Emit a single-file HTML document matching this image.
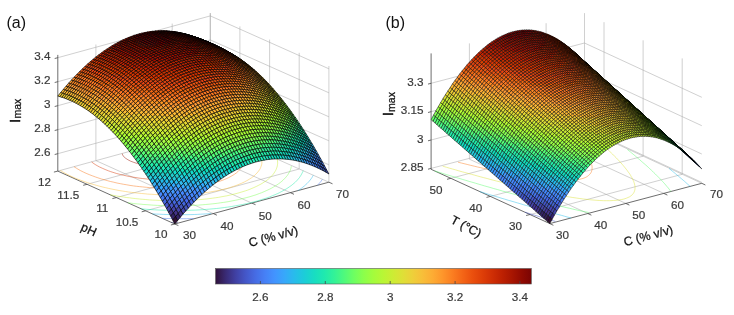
<!DOCTYPE html>
<html><head><meta charset="utf-8"><title>Figure</title><style>
html,body{margin:0;padding:0;background:#fff}
svg{display:block}
text{font-family:"Liberation Sans",sans-serif;fill:#3a3a3a}
.t{font-size:11.7px;stroke:#3a3a3a;stroke-width:.2}
.l{font-size:12.3px;fill:#111;stroke:#111;stroke-width:.25}
.p{font-size:16px;fill:#111}
.g{stroke:#a8a8a8;stroke-width:.55;fill:none}
.ax{stroke:#484848;stroke-width:.8;fill:none}
.c{fill:none;stroke-width:.6;opacity:.8}
.s path{stroke:#000;stroke-width:5;stroke-linejoin:round}
.sa path{stroke-width:6.4}
</style></head><body>
<svg width="734" height="315" viewBox="0 0 734 315">
<rect width="734" height="315" fill="#fff"/>
<path class="g" d="M213.3 213.6L95.9 160.6"/>
<path class="g" d="M95.9 160.6L95.9 44.5"/>
<path class="g" d="M251.8 203.1L134.1 150.2"/>
<path class="g" d="M134.1 150.2L134.1 34"/>
<path class="g" d="M290.4 192.6L172.2 139.8"/>
<path class="g" d="M172.2 139.8L172.2 23.6"/>
<path class="g" d="M328.9 182.2L210.3 129.3"/>
<path class="g" d="M210.3 129.3L210.3 13.1"/>
<path class="g" d="M328.9 182.2L328.9 66"/>
<path class="g" d="M145.6 210.8L299.2 169"/>
<path class="g" d="M299.2 169L299.2 52.8"/>
<path class="g" d="M116.3 197.6L269.6 155.8"/>
<path class="g" d="M269.6 155.8L269.6 39.6"/>
<path class="g" d="M87.1 184.3L239.9 142.5"/>
<path class="g" d="M239.9 142.5L239.9 26.4"/>
<path class="g" d="M57.8 171.1L210.3 129.3"/>
<path class="g" d="M210.3 129.3L210.3 13.1"/>
<path class="g" d="M57.8 153.7L210.3 111.9L328.9 164.8"/>
<path class="g" d="M57.8 129.7L210.3 87.9L328.9 140.8"/>
<path class="g" d="M57.8 105.7L210.3 63.9L328.9 116.8"/>
<path class="g" d="M57.8 81.7L210.3 39.9L328.9 92.8"/>
<path class="g" d="M57.8 57.7L210.3 15.9L328.9 68.8"/>
<path class="ax" d="M57.8 54.9L57.8 171.1L174.8 224L328.9 182.2"/>
<path class="ax" d="M174.8 224l3.6 1.6M213.3 213.6l3.6 1.6M251.9 203.1l3.6 1.6M290.4 192.7l3.6 1.6M328.9 182.2l3.6 1.6M174.8 224l-3.9 1M145.6 210.8l-3.9 1M116.3 197.6l-3.9 1M87.1 184.3l-3.9 1M57.8 171.1l-3.9 1M57.8 153.7l-3.1 0.8M57.8 129.7l-3.1 0.8M57.8 105.7l-3.1 0.8M57.8 81.7l-3.1 0.8M57.8 57.7l-3.1 0.8"/>
<path class="c" stroke="#3c3286" d="M171.1 222.3 175.4 222.4 178 222.4"/>
<path class="c" stroke="#4778f0" d="M317.4 185.3 318.6 184.1 319.8 182.7 320.8 181.6 321.4 180.7 322.4 179.3"/>
<path class="c" stroke="#4778f0" d="M162.2 218.3 166.6 218.5 168.9 218.5 173.2 218.6 176.2 218.7 179.5 218.7 183.6 218.7 186.6 218.7 189.7 218.6 193.6 218.6"/>
<path class="c" stroke="#28bceb" d="M298.1 190.5 299.9 189.4 301.5 188.2 302.9 187.1 304.3 186 305.7 184.7 307.1 183.5 308.3 182.2 309.2 181.2 310 180.2 311.1 178.8 311.9 177.7 312.5 176.6 313.3 175.2"/>
<path class="c" stroke="#28bceb" d="M152.4 213.9 156.7 214.1 159.4 214.2 163.4 214.4 166.1 214.5 170.4 214.6 172.8 214.7 176.8 214.7 180.4 214.7 183.1 214.7 187 214.7 190.9 214.6 194.3 214.5 197.4 214.4 200.5 214.2 204.1 214 207.7 213.8 211.2 213.5"/>
<path class="c" stroke="#22ebaa" d="M141.2 208.8 144.1 209.1 148.1 209.4 151.1 209.6 154.4 209.8 158.1 210 161.1 210.1 164.9 210.2 168 210.3 171.4 210.4 175.4 210.4 178 210.4 181.8 210.4 185.7 210.4 189 210.3 191.9 210.2 195.3 210.1 199 209.9 202.6 209.7 206.2 209.4 209.7 209.1 213.1 208.8 216.5 208.5 220.9 208 224.6 207.5 227.7 207.1 231.7 206.5 235.3 205.8 238.9 205.2 242.6 204.5 246.8 203.6 250.8 202.6 253.8 201.9 256.7 201.1 259.8 200.2 263.4 199 267 197.9 269.7 196.9 272.5 195.7 275 194.7 277.8 193.5 279.8 192.5 281.8 191.4 284.4 190 286.3 188.9 288 187.8 289.6 186.7 291.2 185.6 292.7 184.4 294.1 183.2 295.3 182.2 296.3 181.2 297.4 180 298.5 178.7 299.5 177.5 300.1 176.6 301 175.2 301.6 174.1 302.2 172.9 302.8 171.7 303.2 170.6"/>
<path class="c" stroke="#7dff56" d="M127.9 202.8 130.7 203.1 133.5 203.5 137.3 203.9 141.1 204.2 143.9 204.5 147.1 204.7 151.2 205 153.7 205.2 157.7 205.4 160.6 205.5 164.5 205.6 167.2 205.7 171.5 205.8 174.3 205.8 177.7 205.8 181.7 205.8 185.1 205.7 188 205.6 191.3 205.5 195.1 205.3 198.7 205.1 202.2 204.8 205.7 204.5 209.1 204.2 212.8 203.8 217.3 203.3 220.5 202.8 223.6 202.4 228.1 201.7 231 201.1 235.3 200.3 239.5 199.4 242.2 198.7 246.2 197.7 250 196.7 253.1 195.7 256 194.8 259.4 193.5 261.7 192.7 264.9 191.3 266.9 190.4 269.7 189.1 271.8 188 273.7 186.9 275.4 185.9 277.1 184.8 278.7 183.7 280.3 182.5 281.8 181.3 283.1 180.1 284.4 178.8 285.4 177.8 286.2 176.8 287.3 175.5 288.2 174.2 288.7 173.3 289.5 171.8 290 170.9 290.5 169.5 290.8 168.6 291.2 167 291.3 166.1"/>
<path class="c" stroke="#c8ef34" d="M110.2 194.8 113.7 195.4 116.8 196 120.1 196.5 123.4 197 126.4 197.5 129.3 197.8 132.1 198.2 135.7 198.6 139.5 199 142.8 199.3 145.4 199.5 149.4 199.9 152.7 200.1 155.8 200.2 159.6 200.4 162.5 200.5 166.3 200.6 169.7 200.7 172.6 200.7 176.7 200.7 180.3 200.6 183.2 200.6 186.4 200.4 190.1 200.3 193.8 200.1 197.3 199.8 200.8 199.5 204.2 199.2 208 198.8 212.3 198.2 215.4 197.8 218.7 197.3 223 196.5 226.8 195.8 230 195.1 234.1 194.1 238 193.1 241.7 192 245.3 190.9 247.7 190.1 251 188.8 253.1 187.9 256.2 186.5 258.2 185.5 260.1 184.5 262.1 183.4 264.1 182.1 265.9 181 267.4 179.9 268.7 178.8 269.8 177.8 271.1 176.5 272.4 175.2 273.4 174 274 173.1 274.9 171.7 275.6 170.6 276.1 169.5 276.6 168.2 277 167.1 277.3 165.9 277.5 164.5 277.6 163.6 277.6 162.3 277.5 160.9 277.4 159.8 277.2 158.8"/>
<path class="c" stroke="#f8be39" d="M60.3 170.4 62.7 171.9 65.2 173.3 67.9 174.7 69.7 175.6 72.6 177 75.6 178.3 77.7 179.1 80.9 180.3 84.3 181.6 87.4 182.6 90.1 183.5 93.8 184.6 96.3 185.3 99.2 186.1 103 187.1 105.7 187.7 108.6 188.4 112 189.1 115.6 189.8 119.1 190.5 122.3 191 125.5 191.5 128.6 192 131.6 192.4 134.4 192.7 137.8 193.1 141.6 193.5 145.1 193.8 147.6 194.1 151.6 194.3 154.8 194.5 158.1 194.7 161.6 194.8 165.1 194.9 168.1 194.9 172.2 195 175.4 194.9 178.2 194.9 182 194.7 185.7 194.6 189.3 194.3 192.9 194.1 196.3 193.8 199.6 193.4 203.3 193 207.6 192.4 210.7 191.9 215.1 191.1 218 190.6 222.1 189.6 226.1 188.7 229.9 187.6 233.5 186.4 236.1 185.5 239.1 184.3 241.5 183.3 244.3 182 246.2 181 248 180 249.8 178.9 251.5 177.8 253 176.7 254.5 175.5 255.8 174.2 257.1 172.9 258 171.8 258.7 170.9 259.7 169.5 260.3 168.4 260.8 167.2 261.2 166 261.6 164.8 261.8 163.7 261.9 162.3 261.9 161.2 261.9 160.2 261.7 158.8 261.4 157.5 260.9 156.2 260.4 155 259.8 153.8 259.1 152.5 258.3 151.3 257.4 150.1"/>
<path class="c" stroke="#f9781e" d="M74 166.7 76.4 168.2 78 169.2 80.5 170.6 83.3 172 86.1 173.3 89.2 174.6 92.3 175.8 95.6 177 97.9 177.8 101.5 179 104 179.7 107.9 180.8 110.5 181.5 113.3 182.1 116.9 183 120.5 183.7 123.6 184.3 126.8 184.8 130 185.4 133.4 185.9 136.6 186.3 139.4 186.6 142.4 186.9 146.3 187.3 149.7 187.6 152.4 187.8 156.7 188 159.1 188.1 163.4 188.2 166.2 188.2 169.7 188.2 173.6 188.2 177.3 188 180.5 187.9 183.9 187.7 187.6 187.4 191.6 187 194.8 186.6 198 186.2 202.5 185.4 205.4 184.9 209.6 184 213.6 183 217.4 181.9 221 180.8 224.2 179.6 226.5 178.6 228.5 177.7 231.2 176.2 233.1 175.1 234.8 174 236.4 172.9 237.8 171.7 238.8 170.7 239.7 169.7 240.8 168.4 241.7 167.1 242.1 166.2 242.8 164.6 243.1 163.8 243.4 162.4 243.6 161.3 243.6 160.2 243.5 158.8 243.2 157.5 242.9 156.3 242.4 155.2 241.8 154 241.1 152.7 240.2 151.4 239.2 150.1 238.2 149 237.1 147.9 235.5 146.5 233.9 145.2 232.6 144.1 230.4 142.6 228.5 141.4 226.3 140.2 223.7 138.8 221 137.4 218 136.1 215 134.8 211.7 133.6 208.7 132.5 206 131.6"/>
<path class="c" stroke="#d83706" d="M91.6 161.9 93 163 95.2 164.5 97.4 165.8 99.4 166.9 102.2 168.2 105.2 169.5 108.4 170.8 110.6 171.6 114.1 172.7 116.6 173.5 120.5 174.5 123.3 175.2 126.1 175.8 129.3 176.5 132.8 177.1 136 177.6 139 178.1 142.3 178.5 146.1 178.9 149.7 179.2 152.1 179.4 156.4 179.6 159 179.7 163.2 179.8 166.4 179.7 169.2 179.7 173 179.5 176.6 179.3 180 179 183.5 178.6 188 178 191 177.5 195.2 176.6 199.2 175.6 202.8 174.4 206.2 173.2 208.3 172.3 210.3 171.3 212.6 170 214.3 168.8 215.7 167.8 216.8 166.8 217.9 165.5 218.9 164.1 219.4 163.2 220 161.8 220.2 160.9 220.4 159.4 220.4 158.2 220.2 157.2 219.9 156 219.4 154.8 218.7 153.5 217.9 152.3 216.9 151.1 215.4 149.5 214.2 148.4 212.9 147.4 210.7 145.8 208.6 144.5 206.6 143.4 203.9 142 201 140.7 197.9 139.5 195.2 138.5 192.2 137.5 188.5 136.3"/>
<path class="c" stroke="#980e01" d="M122.3 153.6 122.6 154.9 123.4 156.1 124.4 157.3 125.7 158.3 128 159.8 130.7 161.2 133.9 162.4 137.6 163.6 140.4 164.2 143.4 164.8 146.7 165.3 150.4 165.7 153.2 165.9 157.1 166 159.7 166 163.3 165.8 167 165.5 171.1 164.7 175 163.7 178.1 162.5 180 161.3 181.4 160.1 182.2 159.2 182.8 157.9 183 156.9 182.8 155.5 182.2 154.3 181.3 153.1 180.2 152 178 150.5 175.4 149.1 172.3 147.8 168.8 146.6 166.2 145.9 162.9 145.2 159.6 144.7 156.6 144.3"/>
<g class="s sa" transform="scale(.1)"><path fill="#f82" d="M2112 448l28 16-21-6-27-16z"/><path fill="#f72" d="M2085 433l27 15-20-6-27-15z"/><path fill="#f72" d="M2058 419l27 14-20-6-27-14z"/><path fill="#e61" d="M2031 405l27 14-20-6-27-13z"/><path fill="#e51" d="M2004 393l27 12-20-5-27-13z"/><path fill="#e51" d="M1977 382l27 11-20-6-27-11z"/><path fill="#d41" d="M1950 371l27 11-20-6-27-11z"/><path fill="#d40" d="M1923 361l27 10-20-6-27-9z"/><path fill="#d30" d="M1896 353l27 8-20-5-27-9z"/><path fill="#c30" d="M1869 345l27 8-20-6-27-8z"/><path fill="#c20" d="M1842 338l27 7-20-6-27-7z"/><path fill="#b20" d="M1815 332l27 6-20-6-27-6z"/><path fill="#b20" d="M1788 326l27 6-20-6-27-5z"/><path fill="#b20" d="M1761 322l27 4-20-5-27-5z"/><path fill="#a10" d="M1734 318l27 4-20-6-28-3z"/><path fill="#a10" d="M1707 316l27 2-21-5-27-3z"/><path fill="#a10" d="M1680 314l27 2-21-6-27-2z"/><path fill="#910" d="M1653 313l27 1-21-6-27-1z"/><path fill="#910" d="M1626 313l27 0-21-6-27 0z"/><path fill="#910" d="M1599 314l27-1-21-6-27 1z"/><path fill="#910" d="M1572 316l27-2-21-6-27 2z"/><path fill="#810" d="M1545 318l27-2-21-6-27 3z"/><path fill="#810" d="M1518 322l27-4-21-5-27 3z"/><path fill="#810" d="M1491 326l27-4-21-6-27 5z"/><path fill="#800" d="M1464 332l27-6-21-5-27 5z"/><path fill="#800" d="M1437 338l27-6-21-6-27 6z"/><path fill="#800" d="M1410 345l27-7-21-6-27 7z"/><path fill="#800" d="M1383 353l27-8-21-6-27 8z"/><path fill="#800" d="M1356 362l27-9-21-6-27 9z"/><path fill="#810" d="M1328 371l28-9-21-6-27 10z"/><path fill="#810" d="M1301 382l27-11-20-5-27 10z"/><path fill="#910" d="M1274 394l27-12-20-6-27 12z"/><path fill="#910" d="M1247 406l27-12-20-6-27 12z"/><path fill="#910" d="M1220 419l27-13-20-6-27 13z"/><path fill="#910" d="M1193 433l27-14-20-6-27 14z"/><path fill="#910" d="M1166 448l27-15-20-6-27 15z"/><path fill="#a10" d="M1139 464l27-16-20-6-27 16z"/><path fill="#a10" d="M1112 481l27-17-20-6-27 17z"/><path fill="#a20" d="M1085 498l27-17-20-6-27 18z"/><path fill="#b20" d="M1058 517l27-19-20-5-27 18z"/><path fill="#b20" d="M1031 536l27-19-20-6-27 20z"/><path fill="#c20" d="M1004 557l27-21-20-5-27 20z"/><path fill="#c30" d="M977 578l27-21-20-6-28 21z"/><path fill="#c30" d="M950 600l27-22-21-6-27 22z"/><path fill="#d30" d="M923 623l27-23-21-6-27 23z"/><path fill="#d40" d="M896 647l27-24-21-6-27 24z"/><path fill="#d41" d="M869 671l27-24-21-6-27 25z"/><path fill="#e51" d="M842 697l27-26-21-5-27 25z"/><path fill="#e51" d="M815 723l27-26-21-6-27 27z"/><path fill="#e61" d="M788 751l27-28-21-5-27 27z"/><path fill="#f72" d="M761 779l27-28-21-6-27 28z"/><path fill="#f82" d="M734 808l27-29-21-6-27 29z"/><path fill="#f92" d="M707 838l27-30-21-6-27 30z"/><path fill="#f93" d="M680 869l27-31-21-6-27 31z"/><path fill="#fa3" d="M653 901l27-32-21-6-27 32z"/><path fill="#fb3" d="M626 933l27-32-21-6-27 32z"/><path fill="#ec3" d="M599 967l27-34-21-6-27 34z"/><path fill="#f82" d="M2133 454l27 16-20-6-28-16z"/><path fill="#f72" d="M2106 439l27 15-21-6-27-15z"/><path fill="#f72" d="M2079 425l27 14-21-6-27-14z"/><path fill="#e61" d="M2052 412l27 13-21-6-27-14z"/><path fill="#e51" d="M2025 400l27 12-21-7-27-12z"/><path fill="#e41" d="M1998 388l27 12-21-7-27-11z"/><path fill="#d41" d="M1971 377l27 11-21-6-27-11z"/><path fill="#d30" d="M1944 368l27 9-21-6-27-10z"/><path fill="#d30" d="M1917 359l27 9-21-7-27-8z"/><path fill="#c30" d="M1890 351l27 8-21-6-27-8z"/><path fill="#c20" d="M1863 344l27 7-21-6-27-7z"/><path fill="#b20" d="M1836 338l27 6-21-6-27-6z"/><path fill="#b20" d="M1809 333l27 5-21-6-27-6z"/><path fill="#b20" d="M1782 328l27 5-21-7-27-4z"/><path fill="#a10" d="M1755 325l27 3-21-6-27-4z"/><path fill="#a10" d="M1727 322l28 3-21-7-27-2z"/><path fill="#a10" d="M1700 320l27 2-20-6-27-2z"/><path fill="#910" d="M1673 319l27 1-20-6-27-1z"/><path fill="#910" d="M1646 319l27 0-20-6-27 0z"/><path fill="#910" d="M1619 320l27-1-20-6-27 1z"/><path fill="#910" d="M1592 322l27-2-20-6-27 2z"/><path fill="#810" d="M1565 325l27-3-20-6-27 2z"/><path fill="#810" d="M1538 328l27-3-20-7-27 4z"/><path fill="#800" d="M1511 333l27-5-20-6-27 4z"/><path fill="#800" d="M1484 338l27-5-20-7-27 6z"/><path fill="#800" d="M1457 344l27-6-20-6-27 6z"/><path fill="#800" d="M1430 351l27-7-20-6-27 7z"/><path fill="#800" d="M1403 359l27-8-20-6-27 8z"/><path fill="#800" d="M1376 368l27-9-20-6-27 9z"/><path fill="#800" d="M1349 378l27-10-20-6-28 9z"/><path fill="#810" d="M1322 388l27-10-21-7-27 11z"/><path fill="#810" d="M1295 400l27-12-21-6-27 12z"/><path fill="#910" d="M1268 412l27-12-21-6-27 12z"/><path fill="#910" d="M1241 425l27-13-21-6-27 13z"/><path fill="#910" d="M1214 440l27-15-21-6-27 14z"/><path fill="#910" d="M1187 455l27-15-21-7-27 15z"/><path fill="#a10" d="M1160 470l27-15-21-7-27 16z"/><path fill="#a10" d="M1133 487l27-17-21-6-27 17z"/><path fill="#a20" d="M1106 505l27-18-21-6-27 17z"/><path fill="#b20" d="M1079 523l27-18-21-7-27 19z"/><path fill="#b20" d="M1052 543l27-20-21-6-27 19z"/><path fill="#c20" d="M1025 563l27-20-21-7-27 21z"/><path fill="#c30" d="M998 584l27-21-21-6-27 21z"/><path fill="#c30" d="M971 606l27-22-21-6-27 22z"/><path fill="#d30" d="M943 629l28-23-21-6-27 23z"/><path fill="#d40" d="M916 653l27-24-20-6-27 24z"/><path fill="#d41" d="M889 678l27-25-20-6-27 24z"/><path fill="#e51" d="M862 703l27-25-20-7-27 26z"/><path fill="#e51" d="M835 730l27-27-20-6-27 26z"/><path fill="#e61" d="M808 757l27-27-20-7-27 28z"/><path fill="#f72" d="M781 785l27-28-20-6-27 28z"/><path fill="#f82" d="M754 814l27-29-20-6-27 29z"/><path fill="#f82" d="M727 844l27-30-20-6-27 30z"/><path fill="#f93" d="M700 875l27-31-20-6-27 31z"/><path fill="#fa3" d="M673 907l27-32-20-6-27 32z"/><path fill="#fb3" d="M646 940l27-33-20-6-27 32z"/><path fill="#ec3" d="M619 973l27-33-20-7-27 34z"/><path fill="#f82" d="M2154 461l27 16-21-7-27-16z"/><path fill="#f72" d="M2127 446l27 15-21-7-27-15z"/><path fill="#e61" d="M2099 432l28 14-21-7-27-14z"/><path fill="#e61" d="M2072 419l27 13-20-7-27-13z"/><path fill="#e51" d="M2045 406l27 13-20-7-27-12z"/><path fill="#e41" d="M2018 395l27 11-20-6-27-12z"/><path fill="#d41" d="M1991 384l27 11-20-7-27-11z"/><path fill="#d30" d="M1964 375l27 9-20-7-27-9z"/><path fill="#c30" d="M1937 366l27 9-20-7-27-9z"/><path fill="#c30" d="M1910 358l27 8-20-7-27-8z"/><path fill="#c20" d="M1883 351l27 7-20-7-27-7z"/><path fill="#b20" d="M1856 345l27 6-20-7-27-6z"/><path fill="#b20" d="M1829 340l27 5-20-7-27-5z"/><path fill="#b20" d="M1802 335l27 5-20-7-27-5z"/><path fill="#a10" d="M1775 332l27 3-20-7-27-3z"/><path fill="#a10" d="M1748 329l27 3-20-7-28-3z"/><path fill="#910" d="M1721 327l27 2-21-7-27-2z"/><path fill="#910" d="M1694 326l27 1-21-7-27-1z"/><path fill="#910" d="M1667 326l27 0-21-7-27 0z"/><path fill="#910" d="M1640 327l27-1-21-7-27 1z"/><path fill="#810" d="M1613 329l27-2-21-7-27 2z"/><path fill="#810" d="M1586 332l27-3-21-7-27 3z"/><path fill="#800" d="M1559 335l27-3-21-7-27 3z"/><path fill="#800" d="M1532 340l27-5-21-7-27 5z"/><path fill="#800" d="M1505 345l27-5-21-7-27 5z"/><path fill="#800" d="M1478 351l27-6-21-7-27 6z"/><path fill="#800" d="M1451 358l27-7-21-7-27 7z"/><path fill="#800" d="M1424 366l27-8-21-7-27 8z"/><path fill="#800" d="M1397 375l27-9-21-7-27 9z"/><path fill="#800" d="M1370 385l27-10-21-7-27 10z"/><path fill="#810" d="M1342 395l28-10-21-7-27 10z"/><path fill="#810" d="M1315 407l27-12-20-7-27 12z"/><path fill="#910" d="M1288 419l27-12-20-7-27 12z"/><path fill="#910" d="M1261 432l27-13-20-7-27 13z"/><path fill="#910" d="M1234 446l27-14-20-7-27 15z"/><path fill="#910" d="M1207 461l27-15-20-6-27 15z"/><path fill="#a10" d="M1180 477l27-16-20-6-27 15z"/><path fill="#a10" d="M1153 494l27-17-20-7-27 17z"/><path fill="#a10" d="M1126 512l27-18-20-7-27 18z"/><path fill="#b20" d="M1099 530l27-18-20-7-27 18z"/><path fill="#b20" d="M1072 550l27-20-20-7-27 20z"/><path fill="#b20" d="M1045 570l27-20-20-7-27 20z"/><path fill="#c20" d="M1018 591l27-21-20-7-27 21z"/><path fill="#c30" d="M991 613l27-22-20-7-27 22z"/><path fill="#d30" d="M964 636l27-23-20-7-28 23z"/><path fill="#d40" d="M937 660l27-24-21-7-27 24z"/><path fill="#d41" d="M910 685l27-25-21-7-27 25z"/><path fill="#e51" d="M883 710l27-25-21-7-27 25z"/><path fill="#e51" d="M856 737l27-27-21-7-27 27z"/><path fill="#e61" d="M829 764l27-27-21-7-27 27z"/><path fill="#f72" d="M802 792l27-28-21-7-27 28z"/><path fill="#f82" d="M775 821l27-29-21-7-27 29z"/><path fill="#f82" d="M748 851l27-30-21-7-27 30z"/><path fill="#f93" d="M721 882l27-31-21-7-27 31z"/><path fill="#fa3" d="M694 914l27-32-21-7-27 32z"/><path fill="#fb3" d="M667 946l27-32-21-7-27 33z"/><path fill="#ec3" d="M640 980l27-34-21-6-27 33z"/><path fill="#f82" d="M2174 469l27 15-20-7-27-16z"/><path fill="#f72" d="M2147 454l27 15-20-8-27-15z"/><path fill="#e61" d="M2120 440l27 14-20-8-28-14z"/><path fill="#e51" d="M2093 426l27 14-21-8-27-13z"/><path fill="#e51" d="M2066 414l27 12-21-7-27-13z"/><path fill="#e41" d="M2039 403l27 11-21-8-27-11z"/><path fill="#d41" d="M2012 392l27 11-21-8-27-11z"/><path fill="#d30" d="M1985 382l27 10-21-8-27-9z"/><path fill="#c30" d="M1958 374l27 8-21-7-27-9z"/><path fill="#c30" d="M1931 366l27 8-21-8-27-8z"/><path fill="#c20" d="M1904 359l27 7-21-8-27-7z"/><path fill="#b20" d="M1877 352l27 7-21-8-27-6z"/><path fill="#b20" d="M1850 347l27 5-21-7-27-5z"/><path fill="#a20" d="M1823 343l27 4-21-7-27-5z"/><path fill="#a10" d="M1796 339l27 4-21-8-27-3z"/><path fill="#a10" d="M1769 337l27 2-21-7-27-3z"/><path fill="#910" d="M1742 335l27 2-21-8-27-2z"/><path fill="#910" d="M1714 334l28 1-21-8-27-1z"/><path fill="#910" d="M1687 334l27 0-20-8-27 0z"/><path fill="#910" d="M1660 335l27-1-20-8-27 1z"/><path fill="#810" d="M1633 337l27-2-20-8-27 2z"/><path fill="#810" d="M1606 339l27-2-20-8-27 3z"/><path fill="#800" d="M1579 343l27-4-20-7-27 3z"/><path fill="#800" d="M1552 347l27-4-20-8-27 5z"/><path fill="#800" d="M1525 353l27-6-20-7-27 5z"/><path fill="#800" d="M1498 359l27-6-20-8-27 6z"/><path fill="#800" d="M1471 366l27-7-20-8-27 7z"/><path fill="#800" d="M1444 374l27-8-20-8-27 8z"/><path fill="#800" d="M1417 383l27-9-20-8-27 9z"/><path fill="#800" d="M1390 392l27-9-20-8-27 10z"/><path fill="#800" d="M1363 403l27-11-20-7-28 10z"/><path fill="#810" d="M1336 414l27-11-21-8-27 12z"/><path fill="#810" d="M1309 427l27-13-21-7-27 12z"/><path fill="#910" d="M1282 440l27-13-21-8-27 13z"/><path fill="#910" d="M1255 454l27-14-21-8-27 14z"/><path fill="#910" d="M1228 469l27-15-21-8-27 15z"/><path fill="#910" d="M1201 485l27-16-21-8-27 16z"/><path fill="#a10" d="M1174 502l27-17-21-8-27 17z"/><path fill="#a10" d="M1147 519l27-17-21-8-27 18z"/><path fill="#b20" d="M1120 538l27-19-21-7-27 18z"/><path fill="#b20" d="M1093 557l27-19-21-8-27 20z"/><path fill="#b20" d="M1066 577l27-20-21-7-27 20z"/><path fill="#c20" d="M1039 599l27-22-21-7-27 21z"/><path fill="#c30" d="M1012 621l27-22-21-8-27 22z"/><path fill="#d30" d="M985 644l27-23-21-8-27 23z"/><path fill="#d40" d="M957 667l28-23-21-8-27 24z"/><path fill="#d41" d="M930 692l27-25-20-7-27 25z"/><path fill="#e51" d="M903 718l27-26-20-7-27 25z"/><path fill="#e51" d="M876 744l27-26-20-8-27 27z"/><path fill="#e61" d="M849 771l27-27-20-7-27 27z"/><path fill="#f72" d="M822 800l27-29-20-7-27 28z"/><path fill="#f72" d="M795 829l27-29-20-8-27 29z"/><path fill="#f82" d="M768 859l27-30-20-8-27 30z"/><path fill="#f93" d="M741 890l27-31-20-8-27 31z"/><path fill="#fa3" d="M714 921l27-31-20-8-27 32z"/><path fill="#fb3" d="M687 954l27-33-20-7-27 32z"/><path fill="#ec3" d="M660 987l27-33-20-8-27 34z"/><path fill="#f82" d="M2195 477l27 16-21-9-27-15z"/><path fill="#f72" d="M2168 462l27 15-21-8-27-15z"/><path fill="#e61" d="M2141 448l27 14-21-8-27-14z"/><path fill="#e51" d="M2113 434l28 14-21-8-27-14z"/><path fill="#e51" d="M2086 422l27 12-20-8-27-12z"/><path fill="#e41" d="M2059 411l27 11-20-8-27-11z"/><path fill="#d41" d="M2032 400l27 11-20-8-27-11z"/><path fill="#d30" d="M2005 390l27 10-20-8-27-10z"/><path fill="#c30" d="M1978 382l27 8-20-8-27-8z"/><path fill="#c30" d="M1951 374l27 8-20-8-27-8z"/><path fill="#c20" d="M1924 367l27 7-20-8-27-7z"/><path fill="#b20" d="M1897 361l27 6-20-8-27-7z"/><path fill="#b20" d="M1870 355l27 6-20-9-27-5z"/><path fill="#a20" d="M1843 351l27 4-20-8-27-4z"/><path fill="#a10" d="M1816 347l27 4-20-8-27-4z"/><path fill="#a10" d="M1789 345l27 2-20-8-27-2z"/><path fill="#910" d="M1762 343l27 2-20-8-27-2z"/><path fill="#910" d="M1735 342l27 1-20-8-28-1z"/><path fill="#910" d="M1708 342l27 0-21-8-27 0z"/><path fill="#910" d="M1681 343l27-1-21-8-27 1z"/><path fill="#810" d="M1654 345l27-2-21-8-27 2z"/><path fill="#800" d="M1627 347l27-2-21-8-27 2z"/><path fill="#800" d="M1600 351l27-4-21-8-27 4z"/><path fill="#800" d="M1573 355l27-4-21-8-27 4z"/><path fill="#800" d="M1546 361l27-6-21-8-27 6z"/><path fill="#800" d="M1519 367l27-6-21-8-27 6z"/><path fill="#800" d="M1492 374l27-7-21-8-27 7z"/><path fill="#800" d="M1465 382l27-8-21-8-27 8z"/><path fill="#800" d="M1438 391l27-9-21-8-27 9z"/><path fill="#800" d="M1411 400l27-9-21-8-27 9z"/><path fill="#800" d="M1384 411l27-11-21-8-27 11z"/><path fill="#810" d="M1357 422l27-11-21-8-27 11z"/><path fill="#810" d="M1329 435l28-13-21-8-27 13z"/><path fill="#910" d="M1302 448l27-13-20-8-27 13z"/><path fill="#910" d="M1275 462l27-14-20-8-27 14z"/><path fill="#910" d="M1248 477l27-15-20-8-27 15z"/><path fill="#910" d="M1221 493l27-16-20-8-27 16z"/><path fill="#a10" d="M1194 510l27-17-20-8-27 17z"/><path fill="#a10" d="M1167 527l27-17-20-8-27 17z"/><path fill="#b20" d="M1140 546l27-19-20-8-27 19z"/><path fill="#b20" d="M1113 565l27-19-20-8-27 19z"/><path fill="#b20" d="M1086 586l27-21-20-8-27 20z"/><path fill="#c20" d="M1059 607l27-21-20-9-27 22z"/><path fill="#c30" d="M1032 629l27-22-20-8-27 22z"/><path fill="#d30" d="M1005 652l27-23-20-8-27 23z"/><path fill="#d40" d="M978 675l27-23-20-8-28 23z"/><path fill="#d41" d="M951 700l27-25-21-8-27 25z"/><path fill="#e41" d="M924 726l27-26-21-8-27 26z"/><path fill="#e51" d="M897 752l27-26-21-8-27 26z"/><path fill="#e61" d="M870 780l27-28-21-8-27 27z"/><path fill="#f72" d="M843 808l27-28-21-9-27 29z"/><path fill="#f72" d="M816 837l27-29-21-8-27 29z"/><path fill="#f82" d="M789 867l27-30-21-8-27 30z"/><path fill="#f93" d="M762 898l27-31-21-8-27 31z"/><path fill="#fa3" d="M735 929l27-31-21-8-27 31z"/><path fill="#fb3" d="M708 962l27-33-21-8-27 33z"/><path fill="#ec3" d="M681 996l27-34-21-8-27 33z"/><path fill="#f82" d="M2215 486l27 15-20-8-27-16z"/><path fill="#f72" d="M2188 471l27 15-20-9-27-15z"/><path fill="#e61" d="M2161 456l27 15-20-9-27-14z"/><path fill="#e51" d="M2134 443l27 13-20-8-28-14z"/><path fill="#e51" d="M2107 431l27 12-21-9-27-12z"/><path fill="#e41" d="M2080 419l27 12-21-9-27-11z"/><path fill="#d41" d="M2053 409l27 10-21-8-27-11z"/><path fill="#d30" d="M2026 399l27 10-21-9-27-10z"/><path fill="#c30" d="M1999 390l27 9-21-9-27-8z"/><path fill="#c30" d="M1972 382l27 8-21-8-27-8z"/><path fill="#c20" d="M1945 375l27 7-21-8-27-7z"/><path fill="#b20" d="M1918 369l27 6-21-8-27-6z"/><path fill="#b20" d="M1891 364l27 5-21-8-27-6z"/><path fill="#a20" d="M1864 360l27 4-21-9-27-4z"/><path fill="#a10" d="M1837 356l27 4-21-9-27-4z"/><path fill="#a10" d="M1810 353l27 3-21-9-27-2z"/><path fill="#910" d="M1783 352l27 1-21-8-27-2z"/><path fill="#910" d="M1756 351l27 1-21-9-27-1z"/><path fill="#910" d="M1728 351l28 0-21-9-27 0z"/><path fill="#910" d="M1701 352l27-1-20-9-27 1z"/><path fill="#810" d="M1674 354l27-2-20-9-27 2z"/><path fill="#800" d="M1647 356l27-2-20-9-27 2z"/><path fill="#800" d="M1620 360l27-4-20-9-27 4z"/><path fill="#800" d="M1593 364l27-4-20-9-27 4z"/><path fill="#800" d="M1566 369l27-5-20-9-27 6z"/><path fill="#800" d="M1539 376l27-7-20-8-27 6z"/><path fill="#800" d="M1512 383l27-7-20-9-27 7z"/><path fill="#800" d="M1485 391l27-8-20-9-27 8z"/><path fill="#800" d="M1458 399l27-8-20-9-27 9z"/><path fill="#800" d="M1431 409l27-10-20-8-27 9z"/><path fill="#800" d="M1404 420l27-11-20-9-27 11z"/><path fill="#810" d="M1377 431l27-11-20-9-27 11z"/><path fill="#810" d="M1350 444l27-13-20-9-28 13z"/><path fill="#910" d="M1323 457l27-13-21-9-27 13z"/><path fill="#910" d="M1296 471l27-14-21-9-27 14z"/><path fill="#910" d="M1269 486l27-15-21-9-27 15z"/><path fill="#910" d="M1242 502l27-16-21-9-27 16z"/><path fill="#a10" d="M1215 518l27-16-21-9-27 17z"/><path fill="#a10" d="M1188 536l27-18-21-8-27 17z"/><path fill="#b20" d="M1161 555l27-19-21-9-27 19z"/><path fill="#b20" d="M1134 574l27-19-21-9-27 19z"/><path fill="#b20" d="M1107 594l27-20-21-9-27 21z"/><path fill="#c20" d="M1080 615l27-21-21-8-27 21z"/><path fill="#c30" d="M1053 637l27-22-21-8-27 22z"/><path fill="#d30" d="M1026 660l27-23-21-8-27 23z"/><path fill="#d30" d="M999 684l27-24-21-8-27 23z"/><path fill="#d41" d="M972 709l27-25-21-9-27 25z"/><path fill="#e41" d="M944 734l28-25-21-9-27 26z"/><path fill="#e51" d="M917 761l27-27-20-8-27 26z"/><path fill="#e61" d="M890 788l27-27-20-9-27 28z"/><path fill="#f72" d="M863 816l27-28-20-8-27 28z"/><path fill="#f72" d="M836 846l27-30-20-8-27 29z"/><path fill="#f82" d="M809 876l27-30-20-9-27 30z"/><path fill="#f93" d="M782 906l27-30-20-9-27 31z"/><path fill="#fa3" d="M755 938l27-32-20-8-27 31z"/><path fill="#fb3" d="M728 971l27-33-20-9-27 33z"/><path fill="#ec3" d="M701 1004l27-33-20-9-27 34z"/><path fill="#f82" d="M2236 495l27 16-21-10-27-15z"/><path fill="#f72" d="M2209 480l27 15-21-9-27-15z"/><path fill="#e61" d="M2182 466l27 14-21-9-27-15z"/><path fill="#e51" d="M2155 453l27 13-21-10-27-13z"/><path fill="#e51" d="M2128 440l27 13-21-10-27-12z"/><path fill="#e41" d="M2100 429l28 11-21-9-27-12z"/><path fill="#d41" d="M2073 418l27 11-20-10-27-10z"/><path fill="#d30" d="M2046 409l27 9-20-9-27-10z"/><path fill="#c30" d="M2019 400l27 9-20-10-27-9z"/><path fill="#c30" d="M1992 392l27 8-20-10-27-8z"/><path fill="#c20" d="M1965 385l27 7-20-10-27-7z"/><path fill="#b20" d="M1938 379l27 6-20-10-27-6z"/><path fill="#b20" d="M1911 373l27 6-20-10-27-5z"/><path fill="#a20" d="M1884 369l27 4-20-9-27-4z"/><path fill="#a10" d="M1857 365l27 4-20-9-27-4z"/><path fill="#a10" d="M1830 363l27 2-20-9-27-3z"/><path fill="#910" d="M1803 361l27 2-20-10-27-1z"/><path fill="#910" d="M1776 360l27 1-20-9-27-1z"/><path fill="#910" d="M1749 360l27 0-20-9-28 0z"/><path fill="#910" d="M1722 361l27-1-21-9-27 1z"/><path fill="#810" d="M1695 363l27-2-21-9-27 2z"/><path fill="#800" d="M1668 365l27-2-21-9-27 2z"/><path fill="#800" d="M1641 369l27-4-21-9-27 4z"/><path fill="#800" d="M1614 373l27-4-21-9-27 4z"/><path fill="#800" d="M1587 379l27-6-21-9-27 5z"/><path fill="#800" d="M1560 385l27-6-21-10-27 7z"/><path fill="#800" d="M1533 392l27-7-21-9-27 7z"/><path fill="#800" d="M1506 400l27-8-21-9-27 8z"/><path fill="#800" d="M1479 409l27-9-21-9-27 8z"/><path fill="#800" d="M1452 418l27-9-21-10-27 10z"/><path fill="#800" d="M1425 429l27-11-21-9-27 11z"/><path fill="#810" d="M1398 440l27-11-21-9-27 11z"/><path fill="#810" d="M1371 453l27-13-21-9-27 13z"/><path fill="#910" d="M1343 466l28-13-21-9-27 13z"/><path fill="#910" d="M1316 480l27-14-20-9-27 14z"/><path fill="#910" d="M1289 495l27-15-20-9-27 15z"/><path fill="#910" d="M1262 511l27-16-20-9-27 16z"/><path fill="#a10" d="M1235 528l27-17-20-9-27 16z"/><path fill="#a10" d="M1208 545l27-17-20-10-27 18z"/><path fill="#b20" d="M1181 564l27-19-20-9-27 19z"/><path fill="#b20" d="M1154 583l27-19-20-9-27 19z"/><path fill="#b20" d="M1127 604l27-21-20-9-27 20z"/><path fill="#c20" d="M1100 625l27-21-20-10-27 21z"/><path fill="#c30" d="M1073 647l27-22-20-10-27 22z"/><path fill="#d30" d="M1046 670l27-23-20-10-27 23z"/><path fill="#d30" d="M1019 694l27-24-20-10-27 24z"/><path fill="#d41" d="M992 718l27-24-20-10-27 25z"/><path fill="#e41" d="M965 744l27-26-20-9-28 25z"/><path fill="#e51" d="M938 770l27-26-21-10-27 27z"/><path fill="#e61" d="M911 798l27-28-21-9-27 27z"/><path fill="#f72" d="M884 826l27-28-21-10-27 28z"/><path fill="#f72" d="M857 855l27-29-21-10-27 30z"/><path fill="#f82" d="M830 885l27-30-21-9-27 30z"/><path fill="#f93" d="M803 916l27-31-21-9-27 30z"/><path fill="#fa3" d="M776 947l27-31-21-10-27 32z"/><path fill="#fb3" d="M749 980l27-33-21-9-27 33z"/><path fill="#ec3" d="M722 1013l27-33-21-9-27 33z"/><path fill="#f82" d="M2256 505l27 16-20-10-27-16z"/><path fill="#f72" d="M2229 490l27 15-20-10-27-15z"/><path fill="#e61" d="M2202 476l27 14-20-10-27-14z"/><path fill="#e51" d="M2175 463l27 13-20-10-27-13z"/><path fill="#e51" d="M2148 450l27 13-20-10-27-13z"/><path fill="#e41" d="M2121 439l27 11-20-10-28-11z"/><path fill="#d41" d="M2094 428l27 11-21-10-27-11z"/><path fill="#d30" d="M2067 419l27 9-21-10-27-9z"/><path fill="#c30" d="M2040 410l27 9-21-10-27-9z"/><path fill="#c30" d="M2013 402l27 8-21-10-27-8z"/><path fill="#c20" d="M1986 395l27 7-21-10-27-7z"/><path fill="#b20" d="M1959 389l27 6-21-10-27-6z"/><path fill="#b20" d="M1932 383l27 6-21-10-27-6z"/><path fill="#a20" d="M1905 379l27 4-21-10-27-4z"/><path fill="#a10" d="M1878 375l27 4-21-10-27-4z"/><path fill="#a10" d="M1851 373l27 2-21-10-27-2z"/><path fill="#910" d="M1824 371l27 2-21-10-27-2z"/><path fill="#910" d="M1797 370l27 1-21-10-27-1z"/><path fill="#910" d="M1770 370l27 0-21-10-27 0z"/><path fill="#910" d="M1743 371l27-1-21-10-27 1z"/><path fill="#810" d="M1715 373l28-2-21-10-27 2z"/><path fill="#800" d="M1688 375l27-2-20-10-27 2z"/><path fill="#800" d="M1661 379l27-4-20-10-27 4z"/><path fill="#800" d="M1634 383l27-4-20-10-27 4z"/><path fill="#800" d="M1607 389l27-6-20-10-27 6z"/><path fill="#800" d="M1580 395l27-6-20-10-27 6z"/><path fill="#800" d="M1553 402l27-7-20-10-27 7z"/><path fill="#800" d="M1526 410l27-8-20-10-27 8z"/><path fill="#800" d="M1499 419l27-9-20-10-27 9z"/><path fill="#800" d="M1472 428l27-9-20-10-27 9z"/><path fill="#800" d="M1445 439l27-11-20-10-27 11z"/><path fill="#810" d="M1418 450l27-11-20-10-27 11z"/><path fill="#810" d="M1391 463l27-13-20-10-27 13z"/><path fill="#910" d="M1364 476l27-13-20-10-28 13z"/><path fill="#910" d="M1337 490l27-14-21-10-27 14z"/><path fill="#910" d="M1310 505l27-15-21-10-27 15z"/><path fill="#910" d="M1283 521l27-16-21-10-27 16z"/><path fill="#a10" d="M1256 538l27-17-21-10-27 17z"/><path fill="#a10" d="M1229 555l27-17-21-10-27 17z"/><path fill="#b20" d="M1202 574l27-19-21-10-27 19z"/><path fill="#b20" d="M1175 593l27-19-21-10-27 19z"/><path fill="#b20" d="M1148 613l27-20-21-10-27 21z"/><path fill="#c20" d="M1121 635l27-22-21-9-27 21z"/><path fill="#c30" d="M1094 657l27-22-21-10-27 22z"/><path fill="#d30" d="M1067 680l27-23-21-10-27 23z"/><path fill="#d40" d="M1040 703l27-23-21-10-27 24z"/><path fill="#d41" d="M1013 728l27-25-21-9-27 24z"/><path fill="#e41" d="M986 754l27-26-21-10-27 26z"/><path fill="#e51" d="M958 780l28-26-21-10-27 26z"/><path fill="#e61" d="M931 807l27-27-20-10-27 28z"/><path fill="#f72" d="M904 836l27-29-20-9-27 28z"/><path fill="#f72" d="M877 865l27-29-20-10-27 29z"/><path fill="#f82" d="M850 895l27-30-20-10-27 30z"/><path fill="#f93" d="M823 926l27-31-20-10-27 31z"/><path fill="#fa3" d="M796 957l27-31-20-10-27 31z"/><path fill="#fb3" d="M769 990l27-33-20-10-27 33z"/><path fill="#ec3" d="M742 1023l27-33-20-10-27 33z"/><path fill="#f82" d="M2277 515l27 16-21-10-27-16z"/><path fill="#f72" d="M2250 500l27 15-21-10-27-15z"/><path fill="#e61" d="M2223 486l27 14-21-10-27-14z"/><path fill="#e51" d="M2196 473l27 13-21-10-27-13z"/><path fill="#e51" d="M2169 461l27 12-21-10-27-13z"/><path fill="#e41" d="M2142 449l27 12-21-11-27-11z"/><path fill="#d41" d="M2114 439l28 10-21-10-27-11z"/><path fill="#d30" d="M2087 429l27 10-20-11-27-9z"/><path fill="#c30" d="M2060 420l27 9-20-10-27-9z"/><path fill="#c30" d="M2033 412l27 8-20-10-27-8z"/><path fill="#c20" d="M2006 405l27 7-20-10-27-7z"/><path fill="#b20" d="M1979 399l27 6-20-10-27-6z"/><path fill="#b20" d="M1952 394l27 5-20-10-27-6z"/><path fill="#a20" d="M1925 389l27 5-20-11-27-4z"/><path fill="#a10" d="M1898 386l27 3-20-10-27-4z"/><path fill="#a10" d="M1871 383l27 3-20-11-27-2z"/><path fill="#910" d="M1844 382l27 1-20-10-27-2z"/><path fill="#910" d="M1817 381l27 1-20-11-27-1z"/><path fill="#910" d="M1790 381l27 0-20-11-27 0z"/><path fill="#910" d="M1763 382l27-1-20-11-27 1z"/><path fill="#810" d="M1736 383l27-1-20-11-28 2z"/><path fill="#810" d="M1709 386l27-3-21-10-27 2z"/><path fill="#800" d="M1682 389l27-3-21-11-27 4z"/><path fill="#800" d="M1655 394l27-5-21-10-27 4z"/><path fill="#800" d="M1628 399l27-5-21-11-27 6z"/><path fill="#800" d="M1601 405l27-6-21-10-27 6z"/><path fill="#800" d="M1574 412l27-7-21-10-27 7z"/><path fill="#800" d="M1547 420l27-8-21-10-27 8z"/><path fill="#800" d="M1520 429l27-9-21-10-27 9z"/><path fill="#800" d="M1493 439l27-10-21-10-27 9z"/><path fill="#800" d="M1466 449l27-10-21-11-27 11z"/><path fill="#810" d="M1439 461l27-12-21-10-27 11z"/><path fill="#810" d="M1412 473l27-12-21-11-27 13z"/><path fill="#910" d="M1385 486l27-13-21-10-27 13z"/><path fill="#910" d="M1358 501l27-15-21-10-27 14z"/><path fill="#910" d="M1330 516l28-15-21-11-27 15z"/><path fill="#910" d="M1303 531l27-15-20-11-27 16z"/><path fill="#a10" d="M1276 548l27-17-20-10-27 17z"/><path fill="#a10" d="M1249 566l27-18-20-10-27 17z"/><path fill="#b20" d="M1222 584l27-18-20-11-27 19z"/><path fill="#b20" d="M1195 604l27-20-20-10-27 19z"/><path fill="#b20" d="M1168 624l27-20-20-11-27 20z"/><path fill="#c20" d="M1141 645l27-21-20-11-27 22z"/><path fill="#c30" d="M1114 667l27-22-20-10-27 22z"/><path fill="#d30" d="M1087 690l27-23-20-10-27 23z"/><path fill="#d40" d="M1060 714l27-24-20-10-27 23z"/><path fill="#d41" d="M1033 739l27-25-20-11-27 25z"/><path fill="#e51" d="M1006 764l27-25-20-11-27 26z"/><path fill="#e51" d="M979 791l27-27-20-10-28 26z"/><path fill="#e61" d="M952 818l27-27-21-11-27 27z"/><path fill="#f72" d="M925 846l27-28-21-11-27 29z"/><path fill="#f72" d="M898 875l27-29-21-10-27 29z"/><path fill="#f82" d="M871 905l27-30-21-10-27 30z"/><path fill="#f93" d="M844 936l27-31-21-10-27 31z"/><path fill="#fa3" d="M817 968l27-32-21-10-27 31z"/><path fill="#fb3" d="M790 1000l27-32-21-11-27 33z"/><path fill="#ec3" d="M763 1034l27-34-21-10-27 33z"/><path fill="#f82" d="M2297 527l27 15-20-11-27-16z"/><path fill="#f72" d="M2270 512l27 15-20-12-27-15z"/><path fill="#e61" d="M2243 497l27 15-20-12-27-14z"/><path fill="#e61" d="M2216 484l27 13-20-11-27-13z"/><path fill="#e51" d="M2189 472l27 12-20-11-27-12z"/><path fill="#e41" d="M2162 460l27 12-20-11-27-12z"/><path fill="#d41" d="M2135 450l27 10-20-11-28-10z"/><path fill="#d30" d="M2108 440l27 10-21-11-27-10z"/><path fill="#c30" d="M2081 431l27 9-21-11-27-9z"/><path fill="#c30" d="M2054 423l27 8-21-11-27-8z"/><path fill="#c20" d="M2027 416l27 7-21-11-27-7z"/><path fill="#b20" d="M2000 410l27 6-21-11-27-6z"/><path fill="#b20" d="M1973 405l27 5-21-11-27-5z"/><path fill="#b20" d="M1946 401l27 4-21-11-27-5z"/><path fill="#a10" d="M1919 397l27 4-21-12-27-3z"/><path fill="#a10" d="M1892 394l27 3-21-11-27-3z"/><path fill="#910" d="M1865 393l27 1-21-11-27-1z"/><path fill="#910" d="M1838 392l27 1-21-11-27-1z"/><path fill="#910" d="M1811 392l27 0-21-11-27 0z"/><path fill="#910" d="M1784 393l27-1-21-11-27 1z"/><path fill="#810" d="M1757 394l27-1-21-11-27 1z"/><path fill="#810" d="M1729 397l28-3-21-11-27 3z"/><path fill="#800" d="M1702 401l27-4-20-11-27 3z"/><path fill="#800" d="M1675 405l27-4-20-12-27 5z"/><path fill="#800" d="M1648 410l27-5-20-11-27 5z"/><path fill="#800" d="M1621 416l27-6-20-11-27 6z"/><path fill="#800" d="M1594 424l27-8-20-11-27 7z"/><path fill="#800" d="M1567 431l27-7-20-12-27 8z"/><path fill="#800" d="M1540 440l27-9-20-11-27 9z"/><path fill="#800" d="M1513 450l27-10-20-11-27 10z"/><path fill="#810" d="M1486 461l27-11-20-11-27 10z"/><path fill="#810" d="M1459 472l27-11-20-12-27 12z"/><path fill="#910" d="M1432 484l27-12-20-11-27 12z"/><path fill="#910" d="M1405 498l27-14-20-11-27 13z"/><path fill="#910" d="M1378 512l27-14-20-12-27 15z"/><path fill="#910" d="M1351 527l27-15-20-11-28 15z"/><path fill="#a10" d="M1324 543l27-16-21-11-27 15z"/><path fill="#a10" d="M1297 559l27-16-21-12-27 17z"/><path fill="#a10" d="M1270 577l27-18-21-11-27 18z"/><path fill="#b20" d="M1243 595l27-18-21-11-27 18z"/><path fill="#b20" d="M1216 615l27-20-21-11-27 20z"/><path fill="#b20" d="M1189 635l27-20-21-11-27 20z"/><path fill="#c20" d="M1162 656l27-21-21-11-27 21z"/><path fill="#c30" d="M1135 678l27-22-21-11-27 22z"/><path fill="#d30" d="M1108 701l27-23-21-11-27 23z"/><path fill="#d40" d="M1081 725l27-24-21-11-27 24z"/><path fill="#d41" d="M1054 750l27-25-21-11-27 25z"/><path fill="#e51" d="M1027 775l27-25-21-11-27 25z"/><path fill="#e51" d="M1000 802l27-27-21-11-27 27z"/><path fill="#e61" d="M973 829l27-27-21-11-27 27z"/><path fill="#f72" d="M945 857l28-28-21-11-27 28z"/><path fill="#f82" d="M918 886l27-29-20-11-27 29z"/><path fill="#f82" d="M891 916l27-30-20-11-27 30z"/><path fill="#f93" d="M864 947l27-31-20-11-27 31z"/><path fill="#fa3" d="M837 979l27-32-20-11-27 32z"/><path fill="#fb3" d="M810 1011l27-32-20-11-27 32z"/><path fill="#ec3" d="M783 1045l27-34-20-11-27 34z"/><path fill="#f82" d="M2318 538l27 16-21-12-27-15z"/><path fill="#f72" d="M2291 523l27 15-21-11-27-15z"/><path fill="#f72" d="M2264 509l27 14-21-11-27-15z"/><path fill="#e61" d="M2237 496l27 13-21-12-27-13z"/><path fill="#e51" d="M2210 484l27 12-21-12-27-12z"/><path fill="#e41" d="M2183 472l27 12-21-12-27-12z"/><path fill="#d41" d="M2156 462l27 10-21-12-27-10z"/><path fill="#d30" d="M2129 452l27 10-21-12-27-10z"/><path fill="#d30" d="M2101 443l28 9-21-12-27-9z"/><path fill="#c30" d="M2074 435l27 8-20-12-27-8z"/><path fill="#c20" d="M2047 428l27 7-20-12-27-7z"/><path fill="#b20" d="M2020 422l27 6-20-12-27-6z"/><path fill="#b20" d="M1993 417l27 5-20-12-27-5z"/><path fill="#b20" d="M1966 412l27 5-20-12-27-4z"/><path fill="#a10" d="M1939 409l27 3-20-11-27-4z"/><path fill="#a10" d="M1912 406l27 3-20-12-27-3z"/><path fill="#a10" d="M1885 404l27 2-20-12-27-1z"/><path fill="#910" d="M1858 403l27 1-20-11-27-1z"/><path fill="#910" d="M1831 403l27 0-20-11-27 0z"/><path fill="#910" d="M1804 404l27-1-20-11-27 1z"/><path fill="#910" d="M1777 406l27-2-20-11-27 1z"/><path fill="#810" d="M1750 409l27-3-20-12-28 3z"/><path fill="#810" d="M1723 412l27-3-21-12-27 4z"/><path fill="#800" d="M1696 417l27-5-21-11-27 4z"/><path fill="#800" d="M1669 422l27-5-21-12-27 5z"/><path fill="#800" d="M1642 428l27-6-21-12-27 6z"/><path fill="#800" d="M1615 435l27-7-21-12-27 8z"/><path fill="#800" d="M1588 443l27-8-21-11-27 7z"/><path fill="#800" d="M1561 452l27-9-21-12-27 9z"/><path fill="#800" d="M1534 462l27-10-21-12-27 10z"/><path fill="#810" d="M1507 472l27-10-21-12-27 11z"/><path fill="#810" d="M1480 484l27-12-21-11-27 11z"/><path fill="#910" d="M1453 496l27-12-21-12-27 12z"/><path fill="#910" d="M1426 509l27-13-21-12-27 14z"/><path fill="#910" d="M1399 523l27-14-21-11-27 14z"/><path fill="#910" d="M1372 538l27-15-21-11-27 15z"/><path fill="#a10" d="M1344 554l28-16-21-11-27 16z"/><path fill="#a10" d="M1317 571l27-17-20-11-27 16z"/><path fill="#a20" d="M1290 589l27-18-20-12-27 18z"/><path fill="#b20" d="M1263 607l27-18-20-12-27 18z"/><path fill="#b20" d="M1236 627l27-20-20-12-27 20z"/><path fill="#c20" d="M1209 647l27-20-20-12-27 20z"/><path fill="#c30" d="M1182 668l27-21-20-12-27 21z"/><path fill="#c30" d="M1155 690l27-22-20-12-27 22z"/><path fill="#d30" d="M1128 713l27-23-20-12-27 23z"/><path fill="#d40" d="M1101 737l27-24-20-12-27 24z"/><path fill="#d41" d="M1074 761l27-24-20-12-27 25z"/><path fill="#e51" d="M1047 787l27-26-20-11-27 25z"/><path fill="#e51" d="M1020 813l27-26-20-12-27 27z"/><path fill="#e61" d="M993 841l27-28-20-11-27 27z"/><path fill="#f72" d="M966 869l27-28-20-12-28 28z"/><path fill="#f82" d="M939 898l27-29-21-12-27 29z"/><path fill="#f82" d="M912 928l27-30-21-12-27 30z"/><path fill="#f93" d="M885 959l27-31-21-12-27 31z"/><path fill="#fa3" d="M858 991l27-32-21-12-27 32z"/><path fill="#fb3" d="M831 1023l27-32-21-12-27 32z"/><path fill="#ec3" d="M804 1057l27-34-21-12-27 34z"/><path fill="#f82" d="M2338 551l27 15-20-12-27-16z"/><path fill="#f72" d="M2311 536l27 15-20-13-27-15z"/><path fill="#f72" d="M2284 522l27 14-20-13-27-14z"/><path fill="#e61" d="M2257 508l27 14-20-13-27-13z"/><path fill="#e51" d="M2230 496l27 12-20-12-27-12z"/><path fill="#e51" d="M2203 485l27 11-20-12-27-12z"/><path fill="#d41" d="M2176 474l27 11-20-13-27-10z"/><path fill="#d40" d="M2149 464l27 10-20-12-27-10z"/><path fill="#d30" d="M2122 455l27 9-20-12-28-9z"/><path fill="#c30" d="M2095 448l27 7-21-12-27-8z"/><path fill="#c20" d="M2068 440l27 8-21-13-27-7z"/><path fill="#b20" d="M2041 434l27 6-21-12-27-6z"/><path fill="#b20" d="M2014 429l27 5-21-12-27-5z"/><path fill="#b20" d="M1987 425l27 4-21-12-27-5z"/><path fill="#a20" d="M1960 421l27 4-21-13-27-3z"/><path fill="#a10" d="M1933 418l27 3-21-12-27-3z"/><path fill="#a10" d="M1906 417l27 1-21-12-27-2z"/><path fill="#910" d="M1879 416l27 1-21-13-27-1z"/><path fill="#910" d="M1852 416l27 0-21-13-27 0z"/><path fill="#910" d="M1825 417l27-1-21-13-27 1z"/><path fill="#910" d="M1798 418l27-1-21-13-27 2z"/><path fill="#810" d="M1771 421l27-3-21-12-27 3z"/><path fill="#810" d="M1744 425l27-4-21-12-27 3z"/><path fill="#810" d="M1716 429l28-4-21-13-27 5z"/><path fill="#800" d="M1689 434l27-5-20-12-27 5z"/><path fill="#800" d="M1662 441l27-7-20-12-27 6z"/><path fill="#800" d="M1635 448l27-7-20-13-27 7z"/><path fill="#800" d="M1608 455l27-7-20-13-27 8z"/><path fill="#810" d="M1581 464l27-9-20-12-27 9z"/><path fill="#810" d="M1554 474l27-10-20-12-27 10z"/><path fill="#810" d="M1527 485l27-11-20-12-27 10z"/><path fill="#910" d="M1500 496l27-11-20-13-27 12z"/><path fill="#910" d="M1473 508l27-12-20-12-27 12z"/><path fill="#910" d="M1446 522l27-14-20-12-27 13z"/><path fill="#910" d="M1419 536l27-14-20-13-27 14z"/><path fill="#910" d="M1392 551l27-15-20-13-27 15z"/><path fill="#a10" d="M1365 567l27-16-20-13-28 16z"/><path fill="#a10" d="M1338 583l27-16-21-13-27 17z"/><path fill="#a20" d="M1311 601l27-18-21-12-27 18z"/><path fill="#b20" d="M1284 619l27-18-21-12-27 18z"/><path fill="#b20" d="M1257 639l27-20-21-12-27 20z"/><path fill="#c20" d="M1230 659l27-20-21-12-27 20z"/><path fill="#c30" d="M1203 680l27-21-21-12-27 21z"/><path fill="#c30" d="M1176 702l27-22-21-12-27 22z"/><path fill="#d30" d="M1149 725l27-23-21-12-27 23z"/><path fill="#d40" d="M1122 749l27-24-21-12-27 24z"/><path fill="#d41" d="M1095 774l27-25-21-12-27 24z"/><path fill="#e51" d="M1068 799l27-25-21-13-27 26z"/><path fill="#e51" d="M1041 826l27-27-21-12-27 26z"/><path fill="#e61" d="M1014 853l27-27-21-13-27 28z"/><path fill="#f72" d="M987 881l27-28-21-12-27 28z"/><path fill="#f82" d="M959 910l28-29-21-12-27 29z"/><path fill="#f92" d="M932 940l27-30-20-12-27 30z"/><path fill="#f93" d="M905 971l27-31-20-12-27 31z"/><path fill="#fa3" d="M878 1003l27-32-20-12-27 32z"/><path fill="#fb3" d="M851 1035l27-32-20-12-27 32z"/><path fill="#ec3" d="M824 1069l27-34-20-12-27 34z"/><path fill="#f82" d="M2359 564l27 15-21-13-27-15z"/><path fill="#f82" d="M2332 549l27 15-21-13-27-15z"/><path fill="#f72" d="M2305 534l27 15-21-13-27-14z"/><path fill="#e61" d="M2278 521l27 13-21-12-27-14z"/><path fill="#e51" d="M2251 509l27 12-21-13-27-12z"/><path fill="#e51" d="M2224 497l27 12-21-13-27-11z"/><path fill="#d41" d="M2197 487l27 10-21-12-27-11z"/><path fill="#d40" d="M2170 477l27 10-21-13-27-10z"/><path fill="#d30" d="M2143 468l27 9-21-13-27-9z"/><path fill="#c30" d="M2115 460l28 8-21-13-27-7z"/><path fill="#c30" d="M2088 453l27 7-20-12-27-8z"/><path fill="#c20" d="M2061 447l27 6-20-13-27-6z"/><path fill="#b20" d="M2034 442l27 5-20-13-27-5z"/><path fill="#b20" d="M2007 438l27 4-20-13-27-4z"/><path fill="#a20" d="M1980 434l27 4-20-13-27-4z"/><path fill="#a10" d="M1953 431l27 3-20-13-27-3z"/><path fill="#a10" d="M1926 430l27 1-20-13-27-1z"/><path fill="#910" d="M1899 429l27 1-20-13-27-1z"/><path fill="#910" d="M1872 429l27 0-20-13-27 0z"/><path fill="#910" d="M1845 430l27-1-20-13-27 1z"/><path fill="#910" d="M1818 431l27-1-20-13-27 1z"/><path fill="#910" d="M1791 434l27-3-20-13-27 3z"/><path fill="#810" d="M1764 438l27-4-20-13-27 4z"/><path fill="#810" d="M1737 442l27-4-20-13-28 4z"/><path fill="#810" d="M1710 447l27-5-21-13-27 5z"/><path fill="#810" d="M1683 453l27-6-21-13-27 7z"/><path fill="#810" d="M1656 460l27-7-21-12-27 7z"/><path fill="#810" d="M1629 468l27-8-21-12-27 7z"/><path fill="#810" d="M1602 477l27-9-21-13-27 9z"/><path fill="#810" d="M1575 487l27-10-21-13-27 10z"/><path fill="#910" d="M1548 497l27-10-21-13-27 11z"/><path fill="#910" d="M1521 509l27-12-21-12-27 11z"/><path fill="#910" d="M1494 521l27-12-21-13-27 12z"/><path fill="#910" d="M1467 535l27-14-21-13-27 14z"/><path fill="#910" d="M1440 549l27-14-21-13-27 14z"/><path fill="#a10" d="M1413 564l27-15-21-13-27 15z"/><path fill="#a10" d="M1386 579l27-15-21-13-27 16z"/><path fill="#a10" d="M1359 596l27-17-21-12-27 16z"/><path fill="#b20" d="M1331 614l28-18-21-13-27 18z"/><path fill="#b20" d="M1304 632l27-18-20-13-27 18z"/><path fill="#b20" d="M1277 652l27-20-20-13-27 20z"/><path fill="#c20" d="M1250 672l27-20-20-13-27 20z"/><path fill="#c30" d="M1223 693l27-21-20-13-27 21z"/><path fill="#c30" d="M1196 715l27-22-20-13-27 22z"/><path fill="#d30" d="M1169 738l27-23-20-13-27 23z"/><path fill="#d41" d="M1142 762l27-24-20-13-27 24z"/><path fill="#e41" d="M1115 787l27-25-20-13-27 25z"/><path fill="#e51" d="M1088 812l27-25-20-13-27 25z"/><path fill="#e51" d="M1061 839l27-27-20-13-27 27z"/><path fill="#e61" d="M1034 866l27-27-20-13-27 27z"/><path fill="#f72" d="M1007 894l27-28-20-13-27 28z"/><path fill="#f82" d="M980 923l27-29-20-13-28 29z"/><path fill="#f93" d="M953 953l27-30-21-13-27 30z"/><path fill="#fa3" d="M926 984l27-31-21-13-27 31z"/><path fill="#fa3" d="M899 1016l27-32-21-13-27 32z"/><path fill="#fb3" d="M872 1048l27-32-21-13-27 32z"/><path fill="#ec3" d="M845 1082l27-34-21-13-27 34z"/><path fill="#f92" d="M2379 577l27 16-20-14-27-15z"/><path fill="#f82" d="M2352 562l27 15-20-13-27-15z"/><path fill="#f72" d="M2325 548l27 14-20-13-27-15z"/><path fill="#e61" d="M2298 535l27 13-20-14-27-13z"/><path fill="#e51" d="M2271 522l27 13-20-14-27-12z"/><path fill="#e51" d="M2244 511l27 11-20-13-27-12z"/><path fill="#e41" d="M2217 500l27 11-20-14-27-10z"/><path fill="#d41" d="M2190 491l27 9-20-13-27-10z"/><path fill="#d30" d="M2163 482l27 9-20-14-27-9z"/><path fill="#c30" d="M2136 474l27 8-20-14-28-8z"/><path fill="#c30" d="M2109 467l27 7-21-14-27-7z"/><path fill="#c20" d="M2082 461l27 6-21-14-27-6z"/><path fill="#b20" d="M2055 455l27 6-21-14-27-5z"/><path fill="#b20" d="M2028 451l27 4-21-13-27-4z"/><path fill="#b20" d="M2001 448l27 3-21-13-27-4z"/><path fill="#a10" d="M1974 445l27 3-21-14-27-3z"/><path fill="#a10" d="M1947 443l27 2-21-14-27-1z"/><path fill="#a10" d="M1920 442l27 1-21-13-27-1z"/><path fill="#910" d="M1893 442l27 0-21-13-27 0z"/><path fill="#910" d="M1866 443l27-1-21-13-27 1z"/><path fill="#910" d="M1839 445l27-2-21-13-27 1z"/><path fill="#910" d="M1812 448l27-3-21-14-27 3z"/><path fill="#910" d="M1785 451l27-3-21-14-27 4z"/><path fill="#910" d="M1758 455l27-4-21-13-27 4z"/><path fill="#810" d="M1730 461l28-6-21-13-27 5z"/><path fill="#810" d="M1703 467l27-6-20-14-27 6z"/><path fill="#810" d="M1676 474l27-7-20-14-27 7z"/><path fill="#810" d="M1649 482l27-8-20-14-27 8z"/><path fill="#810" d="M1622 491l27-9-20-14-27 9z"/><path fill="#910" d="M1595 500l27-9-20-14-27 10z"/><path fill="#910" d="M1568 511l27-11-20-13-27 10z"/><path fill="#910" d="M1541 522l27-11-20-14-27 12z"/><path fill="#910" d="M1514 535l27-13-20-13-27 12z"/><path fill="#910" d="M1487 548l27-13-20-14-27 14z"/><path fill="#910" d="M1460 562l27-14-20-13-27 14z"/><path fill="#a10" d="M1433 577l27-15-20-13-27 15z"/><path fill="#a10" d="M1406 593l27-16-20-13-27 15z"/><path fill="#a20" d="M1379 610l27-17-20-14-27 17z"/><path fill="#b20" d="M1352 627l27-17-20-14-28 18z"/><path fill="#b20" d="M1325 646l27-19-21-13-27 18z"/><path fill="#b20" d="M1298 665l27-19-21-14-27 20z"/><path fill="#c20" d="M1271 685l27-20-21-13-27 20z"/><path fill="#c30" d="M1244 707l27-22-21-13-27 21z"/><path fill="#d30" d="M1217 729l27-22-21-14-27 22z"/><path fill="#d40" d="M1190 752l27-23-21-14-27 23z"/><path fill="#d41" d="M1163 775l27-23-21-14-27 24z"/><path fill="#e41" d="M1136 800l27-25-21-13-27 25z"/><path fill="#e51" d="M1109 826l27-26-21-13-27 25z"/><path fill="#e61" d="M1082 852l27-26-21-14-27 27z"/><path fill="#e61" d="M1055 879l27-27-21-13-27 27z"/><path fill="#f72" d="M1028 908l27-29-21-13-27 28z"/><path fill="#f82" d="M1001 937l27-29-21-14-27 29z"/><path fill="#f93" d="M974 967l27-30-21-14-27 30z"/><path fill="#fa3" d="M946 997l28-30-21-14-27 31z"/><path fill="#fb3" d="M919 1029l27-32-20-13-27 32z"/><path fill="#fb3" d="M892 1062l27-33-20-13-27 32z"/><path fill="#ec3" d="M865 1095l27-33-20-14-27 34z"/><path fill="#f93" d="M2400 591l27 16-21-14-27-16z"/><path fill="#f82" d="M2373 576l27 15-21-14-27-15z"/><path fill="#f72" d="M2346 562l27 14-21-14-27-14z"/><path fill="#e61" d="M2319 549l27 13-21-14-27-13z"/><path fill="#e61" d="M2292 537l27 12-21-14-27-13z"/><path fill="#e51" d="M2265 525l27 12-21-15-27-11z"/><path fill="#e41" d="M2238 515l27 10-21-14-27-11z"/><path fill="#d41" d="M2211 505l27 10-21-15-27-9z"/><path fill="#d30" d="M2184 496l27 9-21-14-27-9z"/><path fill="#d30" d="M2157 488l27 8-21-14-27-8z"/><path fill="#c30" d="M2130 481l27 7-21-14-27-7z"/><path fill="#c20" d="M2102 475l28 6-21-14-27-6z"/><path fill="#b20" d="M2075 470l27 5-20-14-27-6z"/><path fill="#b20" d="M2048 465l27 5-20-15-27-4z"/><path fill="#b20" d="M2021 462l27 3-20-14-27-3z"/><path fill="#a20" d="M1994 459l27 3-20-14-27-3z"/><path fill="#a10" d="M1967 457l27 2-20-14-27-2z"/><path fill="#a10" d="M1940 456l27 1-20-14-27-1z"/><path fill="#a10" d="M1913 456l27 0-20-14-27 0z"/><path fill="#910" d="M1886 457l27-1-20-14-27 1z"/><path fill="#910" d="M1859 459l27-2-20-14-27 2z"/><path fill="#910" d="M1832 462l27-3-20-14-27 3z"/><path fill="#910" d="M1805 465l27-3-20-14-27 3z"/><path fill="#910" d="M1778 470l27-5-20-14-27 4z"/><path fill="#910" d="M1751 475l27-5-20-15-28 6z"/><path fill="#910" d="M1724 481l27-6-21-14-27 6z"/><path fill="#910" d="M1697 488l27-7-21-14-27 7z"/><path fill="#910" d="M1670 496l27-8-21-14-27 8z"/><path fill="#910" d="M1643 505l27-9-21-14-27 9z"/><path fill="#910" d="M1616 515l27-10-21-14-27 9z"/><path fill="#910" d="M1589 525l27-10-21-15-27 11z"/><path fill="#910" d="M1562 537l27-12-21-14-27 11z"/><path fill="#910" d="M1535 549l27-12-21-15-27 13z"/><path fill="#910" d="M1508 562l27-13-21-14-27 13z"/><path fill="#a10" d="M1481 576l27-14-21-14-27 14z"/><path fill="#a10" d="M1454 591l27-15-21-14-27 15z"/><path fill="#a10" d="M1427 607l27-16-21-14-27 16z"/><path fill="#b20" d="M1400 624l27-17-21-14-27 17z"/><path fill="#b20" d="M1373 641l27-17-21-14-27 17z"/><path fill="#b20" d="M1345 660l28-19-21-14-27 19z"/><path fill="#c20" d="M1318 679l27-19-20-14-27 19z"/><path fill="#c30" d="M1291 700l27-21-20-14-27 20z"/><path fill="#c30" d="M1264 721l27-21-20-15-27 22z"/><path fill="#d30" d="M1237 743l27-22-20-14-27 22z"/><path fill="#d40" d="M1210 766l27-23-20-14-27 23z"/><path fill="#d41" d="M1183 789l27-23-20-14-27 23z"/><path fill="#e51" d="M1156 814l27-25-20-14-27 25z"/><path fill="#e51" d="M1129 840l27-26-20-14-27 26z"/><path fill="#e61" d="M1102 866l27-26-20-14-27 26z"/><path fill="#f72" d="M1075 893l27-27-20-14-27 27z"/><path fill="#f72" d="M1048 922l27-29-20-14-27 29z"/><path fill="#f82" d="M1021 951l27-29-20-14-27 29z"/><path fill="#f93" d="M994 981l27-30-20-14-27 30z"/><path fill="#fa3" d="M967 1012l27-31-20-14-28 30z"/><path fill="#fb3" d="M940 1043l27-31-21-15-27 32z"/><path fill="#eb3" d="M913 1076l27-33-21-14-27 33z"/><path fill="#ec3" d="M886 1109l27-33-21-14-27 33z"/><path fill="#f93" d="M2420 606l27 16-20-15-27-16z"/><path fill="#f82" d="M2393 591l27 15-20-15-27-15z"/><path fill="#f72" d="M2366 577l27 14-20-15-27-14z"/><path fill="#f72" d="M2339 564l27 13-20-15-27-13z"/><path fill="#e61" d="M2312 551l27 13-20-15-27-12z"/><path fill="#e51" d="M2285 540l27 11-20-14-27-12z"/><path fill="#e51" d="M2258 529l27 11-20-15-27-10z"/><path fill="#d41" d="M2231 520l27 9-20-14-27-10z"/><path fill="#d40" d="M2204 511l27 9-20-15-27-9z"/><path fill="#d30" d="M2177 503l27 8-20-15-27-8z"/><path fill="#c30" d="M2150 496l27 7-20-15-27-7z"/><path fill="#c30" d="M2123 490l27 6-20-15-28-6z"/><path fill="#c20" d="M2096 484l27 6-21-15-27-5z"/><path fill="#b20" d="M2069 480l27 4-21-14-27-5z"/><path fill="#b20" d="M2042 476l27 4-21-15-27-3z"/><path fill="#b20" d="M2015 474l27 2-21-14-27-3z"/><path fill="#a10" d="M1988 472l27 2-21-15-27-2z"/><path fill="#a10" d="M1961 471l27 1-21-15-27-1z"/><path fill="#a10" d="M1934 471l27 0-21-15-27 0z"/><path fill="#a10" d="M1907 472l27-1-21-15-27 1z"/><path fill="#910" d="M1880 474l27-2-21-15-27 2z"/><path fill="#910" d="M1853 476l27-2-21-15-27 3z"/><path fill="#910" d="M1826 480l27-4-21-14-27 3z"/><path fill="#910" d="M1799 484l27-4-21-15-27 5z"/><path fill="#910" d="M1772 490l27-6-21-14-27 5z"/><path fill="#910" d="M1745 496l27-6-21-15-27 6z"/><path fill="#910" d="M1717 503l28-7-21-15-27 7z"/><path fill="#910" d="M1690 511l27-8-20-15-27 8z"/><path fill="#910" d="M1663 520l27-9-20-15-27 9z"/><path fill="#910" d="M1636 529l27-9-20-15-27 10z"/><path fill="#910" d="M1609 540l27-11-20-14-27 10z"/><path fill="#910" d="M1582 551l27-11-20-15-27 12z"/><path fill="#910" d="M1555 564l27-13-20-14-27 12z"/><path fill="#a10" d="M1528 577l27-13-20-15-27 13z"/><path fill="#a10" d="M1501 591l27-14-20-15-27 14z"/><path fill="#a10" d="M1474 606l27-15-20-15-27 15z"/><path fill="#a20" d="M1447 622l27-16-20-15-27 16z"/><path fill="#b20" d="M1420 638l27-16-20-15-27 17z"/><path fill="#b20" d="M1393 656l27-18-20-14-27 17z"/><path fill="#b20" d="M1366 675l27-19-20-15-28 19z"/><path fill="#c20" d="M1339 694l27-19-21-15-27 19z"/><path fill="#c30" d="M1312 714l27-20-21-15-27 21z"/><path fill="#c30" d="M1285 735l27-21-21-14-27 21z"/><path fill="#d30" d="M1258 757l27-22-21-14-27 22z"/><path fill="#d41" d="M1231 780l27-23-21-14-27 23z"/><path fill="#d41" d="M1204 804l27-24-21-14-27 23z"/><path fill="#e51" d="M1177 829l27-25-21-15-27 25z"/><path fill="#e51" d="M1150 854l27-25-21-15-27 26z"/><path fill="#e61" d="M1123 881l27-27-21-14-27 26z"/><path fill="#f72" d="M1096 908l27-27-21-15-27 27z"/><path fill="#f82" d="M1069 936l27-28-21-15-27 29z"/><path fill="#f82" d="M1042 965l27-29-21-14-27 29z"/><path fill="#f93" d="M1015 995l27-30-21-14-27 30z"/><path fill="#fa3" d="M988 1026l27-31-21-14-27 31z"/><path fill="#fb3" d="M960 1058l28-32-21-14-27 31z"/><path fill="#ec3" d="M933 1091l27-33-20-15-27 33z"/><path fill="#ec3" d="M906 1124l27-33-20-15-27 33z"/><path fill="#f93" d="M2441 621l27 16-21-15-27-16z"/><path fill="#f82" d="M2414 606l27 15-21-15-27-15z"/><path fill="#f82" d="M2387 592l27 14-21-15-27-14z"/><path fill="#f72" d="M2360 579l27 13-21-15-27-13z"/><path fill="#e61" d="M2333 567l27 12-21-15-27-13z"/><path fill="#e51" d="M2306 555l27 12-21-16-27-11z"/><path fill="#e51" d="M2279 545l27 10-21-15-27-11z"/><path fill="#d41" d="M2252 535l27 10-21-16-27-9z"/><path fill="#d41" d="M2225 526l27 9-21-15-27-9z"/><path fill="#d30" d="M2198 518l27 8-21-15-27-8z"/><path fill="#c30" d="M2171 511l27 7-21-15-27-7z"/><path fill="#c30" d="M2144 505l27 6-21-15-27-6z"/><path fill="#c20" d="M2116 500l28 5-21-15-27-6z"/><path fill="#b20" d="M2089 495l27 5-20-16-27-4z"/><path fill="#b20" d="M2062 492l27 3-20-15-27-4z"/><path fill="#b20" d="M2035 489l27 3-20-16-27-2z"/><path fill="#b20" d="M2008 487l27 2-20-15-27-2z"/><path fill="#a10" d="M1981 486l27 1-20-15-27-1z"/><path fill="#a10" d="M1954 486l27 0-20-15-27 0z"/><path fill="#a10" d="M1927 487l27-1-20-15-27 1z"/><path fill="#a10" d="M1900 489l27-2-20-15-27 2z"/><path fill="#910" d="M1873 492l27-3-20-15-27 2z"/><path fill="#910" d="M1846 495l27-3-20-16-27 4z"/><path fill="#910" d="M1819 500l27-5-20-15-27 4z"/><path fill="#910" d="M1792 505l27-5-20-16-27 6z"/><path fill="#910" d="M1765 511l27-6-20-15-27 6z"/><path fill="#910" d="M1738 518l27-7-20-15-28 7z"/><path fill="#910" d="M1711 526l27-8-21-15-27 8z"/><path fill="#910" d="M1684 535l27-9-21-15-27 9z"/><path fill="#910" d="M1657 545l27-10-21-15-27 9z"/><path fill="#910" d="M1630 555l27-10-21-16-27 11z"/><path fill="#910" d="M1603 567l27-12-21-15-27 11z"/><path fill="#a10" d="M1576 579l27-12-21-16-27 13z"/><path fill="#a10" d="M1549 592l27-13-21-15-27 13z"/><path fill="#a10" d="M1522 606l27-14-21-15-27 14z"/><path fill="#a10" d="M1495 621l27-15-21-15-27 15z"/><path fill="#b20" d="M1468 637l27-16-21-15-27 16z"/><path fill="#b20" d="M1441 654l27-17-21-15-27 16z"/><path fill="#b20" d="M1414 671l27-17-21-16-27 18z"/><path fill="#c20" d="M1387 690l27-19-21-15-27 19z"/><path fill="#c30" d="M1360 709l27-19-21-15-27 19z"/><path fill="#c30" d="M1332 730l28-21-21-15-27 20z"/><path fill="#d30" d="M1305 751l27-21-20-16-27 21z"/><path fill="#d40" d="M1278 773l27-22-20-16-27 22z"/><path fill="#d41" d="M1251 796l27-23-20-16-27 23z"/><path fill="#e41" d="M1224 819l27-23-20-16-27 24z"/><path fill="#e51" d="M1197 844l27-25-20-15-27 25z"/><path fill="#e51" d="M1170 870l27-26-20-15-27 25z"/><path fill="#e61" d="M1143 896l27-26-20-16-27 27z"/><path fill="#f72" d="M1116 923l27-27-20-15-27 27z"/><path fill="#f82" d="M1089 952l27-29-20-15-27 28z"/><path fill="#f92" d="M1062 981l27-29-20-16-27 29z"/><path fill="#f93" d="M1035 1011l27-30-20-16-27 30z"/><path fill="#fa3" d="M1008 1041l27-30-20-16-27 31z"/><path fill="#fb3" d="M981 1073l27-32-20-15-28 32z"/><path fill="#ec3" d="M954 1106l27-33-21-15-27 33z"/><path fill="#ec3" d="M927 1139l27-33-21-15-27 33z"/><path fill="#f93" d="M2461 637l27 16-20-16-27-16z"/><path fill="#f92" d="M2434 622l27 15-20-16-27-15z"/><path fill="#f82" d="M2407 608l27 14-20-16-27-14z"/><path fill="#f72" d="M2380 595l27 13-20-16-27-13z"/><path fill="#e61" d="M2353 583l27 12-20-16-27-12z"/><path fill="#e51" d="M2326 571l27 12-20-16-27-12z"/><path fill="#e51" d="M2299 561l27 10-20-16-27-10z"/><path fill="#e41" d="M2272 551l27 10-20-16-27-10z"/><path fill="#d41" d="M2245 542l27 9-20-16-27-9z"/><path fill="#d40" d="M2218 534l27 8-20-16-27-8z"/><path fill="#d30" d="M2191 527l27 7-20-16-27-7z"/><path fill="#c30" d="M2164 521l27 6-20-16-27-6z"/><path fill="#c30" d="M2137 516l27 5-20-16-28-5z"/><path fill="#c20" d="M2110 511l27 5-21-16-27-5z"/><path fill="#b20" d="M2083 508l27 3-21-16-27-3z"/><path fill="#b20" d="M2056 505l27 3-21-16-27-3z"/><path fill="#b20" d="M2029 503l27 2-21-16-27-2z"/><path fill="#a20" d="M2002 502l27 1-21-16-27-1z"/><path fill="#a10" d="M1975 502l27 0-21-16-27 0z"/><path fill="#a10" d="M1948 503l27-1-21-16-27 1z"/><path fill="#a10" d="M1921 505l27-2-21-16-27 2z"/><path fill="#a10" d="M1894 508l27-3-21-16-27 3z"/><path fill="#910" d="M1867 511l27-3-21-16-27 3z"/><path fill="#910" d="M1840 515l27-4-21-16-27 5z"/><path fill="#910" d="M1813 521l27-6-21-15-27 5z"/><path fill="#910" d="M1786 527l27-6-21-16-27 6z"/><path fill="#910" d="M1759 534l27-7-21-16-27 7z"/><path fill="#910" d="M1731 542l28-8-21-16-27 8z"/><path fill="#910" d="M1704 551l27-9-20-16-27 9z"/><path fill="#910" d="M1677 560l27-9-20-16-27 10z"/><path fill="#910" d="M1650 571l27-11-20-15-27 10z"/><path fill="#a10" d="M1623 582l27-11-20-16-27 12z"/><path fill="#a10" d="M1596 595l27-13-20-15-27 12z"/><path fill="#a10" d="M1569 608l27-13-20-16-27 13z"/><path fill="#a10" d="M1542 622l27-14-20-16-27 14z"/><path fill="#b20" d="M1515 637l27-15-20-16-27 15z"/><path fill="#b20" d="M1488 653l27-16-20-16-27 16z"/><path fill="#b20" d="M1461 670l27-17-20-16-27 17z"/><path fill="#b20" d="M1434 687l27-17-20-16-27 17z"/><path fill="#c20" d="M1407 706l27-19-20-16-27 19z"/><path fill="#c30" d="M1380 725l27-19-20-16-27 19z"/><path fill="#c30" d="M1353 745l27-20-20-16-28 21z"/><path fill="#d30" d="M1326 767l27-22-21-15-27 21z"/><path fill="#d40" d="M1299 789l27-22-21-16-27 22z"/><path fill="#d41" d="M1272 812l27-23-21-16-27 23z"/><path fill="#e51" d="M1245 835l27-23-21-16-27 23z"/><path fill="#e51" d="M1218 860l27-25-21-16-27 25z"/><path fill="#e61" d="M1191 886l27-26-21-16-27 26z"/><path fill="#f72" d="M1164 912l27-26-21-16-27 26z"/><path fill="#f72" d="M1137 939l27-27-21-16-27 27z"/><path fill="#f82" d="M1110 967l27-28-21-16-27 29z"/><path fill="#f93" d="M1083 997l27-30-21-15-27 29z"/><path fill="#fa3" d="M1056 1026l27-29-21-16-27 30z"/><path fill="#fb3" d="M1029 1057l27-31-21-15-27 30z"/><path fill="#fb3" d="M1002 1089l27-32-21-16-27 32z"/><path fill="#ec3" d="M975 1122l27-33-21-16-27 33z"/><path fill="#ed3" d="M947 1155l28-33-21-16-27 33z"/><path fill="#fa3" d="M2482 654l27 16-21-17-27-16z"/><path fill="#f93" d="M2455 639l27 15-21-17-27-15z"/><path fill="#f82" d="M2428 625l27 14-21-17-27-14z"/><path fill="#f72" d="M2401 611l27 14-21-17-27-13z"/><path fill="#f72" d="M2374 599l27 12-21-16-27-12z"/><path fill="#e61" d="M2347 588l27 11-21-16-27-12z"/><path fill="#e51" d="M2320 577l27 11-21-17-27-10z"/><path fill="#e51" d="M2293 567l27 10-21-16-27-10z"/><path fill="#d41" d="M2266 559l27 8-21-16-27-9z"/><path fill="#d41" d="M2239 551l27 8-21-17-27-8z"/><path fill="#d30" d="M2212 544l27 7-21-17-27-7z"/><path fill="#c30" d="M2185 537l27 7-21-17-27-6z"/><path fill="#c30" d="M2158 532l27 5-21-16-27-5z"/><path fill="#c20" d="M2131 528l27 4-21-16-27-5z"/><path fill="#c20" d="M2103 524l28 4-21-17-27-3z"/><path fill="#b20" d="M2076 521l27 3-20-16-27-3z"/><path fill="#b20" d="M2049 520l27 1-20-16-27-2z"/><path fill="#b20" d="M2022 519l27 1-20-17-27-1z"/><path fill="#a20" d="M1995 519l27 0-20-17-27 0z"/><path fill="#a10" d="M1968 520l27-1-20-17-27 1z"/><path fill="#a10" d="M1941 521l27-1-20-17-27 2z"/><path fill="#a10" d="M1914 524l27-3-20-16-27 3z"/><path fill="#a10" d="M1887 528l27-4-20-16-27 3z"/><path fill="#a10" d="M1860 532l27-4-20-17-27 4z"/><path fill="#a10" d="M1833 537l27-5-20-17-27 6z"/><path fill="#910" d="M1806 543l27-6-20-16-27 6z"/><path fill="#910" d="M1779 550l27-7-20-16-27 7z"/><path fill="#a10" d="M1752 558l27-8-20-16-28 8z"/><path fill="#a10" d="M1725 567l27-9-21-16-27 9z"/><path fill="#a10" d="M1698 577l27-10-21-16-27 9z"/><path fill="#a10" d="M1671 587l27-10-21-17-27 11z"/><path fill="#a10" d="M1644 599l27-12-21-16-27 11z"/><path fill="#a10" d="M1617 611l27-12-21-17-27 13z"/><path fill="#a10" d="M1590 624l27-13-21-16-27 13z"/><path fill="#b20" d="M1563 639l27-15-21-16-27 14z"/><path fill="#b20" d="M1536 654l27-15-21-17-27 15z"/><path fill="#b20" d="M1509 669l27-15-21-17-27 16z"/><path fill="#b20" d="M1482 686l27-17-21-16-27 17z"/><path fill="#c20" d="M1455 704l27-18-21-16-27 17z"/><path fill="#c30" d="M1428 722l27-18-21-17-27 19z"/><path fill="#c30" d="M1401 742l27-20-21-16-27 19z"/><path fill="#d30" d="M1374 762l27-20-21-17-27 20z"/><path fill="#d30" d="M1346 783l28-21-21-17-27 22z"/><path fill="#d41" d="M1319 805l27-22-20-16-27 22z"/><path fill="#e41" d="M1292 828l27-23-20-16-27 23z"/><path fill="#e51" d="M1265 852l27-24-20-16-27 23z"/><path fill="#e51" d="M1238 876l27-24-20-17-27 25z"/><path fill="#e61" d="M1211 902l27-26-20-16-27 26z"/><path fill="#f72" d="M1184 928l27-26-20-16-27 26z"/><path fill="#f82" d="M1157 956l27-28-20-16-27 27z"/><path fill="#f82" d="M1130 984l27-28-20-17-27 28z"/><path fill="#f93" d="M1103 1013l27-29-20-17-27 30z"/><path fill="#fa3" d="M1076 1043l27-30-20-16-27 29z"/><path fill="#fb3" d="M1049 1074l27-31-20-17-27 31z"/><path fill="#eb3" d="M1022 1106l27-32-20-17-27 32z"/><path fill="#ec3" d="M995 1138l27-32-20-17-27 33z"/><path fill="#dd3" d="M968 1172l27-34-20-16-28 33z"/><path fill="#fa3" d="M2502 671l28 16-21-17-27-16z"/><path fill="#f93" d="M2475 656l27 15-20-17-27-15z"/><path fill="#f82" d="M2448 642l27 14-20-17-27-14z"/><path fill="#f82" d="M2421 629l27 13-20-17-27-14z"/><path fill="#f72" d="M2394 616l27 13-20-18-27-12z"/><path fill="#e61" d="M2367 605l27 11-20-17-27-11z"/><path fill="#e51" d="M2340 594l27 11-20-17-27-11z"/><path fill="#e51" d="M2313 584l27 10-20-17-27-10z"/><path fill="#e41" d="M2286 576l27 8-20-17-27-8z"/><path fill="#d41" d="M2259 568l27 8-20-17-27-8z"/><path fill="#d40" d="M2232 561l27 7-20-17-27-7z"/><path fill="#d30" d="M2205 554l27 7-20-17-27-7z"/><path fill="#c30" d="M2178 549l27 5-20-17-27-5z"/><path fill="#c30" d="M2151 545l27 4-20-17-27-4z"/><path fill="#c20" d="M2124 541l27 4-20-17-28-4z"/><path fill="#b20" d="M2097 539l27 2-21-17-27-3z"/><path fill="#b20" d="M2070 537l27 2-21-18-27-1z"/><path fill="#b20" d="M2043 536l27 1-21-17-27-1z"/><path fill="#b20" d="M2016 536l27 0-21-17-27 0z"/><path fill="#b20" d="M1989 537l27-1-21-17-27 1z"/><path fill="#a10" d="M1962 539l27-2-21-17-27 1z"/><path fill="#a10" d="M1935 541l27-2-21-18-27 3z"/><path fill="#a10" d="M1908 545l27-4-21-17-27 4z"/><path fill="#a10" d="M1881 549l27-4-21-17-27 4z"/><path fill="#a10" d="M1854 554l27-5-21-17-27 5z"/><path fill="#a10" d="M1827 561l27-7-21-17-27 6z"/><path fill="#a10" d="M1800 568l27-7-21-18-27 7z"/><path fill="#a10" d="M1773 575l27-7-21-18-27 8z"/><path fill="#a10" d="M1746 584l27-9-21-17-27 9z"/><path fill="#a10" d="M1718 594l28-10-21-17-27 10z"/><path fill="#a10" d="M1691 605l27-11-20-17-27 10z"/><path fill="#a10" d="M1664 616l27-11-20-18-27 12z"/><path fill="#a20" d="M1637 628l27-12-20-17-27 12z"/><path fill="#b20" d="M1610 642l27-14-20-17-27 13z"/><path fill="#b20" d="M1583 656l27-14-20-18-27 15z"/><path fill="#b20" d="M1556 671l27-15-20-17-27 15z"/><path fill="#b20" d="M1529 686l27-15-20-17-27 15z"/><path fill="#c20" d="M1502 703l27-17-20-17-27 17z"/><path fill="#c20" d="M1475 721l27-18-20-17-27 18z"/><path fill="#c30" d="M1448 739l27-18-20-17-27 18z"/><path fill="#c30" d="M1421 759l27-20-20-17-27 20z"/><path fill="#d30" d="M1394 779l27-20-20-17-27 20z"/><path fill="#d40" d="M1367 800l27-21-20-17-28 21z"/><path fill="#d41" d="M1340 822l27-22-21-17-27 22z"/><path fill="#e51" d="M1313 845l27-23-21-17-27 23z"/><path fill="#e51" d="M1286 869l27-24-21-17-27 24z"/><path fill="#e61" d="M1259 894l27-25-21-17-27 24z"/><path fill="#e61" d="M1232 919l27-25-21-18-27 26z"/><path fill="#f72" d="M1205 945l27-26-21-17-27 26z"/><path fill="#f82" d="M1178 973l27-28-21-17-27 28z"/><path fill="#f92" d="M1151 1001l27-28-21-17-27 28z"/><path fill="#f93" d="M1124 1030l27-29-21-17-27 29z"/><path fill="#fa3" d="M1097 1060l27-30-21-17-27 30z"/><path fill="#fb3" d="M1070 1091l27-31-21-17-27 31z"/><path fill="#ec3" d="M1043 1123l27-32-21-17-27 32z"/><path fill="#ec3" d="M1016 1155l27-32-21-17-27 32z"/><path fill="#dd3" d="M989 1189l27-34-21-17-27 34z"/><path fill="#fa3" d="M2523 689l27 15-20-17-28-16z"/><path fill="#f93" d="M2496 674l27 15-21-18-27-15z"/><path fill="#f92" d="M2469 659l27 15-21-18-27-14z"/><path fill="#f82" d="M2442 646l27 13-21-17-27-13z"/><path fill="#f72" d="M2415 634l27 12-21-17-27-13z"/><path fill="#f72" d="M2388 622l27 12-21-18-27-11z"/><path fill="#e61" d="M2361 612l27 10-21-17-27-11z"/><path fill="#e51" d="M2334 602l27 10-21-18-27-10z"/><path fill="#e51" d="M2307 593l27 9-21-18-27-8z"/><path fill="#d41" d="M2280 585l27 8-21-17-27-8z"/><path fill="#d41" d="M2253 578l27 7-21-17-27-7z"/><path fill="#d30" d="M2226 572l27 6-21-17-27-7z"/><path fill="#d30" d="M2199 567l27 5-21-18-27-5z"/><path fill="#c30" d="M2172 562l27 5-21-18-27-4z"/><path fill="#c30" d="M2145 559l27 3-21-17-27-4z"/><path fill="#c20" d="M2117 556l28 3-21-18-27-2z"/><path fill="#b20" d="M2090 554l27 2-20-17-27-2z"/><path fill="#b20" d="M2063 554l27 0-20-17-27-1z"/><path fill="#b20" d="M2036 554l27 0-20-18-27 0z"/><path fill="#b20" d="M2009 554l27 0-20-18-27 1z"/><path fill="#b20" d="M1982 556l27-2-20-17-27 2z"/><path fill="#a20" d="M1955 559l27-3-20-17-27 2z"/><path fill="#a10" d="M1928 562l27-3-20-18-27 4z"/><path fill="#a10" d="M1901 567l27-5-20-17-27 4z"/><path fill="#a10" d="M1874 572l27-5-20-18-27 5z"/><path fill="#a10" d="M1847 578l27-6-20-18-27 7z"/><path fill="#a10" d="M1820 585l27-7-20-17-27 7z"/><path fill="#a10" d="M1793 593l27-8-20-17-27 7z"/><path fill="#a10" d="M1766 602l27-9-20-18-27 9z"/><path fill="#a10" d="M1739 612l27-10-20-18-28 10z"/><path fill="#a20" d="M1712 622l27-10-21-18-27 11z"/><path fill="#a20" d="M1685 634l27-12-21-17-27 11z"/><path fill="#b20" d="M1658 646l27-12-21-18-27 12z"/><path fill="#b20" d="M1631 659l27-13-21-18-27 14z"/><path fill="#b20" d="M1604 673l27-14-21-17-27 14z"/><path fill="#b20" d="M1577 688l27-15-21-17-27 15z"/><path fill="#c20" d="M1550 704l27-16-21-17-27 15z"/><path fill="#c20" d="M1523 721l27-17-21-18-27 17z"/><path fill="#c30" d="M1496 739l27-18-21-18-27 18z"/><path fill="#c30" d="M1469 757l27-18-21-18-27 18z"/><path fill="#d30" d="M1442 776l27-19-21-18-27 20z"/><path fill="#d40" d="M1415 797l27-21-21-17-27 20z"/><path fill="#d41" d="M1388 818l27-21-21-18-27 21z"/><path fill="#e41" d="M1361 840l27-22-21-18-27 22z"/><path fill="#e51" d="M1333 863l28-23-21-18-27 23z"/><path fill="#e51" d="M1306 887l27-24-20-18-27 24z"/><path fill="#e61" d="M1279 911l27-24-20-18-27 25z"/><path fill="#f72" d="M1252 937l27-26-20-17-27 25z"/><path fill="#f72" d="M1225 963l27-26-20-18-27 26z"/><path fill="#f82" d="M1198 990l27-27-20-18-27 28z"/><path fill="#f93" d="M1171 1019l27-29-20-17-27 28z"/><path fill="#fa3" d="M1144 1048l27-29-20-18-27 29z"/><path fill="#fb3" d="M1117 1078l27-30-20-18-27 30z"/><path fill="#fb3" d="M1090 1109l27-31-20-18-27 31z"/><path fill="#ec3" d="M1063 1140l27-31-20-18-27 32z"/><path fill="#ed3" d="M1036 1173l27-33-20-17-27 32z"/><path fill="#dd3" d="M1009 1206l27-33-20-18-27 34z"/><path fill="#fb3" d="M2544 707l27 16-21-19-27-15z"/><path fill="#fa3" d="M2517 692l27 15-21-18-27-15z"/><path fill="#f93" d="M2489 678l28 14-21-18-27-15z"/><path fill="#f82" d="M2462 665l27 13-20-19-27-13z"/><path fill="#f82" d="M2435 652l27 13-20-19-27-12z"/><path fill="#f72" d="M2408 641l27 11-20-18-27-12z"/><path fill="#e61" d="M2381 630l27 11-20-19-27-10z"/><path fill="#e51" d="M2354 620l27 10-20-18-27-10z"/><path fill="#e51" d="M2327 612l27 8-20-18-27-9z"/><path fill="#e41" d="M2300 604l27 8-20-19-27-8z"/><path fill="#d41" d="M2273 597l27 7-20-19-27-7z"/><path fill="#d40" d="M2246 590l27 7-20-19-27-6z"/><path fill="#d30" d="M2219 585l27 5-20-18-27-5z"/><path fill="#d30" d="M2192 581l27 4-20-18-27-5z"/><path fill="#c30" d="M2165 577l27 4-20-19-27-3z"/><path fill="#c30" d="M2138 575l27 2-20-18-28-3z"/><path fill="#c20" d="M2111 573l27 2-21-19-27-2z"/><path fill="#b20" d="M2084 572l27 1-21-19-27 0z"/><path fill="#b20" d="M2057 572l27 0-21-18-27 0z"/><path fill="#b20" d="M2030 573l27-1-21-18-27 0z"/><path fill="#b20" d="M2003 575l27-2-21-19-27 2z"/><path fill="#b20" d="M1976 577l27-2-21-19-27 3z"/><path fill="#b20" d="M1949 581l27-4-21-18-27 3z"/><path fill="#b20" d="M1922 585l27-4-21-19-27 5z"/><path fill="#a20" d="M1895 590l27-5-21-18-27 5z"/><path fill="#a20" d="M1868 597l27-7-21-18-27 6z"/><path fill="#a20" d="M1841 604l27-7-21-19-27 7z"/><path fill="#a20" d="M1814 611l27-7-21-19-27 8z"/><path fill="#a20" d="M1787 620l27-9-21-18-27 9z"/><path fill="#b20" d="M1760 630l27-10-21-18-27 10z"/><path fill="#b20" d="M1732 641l28-11-21-18-27 10z"/><path fill="#b20" d="M1705 652l27-11-20-19-27 12z"/><path fill="#b20" d="M1678 664l27-12-20-18-27 12z"/><path fill="#b20" d="M1651 678l27-14-20-18-27 13z"/><path fill="#b20" d="M1624 692l27-14-20-19-27 14z"/><path fill="#c20" d="M1597 707l27-15-20-19-27 15z"/><path fill="#c20" d="M1570 722l27-15-20-19-27 16z"/><path fill="#c30" d="M1543 739l27-17-20-18-27 17z"/><path fill="#c30" d="M1516 757l27-18-20-18-27 18z"/><path fill="#d30" d="M1489 775l27-18-20-18-27 18z"/><path fill="#d30" d="M1462 795l27-20-20-18-27 19z"/><path fill="#d41" d="M1435 815l27-20-20-19-27 21z"/><path fill="#d41" d="M1408 836l27-21-20-18-27 21z"/><path fill="#e51" d="M1381 858l27-22-20-18-27 22z"/><path fill="#e51" d="M1354 881l27-23-20-18-28 23z"/><path fill="#e61" d="M1327 905l27-24-21-18-27 24z"/><path fill="#e61" d="M1300 929l27-24-21-18-27 24z"/><path fill="#f72" d="M1273 955l27-26-21-18-27 26z"/><path fill="#f82" d="M1246 981l27-26-21-18-27 26z"/><path fill="#f82" d="M1219 1009l27-28-21-18-27 27z"/><path fill="#f93" d="M1192 1037l27-28-21-19-27 29z"/><path fill="#fa3" d="M1165 1066l27-29-21-18-27 29z"/><path fill="#fb3" d="M1138 1096l27-30-21-18-27 30z"/><path fill="#eb3" d="M1111 1127l27-31-21-18-27 31z"/><path fill="#ec3" d="M1084 1158l27-31-21-18-27 31z"/><path fill="#ed3" d="M1057 1191l27-33-21-18-27 33z"/><path fill="#dd3" d="M1030 1225l27-34-21-18-27 33z"/><path fill="#fb3" d="M2564 726l27 16-20-19-27-16z"/><path fill="#fa3" d="M2537 711l27 15-20-19-27-15z"/><path fill="#f93" d="M2510 697l27 14-20-19-28-14z"/><path fill="#f92" d="M2483 683l27 14-21-19-27-13z"/><path fill="#f82" d="M2456 671l27 12-21-18-27-13z"/><path fill="#f72" d="M2429 660l27 11-21-19-27-11z"/><path fill="#f72" d="M2402 649l27 11-21-19-27-11z"/><path fill="#e61" d="M2375 639l27 10-21-19-27-10z"/><path fill="#e51" d="M2348 631l27 8-21-19-27-8z"/><path fill="#e51" d="M2321 623l27 8-21-19-27-8z"/><path fill="#e41" d="M2294 616l27 7-21-19-27-7z"/><path fill="#d41" d="M2267 609l27 7-21-19-27-7z"/><path fill="#d40" d="M2240 604l27 5-21-19-27-5z"/><path fill="#d30" d="M2213 600l27 4-21-19-27-4z"/><path fill="#c30" d="M2186 596l27 4-21-19-27-4z"/><path fill="#c30" d="M2159 593l27 3-21-19-27-2z"/><path fill="#c30" d="M2132 592l27 1-21-18-27-2z"/><path fill="#c20" d="M2104 591l28 1-21-19-27-1z"/><path fill="#c20" d="M2077 591l27 0-20-19-27 0z"/><path fill="#b20" d="M2050 592l27-1-20-19-27 1z"/><path fill="#b20" d="M2023 593l27-1-20-19-27 2z"/><path fill="#b20" d="M1996 596l27-3-20-18-27 2z"/><path fill="#b20" d="M1969 600l27-4-20-19-27 4z"/><path fill="#b20" d="M1942 604l27-4-20-19-27 4z"/><path fill="#b20" d="M1915 609l27-5-20-19-27 5z"/><path fill="#b20" d="M1888 615l27-6-20-19-27 7z"/><path fill="#b20" d="M1861 622l27-7-20-18-27 7z"/><path fill="#b20" d="M1834 630l27-8-20-18-27 7z"/><path fill="#b20" d="M1807 639l27-9-20-19-27 9z"/><path fill="#b20" d="M1780 649l27-10-20-19-27 10z"/><path fill="#b20" d="M1753 659l27-10-20-19-28 11z"/><path fill="#b20" d="M1726 671l27-12-21-18-27 11z"/><path fill="#b20" d="M1699 683l27-12-21-19-27 12z"/><path fill="#b20" d="M1672 696l27-13-21-19-27 14z"/><path fill="#c20" d="M1645 710l27-14-21-18-27 14z"/><path fill="#c20" d="M1618 725l27-15-21-18-27 15z"/><path fill="#c30" d="M1591 741l27-16-21-18-27 15z"/><path fill="#c30" d="M1564 758l27-17-21-19-27 17z"/><path fill="#d30" d="M1537 776l27-18-21-19-27 18z"/><path fill="#d30" d="M1510 794l27-18-21-19-27 18z"/><path fill="#d40" d="M1483 814l27-20-21-19-27 20z"/><path fill="#d41" d="M1456 834l27-20-21-19-27 20z"/><path fill="#e41" d="M1429 855l27-21-21-19-27 21z"/><path fill="#e51" d="M1402 877l27-22-21-19-27 22z"/><path fill="#e51" d="M1375 900l27-23-21-19-27 23z"/><path fill="#e61" d="M1347 924l28-24-21-19-27 24z"/><path fill="#f72" d="M1320 948l27-24-20-19-27 24z"/><path fill="#f72" d="M1293 974l27-26-20-19-27 26z"/><path fill="#f82" d="M1266 1000l27-26-20-19-27 26z"/><path fill="#f93" d="M1239 1028l27-28-20-19-27 28z"/><path fill="#fa3" d="M1212 1056l27-28-20-19-27 28z"/><path fill="#fa3" d="M1185 1085l27-29-20-19-27 29z"/><path fill="#fb3" d="M1158 1115l27-30-20-19-27 30z"/><path fill="#ec3" d="M1131 1146l27-31-20-19-27 31z"/><path fill="#ec3" d="M1104 1177l27-31-20-19-27 31z"/><path fill="#dd3" d="M1077 1210l27-33-20-19-27 33z"/><path fill="#dd3" d="M1050 1243l27-33-20-19-27 34z"/><path fill="#fb3" d="M2585 745l27 16-21-19-27-16z"/><path fill="#fa3" d="M2558 730l27 15-21-19-27-15z"/><path fill="#fa3" d="M2531 716l27 14-21-19-27-14z"/><path fill="#f93" d="M2503 703l28 13-21-19-27-14z"/><path fill="#f82" d="M2476 691l27 12-20-20-27-12z"/><path fill="#f82" d="M2449 679l27 12-20-20-27-11z"/><path fill="#f72" d="M2422 669l27 10-20-19-27-11z"/><path fill="#e61" d="M2395 659l27 10-20-20-27-10z"/><path fill="#e61" d="M2368 650l27 9-20-20-27-8z"/><path fill="#e51" d="M2341 642l27 8-20-19-27-8z"/><path fill="#e51" d="M2314 635l27 7-20-19-27-7z"/><path fill="#d41" d="M2287 629l27 6-20-19-27-7z"/><path fill="#d41" d="M2260 624l27 5-20-20-27-5z"/><path fill="#d40" d="M2233 619l27 5-20-20-27-4z"/><path fill="#d30" d="M2206 616l27 3-20-19-27-4z"/><path fill="#c30" d="M2179 613l27 3-20-20-27-3z"/><path fill="#c30" d="M2152 611l27 2-20-20-27-1z"/><path fill="#c30" d="M2125 610l27 1-20-19-28-1z"/><path fill="#c20" d="M2098 610l27 0-21-19-27 0z"/><path fill="#c20" d="M2071 611l27-1-21-19-27 1z"/><path fill="#b20" d="M2044 613l27-2-21-19-27 1z"/><path fill="#b20" d="M2017 616l27-3-21-20-27 3z"/><path fill="#b20" d="M1990 619l27-3-21-20-27 4z"/><path fill="#b20" d="M1963 623l27-4-21-19-27 4z"/><path fill="#b20" d="M1936 629l27-6-21-19-27 5z"/><path fill="#b20" d="M1909 635l27-6-21-20-27 6z"/><path fill="#b20" d="M1882 642l27-7-21-20-27 7z"/><path fill="#b20" d="M1855 650l27-8-21-20-27 8z"/><path fill="#b20" d="M1828 659l27-9-21-20-27 9z"/><path fill="#b20" d="M1801 668l27-9-21-20-27 10z"/><path fill="#b20" d="M1774 679l27-11-21-19-27 10z"/><path fill="#b20" d="M1747 690l27-11-21-20-27 12z"/><path fill="#c20" d="M1719 703l28-13-21-19-27 12z"/><path fill="#c20" d="M1692 716l27-13-20-20-27 13z"/><path fill="#c30" d="M1665 730l27-14-20-20-27 14z"/><path fill="#c30" d="M1638 745l27-15-20-20-27 15z"/><path fill="#c30" d="M1611 761l27-16-20-20-27 16z"/><path fill="#d30" d="M1584 778l27-17-20-20-27 17z"/><path fill="#d30" d="M1557 795l27-17-20-20-27 18z"/><path fill="#d40" d="M1530 814l27-19-20-19-27 18z"/><path fill="#d41" d="M1503 833l27-19-20-20-27 20z"/><path fill="#e41" d="M1476 853l27-20-20-19-27 20z"/><path fill="#e51" d="M1449 874l27-21-20-19-27 21z"/><path fill="#e51" d="M1422 896l27-22-20-19-27 22z"/><path fill="#e61" d="M1395 919l27-23-20-19-27 23z"/><path fill="#e61" d="M1368 943l27-24-20-19-28 24z"/><path fill="#f72" d="M1341 968l27-25-21-19-27 24z"/><path fill="#f82" d="M1314 993l27-25-21-20-27 26z"/><path fill="#f82" d="M1287 1020l27-27-21-19-27 26z"/><path fill="#f93" d="M1260 1047l27-27-21-20-27 28z"/><path fill="#fa3" d="M1233 1075l27-28-21-19-27 28z"/><path fill="#fb3" d="M1206 1104l27-29-21-19-27 29z"/><path fill="#fb3" d="M1179 1134l27-30-21-19-27 30z"/><path fill="#ec3" d="M1152 1165l27-31-21-19-27 31z"/><path fill="#ed3" d="M1125 1197l27-32-21-19-27 31z"/><path fill="#dd3" d="M1098 1229l27-32-21-20-27 33z"/><path fill="#ce3" d="M1071 1263l27-34-21-19-27 33z"/><path fill="#eb3" d="M2605 765l27 16-20-20-27-16z"/><path fill="#fb3" d="M2578 750l27 15-20-20-27-15z"/><path fill="#fa3" d="M2551 736l27 14-20-20-27-14z"/><path fill="#f93" d="M2524 723l27 13-20-20-28-13z"/><path fill="#f92" d="M2497 711l27 12-21-20-27-12z"/><path fill="#f82" d="M2470 699l27 12-21-20-27-12z"/><path fill="#f72" d="M2443 689l27 10-21-20-27-10z"/><path fill="#f72" d="M2416 679l27 10-21-20-27-10z"/><path fill="#e61" d="M2389 670l27 9-21-20-27-9z"/><path fill="#e51" d="M2362 662l27 8-21-20-27-8z"/><path fill="#e51" d="M2335 655l27 7-21-20-27-7z"/><path fill="#e51" d="M2308 649l27 6-21-20-27-6z"/><path fill="#d41" d="M2281 644l27 5-21-20-27-5z"/><path fill="#d41" d="M2254 639l27 5-21-20-27-5z"/><path fill="#d40" d="M2227 636l27 3-21-20-27-3z"/><path fill="#d30" d="M2200 633l27 3-21-20-27-3z"/><path fill="#d30" d="M2173 631l27 2-21-20-27-2z"/><path fill="#c30" d="M2146 630l27 1-21-20-27-1z"/><path fill="#c30" d="M2118 630l28 0-21-20-27 0z"/><path fill="#c30" d="M2091 631l27-1-20-20-27 1z"/><path fill="#c20" d="M2064 633l27-2-20-20-27 2z"/><path fill="#c20" d="M2037 636l27-3-20-20-27 3z"/><path fill="#c20" d="M2010 639l27-3-20-20-27 3z"/><path fill="#b20" d="M1983 644l27-5-20-20-27 4z"/><path fill="#b20" d="M1956 649l27-5-20-21-27 6z"/><path fill="#b20" d="M1929 655l27-6-20-20-27 6z"/><path fill="#b20" d="M1902 662l27-7-20-20-27 7z"/><path fill="#b20" d="M1875 670l27-8-20-20-27 8z"/><path fill="#b20" d="M1848 679l27-9-20-20-27 9z"/><path fill="#b20" d="M1821 688l27-9-20-20-27 9z"/><path fill="#c20" d="M1794 699l27-11-20-20-27 11z"/><path fill="#c20" d="M1767 710l27-11-20-20-27 11z"/><path fill="#c20" d="M1740 723l27-13-20-20-28 13z"/><path fill="#c30" d="M1713 736l27-13-21-20-27 13z"/><path fill="#c30" d="M1686 750l27-14-21-20-27 14z"/><path fill="#c30" d="M1659 765l27-15-21-20-27 15z"/><path fill="#d30" d="M1632 781l27-16-21-20-27 16z"/><path fill="#d30" d="M1605 798l27-17-21-20-27 17z"/><path fill="#d40" d="M1578 815l27-17-21-20-27 17z"/><path fill="#d41" d="M1551 834l27-19-21-20-27 19z"/><path fill="#e41" d="M1524 853l27-19-21-20-27 19z"/><path fill="#e51" d="M1497 873l27-20-21-20-27 20z"/><path fill="#e51" d="M1470 894l27-21-21-20-27 21z"/><path fill="#e61" d="M1443 916l27-22-21-20-27 22z"/><path fill="#e61" d="M1416 939l27-23-21-20-27 23z"/><path fill="#f72" d="M1389 963l27-24-21-20-27 24z"/><path fill="#f82" d="M1362 988l27-25-21-20-27 25z"/><path fill="#f82" d="M1334 1013l28-25-21-20-27 25z"/><path fill="#f93" d="M1307 1040l27-27-20-20-27 27z"/><path fill="#fa3" d="M1280 1067l27-27-20-20-27 27z"/><path fill="#fa3" d="M1253 1095l27-28-20-20-27 28z"/><path fill="#fb3" d="M1226 1124l27-29-20-20-27 29z"/><path fill="#ec3" d="M1199 1154l27-30-20-20-27 30z"/><path fill="#ec3" d="M1172 1185l27-31-20-20-27 31z"/><path fill="#dd3" d="M1145 1217l27-32-20-20-27 32z"/><path fill="#dd3" d="M1118 1249l27-32-20-20-27 32z"/><path fill="#ce3" d="M1091 1283l27-34-20-20-27 34z"/><path fill="#ec3" d="M2626 786l27 16-21-21-27-16z"/><path fill="#fb3" d="M2599 771l27 15-21-21-27-15z"/><path fill="#fb3" d="M2572 757l27 14-21-21-27-14z"/><path fill="#fa3" d="M2545 744l27 13-21-21-27-13z"/><path fill="#f93" d="M2518 731l27 13-21-21-27-12z"/><path fill="#f82" d="M2490 720l28 11-21-20-27-12z"/><path fill="#f82" d="M2463 709l27 11-20-21-27-10z"/><path fill="#f72" d="M2436 700l27 9-20-20-27-10z"/><path fill="#f72" d="M2409 691l27 9-20-21-27-9z"/><path fill="#e61" d="M2382 683l27 8-20-21-27-8z"/><path fill="#e51" d="M2355 676l27 7-20-21-27-7z"/><path fill="#e51" d="M2328 670l27 6-20-21-27-6z"/><path fill="#e41" d="M2301 664l27 6-20-21-27-5z"/><path fill="#d41" d="M2274 660l27 4-20-20-27-5z"/><path fill="#d41" d="M2247 656l27 4-20-21-27-3z"/><path fill="#d40" d="M2220 654l27 2-20-20-27-3z"/><path fill="#d30" d="M2193 652l27 2-20-21-27-2z"/><path fill="#d30" d="M2166 651l27 1-20-21-27-1z"/><path fill="#c30" d="M2139 651l27 0-20-21-28 0z"/><path fill="#c30" d="M2112 652l27-1-21-21-27 1z"/><path fill="#c30" d="M2085 654l27-2-21-21-27 2z"/><path fill="#c30" d="M2058 656l27-2-21-21-27 3z"/><path fill="#c20" d="M2031 660l27-4-21-20-27 3z"/><path fill="#c20" d="M2004 664l27-4-21-21-27 5z"/><path fill="#c20" d="M1977 669l27-5-21-20-27 5z"/><path fill="#c20" d="M1950 676l27-7-21-20-27 6z"/><path fill="#c20" d="M1923 683l27-7-21-21-27 7z"/><path fill="#c20" d="M1896 691l27-8-21-21-27 8z"/><path fill="#c20" d="M1869 699l27-8-21-21-27 9z"/><path fill="#c20" d="M1842 709l27-10-21-20-27 9z"/><path fill="#c30" d="M1815 720l27-11-21-21-27 11z"/><path fill="#c30" d="M1788 731l27-11-21-21-27 11z"/><path fill="#c30" d="M1761 743l27-12-21-21-27 13z"/><path fill="#c30" d="M1733 757l28-14-21-20-27 13z"/><path fill="#c30" d="M1706 771l27-14-20-21-27 14z"/><path fill="#d30" d="M1679 786l27-15-20-21-27 15z"/><path fill="#d30" d="M1652 802l27-16-20-21-27 16z"/><path fill="#d40" d="M1625 818l27-16-20-21-27 17z"/><path fill="#d41" d="M1598 836l27-18-20-20-27 17z"/><path fill="#e41" d="M1571 854l27-18-20-21-27 19z"/><path fill="#e51" d="M1544 874l27-20-20-20-27 19z"/><path fill="#e51" d="M1517 894l27-20-20-21-27 20z"/><path fill="#e51" d="M1490 915l27-21-20-21-27 21z"/><path fill="#e61" d="M1463 937l27-22-20-21-27 22z"/><path fill="#f72" d="M1436 960l27-23-20-21-27 23z"/><path fill="#f72" d="M1409 984l27-24-20-21-27 24z"/><path fill="#f82" d="M1382 1008l27-24-20-21-27 25z"/><path fill="#f92" d="M1355 1034l27-26-20-20-28 25z"/><path fill="#f93" d="M1328 1060l27-26-21-21-27 27z"/><path fill="#fa3" d="M1301 1088l27-28-21-20-27 27z"/><path fill="#fb3" d="M1274 1116l27-28-21-21-27 28z"/><path fill="#fb3" d="M1247 1145l27-29-21-21-27 29z"/><path fill="#ec3" d="M1220 1175l27-30-21-21-27 30z"/><path fill="#ed3" d="M1193 1206l27-31-21-21-27 31z"/><path fill="#dd3" d="M1166 1238l27-32-21-21-27 32z"/><path fill="#ce3" d="M1139 1270l27-32-21-21-27 32z"/><path fill="#ce3" d="M1112 1304l27-34-21-21-27 34z"/><path fill="#ec3" d="M2646 807l27 16-20-21-27-16z"/><path fill="#eb3" d="M2619 792l27 15-20-21-27-15z"/><path fill="#fb3" d="M2592 778l27 14-20-21-27-14z"/><path fill="#fa3" d="M2565 765l27 13-20-21-27-13z"/><path fill="#f93" d="M2538 753l27 12-20-21-27-13z"/><path fill="#f93" d="M2511 741l27 12-20-22-28-11z"/><path fill="#f82" d="M2484 731l27 10-21-21-27-11z"/><path fill="#f82" d="M2457 721l27 10-21-22-27-9z"/><path fill="#f72" d="M2430 712l27 9-21-21-27-9z"/><path fill="#e61" d="M2403 704l27 8-21-21-27-8z"/><path fill="#e61" d="M2376 697l27 7-21-21-27-7z"/><path fill="#e51" d="M2349 691l27 6-21-21-27-6z"/><path fill="#e51" d="M2322 686l27 5-21-21-27-6z"/><path fill="#e41" d="M2295 681l27 5-21-22-27-4z"/><path fill="#d41" d="M2268 678l27 3-21-21-27-4z"/><path fill="#d41" d="M2241 675l27 3-21-22-27-2z"/><path fill="#d40" d="M2214 673l27 2-21-21-27-2z"/><path fill="#d30" d="M2187 672l27 1-21-21-27-1z"/><path fill="#d30" d="M2160 672l27 0-21-21-27 0z"/><path fill="#d30" d="M2133 673l27-1-21-21-27 1z"/><path fill="#c30" d="M2105 675l28-2-21-21-27 2z"/><path fill="#c30" d="M2078 678l27-3-20-21-27 2z"/><path fill="#c30" d="M2051 681l27-3-20-22-27 4z"/><path fill="#c30" d="M2024 685l27-4-20-21-27 4z"/><path fill="#c30" d="M1997 691l27-6-20-21-27 5z"/><path fill="#c30" d="M1970 697l27-6-20-22-27 7z"/><path fill="#c30" d="M1943 704l27-7-20-21-27 7z"/><path fill="#c30" d="M1916 712l27-8-20-21-27 8z"/><path fill="#c30" d="M1889 721l27-9-20-21-27 8z"/><path fill="#c30" d="M1862 730l27-9-20-22-27 10z"/><path fill="#c30" d="M1835 741l27-11-20-21-27 11z"/><path fill="#c30" d="M1808 752l27-11-20-21-27 11z"/><path fill="#c30" d="M1781 765l27-13-20-21-27 12z"/><path fill="#d30" d="M1754 778l27-13-20-22-28 14z"/><path fill="#d30" d="M1727 792l27-14-21-21-27 14z"/><path fill="#d40" d="M1700 807l27-15-21-21-27 15z"/><path fill="#d41" d="M1673 823l27-16-21-21-27 16z"/><path fill="#d41" d="M1646 840l27-17-21-21-27 16z"/><path fill="#e41" d="M1619 857l27-17-21-22-27 18z"/><path fill="#e51" d="M1592 876l27-19-21-21-27 18z"/><path fill="#e51" d="M1565 895l27-19-21-22-27 20z"/><path fill="#e51" d="M1538 915l27-20-21-21-27 20z"/><path fill="#e61" d="M1511 936l27-21-21-21-27 21z"/><path fill="#f72" d="M1484 958l27-22-21-21-27 22z"/><path fill="#f72" d="M1457 981l27-23-21-21-27 23z"/><path fill="#f82" d="M1430 1005l27-24-21-21-27 24z"/><path fill="#f82" d="M1403 1030l27-25-21-21-27 24z"/><path fill="#f93" d="M1376 1055l27-25-21-22-27 26z"/><path fill="#fa3" d="M1348 1082l28-27-21-21-27 26z"/><path fill="#fa3" d="M1321 1109l27-27-20-22-27 28z"/><path fill="#fb3" d="M1294 1137l27-28-20-21-27 28z"/><path fill="#ec3" d="M1267 1166l27-29-20-21-27 29z"/><path fill="#ec3" d="M1240 1196l27-30-20-21-27 30z"/><path fill="#dd3" d="M1213 1227l27-31-20-21-27 31z"/><path fill="#dd3" d="M1186 1259l27-32-20-21-27 32z"/><path fill="#ce3" d="M1159 1291l27-32-20-21-27 32z"/><path fill="#be3" d="M1132 1325l27-34-20-21-27 34z"/><path fill="#ec3" d="M2667 829l27 16-21-22-27-16z"/><path fill="#ec3" d="M2640 814l27 15-21-22-27-15z"/><path fill="#fb3" d="M2613 800l27 14-21-22-27-14z"/><path fill="#fb3" d="M2586 787l27 13-21-22-27-13z"/><path fill="#fa3" d="M2559 775l27 12-21-22-27-12z"/><path fill="#f93" d="M2532 763l27 12-21-22-27-12z"/><path fill="#f92" d="M2504 753l28 10-21-22-27-10z"/><path fill="#f82" d="M2477 743l27 10-20-22-27-10z"/><path fill="#f72" d="M2450 734l27 9-20-22-27-9z"/><path fill="#f72" d="M2423 726l27 8-20-22-27-8z"/><path fill="#e61" d="M2396 719l27 7-20-22-27-7z"/><path fill="#e61" d="M2369 713l27 6-20-22-27-6z"/><path fill="#e51" d="M2342 708l27 5-20-22-27-5z"/><path fill="#e51" d="M2315 703l27 5-20-22-27-5z"/><path fill="#e51" d="M2288 700l27 3-20-22-27-3z"/><path fill="#e41" d="M2261 697l27 3-20-22-27-3z"/><path fill="#d41" d="M2234 695l27 2-20-22-27-2z"/><path fill="#d41" d="M2207 694l27 1-20-22-27-1z"/><path fill="#d40" d="M2180 694l27 0-20-22-27 0z"/><path fill="#d30" d="M2153 695l27-1-20-22-27 1z"/><path fill="#d30" d="M2126 697l27-2-20-22-28 2z"/><path fill="#d30" d="M2099 699l27-2-21-22-27 3z"/><path fill="#d30" d="M2072 703l27-4-21-21-27 3z"/><path fill="#c30" d="M2045 707l27-4-21-22-27 4z"/><path fill="#c30" d="M2018 713l27-6-21-22-27 6z"/><path fill="#c30" d="M1991 719l27-6-21-22-27 6z"/><path fill="#c30" d="M1964 726l27-7-21-22-27 7z"/><path fill="#c30" d="M1937 734l27-8-21-22-27 8z"/><path fill="#c30" d="M1910 743l27-9-21-22-27 9z"/><path fill="#c30" d="M1883 752l27-9-21-22-27 9z"/><path fill="#d30" d="M1856 763l27-11-21-22-27 11z"/><path fill="#d30" d="M1829 774l27-11-21-22-27 11z"/><path fill="#d30" d="M1802 787l27-13-21-22-27 13z"/><path fill="#d30" d="M1775 800l27-13-21-22-27 13z"/><path fill="#d40" d="M1748 814l27-14-21-22-27 14z"/><path fill="#d41" d="M1720 829l28-15-21-22-27 15z"/><path fill="#d41" d="M1693 845l27-16-20-22-27 16z"/><path fill="#e41" d="M1666 861l27-16-20-22-27 17z"/><path fill="#e51" d="M1639 879l27-18-20-21-27 17z"/><path fill="#e51" d="M1612 897l27-18-20-22-27 19z"/><path fill="#e51" d="M1585 917l27-20-20-21-27 19z"/><path fill="#e61" d="M1558 937l27-20-20-22-27 20z"/><path fill="#e61" d="M1531 958l27-21-20-22-27 21z"/><path fill="#f72" d="M1504 980l27-22-20-22-27 22z"/><path fill="#f82" d="M1477 1003l27-23-20-22-27 23z"/><path fill="#f82" d="M1450 1027l27-24-20-22-27 24z"/><path fill="#f93" d="M1423 1052l27-25-20-22-27 25z"/><path fill="#f93" d="M1396 1077l27-25-20-22-27 25z"/><path fill="#fa3" d="M1369 1104l27-27-20-22-28 27z"/><path fill="#fb3" d="M1342 1131l27-27-21-22-27 27z"/><path fill="#fb3" d="M1315 1159l27-28-21-22-27 28z"/><path fill="#ec3" d="M1288 1188l27-29-21-22-27 29z"/><path fill="#ed3" d="M1261 1218l27-30-21-22-27 30z"/><path fill="#dd3" d="M1234 1249l27-31-21-22-27 31z"/><path fill="#ce3" d="M1207 1281l27-32-21-22-27 32z"/><path fill="#ce3" d="M1180 1313l27-32-21-22-27 32z"/><path fill="#bf3" d="M1153 1347l27-34-21-22-27 34z"/><path fill="#ed3" d="M2687 852l27 16-20-23-27-16z"/><path fill="#ec3" d="M2660 837l27 15-20-23-27-15z"/><path fill="#ec3" d="M2633 823l27 14-20-23-27-14z"/><path fill="#fb3" d="M2606 809l27 14-20-23-27-13z"/><path fill="#fa3" d="M2579 797l27 12-20-22-27-12z"/><path fill="#fa3" d="M2552 786l27 11-20-22-27-12z"/><path fill="#f93" d="M2525 775l27 11-20-23-28-10z"/><path fill="#f82" d="M2498 765l27 10-21-22-27-10z"/><path fill="#f82" d="M2471 757l27 8-21-22-27-9z"/><path fill="#f72" d="M2444 749l27 8-21-23-27-8z"/><path fill="#f72" d="M2417 742l27 7-21-23-27-7z"/><path fill="#e61" d="M2390 735l27 7-21-23-27-6z"/><path fill="#e61" d="M2363 730l27 5-21-22-27-5z"/><path fill="#e51" d="M2336 726l27 4-21-22-27-5z"/><path fill="#e51" d="M2309 722l27 4-21-23-27-3z"/><path fill="#e51" d="M2282 719l27 3-21-22-27-3z"/><path fill="#e41" d="M2255 718l27 1-21-22-27-2z"/><path fill="#d41" d="M2228 717l27 1-21-23-27-1z"/><path fill="#d41" d="M2201 717l27 0-21-23-27 0z"/><path fill="#d41" d="M2174 718l27-1-21-23-27 1z"/><path fill="#d40" d="M2147 719l27-1-21-23-27 2z"/><path fill="#d30" d="M2119 722l28-3-21-22-27 2z"/><path fill="#d30" d="M2092 725l27-3-20-23-27 4z"/><path fill="#d30" d="M2065 730l27-5-20-22-27 4z"/><path fill="#d30" d="M2038 735l27-5-20-23-27 6z"/><path fill="#d30" d="M2011 741l27-6-20-22-27 6z"/><path fill="#d30" d="M1984 748l27-7-20-22-27 7z"/><path fill="#d30" d="M1957 756l27-8-20-22-27 8z"/><path fill="#d30" d="M1930 765l27-9-20-22-27 9z"/><path fill="#d30" d="M1903 775l27-10-20-22-27 9z"/><path fill="#d30" d="M1876 785l27-10-20-23-27 11z"/><path fill="#d40" d="M1849 797l27-12-20-22-27 11z"/><path fill="#d40" d="M1822 809l27-12-20-23-27 13z"/><path fill="#d41" d="M1795 822l27-13-20-22-27 13z"/><path fill="#d41" d="M1768 836l27-14-20-22-27 14z"/><path fill="#d41" d="M1741 851l27-15-20-22-28 15z"/><path fill="#e41" d="M1714 867l27-16-21-22-27 16z"/><path fill="#e51" d="M1687 884l27-17-21-22-27 16z"/><path fill="#e51" d="M1660 901l27-17-21-23-27 18z"/><path fill="#e51" d="M1633 920l27-19-21-22-27 18z"/><path fill="#e61" d="M1606 939l27-19-21-23-27 20z"/><path fill="#e61" d="M1579 960l27-21-21-22-27 20z"/><path fill="#f72" d="M1552 981l27-21-21-23-27 21z"/><path fill="#f72" d="M1525 1003l27-22-21-23-27 22z"/><path fill="#f82" d="M1498 1026l27-23-21-23-27 23z"/><path fill="#f92" d="M1471 1049l27-23-21-23-27 24z"/><path fill="#f93" d="M1444 1074l27-25-21-22-27 25z"/><path fill="#fa3" d="M1417 1100l27-26-21-22-27 25z"/><path fill="#fb3" d="M1390 1126l27-26-21-23-27 27z"/><path fill="#fb3" d="M1363 1153l27-27-21-22-27 27z"/><path fill="#ec3" d="M1335 1181l28-28-21-22-27 28z"/><path fill="#ec3" d="M1308 1211l27-30-20-22-27 29z"/><path fill="#dd3" d="M1281 1240l27-29-20-23-27 30z"/><path fill="#dd3" d="M1254 1271l27-31-20-22-27 31z"/><path fill="#ce3" d="M1227 1303l27-32-20-22-27 32z"/><path fill="#be3" d="M1200 1336l27-33-20-22-27 32z"/><path fill="#af3" d="M1173 1369l27-33-20-23-27 34z"/><path fill="#dd3" d="M2708 875l27 16-21-23-27-16z"/><path fill="#ec3" d="M2681 860l27 15-21-23-27-15z"/><path fill="#ec3" d="M2654 846l27 14-21-23-27-14z"/><path fill="#fb3" d="M2627 833l27 13-21-23-27-14z"/><path fill="#fb3" d="M2600 820l27 13-21-24-27-12z"/><path fill="#fa3" d="M2573 809l27 11-21-23-27-11z"/><path fill="#fa3" d="M2546 798l27 11-21-23-27-11z"/><path fill="#f93" d="M2519 788l27 10-21-23-27-10z"/><path fill="#f82" d="M2491 780l28 8-21-23-27-8z"/><path fill="#f82" d="M2464 772l27 8-20-23-27-8z"/><path fill="#f72" d="M2437 765l27 7-20-23-27-7z"/><path fill="#f72" d="M2410 758l27 7-20-23-27-7z"/><path fill="#e61" d="M2383 753l27 5-20-23-27-5z"/><path fill="#e61" d="M2356 749l27 4-20-23-27-4z"/><path fill="#e51" d="M2329 745l27 4-20-23-27-4z"/><path fill="#e51" d="M2302 742l27 3-20-23-27-3z"/><path fill="#e51" d="M2275 741l27 1-20-23-27-1z"/><path fill="#e51" d="M2248 740l27 1-20-23-27-1z"/><path fill="#e41" d="M2221 740l27 0-20-23-27 0z"/><path fill="#d41" d="M2194 741l27-1-20-23-27 1z"/><path fill="#d41" d="M2167 742l27-1-20-23-27 1z"/><path fill="#d41" d="M2140 745l27-3-20-23-28 3z"/><path fill="#d41" d="M2113 749l27-4-21-23-27 3z"/><path fill="#d40" d="M2086 753l27-4-21-24-27 5z"/><path fill="#d40" d="M2059 758l27-5-21-23-27 5z"/><path fill="#d40" d="M2032 764l27-6-21-23-27 6z"/><path fill="#d40" d="M2005 771l27-7-21-23-27 7z"/><path fill="#d40" d="M1978 779l27-8-21-23-27 8z"/><path fill="#d40" d="M1951 788l27-9-21-23-27 9z"/><path fill="#d40" d="M1924 798l27-10-21-23-27 10z"/><path fill="#d41" d="M1897 808l27-10-21-23-27 10z"/><path fill="#d41" d="M1870 820l27-12-21-23-27 12z"/><path fill="#d41" d="M1843 832l27-12-21-23-27 12z"/><path fill="#d41" d="M1816 845l27-13-21-23-27 13z"/><path fill="#e41" d="M1789 859l27-14-21-23-27 14z"/><path fill="#e51" d="M1762 874l27-15-21-23-27 15z"/><path fill="#e51" d="M1734 890l28-16-21-23-27 16z"/><path fill="#e51" d="M1707 907l27-17-20-23-27 17z"/><path fill="#e51" d="M1680 925l27-18-20-23-27 17z"/><path fill="#e61" d="M1653 943l27-18-20-24-27 19z"/><path fill="#e61" d="M1626 962l27-19-20-23-27 19z"/><path fill="#f72" d="M1599 983l27-21-20-23-27 21z"/><path fill="#f72" d="M1572 1004l27-21-20-23-27 21z"/><path fill="#f82" d="M1545 1026l27-22-20-23-27 22z"/><path fill="#f92" d="M1518 1049l27-23-20-23-27 23z"/><path fill="#f93" d="M1491 1072l27-23-20-23-27 23z"/><path fill="#fa3" d="M1464 1097l27-25-20-23-27 25z"/><path fill="#fa3" d="M1437 1123l27-26-20-23-27 26z"/><path fill="#fb3" d="M1410 1149l27-26-20-23-27 26z"/><path fill="#ec3" d="M1383 1176l27-27-20-23-27 27z"/><path fill="#ec3" d="M1356 1205l27-29-20-23-28 28z"/><path fill="#ed3" d="M1329 1234l27-29-21-24-27 30z"/><path fill="#dd3" d="M1302 1264l27-30-21-23-27 29z"/><path fill="#ce3" d="M1275 1294l27-30-21-24-27 31z"/><path fill="#ce3" d="M1248 1326l27-32-21-23-27 32z"/><path fill="#bf3" d="M1221 1359l27-33-21-23-27 33z"/><path fill="#af3" d="M1194 1392l27-33-21-23-27 33z"/><path fill="#dd3" d="M2728 899l27 16-20-24-27-16z"/><path fill="#dd3" d="M2701 884l27 15-20-24-27-15z"/><path fill="#ec3" d="M2674 870l27 14-20-24-27-14z"/><path fill="#ec3" d="M2647 856l27 14-20-24-27-13z"/><path fill="#fb3" d="M2620 844l27 12-20-23-27-13z"/><path fill="#fb3" d="M2593 832l27 12-20-24-27-11z"/><path fill="#fa3" d="M2566 822l27 10-20-23-27-11z"/><path fill="#f93" d="M2539 812l27 10-20-24-27-10z"/><path fill="#f93" d="M2512 803l27 9-20-24-28-8z"/><path fill="#f82" d="M2485 795l27 8-21-23-27-8z"/><path fill="#f82" d="M2458 788l27 7-21-23-27-7z"/><path fill="#f72" d="M2431 782l27 6-21-23-27-7z"/><path fill="#f72" d="M2404 777l27 5-21-24-27-5z"/><path fill="#e61" d="M2377 772l27 5-21-24-27-4z"/><path fill="#e61" d="M2350 769l27 3-21-23-27-4z"/><path fill="#e61" d="M2323 766l27 3-21-24-27-3z"/><path fill="#e51" d="M2296 764l27 2-21-24-27-1z"/><path fill="#e51" d="M2269 763l27 1-21-23-27-1z"/><path fill="#e51" d="M2242 763l27 0-21-23-27 0z"/><path fill="#e51" d="M2215 764l27-1-21-23-27 1z"/><path fill="#e41" d="M2188 766l27-2-21-23-27 1z"/><path fill="#e41" d="M2161 769l27-3-21-24-27 3z"/><path fill="#d41" d="M2134 772l27-3-21-24-27 4z"/><path fill="#d41" d="M2106 777l28-5-21-23-27 4z"/><path fill="#d41" d="M2079 782l27-5-20-24-27 5z"/><path fill="#d41" d="M2052 788l27-6-20-24-27 6z"/><path fill="#d41" d="M2025 795l27-7-20-24-27 7z"/><path fill="#d41" d="M1998 803l27-8-20-24-27 8z"/><path fill="#d41" d="M1971 812l27-9-20-24-27 9z"/><path fill="#d41" d="M1944 821l27-9-20-24-27 10z"/><path fill="#d41" d="M1917 832l27-11-20-23-27 10z"/><path fill="#e41" d="M1890 843l27-11-20-24-27 12z"/><path fill="#e41" d="M1863 856l27-13-20-23-27 12z"/><path fill="#e51" d="M1836 869l27-13-20-24-27 13z"/><path fill="#e51" d="M1809 883l27-14-20-24-27 14z"/><path fill="#e51" d="M1782 898l27-15-20-24-27 15z"/><path fill="#e51" d="M1755 914l27-16-20-24-28 16z"/><path fill="#e61" d="M1728 931l27-17-21-24-27 17z"/><path fill="#e61" d="M1701 948l27-17-21-24-27 18z"/><path fill="#f72" d="M1674 967l27-19-21-23-27 18z"/><path fill="#f72" d="M1647 986l27-19-21-24-27 19z"/><path fill="#f72" d="M1620 1006l27-20-21-24-27 21z"/><path fill="#f82" d="M1593 1027l27-21-21-23-27 21z"/><path fill="#f92" d="M1566 1049l27-22-21-23-27 22z"/><path fill="#f93" d="M1539 1072l27-23-21-23-27 23z"/><path fill="#fa3" d="M1512 1096l27-24-21-23-27 23z"/><path fill="#fa3" d="M1485 1121l27-25-21-24-27 25z"/><path fill="#fb3" d="M1458 1146l27-25-21-24-27 26z"/><path fill="#fb3" d="M1431 1173l27-27-21-23-27 26z"/><path fill="#ec3" d="M1404 1200l27-27-21-24-27 27z"/><path fill="#ec3" d="M1377 1228l27-28-21-24-27 29z"/><path fill="#dd3" d="M1349 1257l28-29-21-23-27 29z"/><path fill="#dd3" d="M1322 1287l27-30-20-23-27 30z"/><path fill="#ce3" d="M1295 1318l27-31-20-23-27 30z"/><path fill="#be3" d="M1268 1350l27-32-20-24-27 32z"/><path fill="#af3" d="M1241 1382l27-32-20-24-27 33z"/><path fill="#9f4" d="M1214 1416l27-34-20-23-27 33z"/><path fill="#ce3" d="M2749 923l27 16-21-24-27-16z"/><path fill="#dd3" d="M2722 908l27 15-21-24-27-15z"/><path fill="#ed3" d="M2695 894l27 14-21-24-27-14z"/><path fill="#ec3" d="M2668 881l27 13-21-24-27-14z"/><path fill="#ec3" d="M2641 868l27 13-21-25-27-12z"/><path fill="#fb3" d="M2614 857l27 11-21-24-27-12z"/><path fill="#fb3" d="M2587 846l27 11-21-25-27-10z"/><path fill="#fa3" d="M2560 836l27 10-21-24-27-10z"/><path fill="#f93" d="M2533 828l27 8-21-24-27-9z"/><path fill="#f93" d="M2505 820l28 8-21-25-27-8z"/><path fill="#f82" d="M2478 813l27 7-20-25-27-7z"/><path fill="#f82" d="M2451 806l27 7-20-25-27-6z"/><path fill="#f72" d="M2424 801l27 5-20-24-27-5z"/><path fill="#f72" d="M2397 797l27 4-20-24-27-5z"/><path fill="#f72" d="M2370 793l27 4-20-25-27-3z"/><path fill="#e61" d="M2343 790l27 3-20-24-27-3z"/><path fill="#e61" d="M2316 789l27 1-20-24-27-2z"/><path fill="#e51" d="M2289 788l27 1-20-25-27-1z"/><path fill="#e51" d="M2262 788l27 0-20-25-27 0z"/><path fill="#e51" d="M2235 789l27-1-20-25-27 1z"/><path fill="#e51" d="M2208 790l27-1-20-25-27 2z"/><path fill="#e51" d="M2181 793l27-3-20-24-27 3z"/><path fill="#e51" d="M2154 796l27-3-20-24-27 3z"/><path fill="#e41" d="M2127 801l27-5-20-24-28 5z"/><path fill="#e41" d="M2100 806l27-5-21-24-27 5z"/><path fill="#e41" d="M2073 812l27-6-21-24-27 6z"/><path fill="#e41" d="M2046 819l27-7-21-24-27 7z"/><path fill="#e41" d="M2019 827l27-8-21-24-27 8z"/><path fill="#e41" d="M1992 836l27-9-21-24-27 9z"/><path fill="#e51" d="M1965 846l27-10-21-24-27 9z"/><path fill="#e51" d="M1938 856l27-10-21-25-27 11z"/><path fill="#e51" d="M1911 868l27-12-21-24-27 11z"/><path fill="#e51" d="M1884 880l27-12-21-25-27 13z"/><path fill="#e51" d="M1857 893l27-13-21-24-27 13z"/><path fill="#e51" d="M1830 907l27-14-21-24-27 14z"/><path fill="#e61" d="M1803 922l27-15-21-24-27 15z"/><path fill="#e61" d="M1776 938l27-16-21-24-27 16z"/><path fill="#e61" d="M1749 955l27-17-21-24-27 17z"/><path fill="#f72" d="M1721 972l28-17-21-24-27 17z"/><path fill="#f72" d="M1694 991l27-19-20-24-27 19z"/><path fill="#f82" d="M1667 1010l27-19-20-24-27 19z"/><path fill="#f82" d="M1640 1031l27-21-20-24-27 20z"/><path fill="#f92" d="M1613 1052l27-21-20-25-27 21z"/><path fill="#f93" d="M1586 1074l27-22-20-25-27 22z"/><path fill="#fa3" d="M1559 1097l27-23-20-25-27 23z"/><path fill="#fa3" d="M1532 1120l27-23-20-25-27 24z"/><path fill="#fb3" d="M1505 1145l27-25-20-24-27 25z"/><path fill="#fb3" d="M1478 1171l27-26-20-24-27 25z"/><path fill="#ec3" d="M1451 1197l27-26-20-25-27 27z"/><path fill="#ec3" d="M1424 1224l27-27-20-24-27 27z"/><path fill="#dd3" d="M1397 1252l27-28-20-24-27 28z"/><path fill="#dd3" d="M1370 1281l27-29-20-24-28 29z"/><path fill="#ce3" d="M1343 1311l27-30-21-24-27 30z"/><path fill="#be3" d="M1316 1342l27-31-21-24-27 31z"/><path fill="#bf3" d="M1289 1374l27-32-21-24-27 32z"/><path fill="#af3" d="M1262 1407l27-33-21-24-27 32z"/><path fill="#9f4" d="M1235 1440l27-33-21-25-27 34z"/><path fill="#ce3" d="M2769 948l27 16-20-25-27-16z"/><path fill="#dd3" d="M2742 933l27 15-20-25-27-15z"/><path fill="#dd3" d="M2715 919l27 14-20-25-27-14z"/><path fill="#ed3" d="M2688 905l27 14-20-25-27-13z"/><path fill="#ec3" d="M2661 893l27 12-20-24-27-13z"/><path fill="#ec3" d="M2634 882l27 11-20-25-27-11z"/><path fill="#fb3" d="M2607 871l27 11-20-25-27-11z"/><path fill="#fb3" d="M2580 861l27 10-20-25-27-10z"/><path fill="#fa3" d="M2553 852l27 9-20-25-27-8z"/><path fill="#f93" d="M2526 845l27 7-20-24-28-8z"/><path fill="#f93" d="M2499 837l27 8-21-25-27-7z"/><path fill="#f82" d="M2472 831l27 6-21-24-27-7z"/><path fill="#f82" d="M2445 826l27 5-21-25-27-5z"/><path fill="#f82" d="M2418 822l27 4-21-25-27-4z"/><path fill="#f72" d="M2391 818l27 4-21-25-27-4z"/><path fill="#f72" d="M2364 815l27 3-21-25-27-3z"/><path fill="#e61" d="M2337 814l27 1-21-25-27-1z"/><path fill="#e61" d="M2310 813l27 1-21-25-27-1z"/><path fill="#e61" d="M2283 813l27 0-21-25-27 0z"/><path fill="#e61" d="M2256 813l27 0-21-25-27 1z"/><path fill="#e51" d="M2229 815l27-2-21-24-27 1z"/><path fill="#e51" d="M2202 818l27-3-21-25-27 3z"/><path fill="#e51" d="M2175 821l27-3-21-25-27 3z"/><path fill="#e51" d="M2148 826l27-5-21-25-27 5z"/><path fill="#e51" d="M2120 831l28-5-21-25-27 5z"/><path fill="#e51" d="M2093 837l27-6-20-25-27 6z"/><path fill="#e51" d="M2066 844l27-7-20-25-27 7z"/><path fill="#e51" d="M2039 852l27-8-20-25-27 8z"/><path fill="#e51" d="M2012 861l27-9-20-25-27 9z"/><path fill="#e51" d="M1985 871l27-10-20-25-27 10z"/><path fill="#e51" d="M1958 881l27-10-20-25-27 10z"/><path fill="#e51" d="M1931 893l27-12-20-25-27 12z"/><path fill="#e51" d="M1904 905l27-12-20-25-27 12z"/><path fill="#e61" d="M1877 918l27-13-20-25-27 13z"/><path fill="#e61" d="M1850 932l27-14-20-25-27 14z"/><path fill="#e61" d="M1823 947l27-15-20-25-27 15z"/><path fill="#f72" d="M1796 963l27-16-20-25-27 16z"/><path fill="#f72" d="M1769 980l27-17-20-25-27 17z"/><path fill="#f72" d="M1742 997l27-17-20-25-28 17z"/><path fill="#f82" d="M1715 1016l27-19-21-25-27 19z"/><path fill="#f82" d="M1688 1035l27-19-21-25-27 19z"/><path fill="#f92" d="M1661 1055l27-20-21-25-27 21z"/><path fill="#f93" d="M1634 1076l27-21-21-24-27 21z"/><path fill="#fa3" d="M1607 1098l27-22-21-24-27 22z"/><path fill="#fa3" d="M1580 1121l27-23-21-24-27 23z"/><path fill="#fb3" d="M1553 1145l27-24-21-24-27 23z"/><path fill="#fb3" d="M1526 1170l27-25-21-25-27 25z"/><path fill="#ec3" d="M1499 1195l27-25-21-25-27 26z"/><path fill="#ec3" d="M1472 1222l27-27-21-24-27 26z"/><path fill="#ed3" d="M1445 1249l27-27-21-25-27 27z"/><path fill="#dd3" d="M1418 1277l27-28-21-25-27 28z"/><path fill="#ce3" d="M1391 1306l27-29-21-25-27 29z"/><path fill="#ce3" d="M1364 1336l27-30-21-25-27 30z"/><path fill="#be3" d="M1336 1367l28-31-21-25-27 31z"/><path fill="#af3" d="M1309 1399l27-32-20-25-27 32z"/><path fill="#9f4" d="M1282 1431l27-32-20-25-27 33z"/><path fill="#8f4" d="M1255 1465l27-34-20-24-27 33z"/><path fill="#be3" d="M2790 973l27 16-21-25-27-16z"/><path fill="#ce3" d="M2763 958l27 15-21-25-27-15z"/><path fill="#dd3" d="M2736 944l27 14-21-25-27-14z"/><path fill="#dd3" d="M2709 931l27 13-21-25-27-14z"/><path fill="#ec3" d="M2682 919l27 12-21-26-27-12z"/><path fill="#ec3" d="M2655 907l27 12-21-26-27-11z"/><path fill="#eb3" d="M2628 897l27 10-21-25-27-11z"/><path fill="#fb3" d="M2601 887l27 10-21-26-27-10z"/><path fill="#fb3" d="M2574 878l27 9-21-26-27-9z"/><path fill="#fa3" d="M2547 870l27 8-21-26-27-7z"/><path fill="#fa3" d="M2520 863l27 7-21-25-27-8z"/><path fill="#f93" d="M2492 857l28 6-21-26-27-6z"/><path fill="#f92" d="M2465 851l27 6-20-26-27-5z"/><path fill="#f82" d="M2438 847l27 4-20-25-27-4z"/><path fill="#f82" d="M2411 843l27 4-20-25-27-4z"/><path fill="#f72" d="M2384 841l27 2-20-25-27-3z"/><path fill="#f72" d="M2357 839l27 2-20-26-27-1z"/><path fill="#f72" d="M2330 838l27 1-20-25-27-1z"/><path fill="#e61" d="M2303 838l27 0-20-25-27 0z"/><path fill="#e61" d="M2276 839l27-1-20-25-27 0z"/><path fill="#e61" d="M2249 841l27-2-20-26-27 2z"/><path fill="#e61" d="M2222 843l27-2-20-26-27 3z"/><path fill="#e61" d="M2195 847l27-4-20-25-27 3z"/><path fill="#e51" d="M2168 851l27-4-20-26-27 5z"/><path fill="#e51" d="M2141 856l27-5-20-25-28 5z"/><path fill="#e51" d="M2114 863l27-7-21-25-27 6z"/><path fill="#e51" d="M2087 870l27-7-21-26-27 7z"/><path fill="#e51" d="M2060 878l27-8-21-26-27 8z"/><path fill="#e51" d="M2033 886l27-8-21-26-27 9z"/><path fill="#e51" d="M2006 896l27-10-21-25-27 10z"/><path fill="#e61" d="M1979 907l27-11-21-25-27 10z"/><path fill="#e61" d="M1952 918l27-11-21-26-27 12z"/><path fill="#e61" d="M1925 930l27-12-21-25-27 12z"/><path fill="#e61" d="M1898 944l27-14-21-25-27 13z"/><path fill="#f72" d="M1871 958l27-14-21-26-27 14z"/><path fill="#f72" d="M1844 973l27-15-21-26-27 15z"/><path fill="#f72" d="M1817 988l27-15-21-26-27 16z"/><path fill="#f72" d="M1790 1005l27-17-21-25-27 17z"/><path fill="#f82" d="M1763 1023l27-18-21-25-27 17z"/><path fill="#f82" d="M1735 1041l28-18-21-26-27 19z"/><path fill="#f93" d="M1708 1061l27-20-20-25-27 19z"/><path fill="#f93" d="M1681 1081l27-20-20-26-27 20z"/><path fill="#fa3" d="M1654 1102l27-21-20-26-27 21z"/><path fill="#fa3" d="M1627 1124l27-22-20-26-27 22z"/><path fill="#fb3" d="M1600 1147l27-23-20-26-27 23z"/><path fill="#fb3" d="M1573 1171l27-24-20-26-27 24z"/><path fill="#ec3" d="M1546 1195l27-24-20-26-27 25z"/><path fill="#ec3" d="M1519 1221l27-26-20-25-27 25z"/><path fill="#ed3" d="M1492 1247l27-26-20-26-27 27z"/><path fill="#dd3" d="M1465 1274l27-27-20-25-27 27z"/><path fill="#ce3" d="M1438 1303l27-29-20-25-27 28z"/><path fill="#ce3" d="M1411 1332l27-29-20-26-27 29z"/><path fill="#be3" d="M1384 1362l27-30-20-26-27 30z"/><path fill="#af3" d="M1357 1392l27-30-20-26-28 31z"/><path fill="#9f4" d="M1330 1424l27-32-21-25-27 32z"/><path fill="#9f4" d="M1303 1457l27-33-21-25-27 32z"/><path fill="#7f5" d="M1276 1490l27-33-21-26-27 34z"/><path fill="#be3" d="M2810 999l27 16-20-26-27-16z"/><path fill="#ce3" d="M2783 984l27 15-20-26-27-15z"/><path fill="#ce3" d="M2756 970l27 14-20-26-27-14z"/><path fill="#dd3" d="M2729 957l27 13-20-26-27-13z"/><path fill="#dd3" d="M2702 945l27 12-20-26-27-12z"/><path fill="#ec3" d="M2675 933l27 12-20-26-27-12z"/><path fill="#ec3" d="M2648 923l27 10-20-26-27-10z"/><path fill="#eb3" d="M2621 913l27 10-20-26-27-10z"/><path fill="#fb3" d="M2594 904l27 9-20-26-27-9z"/><path fill="#fb3" d="M2567 896l27 8-20-26-27-8z"/><path fill="#fa3" d="M2540 889l27 7-20-26-27-7z"/><path fill="#fa3" d="M2513 883l27 6-20-26-28-6z"/><path fill="#f93" d="M2486 878l27 5-21-26-27-6z"/><path fill="#f93" d="M2459 873l27 5-21-27-27-4z"/><path fill="#f82" d="M2432 870l27 3-21-26-27-4z"/><path fill="#f82" d="M2405 867l27 3-21-27-27-2z"/><path fill="#f82" d="M2378 865l27 2-21-26-27-2z"/><path fill="#f72" d="M2351 864l27 1-21-26-27-1z"/><path fill="#f72" d="M2324 864l27 0-21-26-27 0z"/><path fill="#f72" d="M2297 865l27-1-21-26-27 1z"/><path fill="#f72" d="M2270 867l27-2-21-26-27 2z"/><path fill="#e61" d="M2243 869l27-2-21-26-27 2z"/><path fill="#e61" d="M2216 873l27-4-21-26-27 4z"/><path fill="#e61" d="M2189 877l27-4-21-26-27 4z"/><path fill="#e61" d="M2162 883l27-6-21-26-27 5z"/><path fill="#e61" d="M2135 889l27-6-21-27-27 7z"/><path fill="#e61" d="M2107 896l28-7-21-26-27 7z"/><path fill="#e61" d="M2080 904l27-8-20-26-27 8z"/><path fill="#e61" d="M2053 912l27-8-20-26-27 8z"/><path fill="#e61" d="M2026 922l27-10-20-26-27 10z"/><path fill="#e61" d="M1999 933l27-11-20-26-27 11z"/><path fill="#f72" d="M1972 944l27-11-20-26-27 11z"/><path fill="#f72" d="M1945 956l27-12-20-26-27 12z"/><path fill="#f72" d="M1918 970l27-14-20-26-27 14z"/><path fill="#f72" d="M1891 984l27-14-20-26-27 14z"/><path fill="#f72" d="M1864 999l27-15-20-26-27 15z"/><path fill="#f82" d="M1837 1014l27-15-20-26-27 15z"/><path fill="#f82" d="M1810 1031l27-17-20-26-27 17z"/><path fill="#f82" d="M1783 1049l27-18-20-26-27 18z"/><path fill="#f93" d="M1756 1067l27-18-20-26-28 18z"/><path fill="#f93" d="M1729 1087l27-20-21-26-27 20z"/><path fill="#fa3" d="M1702 1107l27-20-21-26-27 20z"/><path fill="#fa3" d="M1675 1128l27-21-21-26-27 21z"/><path fill="#fb3" d="M1648 1150l27-22-21-26-27 22z"/><path fill="#fb3" d="M1621 1173l27-23-21-26-27 23z"/><path fill="#ec3" d="M1594 1197l27-24-21-26-27 24z"/><path fill="#ec3" d="M1567 1221l27-24-21-26-27 24z"/><path fill="#ed3" d="M1540 1247l27-26-21-26-27 26z"/><path fill="#dd3" d="M1513 1273l27-26-21-26-27 26z"/><path fill="#dd3" d="M1486 1301l27-28-21-26-27 27z"/><path fill="#ce3" d="M1459 1329l27-28-21-27-27 29z"/><path fill="#be3" d="M1432 1358l27-29-21-26-27 29z"/><path fill="#bf3" d="M1405 1388l27-30-21-26-27 30z"/><path fill="#af3" d="M1378 1419l27-31-21-26-27 30z"/><path fill="#9f4" d="M1350 1450l28-31-21-27-27 32z"/><path fill="#8f5" d="M1323 1483l27-33-20-26-27 33z"/><path fill="#7f6" d="M1296 1516l27-33-20-26-27 33z"/><path fill="#af3" d="M2831 1026l27 16-21-27-27-16z"/><path fill="#be3" d="M2804 1011l27 15-21-27-27-15z"/><path fill="#ce3" d="M2777 997l27 14-21-27-27-14z"/><path fill="#ce3" d="M2750 984l27 13-21-27-27-13z"/><path fill="#dd3" d="M2723 971l27 13-21-27-27-12z"/><path fill="#dd3" d="M2696 960l27 11-21-26-27-12z"/><path fill="#ec3" d="M2669 949l27 11-21-27-27-10z"/><path fill="#ec3" d="M2642 940l27 9-21-26-27-10z"/><path fill="#ec3" d="M2615 931l27 9-21-27-27-9z"/><path fill="#fb3" d="M2588 923l27 8-21-27-27-8z"/><path fill="#fb3" d="M2561 916l27 7-21-27-27-7z"/><path fill="#fa3" d="M2534 909l27 7-21-27-27-6z"/><path fill="#fa3" d="M2506 904l28 5-21-26-27-5z"/><path fill="#f93" d="M2479 900l27 4-20-26-27-5z"/><path fill="#f93" d="M2452 896l27 4-20-27-27-3z"/><path fill="#f92" d="M2425 894l27 2-20-26-27-3z"/><path fill="#f82" d="M2398 892l27 2-20-27-27-2z"/><path fill="#f82" d="M2371 891l27 1-20-27-27-1z"/><path fill="#f82" d="M2344 891l27 0-20-27-27 0z"/><path fill="#f72" d="M2317 892l27-1-20-27-27 1z"/><path fill="#f72" d="M2290 893l27-1-20-27-27 2z"/><path fill="#f72" d="M2263 896l27-3-20-26-27 2z"/><path fill="#f72" d="M2236 900l27-4-20-27-27 4z"/><path fill="#f72" d="M2209 904l27-4-20-27-27 4z"/><path fill="#f72" d="M2182 909l27-5-20-27-27 6z"/><path fill="#f72" d="M2155 915l27-6-20-26-27 6z"/><path fill="#f72" d="M2128 922l27-7-20-26-28 7z"/><path fill="#f72" d="M2101 930l27-8-21-26-27 8z"/><path fill="#f72" d="M2074 939l27-9-21-26-27 8z"/><path fill="#f72" d="M2047 949l27-10-21-27-27 10z"/><path fill="#f72" d="M2020 959l27-10-21-27-27 11z"/><path fill="#f72" d="M1993 971l27-12-21-26-27 11z"/><path fill="#f72" d="M1966 983l27-12-21-27-27 12z"/><path fill="#f82" d="M1939 996l27-13-21-27-27 14z"/><path fill="#f82" d="M1912 1010l27-14-21-26-27 14z"/><path fill="#f82" d="M1885 1025l27-15-21-26-27 15z"/><path fill="#f82" d="M1858 1041l27-16-21-26-27 15z"/><path fill="#f93" d="M1831 1058l27-17-21-27-27 17z"/><path fill="#f93" d="M1804 1075l27-17-21-27-27 18z"/><path fill="#fa3" d="M1777 1094l27-19-21-26-27 18z"/><path fill="#fa3" d="M1750 1113l27-19-21-27-27 20z"/><path fill="#fa3" d="M1722 1133l28-20-21-26-27 20z"/><path fill="#fb3" d="M1695 1155l27-22-20-26-27 21z"/><path fill="#fb3" d="M1668 1177l27-22-20-27-27 22z"/><path fill="#ec3" d="M1641 1199l27-22-20-27-27 23z"/><path fill="#ec3" d="M1614 1223l27-24-20-26-27 24z"/><path fill="#ed3" d="M1587 1248l27-25-20-26-27 24z"/><path fill="#dd3" d="M1560 1273l27-25-20-27-27 26z"/><path fill="#dd3" d="M1533 1300l27-27-20-26-27 26z"/><path fill="#ce3" d="M1506 1327l27-27-20-27-27 28z"/><path fill="#be3" d="M1479 1355l27-28-20-26-27 28z"/><path fill="#bf3" d="M1452 1384l27-29-20-26-27 29z"/><path fill="#af3" d="M1425 1414l27-30-20-26-27 30z"/><path fill="#9f4" d="M1398 1445l27-31-20-26-27 31z"/><path fill="#8f4" d="M1371 1477l27-32-20-26-28 31z"/><path fill="#7f5" d="M1344 1509l27-32-21-27-27 33z"/><path fill="#6f6" d="M1317 1543l27-34-21-26-27 33z"/><path fill="#af4" d="M2851 1053l27 16-20-27-27-16z"/><path fill="#af3" d="M2824 1038l27 15-20-27-27-15z"/><path fill="#be3" d="M2797 1024l27 14-20-27-27-14z"/><path fill="#ce3" d="M2770 1011l27 13-20-27-27-13z"/><path fill="#ce3" d="M2743 999l27 12-20-27-27-13z"/><path fill="#dd3" d="M2716 987l27 12-20-28-27-11z"/><path fill="#dd3" d="M2689 977l27 10-20-27-27-11z"/><path fill="#ec3" d="M2662 967l27 10-20-28-27-9z"/><path fill="#ec3" d="M2635 958l27 9-20-27-27-9z"/><path fill="#ec3" d="M2608 950l27 8-20-27-27-8z"/><path fill="#fb3" d="M2581 943l27 7-20-27-27-7z"/><path fill="#fb3" d="M2554 937l27 6-20-27-27-7z"/><path fill="#fa3" d="M2527 931l27 6-20-28-28-5z"/><path fill="#fa3" d="M2500 927l27 4-21-27-27-4z"/><path fill="#fa3" d="M2473 923l27 4-21-27-27-4z"/><path fill="#f93" d="M2446 921l27 2-21-27-27-2z"/><path fill="#f93" d="M2419 919l27 2-21-27-27-2z"/><path fill="#f92" d="M2392 918l27 1-21-27-27-1z"/><path fill="#f82" d="M2365 918l27 0-21-27-27 0z"/><path fill="#f82" d="M2338 919l27-1-21-27-27 1z"/><path fill="#f82" d="M2311 921l27-2-21-27-27 1z"/><path fill="#f82" d="M2284 923l27-2-21-28-27 3z"/><path fill="#f82" d="M2257 927l27-4-21-27-27 4z"/><path fill="#f82" d="M2230 931l27-4-21-27-27 4z"/><path fill="#f72" d="M2203 936l27-5-21-27-27 5z"/><path fill="#f72" d="M2176 943l27-7-21-27-27 6z"/><path fill="#f72" d="M2149 950l27-7-21-28-27 7z"/><path fill="#f72" d="M2121 958l28-8-21-28-27 8z"/><path fill="#f72" d="M2094 966l27-8-20-28-27 9z"/><path fill="#f82" d="M2067 976l27-10-20-27-27 10z"/><path fill="#f82" d="M2040 987l27-11-20-27-27 10z"/><path fill="#f82" d="M2013 998l27-11-20-28-27 12z"/><path fill="#f82" d="M1986 1010l27-12-20-27-27 12z"/><path fill="#f82" d="M1959 1023l27-13-20-27-27 13z"/><path fill="#f82" d="M1932 1038l27-15-20-27-27 14z"/><path fill="#f93" d="M1905 1052l27-14-20-28-27 15z"/><path fill="#f93" d="M1878 1068l27-16-20-27-27 16z"/><path fill="#f93" d="M1851 1085l27-17-20-27-27 17z"/><path fill="#fa3" d="M1824 1103l27-18-20-27-27 17z"/><path fill="#fa3" d="M1797 1121l27-18-20-28-27 19z"/><path fill="#fb3" d="M1770 1140l27-19-20-27-27 19z"/><path fill="#fb3" d="M1743 1161l27-21-20-27-28 20z"/><path fill="#fb3" d="M1716 1182l27-21-21-28-27 22z"/><path fill="#ec3" d="M1689 1204l27-22-21-27-27 22z"/><path fill="#ec3" d="M1662 1227l27-23-21-27-27 22z"/><path fill="#ed3" d="M1635 1251l27-24-21-28-27 24z"/><path fill="#dd3" d="M1608 1275l27-24-21-28-27 25z"/><path fill="#dd3" d="M1581 1301l27-26-21-27-27 25z"/><path fill="#ce3" d="M1554 1327l27-26-21-28-27 27z"/><path fill="#ce3" d="M1527 1354l27-27-21-27-27 27z"/><path fill="#be3" d="M1500 1383l27-29-21-27-27 28z"/><path fill="#af3" d="M1473 1412l27-29-21-28-27 29z"/><path fill="#9f4" d="M1446 1442l27-30-21-28-27 30z"/><path fill="#8f4" d="M1419 1472l27-30-21-28-27 31z"/><path fill="#7f5" d="M1392 1504l27-32-21-27-27 32z"/><path fill="#6f6" d="M1365 1537l27-33-21-27-27 32z"/><path fill="#5f7" d="M1337 1570l28-33-21-28-27 34z"/><path fill="#9f4" d="M2872 1081l27 16-21-28-27-16z"/><path fill="#af3" d="M2845 1066l27 15-21-28-27-15z"/><path fill="#af3" d="M2818 1052l27 14-21-28-27-14z"/><path fill="#be3" d="M2791 1039l27 13-21-28-27-13z"/><path fill="#ce3" d="M2764 1026l27 13-21-28-27-12z"/><path fill="#ce3" d="M2737 1015l27 11-21-27-27-12z"/><path fill="#dd3" d="M2710 1004l27 11-21-28-27-10z"/><path fill="#dd3" d="M2683 995l27 9-21-27-27-10z"/><path fill="#ed3" d="M2656 986l27 9-21-28-27-9z"/><path fill="#ec3" d="M2629 978l27 8-21-28-27-8z"/><path fill="#ec3" d="M2602 971l27 7-21-28-27-7z"/><path fill="#fb3" d="M2575 965l27 6-21-28-27-6z"/><path fill="#fb3" d="M2548 959l27 6-21-28-27-6z"/><path fill="#fb3" d="M2521 955l27 4-21-28-27-4z"/><path fill="#fa3" d="M2493 951l28 4-21-28-27-4z"/><path fill="#fa3" d="M2466 949l27 2-20-28-27-2z"/><path fill="#fa3" d="M2439 947l27 2-20-28-27-2z"/><path fill="#f93" d="M2412 946l27 1-20-28-27-1z"/><path fill="#f93" d="M2385 946l27 0-20-28-27 0z"/><path fill="#f93" d="M2358 947l27-1-20-28-27 1z"/><path fill="#f92" d="M2331 949l27-2-20-28-27 2z"/><path fill="#f82" d="M2304 951l27-2-20-28-27 2z"/><path fill="#f82" d="M2277 955l27-4-20-28-27 4z"/><path fill="#f82" d="M2250 959l27-4-20-28-27 4z"/><path fill="#f82" d="M2223 964l27-5-20-28-27 5z"/><path fill="#f82" d="M2196 970l27-6-20-28-27 7z"/><path fill="#f82" d="M2169 977l27-7-20-27-27 7z"/><path fill="#f82" d="M2142 985l27-8-20-27-28 8z"/><path fill="#f82" d="M2115 994l27-9-21-27-27 8z"/><path fill="#f82" d="M2088 1004l27-10-21-28-27 10z"/><path fill="#f82" d="M2061 1014l27-10-21-28-27 11z"/><path fill="#f82" d="M2034 1026l27-12-21-27-27 11z"/><path fill="#f93" d="M2007 1038l27-12-21-28-27 12z"/><path fill="#f93" d="M1980 1051l27-13-21-28-27 13z"/><path fill="#f93" d="M1953 1065l27-14-21-28-27 15z"/><path fill="#f93" d="M1926 1080l27-15-21-27-27 14z"/><path fill="#fa3" d="M1899 1096l27-16-21-28-27 16z"/><path fill="#fa3" d="M1872 1113l27-17-21-28-27 17z"/><path fill="#fa3" d="M1845 1130l27-17-21-28-27 18z"/><path fill="#fb3" d="M1818 1149l27-19-21-27-27 18z"/><path fill="#fb3" d="M1791 1168l27-19-21-28-27 19z"/><path fill="#eb3" d="M1764 1189l27-21-21-28-27 21z"/><path fill="#ec3" d="M1736 1210l28-21-21-28-27 21z"/><path fill="#ec3" d="M1709 1232l27-22-20-28-27 22z"/><path fill="#ed3" d="M1682 1255l27-23-20-28-27 23z"/><path fill="#dd3" d="M1655 1278l27-23-20-28-27 24z"/><path fill="#dd3" d="M1628 1303l27-25-20-27-27 24z"/><path fill="#ce3" d="M1601 1329l27-26-20-28-27 26z"/><path fill="#ce3" d="M1574 1355l27-26-20-28-27 26z"/><path fill="#be3" d="M1547 1382l27-27-20-28-27 27z"/><path fill="#af3" d="M1520 1410l27-28-20-28-27 29z"/><path fill="#9f4" d="M1493 1439l27-29-20-27-27 29z"/><path fill="#9f4" d="M1466 1469l27-30-20-27-27 30z"/><path fill="#8f5" d="M1439 1500l27-31-20-27-27 30z"/><path fill="#6f6" d="M1412 1532l27-32-20-28-27 32z"/><path fill="#5f7" d="M1385 1564l27-32-20-28-27 33z"/><path fill="#4f8" d="M1358 1598l27-34-20-27-28 33z"/><path fill="#8f4" d="M2892 1110l28 16-21-29-27-16z"/><path fill="#9f4" d="M2865 1095l27 15-20-29-27-15z"/><path fill="#af3" d="M2838 1081l27 14-20-29-27-14z"/><path fill="#bf3" d="M2811 1067l27 14-20-29-27-13z"/><path fill="#be3" d="M2784 1055l27 12-20-28-27-13z"/><path fill="#ce3" d="M2757 1043l27 12-20-29-27-11z"/><path fill="#ce3" d="M2730 1033l27 10-20-28-27-11z"/><path fill="#dd3" d="M2703 1023l27 10-20-29-27-9z"/><path fill="#dd3" d="M2676 1014l27 9-20-28-27-9z"/><path fill="#ed3" d="M2649 1006l27 8-20-28-27-8z"/><path fill="#ec3" d="M2622 999l27 7-20-28-27-7z"/><path fill="#ec3" d="M2595 993l27 6-20-28-27-6z"/><path fill="#ec3" d="M2568 988l27 5-20-28-27-6z"/><path fill="#fb3" d="M2541 983l27 5-20-29-27-4z"/><path fill="#fb3" d="M2514 980l27 3-20-28-28-4z"/><path fill="#fb3" d="M2487 977l27 3-21-29-27-2z"/><path fill="#fa3" d="M2460 975l27 2-21-28-27-2z"/><path fill="#fa3" d="M2433 974l27 1-21-28-27-1z"/><path fill="#fa3" d="M2406 974l27 0-21-28-27 0z"/><path fill="#fa3" d="M2379 975l27-1-21-28-27 1z"/><path fill="#f93" d="M2352 977l27-2-21-28-27 2z"/><path fill="#f93" d="M2325 980l27-3-21-28-27 2z"/><path fill="#f93" d="M2298 983l27-3-21-29-27 4z"/><path fill="#f93" d="M2271 987l27-4-21-28-27 4z"/><path fill="#f93" d="M2244 993l27-6-21-28-27 5z"/><path fill="#f93" d="M2217 999l27-6-21-29-27 6z"/><path fill="#f93" d="M2190 1006l27-7-21-29-27 7z"/><path fill="#f93" d="M2163 1014l27-8-21-29-27 8z"/><path fill="#f93" d="M2136 1023l27-9-21-29-27 9z"/><path fill="#f93" d="M2108 1032l28-9-21-29-27 10z"/><path fill="#f93" d="M2081 1043l27-11-20-28-27 10z"/><path fill="#f93" d="M2054 1054l27-11-20-29-27 12z"/><path fill="#f93" d="M2027 1067l27-13-20-28-27 12z"/><path fill="#fa3" d="M2000 1080l27-13-20-29-27 13z"/><path fill="#fa3" d="M1973 1094l27-14-20-29-27 14z"/><path fill="#fa3" d="M1946 1109l27-15-20-29-27 15z"/><path fill="#fa3" d="M1919 1125l27-16-20-29-27 16z"/><path fill="#fb3" d="M1892 1141l27-16-20-29-27 17z"/><path fill="#fb3" d="M1865 1159l27-18-20-28-27 17z"/><path fill="#fb3" d="M1838 1177l27-18-20-29-27 19z"/><path fill="#ec3" d="M1811 1197l27-20-20-28-27 19z"/><path fill="#ec3" d="M1784 1217l27-20-20-29-27 21z"/><path fill="#ec3" d="M1757 1238l27-21-20-28-28 21z"/><path fill="#ed3" d="M1730 1260l27-22-21-28-27 22z"/><path fill="#dd3" d="M1703 1283l27-23-21-28-27 23z"/><path fill="#dd3" d="M1676 1307l27-24-21-28-27 23z"/><path fill="#ce3" d="M1649 1331l27-24-21-29-27 25z"/><path fill="#ce3" d="M1622 1357l27-26-21-28-27 26z"/><path fill="#be3" d="M1595 1383l27-26-21-28-27 26z"/><path fill="#af3" d="M1568 1411l27-28-21-28-27 27z"/><path fill="#af4" d="M1541 1439l27-28-21-29-27 28z"/><path fill="#9f4" d="M1514 1468l27-29-21-29-27 29z"/><path fill="#8f5" d="M1487 1498l27-30-21-29-27 30z"/><path fill="#7f6" d="M1460 1529l27-31-21-29-27 31z"/><path fill="#5f7" d="M1433 1560l27-31-21-29-27 32z"/><path fill="#4f8" d="M1406 1593l27-33-21-28-27 32z"/><path fill="#3e9" d="M1379 1626l27-33-21-29-27 34z"/><path fill="#7f5" d="M2913 1139l27 16-20-29-28-16z"/><path fill="#8f4" d="M2886 1124l27 15-21-29-27-15z"/><path fill="#9f4" d="M2859 1110l27 14-21-29-27-14z"/><path fill="#af3" d="M2832 1096l27 14-21-29-27-14z"/><path fill="#bf3" d="M2805 1084l27 12-21-29-27-12z"/><path fill="#be3" d="M2778 1073l27 11-21-29-27-12z"/><path fill="#ce3" d="M2751 1062l27 11-21-30-27-10z"/><path fill="#ce3" d="M2724 1052l27 10-21-29-27-10z"/><path fill="#dd3" d="M2697 1043l27 9-21-29-27-9z"/><path fill="#dd3" d="M2670 1035l27 8-21-29-27-8z"/><path fill="#dd3" d="M2643 1028l27 7-21-29-27-7z"/><path fill="#ec3" d="M2616 1022l27 6-21-29-27-6z"/><path fill="#ec3" d="M2589 1017l27 5-21-29-27-5z"/><path fill="#ec3" d="M2562 1012l27 5-21-29-27-5z"/><path fill="#eb3" d="M2535 1009l27 3-21-29-27-3z"/><path fill="#fb3" d="M2507 1006l28 3-21-29-27-3z"/><path fill="#fb3" d="M2480 1004l27 2-20-29-27-2z"/><path fill="#fb3" d="M2453 1003l27 1-20-29-27-1z"/><path fill="#fa3" d="M2426 1003l27 0-20-29-27 0z"/><path fill="#fa3" d="M2399 1004l27-1-20-29-27 1z"/><path fill="#fa3" d="M2372 1006l27-2-20-29-27 2z"/><path fill="#fa3" d="M2345 1009l27-3-20-29-27 3z"/><path fill="#fa3" d="M2318 1012l27-3-20-29-27 3z"/><path fill="#fa3" d="M2291 1017l27-5-20-29-27 4z"/><path fill="#fa3" d="M2264 1022l27-5-20-30-27 6z"/><path fill="#f93" d="M2237 1028l27-6-20-29-27 6z"/><path fill="#f93" d="M2210 1035l27-7-20-29-27 7z"/><path fill="#fa3" d="M2183 1043l27-8-20-29-27 8z"/><path fill="#fa3" d="M2156 1052l27-9-20-29-27 9z"/><path fill="#fa3" d="M2129 1061l27-9-20-29-28 9z"/><path fill="#fa3" d="M2102 1072l27-11-21-29-27 11z"/><path fill="#fa3" d="M2075 1083l27-11-21-29-27 11z"/><path fill="#fa3" d="M2048 1096l27-13-21-29-27 13z"/><path fill="#fa3" d="M2021 1109l27-13-21-29-27 13z"/><path fill="#fb3" d="M1994 1123l27-14-21-29-27 14z"/><path fill="#fb3" d="M1967 1138l27-15-21-29-27 15z"/><path fill="#fb3" d="M1940 1154l27-16-21-29-27 16z"/><path fill="#fb3" d="M1913 1170l27-16-21-29-27 16z"/><path fill="#ec3" d="M1886 1188l27-18-21-29-27 18z"/><path fill="#ec3" d="M1859 1206l27-18-21-29-27 18z"/><path fill="#ec3" d="M1832 1226l27-20-21-29-27 20z"/><path fill="#ec3" d="M1805 1246l27-20-21-29-27 20z"/><path fill="#dd3" d="M1778 1267l27-21-21-29-27 21z"/><path fill="#dd3" d="M1751 1289l27-22-21-29-27 22z"/><path fill="#dd3" d="M1723 1312l28-23-21-29-27 23z"/><path fill="#ce3" d="M1696 1336l27-24-20-29-27 24z"/><path fill="#ce3" d="M1669 1360l27-24-20-29-27 24z"/><path fill="#be3" d="M1642 1386l27-26-20-29-27 26z"/><path fill="#af3" d="M1615 1412l27-26-20-29-27 26z"/><path fill="#af4" d="M1588 1440l27-28-20-29-27 28z"/><path fill="#9f4" d="M1561 1468l27-28-20-29-27 28z"/><path fill="#8f5" d="M1534 1497l27-29-20-29-27 29z"/><path fill="#7f5" d="M1507 1527l27-30-20-29-27 30z"/><path fill="#6f6" d="M1480 1558l27-31-20-29-27 31z"/><path fill="#5f7" d="M1453 1589l27-31-20-29-27 31z"/><path fill="#3e9" d="M1426 1622l27-33-20-29-27 33z"/><path fill="#2ea" d="M1399 1655l27-33-20-29-27 33z"/><path fill="#6f6" d="M2934 1168l27 16-21-29-27-16z"/><path fill="#7f5" d="M2907 1153l27 15-21-29-27-15z"/><path fill="#8f4" d="M2879 1139l28 14-21-29-27-14z"/><path fill="#9f4" d="M2852 1126l27 13-20-29-27-14z"/><path fill="#af3" d="M2825 1114l27 12-20-30-27-12z"/><path fill="#af3" d="M2798 1102l27 12-20-30-27-11z"/><path fill="#be3" d="M2771 1092l27 10-20-29-27-11z"/><path fill="#ce3" d="M2744 1082l27 10-20-30-27-10z"/><path fill="#ce3" d="M2717 1073l27 9-20-30-27-9z"/><path fill="#dd3" d="M2690 1065l27 8-20-30-27-8z"/><path fill="#dd3" d="M2663 1058l27 7-20-30-27-7z"/><path fill="#dd3" d="M2636 1052l27 6-20-30-27-6z"/><path fill="#ed3" d="M2609 1046l27 6-20-30-27-5z"/><path fill="#ec3" d="M2582 1042l27 4-20-29-27-5z"/><path fill="#ec3" d="M2555 1039l27 3-20-30-27-3z"/><path fill="#ec3" d="M2528 1036l27 3-20-30-28-3z"/><path fill="#eb3" d="M2501 1034l27 2-21-30-27-2z"/><path fill="#fb3" d="M2474 1033l27 1-21-30-27-1z"/><path fill="#fb3" d="M2447 1033l27 0-21-30-27 0z"/><path fill="#fb3" d="M2420 1034l27-1-21-30-27 1z"/><path fill="#fb3" d="M2393 1036l27-2-21-30-27 2z"/><path fill="#fb3" d="M2366 1038l27-2-21-30-27 3z"/><path fill="#fa3" d="M2339 1042l27-4-21-29-27 3z"/><path fill="#fa3" d="M2312 1046l27-4-21-30-27 5z"/><path fill="#fa3" d="M2285 1051l27-5-21-29-27 5z"/><path fill="#fa3" d="M2258 1058l27-7-21-29-27 6z"/><path fill="#fa3" d="M2231 1065l27-7-21-30-27 7z"/><path fill="#fa3" d="M2204 1072l27-7-21-30-27 8z"/><path fill="#fa3" d="M2177 1081l27-9-21-29-27 9z"/><path fill="#fa3" d="M2150 1091l27-10-21-29-27 9z"/><path fill="#fa3" d="M2122 1101l28-10-21-30-27 11z"/><path fill="#fb3" d="M2095 1113l27-12-20-29-27 11z"/><path fill="#fb3" d="M2068 1125l27-12-20-30-27 13z"/><path fill="#fb3" d="M2041 1138l27-13-20-29-27 13z"/><path fill="#fb3" d="M2014 1152l27-14-20-29-27 14z"/><path fill="#fb3" d="M1987 1167l27-15-20-29-27 15z"/><path fill="#ec3" d="M1960 1183l27-16-20-29-27 16z"/><path fill="#ec3" d="M1933 1200l27-17-20-29-27 16z"/><path fill="#ec3" d="M1906 1218l27-18-20-30-27 18z"/><path fill="#ec3" d="M1879 1236l27-18-20-30-27 18z"/><path fill="#ed3" d="M1852 1255l27-19-20-30-27 20z"/><path fill="#dd3" d="M1825 1276l27-21-20-29-27 20z"/><path fill="#dd3" d="M1798 1297l27-21-20-30-27 21z"/><path fill="#ce3" d="M1771 1319l27-22-20-30-27 22z"/><path fill="#ce3" d="M1744 1342l27-23-20-30-28 23z"/><path fill="#be3" d="M1717 1365l27-23-21-30-27 24z"/><path fill="#be3" d="M1690 1390l27-25-21-29-27 24z"/><path fill="#af3" d="M1663 1416l27-26-21-30-27 26z"/><path fill="#af4" d="M1636 1442l27-26-21-30-27 26z"/><path fill="#9f4" d="M1609 1469l27-27-21-30-27 28z"/><path fill="#8f5" d="M1582 1497l27-28-21-29-27 28z"/><path fill="#7f5" d="M1555 1526l27-29-21-29-27 29z"/><path fill="#6f6" d="M1528 1556l27-30-21-29-27 30z"/><path fill="#5f7" d="M1501 1587l27-31-21-29-27 31z"/><path fill="#4e8" d="M1474 1619l27-32-21-29-27 31z"/><path fill="#3e9" d="M1447 1652l27-33-21-30-27 33z"/><path fill="#2ea" d="M1420 1685l27-33-21-30-27 33z"/><path fill="#5f7" d="M2954 1199l27 16-20-31-27-16z"/><path fill="#6f6" d="M2927 1184l27 15-20-31-27-15z"/><path fill="#7f5" d="M2900 1170l27 14-20-31-28-14z"/><path fill="#8f4" d="M2873 1156l27 14-21-31-27-13z"/><path fill="#9f4" d="M2846 1144l27 12-21-30-27-12z"/><path fill="#af3" d="M2819 1132l27 12-21-30-27-12z"/><path fill="#af3" d="M2792 1122l27 10-21-30-27-10z"/><path fill="#be3" d="M2765 1112l27 10-21-30-27-10z"/><path fill="#be3" d="M2738 1103l27 9-21-30-27-9z"/><path fill="#ce3" d="M2711 1095l27 8-21-30-27-8z"/><path fill="#ce3" d="M2684 1088l27 7-21-30-27-7z"/><path fill="#dd3" d="M2657 1082l27 6-21-30-27-6z"/><path fill="#dd3" d="M2630 1077l27 5-21-30-27-6z"/><path fill="#dd3" d="M2603 1072l27 5-21-31-27-4z"/><path fill="#ed3" d="M2576 1069l27 3-21-30-27-3z"/><path fill="#ec3" d="M2549 1066l27 3-21-30-27-3z"/><path fill="#ec3" d="M2522 1064l27 2-21-30-27-2z"/><path fill="#ec3" d="M2494 1063l28 1-21-30-27-1z"/><path fill="#ec3" d="M2467 1063l27 0-20-30-27 0z"/><path fill="#eb3" d="M2440 1064l27-1-20-30-27 1z"/><path fill="#fb3" d="M2413 1066l27-2-20-30-27 2z"/><path fill="#fb3" d="M2386 1069l27-3-20-30-27 2z"/><path fill="#fb3" d="M2359 1072l27-3-20-31-27 4z"/><path fill="#fb3" d="M2332 1076l27-4-20-30-27 4z"/><path fill="#fb3" d="M2305 1082l27-6-20-30-27 5z"/><path fill="#fb3" d="M2278 1088l27-6-20-31-27 7z"/><path fill="#fb3" d="M2251 1095l27-7-20-30-27 7z"/><path fill="#fb3" d="M2224 1103l27-8-20-30-27 7z"/><path fill="#fb3" d="M2197 1112l27-9-20-31-27 9z"/><path fill="#fb3" d="M2170 1121l27-9-20-31-27 10z"/><path fill="#fb3" d="M2143 1132l27-11-20-30-28 10z"/><path fill="#fb3" d="M2116 1143l27-11-21-31-27 12z"/><path fill="#fb3" d="M2089 1155l27-12-21-30-27 12z"/><path fill="#eb3" d="M2062 1169l27-14-21-30-27 13z"/><path fill="#ec3" d="M2035 1183l27-14-21-31-27 14z"/><path fill="#ec3" d="M2008 1198l27-15-21-31-27 15z"/><path fill="#ec3" d="M1981 1213l27-15-21-31-27 16z"/><path fill="#ec3" d="M1954 1230l27-17-21-30-27 17z"/><path fill="#ed3" d="M1927 1248l27-18-21-30-27 18z"/><path fill="#dd3" d="M1900 1266l27-18-21-30-27 18z"/><path fill="#dd3" d="M1873 1286l27-20-21-30-27 19z"/><path fill="#dd3" d="M1846 1306l27-20-21-31-27 21z"/><path fill="#ce3" d="M1819 1327l27-21-21-30-27 21z"/><path fill="#ce3" d="M1792 1349l27-22-21-30-27 22z"/><path fill="#be3" d="M1765 1372l27-23-21-30-27 23z"/><path fill="#bf3" d="M1737 1396l28-24-21-30-27 23z"/><path fill="#af3" d="M1710 1420l27-24-20-31-27 25z"/><path fill="#af4" d="M1683 1446l27-26-20-30-27 26z"/><path fill="#9f4" d="M1656 1472l27-26-20-30-27 26z"/><path fill="#8f5" d="M1629 1499l27-27-20-30-27 27z"/><path fill="#7f5" d="M1602 1528l27-29-20-30-27 28z"/><path fill="#6f6" d="M1575 1557l27-29-20-31-27 29z"/><path fill="#5f7" d="M1548 1587l27-30-20-31-27 30z"/><path fill="#4e8" d="M1521 1617l27-30-20-31-27 31z"/><path fill="#3e9" d="M1494 1649l27-32-20-30-27 32z"/><path fill="#2ea" d="M1467 1682l27-33-20-30-27 33z"/><path fill="#1db" d="M1440 1715l27-33-20-30-27 33z"/><path fill="#4f8" d="M2975 1230l27 15-21-30-27-16z"/><path fill="#5f7" d="M2948 1215l27 15-21-31-27-15z"/><path fill="#6f6" d="M2921 1200l27 15-21-31-27-14z"/><path fill="#7f5" d="M2893 1187l28 13-21-30-27-14z"/><path fill="#8f4" d="M2866 1175l27 12-20-31-27-12z"/><path fill="#9f4" d="M2839 1163l27 12-20-31-27-12z"/><path fill="#af4" d="M2812 1153l27 10-20-31-27-10z"/><path fill="#af3" d="M2785 1143l27 10-20-31-27-10z"/><path fill="#bf3" d="M2758 1134l27 9-20-31-27-9z"/><path fill="#be3" d="M2731 1126l27 8-20-31-27-8z"/><path fill="#ce3" d="M2704 1119l27 7-20-31-27-7z"/><path fill="#ce3" d="M2677 1113l27 6-20-31-27-6z"/><path fill="#ce3" d="M2650 1108l27 5-20-31-27-5z"/><path fill="#dd3" d="M2623 1103l27 5-20-31-27-5z"/><path fill="#dd3" d="M2596 1100l27 3-20-31-27-3z"/><path fill="#dd3" d="M2569 1097l27 3-20-31-27-3z"/><path fill="#ed3" d="M2542 1095l27 2-20-31-27-2z"/><path fill="#ec3" d="M2515 1094l27 1-20-31-28-1z"/><path fill="#ec3" d="M2488 1094l27 0-21-31-27 0z"/><path fill="#ec3" d="M2461 1095l27-1-21-31-27 1z"/><path fill="#ec3" d="M2434 1097l27-2-21-31-27 2z"/><path fill="#ec3" d="M2407 1099l27-2-21-31-27 3z"/><path fill="#ec3" d="M2380 1103l27-4-21-30-27 3z"/><path fill="#ec3" d="M2353 1107l27-4-21-31-27 4z"/><path fill="#eb3" d="M2326 1113l27-6-21-31-27 6z"/><path fill="#eb3" d="M2299 1119l27-6-21-31-27 6z"/><path fill="#eb3" d="M2272 1126l27-7-21-31-27 7z"/><path fill="#eb3" d="M2245 1134l27-8-21-31-27 8z"/><path fill="#ec3" d="M2218 1142l27-8-21-31-27 9z"/><path fill="#ec3" d="M2191 1152l27-10-21-30-27 9z"/><path fill="#ec3" d="M2164 1163l27-11-21-31-27 11z"/><path fill="#ec3" d="M2137 1174l27-11-21-31-27 11z"/><path fill="#ec3" d="M2109 1186l28-12-21-31-27 12z"/><path fill="#ec3" d="M2082 1199l27-13-20-31-27 14z"/><path fill="#ec3" d="M2055 1214l27-15-20-30-27 14z"/><path fill="#ec3" d="M2028 1228l27-14-20-31-27 15z"/><path fill="#ed3" d="M2001 1244l27-16-20-30-27 15z"/><path fill="#dd3" d="M1974 1261l27-17-20-31-27 17z"/><path fill="#dd3" d="M1947 1279l27-18-20-31-27 18z"/><path fill="#dd3" d="M1920 1297l27-18-20-31-27 18z"/><path fill="#ce3" d="M1893 1316l27-19-20-31-27 20z"/><path fill="#ce3" d="M1866 1337l27-21-20-30-27 20z"/><path fill="#ce3" d="M1839 1358l27-21-20-31-27 21z"/><path fill="#be3" d="M1812 1380l27-22-20-31-27 22z"/><path fill="#bf3" d="M1785 1403l27-23-20-31-27 23z"/><path fill="#af3" d="M1758 1426l27-23-20-31-28 24z"/><path fill="#9f4" d="M1731 1451l27-25-21-30-27 24z"/><path fill="#9f4" d="M1704 1477l27-26-21-31-27 26z"/><path fill="#8f5" d="M1677 1503l27-26-21-31-27 26z"/><path fill="#7f5" d="M1650 1530l27-27-21-31-27 27z"/><path fill="#6f6" d="M1623 1558l27-28-21-31-27 29z"/><path fill="#5f7" d="M1596 1588l27-30-21-30-27 29z"/><path fill="#4e8" d="M1569 1617l27-29-21-31-27 30z"/><path fill="#3e9" d="M1542 1648l27-31-21-30-27 30z"/><path fill="#2ea" d="M1515 1680l27-32-21-31-27 32z"/><path fill="#1db" d="M1488 1713l27-33-21-31-27 33z"/><path fill="#1dc" d="M1461 1746l27-33-21-31-27 33z"/><path fill="#3e9" d="M2995 1261l27 16-20-32-27-15z"/><path fill="#4f8" d="M2968 1246l27 15-20-31-27-15z"/><path fill="#5f7" d="M2941 1232l27 14-20-31-27-15z"/><path fill="#6f6" d="M2914 1219l27 13-20-32-28-13z"/><path fill="#7f5" d="M2887 1206l27 13-21-32-27-12z"/><path fill="#8f5" d="M2860 1195l27 11-21-31-27-12z"/><path fill="#9f4" d="M2833 1184l27 11-21-32-27-10z"/><path fill="#9f4" d="M2806 1174l27 10-21-31-27-10z"/><path fill="#af3" d="M2779 1166l27 8-21-31-27-9z"/><path fill="#bf3" d="M2752 1158l27 8-21-32-27-8z"/><path fill="#be3" d="M2725 1151l27 7-21-32-27-7z"/><path fill="#be3" d="M2698 1144l27 7-21-32-27-6z"/><path fill="#ce3" d="M2671 1139l27 5-21-31-27-5z"/><path fill="#ce3" d="M2644 1135l27 4-21-31-27-5z"/><path fill="#dd3" d="M2617 1131l27 4-21-32-27-3z"/><path fill="#dd3" d="M2590 1128l27 3-21-31-27-3z"/><path fill="#dd3" d="M2563 1127l27 1-21-31-27-2z"/><path fill="#dd3" d="M2536 1126l27 1-21-32-27-1z"/><path fill="#dd3" d="M2508 1126l28 0-21-32-27 0z"/><path fill="#ed3" d="M2481 1126l27 0-20-32-27 1z"/><path fill="#ec3" d="M2454 1128l27-2-20-31-27 2z"/><path fill="#ec3" d="M2427 1131l27-3-20-31-27 2z"/><path fill="#ec3" d="M2400 1134l27-3-20-32-27 4z"/><path fill="#ec3" d="M2373 1139l27-5-20-31-27 4z"/><path fill="#ec3" d="M2346 1144l27-5-20-32-27 6z"/><path fill="#ec3" d="M2319 1150l27-6-20-31-27 6z"/><path fill="#ec3" d="M2292 1157l27-7-20-31-27 7z"/><path fill="#ec3" d="M2265 1165l27-8-20-31-27 8z"/><path fill="#ec3" d="M2238 1174l27-9-20-31-27 8z"/><path fill="#ec3" d="M2211 1183l27-9-20-32-27 10z"/><path fill="#ec3" d="M2184 1194l27-11-20-31-27 11z"/><path fill="#ec3" d="M2157 1205l27-11-20-31-27 11z"/><path fill="#ed3" d="M2130 1218l27-13-20-31-28 12z"/><path fill="#ed3" d="M2103 1231l27-13-21-32-27 13z"/><path fill="#dd3" d="M2076 1245l27-14-21-32-27 15z"/><path fill="#dd3" d="M2049 1260l27-15-21-31-27 14z"/><path fill="#dd3" d="M2022 1276l27-16-21-32-27 16z"/><path fill="#dd3" d="M1995 1292l27-16-21-32-27 17z"/><path fill="#ce3" d="M1968 1310l27-18-21-31-27 18z"/><path fill="#ce3" d="M1941 1329l27-19-21-31-27 18z"/><path fill="#ce3" d="M1914 1348l27-19-21-32-27 19z"/><path fill="#be3" d="M1887 1368l27-20-21-32-27 21z"/><path fill="#be3" d="M1860 1389l27-21-21-31-27 21z"/><path fill="#af3" d="M1833 1411l27-22-21-31-27 22z"/><path fill="#af3" d="M1806 1434l27-23-21-31-27 23z"/><path fill="#9f4" d="M1779 1458l27-24-21-31-27 23z"/><path fill="#9f4" d="M1752 1482l27-24-21-32-27 25z"/><path fill="#8f5" d="M1724 1508l28-26-21-31-27 26z"/><path fill="#7f5" d="M1697 1534l27-26-20-31-27 26z"/><path fill="#6f6" d="M1670 1562l27-28-20-31-27 27z"/><path fill="#5f7" d="M1643 1590l27-28-20-32-27 28z"/><path fill="#4e8" d="M1616 1619l27-29-20-32-27 30z"/><path fill="#3e9" d="M1589 1649l27-30-20-31-27 29z"/><path fill="#2ea" d="M1562 1680l27-31-20-32-27 31z"/><path fill="#2db" d="M1535 1711l27-31-20-32-27 32z"/><path fill="#1db" d="M1508 1744l27-33-20-31-27 33z"/><path fill="#2cc" d="M1481 1777l27-33-20-31-27 33z"/><path fill="#2ea" d="M3016 1293l27 16-21-32-27-16z"/><path fill="#3e9" d="M2989 1278l27 15-21-32-27-15z"/><path fill="#4f8" d="M2962 1264l27 14-21-32-27-14z"/><path fill="#5f7" d="M2935 1251l27 13-21-32-27-13z"/><path fill="#6f6" d="M2908 1238l27 13-21-32-27-13z"/><path fill="#7f5" d="M2880 1227l28 11-21-32-27-11z"/><path fill="#8f5" d="M2853 1216l27 11-20-32-27-11z"/><path fill="#9f4" d="M2826 1207l27 9-20-32-27-10z"/><path fill="#9f4" d="M2799 1198l27 9-20-33-27-8z"/><path fill="#af3" d="M2772 1190l27 8-20-32-27-8z"/><path fill="#af3" d="M2745 1183l27 7-20-32-27-7z"/><path fill="#bf3" d="M2718 1176l27 7-20-32-27-7z"/><path fill="#be3" d="M2691 1171l27 5-20-32-27-5z"/><path fill="#be3" d="M2664 1167l27 4-20-32-27-4z"/><path fill="#ce3" d="M2637 1163l27 4-20-32-27-4z"/><path fill="#ce3" d="M2610 1160l27 3-20-32-27-3z"/><path fill="#ce3" d="M2583 1159l27 1-20-32-27-1z"/><path fill="#dd3" d="M2556 1158l27 1-20-32-27-1z"/><path fill="#dd3" d="M2529 1158l27 0-20-32-28 0z"/><path fill="#dd3" d="M2502 1159l27-1-21-32-27 0z"/><path fill="#dd3" d="M2475 1160l27-1-21-33-27 2z"/><path fill="#dd3" d="M2448 1163l27-3-21-32-27 3z"/><path fill="#dd3" d="M2421 1166l27-3-21-32-27 3z"/><path fill="#dd3" d="M2394 1171l27-5-21-32-27 5z"/><path fill="#ed3" d="M2367 1176l27-5-21-32-27 5z"/><path fill="#ed3" d="M2340 1182l27-6-21-32-27 6z"/><path fill="#ed3" d="M2313 1189l27-7-21-32-27 7z"/><path fill="#ed3" d="M2286 1197l27-8-21-32-27 8z"/><path fill="#ed3" d="M2259 1206l27-9-21-32-27 9z"/><path fill="#dd3" d="M2232 1215l27-9-21-32-27 9z"/><path fill="#dd3" d="M2205 1226l27-11-21-32-27 11z"/><path fill="#dd3" d="M2178 1237l27-11-21-32-27 11z"/><path fill="#dd3" d="M2151 1250l27-13-21-32-27 13z"/><path fill="#dd3" d="M2123 1263l28-13-21-32-27 13z"/><path fill="#dd3" d="M2096 1277l27-14-20-32-27 14z"/><path fill="#dd3" d="M2069 1292l27-15-20-32-27 15z"/><path fill="#ce3" d="M2042 1308l27-16-20-32-27 16z"/><path fill="#ce3" d="M2015 1324l27-16-20-32-27 16z"/><path fill="#ce3" d="M1988 1342l27-18-20-32-27 18z"/><path fill="#be3" d="M1961 1361l27-19-20-32-27 19z"/><path fill="#be3" d="M1934 1380l27-19-20-32-27 19z"/><path fill="#bf3" d="M1907 1400l27-20-20-32-27 20z"/><path fill="#af3" d="M1880 1421l27-21-20-32-27 21z"/><path fill="#af4" d="M1853 1443l27-22-20-32-27 22z"/><path fill="#9f4" d="M1826 1466l27-23-20-32-27 23z"/><path fill="#8f4" d="M1799 1490l27-24-20-32-27 24z"/><path fill="#8f5" d="M1772 1515l27-25-20-32-27 24z"/><path fill="#7f6" d="M1745 1540l27-25-20-33-28 26z"/><path fill="#6f6" d="M1718 1566l27-26-21-32-27 26z"/><path fill="#5f7" d="M1691 1594l27-28-21-32-27 28z"/><path fill="#4e8" d="M1664 1622l27-28-21-32-27 28z"/><path fill="#3e9" d="M1637 1651l27-29-21-32-27 29z"/><path fill="#2ea" d="M1610 1681l27-30-21-32-27 30z"/><path fill="#2db" d="M1583 1712l27-31-21-32-27 31z"/><path fill="#1db" d="M1556 1743l27-31-21-32-27 31z"/><path fill="#2cc" d="M1529 1776l27-33-21-32-27 33z"/><path fill="#2cd" d="M1502 1809l27-33-21-32-27 33z"/><path fill="#2ea" d="M3036 1326l27 16-20-33-27-16z"/><path fill="#2ea" d="M3009 1311l27 15-20-33-27-15z"/><path fill="#3e9" d="M2982 1297l27 14-20-33-27-14z"/><path fill="#4f8" d="M2955 1283l27 14-20-33-27-13z"/><path fill="#5f7" d="M2928 1271l27 12-20-32-27-13z"/><path fill="#6f6" d="M2901 1260l27 11-20-33-28-11z"/><path fill="#7f6" d="M2874 1249l27 11-21-33-27-11z"/><path fill="#8f5" d="M2847 1239l27 10-21-33-27-9z"/><path fill="#8f4" d="M2820 1230l27 9-21-32-27-9z"/><path fill="#9f4" d="M2793 1222l27 8-21-32-27-8z"/><path fill="#9f4" d="M2766 1215l27 7-21-32-27-7z"/><path fill="#af3" d="M2739 1209l27 6-21-32-27-7z"/><path fill="#af3" d="M2712 1204l27 5-21-33-27-5z"/><path fill="#bf3" d="M2685 1199l27 5-21-33-27-4z"/><path fill="#be3" d="M2658 1196l27 3-21-32-27-4z"/><path fill="#be3" d="M2631 1193l27 3-21-33-27-3z"/><path fill="#ce3" d="M2604 1191l27 2-21-33-27-1z"/><path fill="#ce3" d="M2577 1190l27 1-21-32-27-1z"/><path fill="#ce3" d="M2550 1190l27 0-21-32-27 0z"/><path fill="#ce3" d="M2523 1191l27-1-21-32-27 1z"/><path fill="#dd3" d="M2495 1193l28-2-21-32-27 1z"/><path fill="#dd3" d="M2468 1196l27-3-20-33-27 3z"/><path fill="#dd3" d="M2441 1199l27-3-20-33-27 3z"/><path fill="#dd3" d="M2414 1203l27-4-20-33-27 5z"/><path fill="#dd3" d="M2387 1209l27-6-20-32-27 5z"/><path fill="#dd3" d="M2360 1215l27-6-20-33-27 6z"/><path fill="#dd3" d="M2333 1222l27-7-20-33-27 7z"/><path fill="#dd3" d="M2306 1230l27-8-20-33-27 8z"/><path fill="#dd3" d="M2279 1238l27-8-20-33-27 9z"/><path fill="#dd3" d="M2252 1248l27-10-20-32-27 9z"/><path fill="#dd3" d="M2225 1259l27-11-20-33-27 11z"/><path fill="#dd3" d="M2198 1270l27-11-20-33-27 11z"/><path fill="#ce3" d="M2171 1282l27-12-20-33-27 13z"/><path fill="#ce3" d="M2144 1296l27-14-20-32-28 13z"/><path fill="#ce3" d="M2117 1310l27-14-21-33-27 14z"/><path fill="#ce3" d="M2090 1325l27-15-21-33-27 15z"/><path fill="#ce3" d="M2063 1340l27-15-21-33-27 16z"/><path fill="#be3" d="M2036 1357l27-17-21-32-27 16z"/><path fill="#be3" d="M2009 1375l27-18-21-33-27 18z"/><path fill="#bf3" d="M1982 1393l27-18-21-33-27 19z"/><path fill="#af3" d="M1955 1412l27-19-21-32-27 19z"/><path fill="#af3" d="M1928 1433l27-21-21-32-27 20z"/><path fill="#9f4" d="M1901 1454l27-21-21-33-27 21z"/><path fill="#9f4" d="M1874 1476l27-22-21-33-27 22z"/><path fill="#8f5" d="M1847 1499l27-23-21-33-27 23z"/><path fill="#7f5" d="M1820 1522l27-23-21-33-27 24z"/><path fill="#6f6" d="M1793 1547l27-25-21-32-27 25z"/><path fill="#5f7" d="M1766 1573l27-26-21-32-27 25z"/><path fill="#5f7" d="M1738 1599l28-26-21-33-27 26z"/><path fill="#4e8" d="M1711 1626l27-27-20-33-27 28z"/><path fill="#3e9" d="M1684 1654l27-28-20-32-27 28z"/><path fill="#2ea" d="M1657 1684l27-30-20-32-27 29z"/><path fill="#2eb" d="M1630 1713l27-29-20-33-27 30z"/><path fill="#1db" d="M1603 1744l27-31-20-32-27 31z"/><path fill="#2cc" d="M1576 1776l27-32-20-32-27 31z"/><path fill="#2cd" d="M1549 1809l27-33-20-33-27 33z"/><path fill="#2be" d="M1522 1842l27-33-20-33-27 33z"/><path fill="#1db" d="M3057 1359l27 16-21-33-27-16z"/><path fill="#2ea" d="M3030 1344l27 15-21-33-27-15z"/><path fill="#2ea" d="M3003 1330l27 14-21-33-27-14z"/><path fill="#3e9" d="M2976 1317l27 13-21-33-27-14z"/><path fill="#4e8" d="M2949 1304l27 13-21-34-27-12z"/><path fill="#5f7" d="M2922 1293l27 11-21-33-27-11z"/><path fill="#5f7" d="M2894 1282l28 11-21-33-27-11z"/><path fill="#6f6" d="M2867 1272l27 10-20-33-27-10z"/><path fill="#7f5" d="M2840 1264l27 8-20-33-27-9z"/><path fill="#8f5" d="M2813 1256l27 8-20-34-27-8z"/><path fill="#9f4" d="M2786 1249l27 7-20-34-27-7z"/><path fill="#9f4" d="M2759 1242l27 7-20-34-27-6z"/><path fill="#9f4" d="M2732 1237l27 5-20-33-27-5z"/><path fill="#af3" d="M2705 1233l27 4-20-33-27-5z"/><path fill="#af3" d="M2678 1229l27 4-20-34-27-3z"/><path fill="#bf3" d="M2651 1226l27 3-20-33-27-3z"/><path fill="#be3" d="M2624 1225l27 1-20-33-27-2z"/><path fill="#be3" d="M2597 1224l27 1-20-34-27-1z"/><path fill="#be3" d="M2570 1224l27 0-20-34-27 0z"/><path fill="#ce3" d="M2543 1224l27 0-20-34-27 1z"/><path fill="#ce3" d="M2516 1226l27-2-20-33-28 2z"/><path fill="#ce3" d="M2489 1229l27-3-21-33-27 3z"/><path fill="#ce3" d="M2462 1232l27-3-21-33-27 3z"/><path fill="#ce3" d="M2435 1237l27-5-21-33-27 4z"/><path fill="#ce3" d="M2408 1242l27-5-21-34-27 6z"/><path fill="#ce3" d="M2381 1248l27-6-21-33-27 6z"/><path fill="#ce3" d="M2354 1255l27-7-21-33-27 7z"/><path fill="#ce3" d="M2327 1263l27-8-21-33-27 8z"/><path fill="#ce3" d="M2300 1272l27-9-21-33-27 8z"/><path fill="#ce3" d="M2273 1281l27-9-21-34-27 10z"/><path fill="#ce3" d="M2246 1292l27-11-21-33-27 11z"/><path fill="#ce3" d="M2219 1303l27-11-21-33-27 11z"/><path fill="#ce3" d="M2192 1316l27-13-21-33-27 12z"/><path fill="#ce3" d="M2165 1329l27-13-21-34-27 14z"/><path fill="#be3" d="M2138 1343l27-14-21-33-27 14z"/><path fill="#be3" d="M2110 1358l28-15-21-33-27 15z"/><path fill="#be3" d="M2083 1374l27-16-20-33-27 15z"/><path fill="#bf3" d="M2056 1390l27-16-20-34-27 17z"/><path fill="#af3" d="M2029 1408l27-18-20-33-27 18z"/><path fill="#af3" d="M2002 1426l27-18-20-33-27 18z"/><path fill="#9f4" d="M1975 1446l27-20-20-33-27 19z"/><path fill="#9f4" d="M1948 1466l27-20-20-34-27 21z"/><path fill="#8f4" d="M1921 1487l27-21-20-33-27 21z"/><path fill="#8f5" d="M1894 1509l27-22-20-33-27 22z"/><path fill="#7f5" d="M1867 1532l27-23-20-33-27 23z"/><path fill="#6f6" d="M1840 1556l27-24-20-33-27 23z"/><path fill="#5f7" d="M1813 1580l27-24-20-34-27 25z"/><path fill="#4f8" d="M1786 1606l27-26-20-33-27 26z"/><path fill="#4e8" d="M1759 1632l27-26-20-33-28 26z"/><path fill="#3e9" d="M1732 1660l27-28-21-33-27 27z"/><path fill="#2ea" d="M1705 1688l27-28-21-34-27 28z"/><path fill="#2db" d="M1678 1717l27-29-21-34-27 30z"/><path fill="#1db" d="M1651 1747l27-30-21-33-27 29z"/><path fill="#2cc" d="M1624 1777l27-30-21-34-27 31z"/><path fill="#2cd" d="M1597 1809l27-32-21-33-27 32z"/><path fill="#2be" d="M1570 1842l27-33-21-33-27 33z"/><path fill="#3ae" d="M1543 1875l27-33-21-33-27 33z"/><path fill="#1dc" d="M3077 1393l27 16-20-34-27-16z"/><path fill="#1db" d="M3050 1378l27 15-20-34-27-15z"/><path fill="#2eb" d="M3023 1364l27 14-20-34-27-14z"/><path fill="#2ea" d="M2996 1350l27 14-20-34-27-13z"/><path fill="#3e9" d="M2969 1338l27 12-20-33-27-13z"/><path fill="#4e8" d="M2942 1327l27 11-20-34-27-11z"/><path fill="#4f8" d="M2915 1316l27 11-20-34-28-11z"/><path fill="#5f7" d="M2888 1306l27 10-21-34-27-10z"/><path fill="#6f6" d="M2861 1297l27 9-21-34-27-8z"/><path fill="#7f6" d="M2834 1289l27 8-21-33-27-8z"/><path fill="#7f5" d="M2807 1282l27 7-21-33-27-7z"/><path fill="#8f5" d="M2780 1276l27 6-21-33-27-7z"/><path fill="#9f4" d="M2753 1271l27 5-21-34-27-5z"/><path fill="#9f4" d="M2726 1266l27 5-21-34-27-4z"/><path fill="#9f4" d="M2699 1263l27 3-21-33-27-4z"/><path fill="#af3" d="M2672 1260l27 3-21-34-27-3z"/><path fill="#af3" d="M2645 1258l27 2-21-34-27-1z"/><path fill="#af3" d="M2618 1257l27 1-21-33-27-1z"/><path fill="#bf3" d="M2591 1257l27 0-21-33-27 0z"/><path fill="#be3" d="M2564 1258l27-1-21-33-27 0z"/><path fill="#be3" d="M2537 1260l27-2-21-34-27 2z"/><path fill="#be3" d="M2509 1263l28-3-21-34-27 3z"/><path fill="#be3" d="M2482 1266l27-3-20-34-27 3z"/><path fill="#be3" d="M2455 1270l27-4-20-34-27 5z"/><path fill="#be3" d="M2428 1276l27-6-20-33-27 5z"/><path fill="#be3" d="M2401 1282l27-6-20-34-27 6z"/><path fill="#be3" d="M2374 1289l27-7-20-34-27 7z"/><path fill="#be3" d="M2347 1297l27-8-20-34-27 8z"/><path fill="#be3" d="M2320 1305l27-8-20-34-27 9z"/><path fill="#be3" d="M2293 1315l27-10-20-33-27 9z"/><path fill="#be3" d="M2266 1326l27-11-20-34-27 11z"/><path fill="#be3" d="M2239 1337l27-11-20-34-27 11z"/><path fill="#be3" d="M2212 1349l27-12-20-34-27 13z"/><path fill="#be3" d="M2185 1363l27-14-20-33-27 13z"/><path fill="#bf3" d="M2158 1377l27-14-20-34-27 14z"/><path fill="#af3" d="M2131 1392l27-15-20-34-28 15z"/><path fill="#af3" d="M2104 1407l27-15-21-34-27 16z"/><path fill="#af3" d="M2077 1424l27-17-21-33-27 16z"/><path fill="#9f4" d="M2050 1442l27-18-21-34-27 18z"/><path fill="#9f4" d="M2023 1460l27-18-21-34-27 18z"/><path fill="#8f4" d="M1996 1480l27-20-21-34-27 20z"/><path fill="#8f5" d="M1969 1500l27-20-21-34-27 20z"/><path fill="#7f5" d="M1942 1521l27-21-21-34-27 21z"/><path fill="#6f6" d="M1915 1543l27-22-21-34-27 22z"/><path fill="#6f6" d="M1888 1566l27-23-21-34-27 23z"/><path fill="#5f7" d="M1861 1589l27-23-21-34-27 24z"/><path fill="#4f8" d="M1834 1614l27-25-21-33-27 24z"/><path fill="#3e9" d="M1807 1640l27-26-21-34-27 26z"/><path fill="#2e9" d="M1780 1666l27-26-21-34-27 26z"/><path fill="#2ea" d="M1753 1693l27-27-21-34-27 28z"/><path fill="#2db" d="M1725 1721l28-28-21-33-27 28z"/><path fill="#1db" d="M1698 1751l27-30-20-33-27 29z"/><path fill="#2cc" d="M1671 1780l27-29-20-34-27 30z"/><path fill="#2cd" d="M1644 1811l27-31-20-33-27 30z"/><path fill="#2be" d="M1617 1843l27-32-20-34-27 32z"/><path fill="#3ae" d="M1590 1876l27-33-20-34-27 33z"/><path fill="#39f" d="M1563 1909l27-33-20-34-27 33z"/><path fill="#2cd" d="M3098 1427l27 16-21-34-27-16z"/><path fill="#1dc" d="M3071 1412l27 15-21-34-27-15z"/><path fill="#1db" d="M3044 1398l27 14-21-34-27-14z"/><path fill="#2db" d="M3017 1385l27 13-21-34-27-14z"/><path fill="#2ea" d="M2990 1373l27 12-21-35-27-12z"/><path fill="#2e9" d="M2963 1361l27 12-21-35-27-11z"/><path fill="#3e9" d="M2936 1350l27 11-21-34-27-11z"/><path fill="#4f8" d="M2909 1341l27 9-21-34-27-10z"/><path fill="#5f7" d="M2881 1332l28 9-21-35-27-9z"/><path fill="#5f7" d="M2854 1324l27 8-20-35-27-8z"/><path fill="#6f6" d="M2827 1317l27 7-20-35-27-7z"/><path fill="#7f5" d="M2800 1311l27 6-20-35-27-6z"/><path fill="#8f5" d="M2773 1305l27 6-20-35-27-5z"/><path fill="#8f5" d="M2746 1301l27 4-20-34-27-5z"/><path fill="#9f4" d="M2719 1297l27 4-20-35-27-3z"/><path fill="#9f4" d="M2692 1295l27 2-20-34-27-3z"/><path fill="#9f4" d="M2665 1293l27 2-20-35-27-2z"/><path fill="#9f4" d="M2638 1292l27 1-20-35-27-1z"/><path fill="#af3" d="M2611 1292l27 0-20-35-27 0z"/><path fill="#af3" d="M2584 1293l27-1-20-35-27 1z"/><path fill="#af3" d="M2557 1294l27-1-20-35-27 2z"/><path fill="#af3" d="M2530 1297l27-3-20-34-28 3z"/><path fill="#bf3" d="M2503 1300l27-3-21-34-27 3z"/><path fill="#bf3" d="M2476 1305l27-5-21-34-27 4z"/><path fill="#bf3" d="M2449 1310l27-5-21-35-27 6z"/><path fill="#bf3" d="M2422 1316l27-6-21-34-27 6z"/><path fill="#bf3" d="M2395 1323l27-7-21-34-27 7z"/><path fill="#bf3" d="M2368 1331l27-8-21-34-27 8z"/><path fill="#bf3" d="M2341 1340l27-9-21-34-27 8z"/><path fill="#bf3" d="M2314 1350l27-10-21-35-27 10z"/><path fill="#af3" d="M2287 1360l27-10-21-35-27 11z"/><path fill="#af3" d="M2260 1372l27-12-21-34-27 11z"/><path fill="#af3" d="M2233 1384l27-12-21-35-27 12z"/><path fill="#af3" d="M2206 1397l27-13-21-35-27 14z"/><path fill="#af3" d="M2179 1411l27-14-21-34-27 14z"/><path fill="#9f4" d="M2152 1426l27-15-21-34-27 15z"/><path fill="#9f4" d="M2124 1442l28-16-21-34-27 15z"/><path fill="#9f4" d="M2097 1459l27-17-20-35-27 17z"/><path fill="#8f4" d="M2070 1476l27-17-20-35-27 18z"/><path fill="#8f5" d="M2043 1495l27-19-20-34-27 18z"/><path fill="#7f5" d="M2016 1514l27-19-20-35-27 20z"/><path fill="#7f6" d="M1989 1534l27-20-20-34-27 20z"/><path fill="#6f6" d="M1962 1555l27-21-20-34-27 21z"/><path fill="#5f7" d="M1935 1577l27-22-20-34-27 22z"/><path fill="#4f8" d="M1908 1600l27-23-20-34-27 23z"/><path fill="#4e8" d="M1881 1624l27-24-20-34-27 23z"/><path fill="#3e9" d="M1854 1649l27-25-20-35-27 25z"/><path fill="#2ea" d="M1827 1674l27-25-20-35-27 26z"/><path fill="#2ea" d="M1800 1700l27-26-20-34-27 26z"/><path fill="#1db" d="M1773 1728l27-28-20-34-27 27z"/><path fill="#1dc" d="M1746 1756l27-28-20-35-28 28z"/><path fill="#2cc" d="M1719 1785l27-29-21-35-27 30z"/><path fill="#2cd" d="M1692 1815l27-30-21-34-27 29z"/><path fill="#2be" d="M1665 1846l27-31-21-35-27 31z"/><path fill="#3ae" d="M1638 1877l27-31-21-35-27 32z"/><path fill="#3af" d="M1611 1910l27-33-21-34-27 33z"/><path fill="#49f" d="M1584 1943l27-33-21-34-27 33z"/><path fill="#2be" d="M3118 1462l27 16-20-35-27-16z"/><path fill="#2cd" d="M3091 1447l27 15-20-35-27-15z"/><path fill="#2cc" d="M3064 1433l27 14-20-35-27-14z"/><path fill="#1dc" d="M3037 1420l27 13-20-35-27-13z"/><path fill="#1db" d="M3010 1408l27 12-20-35-27-12z"/><path fill="#2ea" d="M2983 1396l27 12-20-35-27-12z"/><path fill="#2ea" d="M2956 1385l27 11-20-35-27-11z"/><path fill="#3e9" d="M2929 1376l27 9-20-35-27-9z"/><path fill="#4e8" d="M2902 1367l27 9-20-35-28-9z"/><path fill="#4f8" d="M2875 1359l27 8-21-35-27-8z"/><path fill="#5f7" d="M2848 1352l27 7-21-35-27-7z"/><path fill="#5f7" d="M2821 1346l27 6-21-35-27-6z"/><path fill="#6f6" d="M2794 1340l27 6-21-35-27-6z"/><path fill="#7f5" d="M2767 1336l27 4-21-35-27-4z"/><path fill="#7f5" d="M2740 1332l27 4-21-35-27-4z"/><path fill="#8f5" d="M2713 1330l27 2-21-35-27-2z"/><path fill="#8f4" d="M2686 1328l27 2-21-35-27-2z"/><path fill="#9f4" d="M2659 1327l27 1-21-35-27-1z"/><path fill="#9f4" d="M2632 1327l27 0-21-35-27 0z"/><path fill="#9f4" d="M2605 1328l27-1-21-35-27 1z"/><path fill="#9f4" d="M2578 1329l27-1-21-35-27 1z"/><path fill="#9f4" d="M2551 1332l27-3-21-35-27 3z"/><path fill="#af4" d="M2524 1336l27-4-21-35-27 3z"/><path fill="#af3" d="M2496 1340l28-4-21-36-27 5z"/><path fill="#af3" d="M2469 1345l27-5-20-35-27 5z"/><path fill="#af3" d="M2442 1351l27-6-20-35-27 6z"/><path fill="#af3" d="M2415 1358l27-7-20-35-27 7z"/><path fill="#af3" d="M2388 1366l27-8-20-35-27 8z"/><path fill="#af3" d="M2361 1375l27-9-20-35-27 9z"/><path fill="#af4" d="M2334 1385l27-10-20-35-27 10z"/><path fill="#af4" d="M2307 1395l27-10-20-35-27 10z"/><path fill="#9f4" d="M2280 1407l27-12-20-35-27 12z"/><path fill="#9f4" d="M2253 1419l27-12-20-35-27 12z"/><path fill="#9f4" d="M2226 1432l27-13-20-35-27 13z"/><path fill="#9f4" d="M2199 1446l27-14-20-35-27 14z"/><path fill="#8f4" d="M2172 1461l27-15-20-35-27 15z"/><path fill="#8f4" d="M2145 1477l27-16-20-35-28 16z"/><path fill="#8f5" d="M2118 1494l27-17-21-35-27 17z"/><path fill="#7f5" d="M2091 1511l27-17-21-35-27 17z"/><path fill="#7f6" d="M2064 1530l27-19-21-35-27 19z"/><path fill="#6f6" d="M2037 1549l27-19-21-35-27 19z"/><path fill="#5f7" d="M2010 1569l27-20-21-35-27 20z"/><path fill="#5f7" d="M1983 1590l27-21-21-35-27 21z"/><path fill="#4f8" d="M1956 1612l27-22-21-35-27 22z"/><path fill="#3e9" d="M1929 1635l27-23-21-35-27 23z"/><path fill="#3e9" d="M1902 1659l27-24-21-35-27 24z"/><path fill="#2ea" d="M1875 1684l27-25-21-35-27 25z"/><path fill="#2ea" d="M1848 1709l27-25-21-35-27 25z"/><path fill="#1db" d="M1821 1735l27-26-21-35-27 26z"/><path fill="#1dc" d="M1794 1763l27-28-21-35-27 28z"/><path fill="#2cc" d="M1767 1791l27-28-21-35-27 28z"/><path fill="#2cd" d="M1739 1820l28-29-21-35-27 29z"/><path fill="#2be" d="M1712 1850l27-30-20-35-27 30z"/><path fill="#3ae" d="M1685 1881l27-31-20-35-27 31z"/><path fill="#39f" d="M1658 1912l27-31-20-35-27 31z"/><path fill="#49f" d="M1631 1945l27-33-20-35-27 33z"/><path fill="#48f" d="M1604 1978l27-33-20-35-27 33z"/><path fill="#3ae" d="M3139 1498l27 16-21-36-27-16z"/><path fill="#2be" d="M3112 1483l27 15-21-36-27-15z"/><path fill="#2cd" d="M3085 1469l27 14-21-36-27-14z"/><path fill="#2cc" d="M3058 1456l27 13-21-36-27-13z"/><path fill="#1dc" d="M3031 1443l27 13-21-36-27-12z"/><path fill="#1db" d="M3004 1432l27 11-21-35-27-12z"/><path fill="#2eb" d="M2977 1421l27 11-21-36-27-11z"/><path fill="#2ea" d="M2950 1411l27 10-21-36-27-9z"/><path fill="#2e9" d="M2923 1403l27 8-21-35-27-9z"/><path fill="#3e9" d="M2895 1395l28 8-21-36-27-8z"/><path fill="#4e8" d="M2868 1387l27 8-20-36-27-7z"/><path fill="#4f8" d="M2841 1381l27 6-20-35-27-6z"/><path fill="#5f7" d="M2814 1376l27 5-20-35-27-6z"/><path fill="#5f7" d="M2787 1372l27 4-20-36-27-4z"/><path fill="#6f6" d="M2760 1368l27 4-20-36-27-4z"/><path fill="#6f6" d="M2733 1365l27 3-20-36-27-2z"/><path fill="#7f5" d="M2706 1363l27 2-20-35-27-2z"/><path fill="#7f5" d="M2679 1363l27 0-20-35-27-1z"/><path fill="#8f5" d="M2652 1362l27 1-20-36-27 0z"/><path fill="#8f5" d="M2625 1363l27-1-20-35-27 1z"/><path fill="#8f4" d="M2598 1365l27-2-20-35-27 1z"/><path fill="#8f4" d="M2571 1368l27-3-20-36-27 3z"/><path fill="#9f4" d="M2544 1371l27-3-20-36-27 4z"/><path fill="#9f4" d="M2517 1375l27-4-20-35-28 4z"/><path fill="#9f4" d="M2490 1381l27-6-21-35-27 5z"/><path fill="#9f4" d="M2463 1387l27-6-21-36-27 6z"/><path fill="#9f4" d="M2436 1394l27-7-21-36-27 7z"/><path fill="#9f4" d="M2409 1402l27-8-21-36-27 8z"/><path fill="#9f4" d="M2382 1411l27-9-21-36-27 9z"/><path fill="#9f4" d="M2355 1420l27-9-21-36-27 10z"/><path fill="#9f4" d="M2328 1431l27-11-21-35-27 10z"/><path fill="#8f4" d="M2301 1442l27-11-21-36-27 12z"/><path fill="#8f4" d="M2274 1454l27-12-21-35-27 12z"/><path fill="#8f5" d="M2247 1468l27-14-21-35-27 13z"/><path fill="#8f5" d="M2220 1482l27-14-21-36-27 14z"/><path fill="#7f5" d="M2193 1497l27-15-21-36-27 15z"/><path fill="#7f5" d="M2166 1512l27-15-21-36-27 16z"/><path fill="#6f6" d="M2139 1529l27-17-21-35-27 17z"/><path fill="#6f6" d="M2111 1547l28-18-21-35-27 17z"/><path fill="#5f7" d="M2084 1565l27-18-20-36-27 19z"/><path fill="#5f7" d="M2057 1585l27-20-20-35-27 19z"/><path fill="#4f8" d="M2030 1605l27-20-20-36-27 20z"/><path fill="#4e8" d="M2003 1626l27-21-20-36-27 21z"/><path fill="#3e9" d="M1976 1648l27-22-20-36-27 22z"/><path fill="#2ea" d="M1949 1671l27-23-20-36-27 23z"/><path fill="#2ea" d="M1922 1694l27-23-20-36-27 24z"/><path fill="#2db" d="M1895 1719l27-25-20-35-27 25z"/><path fill="#1db" d="M1868 1745l27-26-20-35-27 25z"/><path fill="#1dc" d="M1841 1771l27-26-20-36-27 26z"/><path fill="#2cd" d="M1814 1798l27-27-20-36-27 28z"/><path fill="#2cd" d="M1787 1826l27-28-20-35-27 28z"/><path fill="#2be" d="M1760 1856l27-30-20-35-28 29z"/><path fill="#3af" d="M1733 1885l27-29-21-36-27 30z"/><path fill="#39f" d="M1706 1916l27-31-21-35-27 31z"/><path fill="#49f" d="M1679 1948l27-32-21-35-27 31z"/><path fill="#48f" d="M1652 1980l27-32-21-36-27 33z"/><path fill="#47e" d="M1625 2014l27-34-21-35-27 33z"/><path fill="#3af" d="M3159 1534l27 16-20-36-27-16z"/><path fill="#3af" d="M3132 1519l27 15-20-36-27-15z"/><path fill="#2be" d="M3105 1505l27 14-20-36-27-14z"/><path fill="#2cd" d="M3078 1492l27 13-20-36-27-13z"/><path fill="#2cd" d="M3051 1479l27 13-20-36-27-13z"/><path fill="#1dc" d="M3024 1468l27 11-20-36-27-11z"/><path fill="#1db" d="M2997 1457l27 11-20-36-27-11z"/><path fill="#1db" d="M2970 1448l27 9-20-36-27-10z"/><path fill="#2ea" d="M2943 1439l27 9-20-37-27-8z"/><path fill="#2ea" d="M2916 1431l27 8-20-36-28-8z"/><path fill="#3e9" d="M2889 1424l27 7-21-36-27-8z"/><path fill="#3e9" d="M2862 1418l27 6-21-37-27-6z"/><path fill="#4e8" d="M2835 1412l27 6-21-37-27-5z"/><path fill="#4f8" d="M2808 1408l27 4-21-36-27-4z"/><path fill="#5f7" d="M2781 1404l27 4-21-36-27-4z"/><path fill="#5f7" d="M2754 1401l27 3-21-36-27-3z"/><path fill="#5f7" d="M2727 1400l27 1-21-36-27-2z"/><path fill="#6f6" d="M2700 1399l27 1-21-37-27 0z"/><path fill="#6f6" d="M2673 1399l27 0-21-36-27-1z"/><path fill="#7f6" d="M2646 1400l27-1-21-37-27 1z"/><path fill="#7f5" d="M2619 1401l27-1-21-37-27 2z"/><path fill="#7f5" d="M2592 1404l27-3-21-36-27 3z"/><path fill="#7f5" d="M2565 1407l27-3-21-36-27 3z"/><path fill="#8f5" d="M2538 1412l27-5-21-36-27 4z"/><path fill="#8f5" d="M2510 1417l28-5-21-37-27 6z"/><path fill="#8f5" d="M2483 1423l27-6-20-36-27 6z"/><path fill="#8f5" d="M2456 1430l27-7-20-36-27 7z"/><path fill="#8f5" d="M2429 1438l27-8-20-36-27 8z"/><path fill="#8f5" d="M2402 1447l27-9-20-36-27 9z"/><path fill="#8f5" d="M2375 1456l27-9-20-36-27 9z"/><path fill="#7f5" d="M2348 1467l27-11-20-36-27 11z"/><path fill="#7f5" d="M2321 1478l27-11-20-36-27 11z"/><path fill="#7f5" d="M2294 1491l27-13-20-36-27 12z"/><path fill="#7f6" d="M2267 1504l27-13-20-37-27 14z"/><path fill="#6f6" d="M2240 1518l27-14-20-36-27 14z"/><path fill="#6f6" d="M2213 1533l27-15-20-36-27 15z"/><path fill="#5f7" d="M2186 1549l27-16-20-36-27 15z"/><path fill="#5f7" d="M2159 1565l27-16-20-37-27 17z"/><path fill="#5f7" d="M2132 1583l27-18-20-36-28 18z"/><path fill="#4f8" d="M2105 1601l27-18-21-36-27 18z"/><path fill="#4e8" d="M2078 1621l27-20-21-36-27 20z"/><path fill="#3e9" d="M2051 1641l27-20-21-36-27 20z"/><path fill="#2e9" d="M2024 1662l27-21-21-36-27 21z"/><path fill="#2ea" d="M1997 1684l27-22-21-36-27 22z"/><path fill="#2eb" d="M1970 1707l27-23-21-36-27 23z"/><path fill="#1db" d="M1943 1731l27-24-21-36-27 23z"/><path fill="#1dc" d="M1916 1755l27-24-21-37-27 25z"/><path fill="#2cc" d="M1889 1781l27-26-21-36-27 26z"/><path fill="#2cd" d="M1862 1807l27-26-21-36-27 26z"/><path fill="#2be" d="M1835 1835l27-28-21-36-27 27z"/><path fill="#3be" d="M1808 1863l27-28-21-37-27 28z"/><path fill="#3af" d="M1781 1892l27-29-21-37-27 30z"/><path fill="#49f" d="M1754 1922l27-30-21-36-27 29z"/><path fill="#49f" d="M1726 1952l28-30-21-37-27 31z"/><path fill="#48f" d="M1699 1984l27-32-20-36-27 32z"/><path fill="#47e" d="M1672 2017l27-33-20-36-27 32z"/><path fill="#46d" d="M1645 2050l27-33-20-37-27 34z"/><path fill="#49f" d="M3180 1571l27 16-21-37-27-16z"/><path fill="#49f" d="M3153 1556l27 15-21-37-27-15z"/><path fill="#3af" d="M3126 1542l27 14-21-37-27-14z"/><path fill="#3be" d="M3099 1529l27 13-21-37-27-13z"/><path fill="#2be" d="M3072 1516l27 13-21-37-27-13z"/><path fill="#2cd" d="M3045 1505l27 11-21-37-27-11z"/><path fill="#2cc" d="M3018 1494l27 11-21-37-27-11z"/><path fill="#1dc" d="M2991 1484l27 10-21-37-27-9z"/><path fill="#1db" d="M2964 1476l27 8-21-36-27-9z"/><path fill="#2db" d="M2937 1468l27 8-21-37-27-8z"/><path fill="#2ea" d="M2910 1461l27 7-21-37-27-7z"/><path fill="#2ea" d="M2882 1454l28 7-21-37-27-6z"/><path fill="#2e9" d="M2855 1449l27 5-20-36-27-6z"/><path fill="#3e9" d="M2828 1445l27 4-20-37-27-4z"/><path fill="#3e9" d="M2801 1441l27 4-20-37-27-4z"/><path fill="#4e8" d="M2774 1438l27 3-20-37-27-3z"/><path fill="#4f8" d="M2747 1436l27 2-20-37-27-1z"/><path fill="#5f7" d="M2720 1436l27 0-20-36-27-1z"/><path fill="#5f7" d="M2693 1436l27 0-20-37-27 0z"/><path fill="#5f7" d="M2666 1436l27 0-20-37-27 1z"/><path fill="#6f6" d="M2639 1438l27-2-20-36-27 1z"/><path fill="#6f6" d="M2612 1441l27-3-20-37-27 3z"/><path fill="#6f6" d="M2585 1444l27-3-20-37-27 3z"/><path fill="#6f6" d="M2558 1449l27-5-20-37-27 5z"/><path fill="#6f6" d="M2531 1454l27-5-20-37-28 5z"/><path fill="#6f6" d="M2504 1460l27-6-21-37-27 6z"/><path fill="#6f6" d="M2477 1467l27-7-21-37-27 7z"/><path fill="#6f6" d="M2450 1475l27-8-21-37-27 8z"/><path fill="#6f6" d="M2423 1484l27-9-21-37-27 9z"/><path fill="#6f6" d="M2396 1493l27-9-21-37-27 9z"/><path fill="#6f6" d="M2369 1504l27-11-21-37-27 11z"/><path fill="#6f6" d="M2342 1515l27-11-21-37-27 11z"/><path fill="#5f7" d="M2315 1527l27-12-21-37-27 13z"/><path fill="#5f7" d="M2288 1541l27-14-21-36-27 13z"/><path fill="#5f7" d="M2261 1555l27-14-21-37-27 14z"/><path fill="#5f7" d="M2234 1570l27-15-21-37-27 15z"/><path fill="#4f8" d="M2207 1585l27-15-21-37-27 16z"/><path fill="#4e8" d="M2180 1602l27-17-21-36-27 16z"/><path fill="#3e9" d="M2153 1620l27-18-21-37-27 18z"/><path fill="#3e9" d="M2125 1638l28-18-21-37-27 18z"/><path fill="#2e9" d="M2098 1658l27-20-20-37-27 20z"/><path fill="#2ea" d="M2071 1678l27-20-20-37-27 20z"/><path fill="#2ea" d="M2044 1699l27-21-20-37-27 21z"/><path fill="#1db" d="M2017 1721l27-22-20-37-27 22z"/><path fill="#1db" d="M1990 1744l27-23-20-37-27 23z"/><path fill="#1dc" d="M1963 1767l27-23-20-37-27 24z"/><path fill="#2cd" d="M1936 1792l27-25-20-36-27 24z"/><path fill="#2cd" d="M1909 1818l27-26-20-37-27 26z"/><path fill="#2be" d="M1882 1844l27-26-20-37-27 26z"/><path fill="#3be" d="M1855 1871l27-27-20-37-27 28z"/><path fill="#3af" d="M1828 1899l27-28-20-36-27 28z"/><path fill="#49f" d="M1801 1928l27-29-20-36-27 29z"/><path fill="#48f" d="M1774 1958l27-30-20-36-27 30z"/><path fill="#48f" d="M1747 1989l27-31-20-36-28 30z"/><path fill="#47e" d="M1720 2021l27-32-21-37-27 32z"/><path fill="#46d" d="M1693 2053l27-32-21-37-27 33z"/><path fill="#45c" d="M1666 2087l27-34-21-36-27 33z"/><path fill="#48f" d="M3200 1609l27 15-20-37-27-16z"/><path fill="#48f" d="M3173 1594l27 15-20-38-27-15z"/><path fill="#49f" d="M3146 1579l27 15-20-38-27-14z"/><path fill="#3af" d="M3119 1566l27 13-20-37-27-13z"/><path fill="#3ae" d="M3092 1554l27 12-20-37-27-13z"/><path fill="#2be" d="M3065 1542l27 12-20-38-27-11z"/><path fill="#2cd" d="M3038 1532l27 10-20-37-27-11z"/><path fill="#2cd" d="M3011 1522l27 10-20-38-27-10z"/><path fill="#2cc" d="M2984 1513l27 9-20-38-27-8z"/><path fill="#1dc" d="M2957 1505l27 8-20-37-27-8z"/><path fill="#1db" d="M2930 1498l27 7-20-37-27-7z"/><path fill="#1db" d="M2903 1492l27 6-20-37-28-7z"/><path fill="#2ea" d="M2876 1486l27 6-21-38-27-5z"/><path fill="#2ea" d="M2849 1482l27 4-21-37-27-4z"/><path fill="#2ea" d="M2822 1478l27 4-21-37-27-4z"/><path fill="#3e9" d="M2795 1476l27 2-21-37-27-3z"/><path fill="#3e9" d="M2768 1474l27 2-21-38-27-2z"/><path fill="#3e9" d="M2741 1473l27 1-21-38-27 0z"/><path fill="#4e8" d="M2714 1473l27 0-21-37-27 0z"/><path fill="#4f8" d="M2687 1474l27-1-21-37-27 0z"/><path fill="#4f8" d="M2660 1476l27-2-21-38-27 2z"/><path fill="#4f8" d="M2633 1478l27-2-21-38-27 3z"/><path fill="#5f7" d="M2606 1482l27-4-21-37-27 3z"/><path fill="#5f7" d="M2579 1486l27-4-21-38-27 5z"/><path fill="#5f7" d="M2552 1491l27-5-21-37-27 5z"/><path fill="#5f7" d="M2525 1497l27-6-21-37-27 6z"/><path fill="#5f7" d="M2497 1504l28-7-21-37-27 7z"/><path fill="#5f7" d="M2470 1512l27-8-20-37-27 8z"/><path fill="#5f7" d="M2443 1521l27-9-20-37-27 9z"/><path fill="#5f7" d="M2416 1531l27-10-20-37-27 9z"/><path fill="#5f7" d="M2389 1541l27-10-20-38-27 11z"/><path fill="#4f8" d="M2362 1553l27-12-20-37-27 11z"/><path fill="#4f8" d="M2335 1565l27-12-20-38-27 12z"/><path fill="#4f8" d="M2308 1578l27-13-20-38-27 14z"/><path fill="#4e8" d="M2281 1592l27-14-20-37-27 14z"/><path fill="#3e9" d="M2254 1607l27-15-20-37-27 15z"/><path fill="#3e9" d="M2227 1623l27-16-20-37-27 15z"/><path fill="#3e9" d="M2200 1640l27-17-20-38-27 17z"/><path fill="#2ea" d="M2173 1657l27-17-20-38-27 18z"/><path fill="#2ea" d="M2146 1676l27-19-20-37-28 18z"/><path fill="#2ea" d="M2119 1695l27-19-21-38-27 20z"/><path fill="#1db" d="M2092 1715l27-20-21-37-27 20z"/><path fill="#1db" d="M2065 1736l27-21-21-37-27 21z"/><path fill="#1dc" d="M2038 1758l27-22-21-37-27 22z"/><path fill="#2cc" d="M2011 1781l27-23-21-37-27 23z"/><path fill="#2cd" d="M1984 1805l27-24-21-37-27 23z"/><path fill="#2bd" d="M1957 1830l27-25-21-38-27 25z"/><path fill="#2be" d="M1930 1855l27-25-21-38-27 26z"/><path fill="#3ae" d="M1903 1881l27-26-21-37-27 26z"/><path fill="#3af" d="M1876 1909l27-28-21-37-27 27z"/><path fill="#49f" d="M1849 1937l27-28-21-38-27 28z"/><path fill="#48f" d="M1822 1966l27-29-21-38-27 29z"/><path fill="#48e" d="M1795 1996l27-30-21-38-27 30z"/><path fill="#47e" d="M1768 2027l27-31-21-38-27 31z"/><path fill="#46d" d="M1740 2058l28-31-21-38-27 32z"/><path fill="#45c" d="M1713 2091l27-33-20-37-27 32z"/><path fill="#44a" d="M1686 2124l27-33-20-38-27 34z"/><path fill="#47e" d="M3221 1647l27 16-21-39-27-15z"/><path fill="#48e" d="M3194 1632l27 15-21-38-27-15z"/><path fill="#48f" d="M3167 1617l27 15-21-38-27-15z"/><path fill="#49f" d="M3140 1604l27 13-21-38-27-13z"/><path fill="#3af" d="M3113 1592l27 12-21-38-27-12z"/><path fill="#3af" d="M3086 1580l27 12-21-38-27-12z"/><path fill="#3be" d="M3059 1570l27 10-21-38-27-10z"/><path fill="#2be" d="M3032 1560l27 10-21-38-27-10z"/><path fill="#2cd" d="M3005 1551l27 9-21-38-27-9z"/><path fill="#2cd" d="M2978 1543l27 8-21-38-27-8z"/><path fill="#2cc" d="M2951 1536l27 7-21-38-27-7z"/><path fill="#1dc" d="M2924 1530l27 6-21-38-27-6z"/><path fill="#1db" d="M2896 1524l28 6-21-38-27-6z"/><path fill="#1db" d="M2869 1520l27 4-20-38-27-4z"/><path fill="#2eb" d="M2842 1516l27 4-20-38-27-4z"/><path fill="#2ea" d="M2815 1514l27 2-20-38-27-2z"/><path fill="#2ea" d="M2788 1512l27 2-20-38-27-2z"/><path fill="#2ea" d="M2761 1511l27 1-20-38-27-1z"/><path fill="#2e9" d="M2734 1511l27 0-20-38-27 0z"/><path fill="#3e9" d="M2707 1512l27-1-20-38-27 1z"/><path fill="#3e9" d="M2680 1514l27-2-20-38-27 2z"/><path fill="#3e9" d="M2653 1516l27-2-20-38-27 2z"/><path fill="#3e9" d="M2626 1520l27-4-20-38-27 4z"/><path fill="#4e8" d="M2599 1524l27-4-20-38-27 4z"/><path fill="#4e8" d="M2572 1529l27-5-20-38-27 5z"/><path fill="#4e8" d="M2545 1535l27-6-20-38-27 6z"/><path fill="#4e8" d="M2518 1542l27-7-20-38-28 7z"/><path fill="#4e8" d="M2491 1550l27-8-21-38-27 8z"/><path fill="#4e8" d="M2464 1559l27-9-21-38-27 9z"/><path fill="#4e8" d="M2437 1569l27-10-21-38-27 10z"/><path fill="#3e9" d="M2410 1579l27-10-21-38-27 10z"/><path fill="#3e9" d="M2383 1591l27-12-21-38-27 12z"/><path fill="#3e9" d="M2356 1603l27-12-21-38-27 12z"/><path fill="#3e9" d="M2329 1616l27-13-21-38-27 13z"/><path fill="#2e9" d="M2302 1630l27-14-21-38-27 14z"/><path fill="#2ea" d="M2275 1645l27-15-21-38-27 15z"/><path fill="#2ea" d="M2248 1661l27-16-21-38-27 16z"/><path fill="#2ea" d="M2221 1678l27-17-21-38-27 17z"/><path fill="#2db" d="M2194 1695l27-17-21-38-27 17z"/><path fill="#1db" d="M2167 1714l27-19-21-38-27 19z"/><path fill="#1db" d="M2140 1733l27-19-21-38-27 19z"/><path fill="#1dc" d="M2112 1753l28-20-21-38-27 20z"/><path fill="#2cc" d="M2085 1774l27-21-20-38-27 21z"/><path fill="#2cd" d="M2058 1796l27-22-20-38-27 22z"/><path fill="#2cd" d="M2031 1819l27-23-20-38-27 23z"/><path fill="#2be" d="M2004 1843l27-24-20-38-27 24z"/><path fill="#3be" d="M1977 1867l27-24-20-38-27 25z"/><path fill="#3af" d="M1950 1893l27-26-20-37-27 25z"/><path fill="#49f" d="M1923 1919l27-26-20-38-27 26z"/><path fill="#49f" d="M1896 1947l27-28-20-38-27 28z"/><path fill="#48f" d="M1869 1975l27-28-20-38-27 28z"/><path fill="#47e" d="M1842 2004l27-29-20-38-27 29z"/><path fill="#47e" d="M1815 2034l27-30-20-38-27 30z"/><path fill="#46d" d="M1788 2065l27-31-20-38-27 31z"/><path fill="#45c" d="M1761 2096l27-31-20-38-28 31z"/><path fill="#44a" d="M1734 2129l27-33-21-38-27 33z"/><path fill="#438" d="M1707 2162l27-33-21-38-27 33z"/><path fill="#46d" d="M3241 1685l27 16-20-38-27-16z"/><path fill="#47e" d="M3214 1670l27 15-20-38-27-15z"/><path fill="#47e" d="M3187 1656l27 14-20-38-27-15z"/><path fill="#48f" d="M3160 1643l27 13-20-39-27-13z"/><path fill="#49f" d="M3133 1630l27 13-20-39-27-12z"/><path fill="#49f" d="M3106 1619l27 11-20-38-27-12z"/><path fill="#3af" d="M3079 1608l27 11-20-39-27-10z"/><path fill="#3ae" d="M3052 1599l27 9-20-38-27-10z"/><path fill="#3be" d="M3025 1590l27 9-20-39-27-9z"/><path fill="#2be" d="M2998 1582l27 8-20-39-27-8z"/><path fill="#2cd" d="M2971 1575l27 7-20-39-27-7z"/><path fill="#2cd" d="M2944 1568l27 7-20-39-27-6z"/><path fill="#2cc" d="M2917 1563l27 5-20-38-28-6z"/><path fill="#1dc" d="M2890 1559l27 4-21-39-27-4z"/><path fill="#1db" d="M2863 1555l27 4-21-39-27-4z"/><path fill="#1db" d="M2836 1552l27 3-21-39-27-2z"/><path fill="#1db" d="M2809 1551l27 1-21-38-27-2z"/><path fill="#2eb" d="M2782 1550l27 1-21-39-27-1z"/><path fill="#2ea" d="M2755 1550l27 0-21-39-27 0z"/><path fill="#2ea" d="M2728 1550l27 0-21-39-27 1z"/><path fill="#2ea" d="M2701 1552l27-2-21-38-27 2z"/><path fill="#2ea" d="M2674 1555l27-3-21-38-27 2z"/><path fill="#2ea" d="M2647 1558l27-3-21-39-27 4z"/><path fill="#2ea" d="M2620 1563l27-5-21-38-27 4z"/><path fill="#2e9" d="M2593 1568l27-5-21-39-27 5z"/><path fill="#2e9" d="M2566 1574l27-6-21-39-27 6z"/><path fill="#2e9" d="M2539 1581l27-7-21-39-27 7z"/><path fill="#2e9" d="M2511 1589l28-8-21-39-27 8z"/><path fill="#2e9" d="M2484 1598l27-9-20-39-27 9z"/><path fill="#2ea" d="M2457 1607l27-9-20-39-27 10z"/><path fill="#2ea" d="M2430 1618l27-11-20-38-27 10z"/><path fill="#2ea" d="M2403 1629l27-11-20-39-27 12z"/><path fill="#2ea" d="M2376 1641l27-12-20-38-27 12z"/><path fill="#2ea" d="M2349 1655l27-14-20-38-27 13z"/><path fill="#2ea" d="M2322 1669l27-14-20-39-27 14z"/><path fill="#2db" d="M2295 1684l27-15-20-39-27 15z"/><path fill="#1db" d="M2268 1699l27-15-20-39-27 16z"/><path fill="#1db" d="M2241 1716l27-17-20-38-27 17z"/><path fill="#1dc" d="M2214 1734l27-18-20-38-27 17z"/><path fill="#1dc" d="M2187 1752l27-18-20-39-27 19z"/><path fill="#2cc" d="M2160 1772l27-20-20-38-27 19z"/><path fill="#2cd" d="M2133 1792l27-20-20-39-28 20z"/><path fill="#2cd" d="M2106 1813l27-21-21-39-27 21z"/><path fill="#2be" d="M2079 1835l27-22-21-39-27 22z"/><path fill="#3be" d="M2052 1858l27-23-21-39-27 23z"/><path fill="#3af" d="M2025 1881l27-23-21-39-27 24z"/><path fill="#3af" d="M1998 1906l27-25-21-38-27 24z"/><path fill="#49f" d="M1971 1932l27-26-21-39-27 26z"/><path fill="#48f" d="M1944 1958l27-26-21-39-27 26z"/><path fill="#48f" d="M1917 1985l27-27-21-39-27 28z"/><path fill="#47e" d="M1890 2013l27-28-21-38-27 28z"/><path fill="#46e" d="M1863 2042l27-29-21-38-27 29z"/><path fill="#46d" d="M1836 2072l27-30-21-38-27 30z"/><path fill="#45b" d="M1809 2103l27-31-21-38-27 31z"/><path fill="#44a" d="M1782 2135l27-32-21-38-27 31z"/><path fill="#438" d="M1755 2167l27-32-21-39-27 33z"/><path fill="#326" d="M1727 2201l28-34-21-38-27 33z"/><path fill="#45b" d="M3262 1724l27 16-21-39-27-16z"/><path fill="#46c" d="M3235 1709l27 15-21-39-27-15z"/><path fill="#46d" d="M3208 1695l27 14-21-39-27-14z"/><path fill="#47e" d="M3181 1682l27 13-21-39-27-13z"/><path fill="#48f" d="M3154 1670l27 12-21-39-27-13z"/><path fill="#48f" d="M3127 1658l27 12-21-40-27-11z"/><path fill="#49f" d="M3100 1648l27 10-21-39-27-11z"/><path fill="#49f" d="M3073 1638l27 10-21-40-27-9z"/><path fill="#3af" d="M3046 1629l27 9-21-39-27-9z"/><path fill="#3ae" d="M3019 1621l27 8-21-39-27-8z"/><path fill="#3be" d="M2992 1614l27 7-21-39-27-7z"/><path fill="#2be" d="M2965 1608l27 6-21-39-27-7z"/><path fill="#2cd" d="M2938 1602l27 6-21-40-27-5z"/><path fill="#2cd" d="M2911 1598l27 4-21-39-27-4z"/><path fill="#2cd" d="M2883 1594l28 4-21-39-27-4z"/><path fill="#2cc" d="M2856 1592l27 2-20-39-27-3z"/><path fill="#1dc" d="M2829 1590l27 2-20-40-27-1z"/><path fill="#1dc" d="M2802 1589l27 1-20-39-27-1z"/><path fill="#1db" d="M2775 1589l27 0-20-39-27 0z"/><path fill="#1db" d="M2748 1590l27-1-20-39-27 0z"/><path fill="#1db" d="M2721 1591l27-1-20-40-27 2z"/><path fill="#1db" d="M2694 1594l27-3-20-39-27 3z"/><path fill="#2db" d="M2667 1597l27-3-20-39-27 3z"/><path fill="#2eb" d="M2640 1602l27-5-20-39-27 5z"/><path fill="#2eb" d="M2613 1607l27-5-20-39-27 5z"/><path fill="#2eb" d="M2586 1613l27-6-20-39-27 6z"/><path fill="#2ea" d="M2559 1620l27-7-20-39-27 7z"/><path fill="#2eb" d="M2532 1628l27-8-20-39-28 8z"/><path fill="#2eb" d="M2505 1637l27-9-21-39-27 9z"/><path fill="#2eb" d="M2478 1646l27-9-21-39-27 9z"/><path fill="#2db" d="M2451 1657l27-11-21-39-27 11z"/><path fill="#1db" d="M2424 1668l27-11-21-39-27 11z"/><path fill="#1db" d="M2397 1681l27-13-21-39-27 12z"/><path fill="#1db" d="M2370 1694l27-13-21-40-27 14z"/><path fill="#1db" d="M2343 1708l27-14-21-39-27 14z"/><path fill="#1dc" d="M2316 1723l27-15-21-39-27 15z"/><path fill="#1dc" d="M2289 1739l27-16-21-39-27 15z"/><path fill="#2cc" d="M2262 1755l27-16-21-40-27 17z"/><path fill="#2cd" d="M2235 1773l27-18-21-39-27 18z"/><path fill="#2cd" d="M2208 1791l27-18-21-39-27 18z"/><path fill="#2bd" d="M2181 1811l27-20-21-39-27 20z"/><path fill="#2be" d="M2154 1831l27-20-21-39-27 20z"/><path fill="#3be" d="M2126 1852l28-21-21-39-27 21z"/><path fill="#3af" d="M2099 1874l27-22-20-39-27 22z"/><path fill="#3af" d="M2072 1897l27-23-20-39-27 23z"/><path fill="#49f" d="M2045 1921l27-24-20-39-27 23z"/><path fill="#49f" d="M2018 1945l27-24-20-40-27 25z"/><path fill="#48f" d="M1991 1971l27-26-20-39-27 26z"/><path fill="#48e" d="M1964 1997l27-26-20-39-27 26z"/><path fill="#47e" d="M1937 2024l27-27-20-39-27 27z"/><path fill="#46d" d="M1910 2053l27-29-20-39-27 28z"/><path fill="#45c" d="M1883 2082l27-29-20-40-27 29z"/><path fill="#45b" d="M1856 2112l27-30-20-40-27 30z"/><path fill="#44a" d="M1829 2142l27-30-20-40-27 31z"/><path fill="#438" d="M1802 2174l27-32-20-39-27 32z"/><path fill="#326" d="M1775 2207l27-33-20-39-27 32z"/><path fill="#313" d="M1748 2240l27-33-20-40-28 34z"/></g>
<path class="g" d="M587.8 213.5L469.4 159.2"/>
<path class="g" d="M469.4 159.2L469.4 43.4"/>
<path class="g" d="M625.8 203.4L507.8 149.2"/>
<path class="g" d="M507.8 149.2L507.8 33.3"/>
<path class="g" d="M663.8 193.4L546.1 139.1"/>
<path class="g" d="M546.1 139.1L546.1 23.2"/>
<path class="g" d="M701.8 183.3L584.5 129"/>
<path class="g" d="M584.5 129L584.5 13.1"/>
<path class="g" d="M530 214.6L682.2 174.3"/>
<path class="g" d="M682.2 174.3L682.2 58.4"/>
<path class="g" d="M490.4 196.4L643.1 156.2"/>
<path class="g" d="M643.1 156.2L643.1 40.3"/>
<path class="g" d="M450.9 178.3L604 138"/>
<path class="g" d="M604 138L604 22.2"/>
<path class="g" d="M431.1 168.4L584.5 128.1L701.8 182.4"/>
<path class="g" d="M431.1 140L584.5 99.7L701.8 154"/>
<path class="g" d="M431.1 111.7L584.5 71.4L701.8 125.7"/>
<path class="g" d="M431.1 83.3L584.5 43L701.8 97.3"/>
<path class="ax" d="M431.1 53.4L431.1 169.3L549.8 223.6L701.8 183.3"/>
<path class="ax" d="M549.8 223.6l3.6 1.7M587.8 213.5l3.6 1.7M625.8 203.4l3.6 1.7M663.8 193.4l3.6 1.7M701.8 183.3l3.6 1.7M530 214.5l-3.9 1M490.4 196.4l-3.9 1M450.9 178.3l-3.9 1M431.1 168.4l-3.1 0.8M431.1 140l-3.1 0.8M431.1 111.7l-3.1 0.8M431.1 83.3l-3.1 0.8"/>
<path class="c" stroke="#4454c3" d="M525 212.2 527.6 213 531 214.1 533.9 215 537 215.9 540.2 216.9 542.9 217.7 546.5 218.8 549 219.5 552.8 220.7 555.4 221.4"/>
<path class="c" stroke="#27bee9" d="M690.2 186.4 688.9 185.3 687.7 184.2 685.8 182.5 684.6 181.4 683.3 180.3 681.4 178.7 680.1 177.6 678.7 176.4 676.9 174.9 675.6 173.8 673.8 172.3 672.3 171.1 671 170 669 168.4"/>
<path class="c" stroke="#27bee9" d="M479.8 191.6 483.2 192.6 485.9 193.5 489.5 194.6 492 195.3 495.8 196.5 498.3 197.2 502.1 198.4 504.6 199.1 508.4 200.3 511 201 514.8 202.1 517.4 202.9 520.6 203.8 523.8 204.8 526.4 205.5 530.2 206.6 532.8 207.4 536.7 208.5 539.3 209.2 542.2 210 545.8 211.1 548.5 211.8 552.4 212.9 555.1 213.6 557.7 214.4 561.7 215.4 564.4 216.2 567.3 217 571.1 218"/>
<path class="c" stroke="#5dfc6f" d="M670.9 191.5 670 190.3 669.1 189.1 668.2 187.9 667.1 186.7 665.9 185.2 664.7 183.8 663.7 182.7 662.6 181.5 661.6 180.4 660.2 178.9 658.8 177.5 657.7 176.4 656.6 175.3 655.2 173.9 653.7 172.5 652.6 171.3 651.4 170.2 649.6 168.6 648.4 167.4 647.2 166.3 645.6 164.9 644.1 163.6 642.8 162.5 641.2 161.1 639.7 159.7 638.4 158.7 636.7 157.2 635.2 155.9 633.9 154.8 631.9 153.2 630.6 152.1 629.3 151.1 627.3 149.4"/>
<path class="c" stroke="#5dfc6f" d="M434.7 171 437.6 171.9 440.8 172.8 443.9 173.8 446.8 174.7 450.2 175.7 452.8 176.5 456.5 177.6 459 178.3 462.8 179.5 465.3 180.2 469.2 181.4 471.7 182.1 475.5 183.2 478.1 184 481.2 184.9 484.5 185.9 487.1 186.6 491 187.7 493.6 188.5 497.3 189.5 500.1 190.3 502.7 191.1 506.7 192.2 509.3 192.9 512.7 193.8 515.9 194.7 518.6 195.4 522.6 196.5 525.3 197.2 527.9 197.9 532 199 534.7 199.7 537.4 200.4 541.4 201.5 544.3 202.2 547.1 202.9 550.3 203.7 554 204.6 556.8 205.3 559.6 206 563.1 206.8 566.8 207.7 569.6 208.3 572.5 209 575.4 209.7 579.1 210.5 582.8 211.3 585.8 211.9 588.8 212.5"/>
<path class="c" stroke="#dbe236" d="M442.7 166.2 446.6 167.3 449.2 168.1 452.5 169 455.7 169.9 458.3 170.7 462.2 171.8 464.9 172.5 468 173.4 471.5 174.3 474.1 175 477.9 176.1 480.8 176.9 483.5 177.6 487.5 178.6 490.2 179.4 493 180.1 496.8 181.1 499.8 181.8 502.5 182.5 505.8 183.3 509.5 184.3 512.3 184.9 515.1 185.6 518.7 186.5 522.2 187.3 525.1 188 527.9 188.7 530.9 189.3 534.8 190.2 538.2 190.9 541.2 191.6 544.2 192.2 547.2 192.8 550.3 193.5 553.4 194.1 556.6 194.7 560 195.3 563.3 195.9 566.5 196.5 569.7 197 572.8 197.5 576.2 198 579.8 198.5 583.4 199 586.9 199.4 589.6 199.7 593 200 597 200.3 599.3 200.5 603.7 200.7 606.5 200.7 609.8 200.7 613.4 200.5 616.8 200.3 621.4 199.6 624 199 626.4 198.2 629.4 196.9 631 195.8 632.4 194.6 633.2 193.6 633.9 192.5 634.5 191.1 634.8 190.2 635 188.9 635 187.5 635 186.6 634.8 185.3 634.5 184 634.1 182.7 633.7 181.4 633.2 180.3 632.6 179.1 632 177.9 631.3 176.7 630.6 175.4 629.8 174.1 628.9 172.8 627.9 171.5 627 170.2 626.1 169.1 625.2 167.9 624.2 166.7 623.2 165.5 622.1 164.2 620.8 162.7 619.6 161.5 618.6 160.3 617.5 159.2 616.3 157.9 614.7 156.4 613.6 155.2 612.5 154.1 611.2 152.8 609.6 151.3 608.4 150.2 607.2 149.1 605.5 147.5 604.2 146.3 602.9 145.2 601.3 143.7 599.8 142.4 598.6 141.3 596.9 139.9 595.4 138.6 594.1 137.5 592.3 135.9 590.9 134.8 589.6 133.7 587.6 132.1 586.3 131 584.8 129.8"/>
<path class="c" stroke="#fb7e21" d="M458 162.2 461.3 163 465 163.9 467.8 164.6 470.6 165.3 474.3 166.2 477.6 167 480.5 167.6 483.4 168.3 486.6 169 490.5 169.9 493.6 170.6 496.5 171.2 499.5 171.9 502.5 172.5 505.6 173.1 509 173.8 512.5 174.5 515.9 175.1 519.2 175.7 522.5 176.3 525.6 176.8 528.7 177.3 531.7 177.8 534.8 178.3 538.4 178.7 542 179.2 545.7 179.6 548.3 179.9 551.8 180.2 555.5 180.5 558.3 180.6 562.1 180.7 565.9 180.7 568.9 180.7 572.4 180.4 576.5 180 579.3 179.4 583.1 178.4 585.2 177.6 587.1 176.6 588.6 175.4 589.9 174.2 590.9 172.8 591.4 171.8 591.8 170.5 592 169.5 592.1 168.1 592.1 167 592 166 591.7 164.6 591.4 163.3 590.9 161.9 590.5 160.7 589.9 159.6 589.3 158.4 588.7 157.2 588 155.9 587.2 154.7 586.3 153.3 585.4 152 584.5 150.8 583.6 149.6 582.7 148.4 581.7 147.2 580.7 146.1 579.7 144.8 578.4 143.3 577.2 142 576.1 140.9 575.1 139.7 573.9 138.5 572.3 136.9 571.2 135.7 570 134.6 568.9 133.5"/>
<path class="c" stroke="#b71d02" d="M479.8 156.4 483.1 156.9 486.5 157.5 489.9 158 493.4 158.5 496.4 158.9 499.2 159.3 502.6 159.6 506.5 160 509.4 160.3 512.8 160.5 516.3 160.7 519.9 160.8 522.5 160.8 526.3 160.7 529.8 160.5 533.6 160 537.3 159.3 540.9 158.2 542.9 157.3 544.7 156.3 546.1 155.1 547.3 153.8 548.1 152.6 548.6 151.6 549 150.2 549.2 149.2 549.2 148 549.2 146.6 549 145.4 548.8 144.4 548.4 143.2 548 141.9 547.5 140.6 546.9 139.3"/>
<g class="s" transform="scale(.1)"><path fill="#dd3" d="M5834 611l17 18-20-18-17-18z"/><path fill="#ec3" d="M5816 592l18 19-20-18-17-19z"/><path fill="#ec3" d="M5799 575l17 17-19-18-18-17z"/><path fill="#fb3" d="M5782 558l17 17-20-18-17-17z"/><path fill="#fa3" d="M5765 541l17 17-20-18-17-17z"/><path fill="#fa3" d="M5747 525l18 16-20-18-17-16z"/><path fill="#f93" d="M5730 510l17 15-19-18-18-15z"/><path fill="#f82" d="M5713 495l17 15-20-18-17-15z"/><path fill="#f72" d="M5696 481l17 14-20-18-17-14z"/><path fill="#f72" d="M5678 468l18 13-20-18-17-13z"/><path fill="#e61" d="M5661 455l17 13-19-18-18-13z"/><path fill="#e51" d="M5644 442l17 13-20-18-17-13z"/><path fill="#e51" d="M5627 431l17 11-20-18-17-11z"/><path fill="#e41" d="M5610 419l17 12-20-18-17-12z"/><path fill="#d41" d="M5592 409l18 10-20-18-17-10z"/><path fill="#d30" d="M5575 399l17 10-19-18-18-10z"/><path fill="#d30" d="M5558 389l17 10-20-18-17-10z"/><path fill="#c30" d="M5541 380l17 9-20-18-17-9z"/><path fill="#c20" d="M5523 372l18 8-20-18-17-8z"/><path fill="#b20" d="M5506 364l17 8-19-18-18-8z"/><path fill="#b20" d="M5489 357l17 7-20-18-17-7z"/><path fill="#b20" d="M5472 351l17 6-20-18-17-6z"/><path fill="#a20" d="M5455 345l17 6-20-18-17-6z"/><path fill="#a10" d="M5437 339l18 6-20-18-17-6z"/><path fill="#a10" d="M5420 334l17 5-19-18-18-4z"/><path fill="#910" d="M5403 330l17 4-20-17-17-5z"/><path fill="#910" d="M5386 326l17 4-20-18-17-3z"/><path fill="#910" d="M5368 323l18 3-20-17-17-3z"/><path fill="#810" d="M5351 321l17 2-19-17-18-3z"/><path fill="#810" d="M5334 319l17 2-20-18-17-2z"/><path fill="#800" d="M5317 318l17 1-20-18-17-1z"/><path fill="#800" d="M5299 317l18 1-20-18-17-1z"/><path fill="#700" d="M5282 317l17 0-19-18-18 0z"/><path fill="#700" d="M5265 317l17 0-20-18-17 1z"/><path fill="#700" d="M5248 318l17-1-20-17-17 1z"/><path fill="#700" d="M5231 320l17-2-20-17-17 1z"/><path fill="#700" d="M5213 322l18-2-20-18-17 2z"/><path fill="#700" d="M5196 325l17-3-19-18-18 3z"/><path fill="#700" d="M5179 328l17-3-20-18-17 4z"/><path fill="#700" d="M5161 332l18-4-20-17-18 4z"/><path fill="#700" d="M5144 337l17-5-20-17-17 4z"/><path fill="#700" d="M5126 342l18-5-20-18-18 5z"/><path fill="#700" d="M5108 348l18-6-20-18-18 6z"/><path fill="#700" d="M5090 355l18-7-20-18-18 7z"/><path fill="#700" d="M5071 362l19-7-20-18-18 8z"/><path fill="#700" d="M5053 370l18-8-19-17-19 8z"/><path fill="#700" d="M5034 379l19-9-20-17-19 9z"/><path fill="#800" d="M5015 389l19-10-20-17-19 10z"/><path fill="#800" d="M4995 400l20-11-20-17-19 10z"/><path fill="#800" d="M4976 412l19-12-19-18-20 12z"/><path fill="#810" d="M4955 424l21-12-20-18-20 13z"/><path fill="#910" d="M4935 438l20-14-19-17-21 13z"/><path fill="#910" d="M4914 453l21-15-20-18-21 15z"/><path fill="#910" d="M4893 469l21-16-20-18-21 16z"/><path fill="#a10" d="M4871 486l22-17-20-18-22 18z"/><path fill="#a20" d="M4849 505l22-19-20-17-22 18z"/><path fill="#b20" d="M4826 524l23-19-20-18-22 20z"/><path fill="#b20" d="M4804 546l22-22-19-17-23 21z"/><path fill="#c20" d="M4780 568l24-22-20-18-23 23z"/><path fill="#c30" d="M4757 592l23-24-19-17-24 23z"/><path fill="#d30" d="M4733 617l24-25-20-18-23 25z"/><path fill="#d41" d="M4710 643l23-26-19-18-24 27z"/><path fill="#e41" d="M4686 671l24-28-20-17-24 27z"/><path fill="#e51" d="M4662 699l24-28-20-18-23 29z"/><path fill="#e61" d="M4639 729l23-30-19-17-24 29z"/><path fill="#f72" d="M4615 759l24-30-20-18-24 31z"/><path fill="#f82" d="M4591 791l24-32-20-17-23 32z"/><path fill="#f93" d="M4568 824l23-33-19-17-24 32z"/><path fill="#fa3" d="M4544 858l24-34-20-18-24 34z"/><path fill="#fb3" d="M4520 893l24-35-20-18-23 36z"/><path fill="#ec3" d="M4497 929l23-36-19-17-24 36z"/><path fill="#ed3" d="M4473 966l24-37-20-17-24 37z"/><path fill="#dd3" d="M4449 1005l24-39-20-17-24 38z"/><path fill="#ce3" d="M4426 1044l23-39-20-18-23 40z"/><path fill="#bf3" d="M4402 1085l24-41-20-17-24 41z"/><path fill="#9f4" d="M4378 1127l24-42-20-17-24 41z"/><path fill="#8f5" d="M4354 1169l24-42-20-18-23 43z"/><path fill="#6f6" d="M4331 1213l23-44-19-17-24 44z"/><path fill="#dd3" d="M5853 629l18 18-20-18-17-18z"/><path fill="#ec3" d="M5836 610l17 19-19-18-18-19z"/><path fill="#ec3" d="M5819 593l17 17-20-18-17-17z"/><path fill="#fb3" d="M5802 576l17 17-20-18-17-17z"/><path fill="#fb3" d="M5784 559l18 17-20-18-17-17z"/><path fill="#fa3" d="M5767 543l17 16-19-18-18-16z"/><path fill="#f93" d="M5750 528l17 15-20-18-17-15z"/><path fill="#f82" d="M5733 513l17 15-20-18-17-15z"/><path fill="#f82" d="M5716 499l17 14-20-18-17-14z"/><path fill="#f72" d="M5698 486l18 13-20-18-18-13z"/><path fill="#e61" d="M5681 473l17 13-20-18-17-13z"/><path fill="#e61" d="M5664 460l17 13-20-18-17-13z"/><path fill="#e51" d="M5647 448l17 12-20-18-17-11z"/><path fill="#e51" d="M5629 437l18 11-20-17-17-12z"/><path fill="#d41" d="M5612 427l17 10-19-18-18-10z"/><path fill="#d40" d="M5595 416l17 11-20-18-17-10z"/><path fill="#d30" d="M5578 407l17 9-20-17-17-10z"/><path fill="#c30" d="M5560 398l18 9-20-18-17-9z"/><path fill="#c30" d="M5543 390l17 8-19-18-18-8z"/><path fill="#c20" d="M5526 382l17 8-20-18-17-8z"/><path fill="#b20" d="M5509 375l17 7-20-18-17-7z"/><path fill="#b20" d="M5492 368l17 7-20-18-17-6z"/><path fill="#b20" d="M5474 362l18 6-20-17-17-6z"/><path fill="#a20" d="M5457 357l17 5-19-17-18-6z"/><path fill="#a10" d="M5440 352l17 5-20-18-17-5z"/><path fill="#a10" d="M5423 348l17 4-20-18-17-4z"/><path fill="#910" d="M5405 344l18 4-20-18-17-4z"/><path fill="#910" d="M5388 341l17 3-19-18-18-3z"/><path fill="#910" d="M5371 339l17 2-20-18-17-2z"/><path fill="#910" d="M5354 337l17 2-20-18-17-2z"/><path fill="#810" d="M5336 335l18 2-20-18-17-1z"/><path fill="#800" d="M5319 335l17 0-19-17-18-1z"/><path fill="#800" d="M5302 335l17 0-20-18-17 0z"/><path fill="#800" d="M5285 335l17 0-20-18-17 0z"/><path fill="#800" d="M5268 336l17-1-20-18-17 1z"/><path fill="#700" d="M5250 338l18-2-20-18-17 2z"/><path fill="#700" d="M5233 340l17-2-19-18-18 2z"/><path fill="#700" d="M5216 343l17-3-20-18-17 3z"/><path fill="#700" d="M5198 346l18-3-20-18-17 3z"/><path fill="#700" d="M5181 350l17-4-19-18-18 4z"/><path fill="#700" d="M5163 354l18-4-20-18-17 5z"/><path fill="#700" d="M5146 360l17-6-19-17-18 5z"/><path fill="#700" d="M5128 366l18-6-20-18-18 6z"/><path fill="#700" d="M5110 372l18-6-20-18-18 7z"/><path fill="#700" d="M5091 380l19-8-20-17-19 7z"/><path fill="#800" d="M5073 388l18-8-20-18-18 8z"/><path fill="#800" d="M5054 397l19-9-20-18-19 9z"/><path fill="#800" d="M5035 407l19-10-20-18-19 10z"/><path fill="#810" d="M5015 418l20-11-20-18-20 11z"/><path fill="#810" d="M4995 429l20-11-20-18-19 12z"/><path fill="#910" d="M4975 442l20-13-19-17-21 12z"/><path fill="#910" d="M4955 456l20-14-20-18-20 14z"/><path fill="#910" d="M4934 471l21-15-20-18-21 15z"/><path fill="#a10" d="M4912 487l22-16-20-18-21 16z"/><path fill="#a10" d="M4891 504l21-17-19-18-22 17z"/><path fill="#b20" d="M4869 522l22-18-20-18-22 19z"/><path fill="#b20" d="M4846 542l23-20-20-17-23 19z"/><path fill="#c20" d="M4823 563l23-21-20-18-22 22z"/><path fill="#c30" d="M4800 586l23-23-19-17-24 22z"/><path fill="#d30" d="M4777 609l23-23-20-18-23 24z"/><path fill="#d40" d="M4753 634l24-25-20-17-24 25z"/><path fill="#d41" d="M4730 661l23-27-20-17-23 26z"/><path fill="#e51" d="M4706 688l24-27-20-18-24 28z"/><path fill="#e51" d="M4682 716l24-28-20-17-24 28z"/><path fill="#e61" d="M4659 746l23-30-20-17-23 30z"/><path fill="#f72" d="M4635 777l24-31-20-17-24 30z"/><path fill="#f82" d="M4611 808l24-31-20-18-24 32z"/><path fill="#f93" d="M4587 841l24-33-20-17-23 33z"/><path fill="#fa3" d="M4564 875l23-34-19-17-24 34z"/><path fill="#fb3" d="M4540 910l24-35-20-17-24 35z"/><path fill="#ec3" d="M4516 947l24-37-20-17-23 36z"/><path fill="#dd3" d="M4493 984l23-37-19-18-24 37z"/><path fill="#ce3" d="M4469 1022l24-38-20-18-24 39z"/><path fill="#be3" d="M4445 1062l24-40-20-17-23 39z"/><path fill="#af3" d="M4422 1102l23-40-19-18-24 41z"/><path fill="#9f4" d="M4398 1144l24-42-20-17-24 42z"/><path fill="#7f5" d="M4374 1187l24-43-20-17-24 42z"/><path fill="#5f7" d="M4351 1231l23-44-20-18-23 44z"/><path fill="#dd3" d="M5873 647l17 18-19-18-18-18z"/><path fill="#ed3" d="M5856 628l17 19-20-18-17-19z"/><path fill="#ec3" d="M5839 611l17 17-20-18-17-17z"/><path fill="#eb3" d="M5821 594l18 17-20-18-17-17z"/><path fill="#fb3" d="M5804 577l17 17-19-18-18-17z"/><path fill="#fa3" d="M5787 561l17 16-20-18-17-16z"/><path fill="#f93" d="M5770 546l17 15-20-18-17-15z"/><path fill="#f93" d="M5753 531l17 15-20-18-17-15z"/><path fill="#f82" d="M5735 517l18 14-20-18-17-14z"/><path fill="#f72" d="M5718 503l17 14-19-18-18-13z"/><path fill="#f72" d="M5701 490l17 13-20-17-17-13z"/><path fill="#e61" d="M5684 478l17 12-20-17-17-13z"/><path fill="#e51" d="M5666 466l18 12-20-18-17-12z"/><path fill="#e51" d="M5649 455l17 11-19-18-18-11z"/><path fill="#e41" d="M5632 444l17 11-20-18-17-10z"/><path fill="#d41" d="M5615 434l17 10-20-17-17-11z"/><path fill="#d40" d="M5597 425l18 9-20-18-17-9z"/><path fill="#d30" d="M5580 416l17 9-19-18-18-9z"/><path fill="#c30" d="M5563 408l17 8-20-18-17-8z"/><path fill="#c30" d="M5546 400l17 8-20-18-17-8z"/><path fill="#c20" d="M5529 393l17 7-20-18-17-7z"/><path fill="#b20" d="M5511 386l18 7-20-18-17-7z"/><path fill="#b20" d="M5494 380l17 6-19-18-18-6z"/><path fill="#b20" d="M5477 375l17 5-20-18-17-5z"/><path fill="#a10" d="M5460 370l17 5-20-18-17-5z"/><path fill="#a10" d="M5442 366l18 4-20-18-17-4z"/><path fill="#a10" d="M5425 362l17 4-19-18-18-4z"/><path fill="#910" d="M5408 359l17 3-20-18-17-3z"/><path fill="#910" d="M5391 356l17 3-20-18-17-2z"/><path fill="#910" d="M5373 355l18 1-20-17-17-2z"/><path fill="#910" d="M5356 353l17 2-19-18-18-2z"/><path fill="#810" d="M5339 352l17 1-20-18-17 0z"/><path fill="#810" d="M5322 352l17 0-20-17-17 0z"/><path fill="#800" d="M5305 353l17-1-20-17-17 0z"/><path fill="#800" d="M5287 354l18-1-20-18-17 1z"/><path fill="#800" d="M5270 355l17-1-19-18-18 2z"/><path fill="#800" d="M5253 357l17-2-20-17-17 2z"/><path fill="#800" d="M5236 360l17-3-20-17-17 3z"/><path fill="#800" d="M5218 364l18-4-20-17-18 3z"/><path fill="#800" d="M5201 368l17-4-20-18-17 4z"/><path fill="#800" d="M5183 372l18-4-20-18-18 4z"/><path fill="#800" d="M5165 377l18-5-20-18-17 6z"/><path fill="#800" d="M5147 383l18-6-19-17-18 6z"/><path fill="#800" d="M5129 390l18-7-19-17-18 6z"/><path fill="#800" d="M5111 397l18-7-19-18-19 8z"/><path fill="#800" d="M5092 406l19-9-20-17-18 8z"/><path fill="#810" d="M5074 415l18-9-19-18-19 9z"/><path fill="#810" d="M5054 424l20-9-20-18-19 10z"/><path fill="#910" d="M5035 435l19-11-19-17-20 11z"/><path fill="#910" d="M5015 447l20-12-20-17-20 11z"/><path fill="#910" d="M4995 460l20-13-20-18-20 13z"/><path fill="#910" d="M4974 473l21-13-20-18-20 14z"/><path fill="#a10" d="M4954 488l20-15-19-17-21 15z"/><path fill="#a10" d="M4932 504l22-16-20-17-22 16z"/><path fill="#b20" d="M4911 521l21-17-20-17-21 17z"/><path fill="#b20" d="M4888 540l23-19-20-17-22 18z"/><path fill="#b20" d="M4866 560l22-20-19-18-23 20z"/><path fill="#c20" d="M4843 581l23-21-20-18-23 21z"/><path fill="#c30" d="M4820 603l23-22-20-18-23 23z"/><path fill="#d30" d="M4797 627l23-24-20-17-23 23z"/><path fill="#d41" d="M4773 652l24-25-20-18-24 25z"/><path fill="#e41" d="M4749 678l24-26-20-18-23 27z"/><path fill="#e51" d="M4726 705l23-27-19-17-24 27z"/><path fill="#e61" d="M4702 734l24-29-20-17-24 28z"/><path fill="#f72" d="M4678 763l24-29-20-18-23 30z"/><path fill="#f82" d="M4655 794l23-31-19-17-24 31z"/><path fill="#f92" d="M4631 826l24-32-20-17-24 31z"/><path fill="#fa3" d="M4607 859l24-33-20-18-24 33z"/><path fill="#fb3" d="M4584 893l23-34-20-18-23 34z"/><path fill="#eb3" d="M4560 928l24-35-20-18-24 35z"/><path fill="#ec3" d="M4536 964l24-36-20-18-24 37z"/><path fill="#dd3" d="M4512 1001l24-37-20-17-23 37z"/><path fill="#ce3" d="M4489 1040l23-39-19-17-24 38z"/><path fill="#be3" d="M4465 1079l24-39-20-18-24 40z"/><path fill="#af3" d="M4441 1120l24-41-20-17-23 40z"/><path fill="#9f4" d="M4418 1161l23-41-19-18-24 42z"/><path fill="#7f5" d="M4394 1204l24-43-20-17-24 43z"/><path fill="#5f7" d="M4370 1248l24-44-20-17-23 44z"/><path fill="#dd3" d="M5893 665l17 18-20-18-17-18z"/><path fill="#dd3" d="M5876 646l17 19-20-18-17-19z"/><path fill="#ec3" d="M5858 629l18 17-20-18-17-17z"/><path fill="#ec3" d="M5841 612l17 17-19-18-18-17z"/><path fill="#fb3" d="M5824 595l17 17-20-18-17-17z"/><path fill="#fb3" d="M5807 579l17 16-20-18-17-16z"/><path fill="#fa3" d="M5790 564l17 15-20-18-17-15z"/><path fill="#f93" d="M5772 549l18 15-20-18-17-15z"/><path fill="#f82" d="M5755 535l17 14-19-18-18-14z"/><path fill="#f82" d="M5738 521l17 14-20-18-17-14z"/><path fill="#f72" d="M5721 508l17 13-20-18-17-13z"/><path fill="#e61" d="M5703 496l18 12-20-18-17-12z"/><path fill="#e61" d="M5686 484l17 12-19-18-18-12z"/><path fill="#e51" d="M5669 473l17 11-20-18-17-11z"/><path fill="#e51" d="M5652 462l17 11-20-18-17-11z"/><path fill="#d41" d="M5634 452l18 10-20-18-17-10z"/><path fill="#d41" d="M5617 443l17 9-19-18-18-9z"/><path fill="#d30" d="M5600 434l17 9-20-18-17-9z"/><path fill="#d30" d="M5583 425l17 9-20-18-17-8z"/><path fill="#c30" d="M5566 418l17 7-20-17-17-8z"/><path fill="#c30" d="M5548 411l18 7-20-18-17-7z"/><path fill="#c20" d="M5531 404l17 7-19-18-18-7z"/><path fill="#b20" d="M5514 398l17 6-20-18-17-6z"/><path fill="#b20" d="M5497 393l17 5-20-18-17-5z"/><path fill="#b20" d="M5479 388l18 5-20-18-17-5z"/><path fill="#a10" d="M5462 383l17 5-19-18-18-4z"/><path fill="#a10" d="M5445 380l17 3-20-17-17-4z"/><path fill="#a10" d="M5428 377l17 3-20-18-17-3z"/><path fill="#910" d="M5411 374l17 3-20-18-17-3z"/><path fill="#910" d="M5393 372l18 2-20-18-18-1z"/><path fill="#910" d="M5376 371l17 1-20-17-17-2z"/><path fill="#910" d="M5359 370l17 1-20-18-17-1z"/><path fill="#910" d="M5342 370l17 0-20-18-17 0z"/><path fill="#810" d="M5324 370l18 0-20-18-17 1z"/><path fill="#810" d="M5307 371l17-1-19-17-18 1z"/><path fill="#810" d="M5290 373l17-2-20-17-17 1z"/><path fill="#800" d="M5273 375l17-2-20-18-17 2z"/><path fill="#800" d="M5255 378l18-3-20-18-17 3z"/><path fill="#800" d="M5238 381l17-3-19-18-18 4z"/><path fill="#800" d="M5221 385l17-4-20-17-17 4z"/><path fill="#800" d="M5203 390l18-5-20-17-18 4z"/><path fill="#800" d="M5185 395l18-5-20-18-18 5z"/><path fill="#800" d="M5167 401l18-6-20-18-18 6z"/><path fill="#800" d="M5149 408l18-7-20-18-18 7z"/><path fill="#810" d="M5131 415l18-7-20-18-18 7z"/><path fill="#810" d="M5112 423l19-8-20-18-19 9z"/><path fill="#810" d="M5093 432l19-9-20-17-18 9z"/><path fill="#910" d="M5074 442l19-10-19-17-20 9z"/><path fill="#910" d="M5055 453l19-11-20-18-19 11z"/><path fill="#910" d="M5035 464l20-11-20-18-20 12z"/><path fill="#910" d="M5015 477l20-13-20-17-20 13z"/><path fill="#a10" d="M4994 491l21-14-20-17-21 13z"/><path fill="#a10" d="M4973 506l21-15-20-18-20 15z"/><path fill="#a20" d="M4952 522l21-16-19-18-22 16z"/><path fill="#b20" d="M4930 539l22-17-20-18-21 17z"/><path fill="#b20" d="M4908 557l22-18-19-18-23 19z"/><path fill="#c20" d="M4886 577l22-20-20-17-22 20z"/><path fill="#c30" d="M4863 598l23-21-20-17-23 21z"/><path fill="#d30" d="M4840 621l23-23-20-17-23 22z"/><path fill="#d40" d="M4816 644l24-23-20-18-23 24z"/><path fill="#d41" d="M4793 669l23-25-19-17-24 25z"/><path fill="#e51" d="M4769 696l24-27-20-17-24 26z"/><path fill="#e51" d="M4745 723l24-27-20-18-23 27z"/><path fill="#e61" d="M4722 751l23-28-19-18-24 29z"/><path fill="#f72" d="M4698 781l24-30-20-17-24 29z"/><path fill="#f82" d="M4674 812l24-31-20-18-23 31z"/><path fill="#f93" d="M4651 843l23-31-19-18-24 32z"/><path fill="#fa3" d="M4627 876l24-33-20-17-24 33z"/><path fill="#fb3" d="M4603 910l24-34-20-17-23 34z"/><path fill="#ec3" d="M4580 945l23-35-19-17-24 35z"/><path fill="#ed3" d="M4556 981l24-36-20-17-24 36z"/><path fill="#dd3" d="M4532 1019l24-38-20-17-24 37z"/><path fill="#ce3" d="M4509 1057l23-38-20-18-23 39z"/><path fill="#be3" d="M4485 1096l24-39-20-17-24 39z"/><path fill="#af4" d="M4461 1137l24-41-20-17-24 41z"/><path fill="#8f4" d="M4438 1179l23-42-20-17-23 41z"/><path fill="#6f6" d="M4414 1221l24-42-20-18-24 43z"/><path fill="#5f7" d="M4390 1265l24-44-20-17-24 44z"/><path fill="#ce3" d="M5913 682l17 19-20-18-17-18z"/><path fill="#dd3" d="M5895 664l18 18-20-17-17-19z"/><path fill="#ed3" d="M5878 647l17 17-19-18-18-17z"/><path fill="#ec3" d="M5861 630l17 17-20-18-17-17z"/><path fill="#fb3" d="M5844 613l17 17-20-18-17-17z"/><path fill="#fb3" d="M5827 597l17 16-20-18-17-16z"/><path fill="#fa3" d="M5809 582l18 15-20-18-17-15z"/><path fill="#f93" d="M5792 567l17 15-19-18-18-15z"/><path fill="#f93" d="M5775 553l17 14-20-18-17-14z"/><path fill="#f82" d="M5758 539l17 14-20-18-17-14z"/><path fill="#f72" d="M5740 526l18 13-20-18-17-13z"/><path fill="#f72" d="M5723 514l17 12-19-18-18-12z"/><path fill="#e61" d="M5706 502l17 12-20-18-17-12z"/><path fill="#e51" d="M5689 491l17 11-20-18-17-11z"/><path fill="#e51" d="M5671 480l18 11-20-18-17-11z"/><path fill="#e41" d="M5654 470l17 10-19-18-18-10z"/><path fill="#d41" d="M5637 461l17 9-20-18-17-9z"/><path fill="#d40" d="M5620 452l17 9-20-18-17-9z"/><path fill="#d30" d="M5603 443l17 9-20-18-17-9z"/><path fill="#c30" d="M5585 436l18 7-20-18-17-7z"/><path fill="#c30" d="M5568 428l17 8-19-18-18-7z"/><path fill="#c20" d="M5551 422l17 6-20-17-17-7z"/><path fill="#c20" d="M5534 416l17 6-20-18-17-6z"/><path fill="#b20" d="M5516 410l18 6-20-18-17-5z"/><path fill="#b20" d="M5499 405l17 5-19-17-18-5z"/><path fill="#b20" d="M5482 401l17 4-20-17-17-5z"/><path fill="#a20" d="M5465 398l17 3-20-18-17-3z"/><path fill="#a10" d="M5448 394l17 4-20-18-17-3z"/><path fill="#a10" d="M5430 392l18 2-20-17-17-3z"/><path fill="#a10" d="M5413 390l17 2-19-18-18-2z"/><path fill="#910" d="M5396 389l17 1-20-18-17-1z"/><path fill="#910" d="M5379 388l17 1-20-18-17-1z"/><path fill="#910" d="M5361 388l18 0-20-18-17 0z"/><path fill="#910" d="M5344 388l17 0-19-18-18 0z"/><path fill="#910" d="M5327 389l17-1-20-18-17 1z"/><path fill="#910" d="M5310 391l17-2-20-18-17 2z"/><path fill="#810" d="M5292 393l18-2-20-18-17 2z"/><path fill="#810" d="M5275 396l17-3-19-18-18 3z"/><path fill="#810" d="M5258 399l17-3-20-18-17 3z"/><path fill="#810" d="M5240 403l18-4-20-18-17 4z"/><path fill="#810" d="M5223 408l17-5-19-18-18 5z"/><path fill="#810" d="M5205 413l18-5-20-18-18 5z"/><path fill="#810" d="M5187 419l18-6-20-18-18 6z"/><path fill="#810" d="M5169 425l18-6-20-18-18 7z"/><path fill="#910" d="M5151 433l18-8-20-17-18 7z"/><path fill="#910" d="M5132 441l19-8-20-18-19 8z"/><path fill="#910" d="M5113 450l19-9-20-18-19 9z"/><path fill="#910" d="M5094 460l19-10-20-18-19 10z"/><path fill="#910" d="M5075 470l19-10-20-18-19 11z"/><path fill="#910" d="M5055 482l20-12-20-17-20 11z"/><path fill="#a10" d="M5035 495l20-13-20-18-20 13z"/><path fill="#a10" d="M5014 508l21-13-20-18-21 14z"/><path fill="#a20" d="M4993 523l21-15-20-17-21 15z"/><path fill="#b20" d="M4972 539l21-16-20-17-21 16z"/><path fill="#b20" d="M4950 556l22-17-20-17-22 17z"/><path fill="#b20" d="M4928 575l22-19-20-17-22 18z"/><path fill="#c30" d="M4906 595l22-20-20-18-22 20z"/><path fill="#c30" d="M4883 616l23-21-20-18-23 21z"/><path fill="#d30" d="M4860 638l23-22-20-18-23 23z"/><path fill="#d40" d="M4836 662l24-24-20-17-24 23z"/><path fill="#e41" d="M4813 687l23-25-20-18-23 25z"/><path fill="#e51" d="M4789 713l24-26-20-18-24 27z"/><path fill="#e61" d="M4765 740l24-27-20-17-24 27z"/><path fill="#f72" d="M4742 769l23-29-20-17-23 28z"/><path fill="#f72" d="M4718 798l24-29-20-18-24 30z"/><path fill="#f82" d="M4694 829l24-31-20-17-24 31z"/><path fill="#f93" d="M4670 861l24-32-20-17-23 31z"/><path fill="#fa3" d="M4647 894l23-33-19-18-24 33z"/><path fill="#fb3" d="M4623 928l24-34-20-18-24 34z"/><path fill="#ec3" d="M4599 963l24-35-20-18-23 35z"/><path fill="#dd3" d="M4576 999l23-36-19-18-24 36z"/><path fill="#dd3" d="M4552 1036l24-37-20-18-24 38z"/><path fill="#ce3" d="M4528 1074l24-38-20-17-23 38z"/><path fill="#bf3" d="M4505 1114l23-40-19-17-24 39z"/><path fill="#9f4" d="M4481 1154l24-40-20-18-24 41z"/><path fill="#8f5" d="M4457 1196l24-42-20-17-23 42z"/><path fill="#6f6" d="M4434 1239l23-43-19-17-24 42z"/><path fill="#4f8" d="M4410 1283l24-44-20-18-24 44z"/><path fill="#ce3" d="M5932 700l18 19-20-18-17-19z"/><path fill="#dd3" d="M5915 682l17 18-19-18-18-18z"/><path fill="#dd3" d="M5898 665l17 17-20-18-17-17z"/><path fill="#ec3" d="M5881 647l17 18-20-18-17-17z"/><path fill="#ec3" d="M5864 631l17 16-20-17-17-17z"/><path fill="#fb3" d="M5846 615l18 16-20-18-17-16z"/><path fill="#fa3" d="M5829 600l17 15-19-18-18-15z"/><path fill="#fa3" d="M5812 585l17 15-20-18-17-15z"/><path fill="#f93" d="M5795 571l17 14-20-18-17-14z"/><path fill="#f82" d="M5777 557l18 14-20-18-17-14z"/><path fill="#f82" d="M5760 544l17 13-19-18-18-13z"/><path fill="#f72" d="M5743 532l17 12-20-18-17-12z"/><path fill="#e61" d="M5726 520l17 12-20-18-17-12z"/><path fill="#e61" d="M5709 509l17 11-20-18-17-11z"/><path fill="#e51" d="M5691 498l18 11-20-18-18-11z"/><path fill="#e51" d="M5674 488l17 10-20-18-17-10z"/><path fill="#e41" d="M5657 478l17 10-20-18-17-9z"/><path fill="#d41" d="M5640 469l17 9-20-17-17-9z"/><path fill="#d40" d="M5622 461l18 8-20-17-17-9z"/><path fill="#d30" d="M5605 453l17 8-19-18-18-7z"/><path fill="#c30" d="M5588 446l17 7-20-17-17-8z"/><path fill="#c30" d="M5571 440l17 6-20-18-17-6z"/><path fill="#c20" d="M5553 434l18 6-20-18-17-6z"/><path fill="#b20" d="M5536 428l17 6-19-18-18-6z"/><path fill="#b20" d="M5519 423l17 5-20-18-17-5z"/><path fill="#b20" d="M5502 419l17 4-20-18-17-4z"/><path fill="#b20" d="M5485 415l17 4-20-18-17-3z"/><path fill="#a20" d="M5467 412l18 3-20-17-17-4z"/><path fill="#a10" d="M5450 410l17 2-19-18-18-2z"/><path fill="#a10" d="M5433 408l17 2-20-18-17-2z"/><path fill="#a10" d="M5416 406l17 2-20-18-17-1z"/><path fill="#910" d="M5398 406l18 0-20-17-17-1z"/><path fill="#910" d="M5381 405l17 1-19-18-18 0z"/><path fill="#910" d="M5364 406l17-1-20-17-17 0z"/><path fill="#910" d="M5347 407l17-1-20-18-17 1z"/><path fill="#910" d="M5329 408l18-1-20-18-17 2z"/><path fill="#910" d="M5312 411l17-3-19-17-18 2z"/><path fill="#910" d="M5295 413l17-2-20-18-17 3z"/><path fill="#910" d="M5278 417l17-4-20-17-17 3z"/><path fill="#910" d="M5260 421l18-4-20-18-18 4z"/><path fill="#910" d="M5242 425l18-4-20-18-17 5z"/><path fill="#910" d="M5225 430l17-5-19-17-18 5z"/><path fill="#910" d="M5207 436l18-6-20-17-18 6z"/><path fill="#910" d="M5189 443l18-7-20-17-18 6z"/><path fill="#910" d="M5170 450l19-7-20-18-18 8z"/><path fill="#910" d="M5152 459l18-9-19-17-19 8z"/><path fill="#910" d="M5133 467l19-8-20-18-19 9z"/><path fill="#910" d="M5114 477l19-10-20-17-19 10z"/><path fill="#a10" d="M5094 488l20-11-20-17-19 10z"/><path fill="#a10" d="M5075 500l19-12-19-18-20 12z"/><path fill="#a10" d="M5054 512l21-12-20-18-20 13z"/><path fill="#a20" d="M5034 526l20-14-19-17-21 13z"/><path fill="#b20" d="M5013 541l21-15-20-18-21 15z"/><path fill="#b20" d="M4992 557l21-16-20-18-21 16z"/><path fill="#b20" d="M4970 574l22-17-20-18-22 17z"/><path fill="#c20" d="M4948 592l22-18-20-18-22 19z"/><path fill="#c30" d="M4925 612l23-20-20-17-22 20z"/><path fill="#d30" d="M4903 633l22-21-19-17-23 21z"/><path fill="#d30" d="M4879 656l24-23-20-17-23 22z"/><path fill="#d41" d="M4856 679l23-23-19-18-24 24z"/><path fill="#e51" d="M4832 704l24-25-20-17-23 25z"/><path fill="#e51" d="M4809 731l23-27-19-17-24 26z"/><path fill="#e61" d="M4785 758l24-27-20-18-24 27z"/><path fill="#f72" d="M4761 786l24-28-20-18-23 29z"/><path fill="#f82" d="M4738 816l23-30-19-17-24 29z"/><path fill="#f92" d="M4714 847l24-31-20-18-24 31z"/><path fill="#fa3" d="M4690 878l24-31-20-18-24 32z"/><path fill="#fb3" d="M4667 911l23-33-20-17-23 33z"/><path fill="#fb3" d="M4643 945l24-34-20-17-24 34z"/><path fill="#ec3" d="M4619 980l24-35-20-17-24 35z"/><path fill="#dd3" d="M4596 1016l23-36-20-17-23 36z"/><path fill="#ce3" d="M4572 1053l24-37-20-17-24 37z"/><path fill="#be3" d="M4548 1092l24-39-20-17-24 38z"/><path fill="#af3" d="M4524 1131l24-39-20-18-23 40z"/><path fill="#9f4" d="M4501 1172l23-41-19-17-24 40z"/><path fill="#7f5" d="M4477 1213l24-41-20-18-24 42z"/><path fill="#5f7" d="M4453 1256l24-43-20-17-23 43z"/><path fill="#4e8" d="M4430 1300l23-44-19-17-24 44z"/><path fill="#ce3" d="M5952 718l17 19-19-18-18-19z"/><path fill="#dd3" d="M5935 700l17 18-20-18-17-18z"/><path fill="#dd3" d="M5918 682l17 18-20-18-17-17z"/><path fill="#ec3" d="M5901 665l17 17-20-17-17-18z"/><path fill="#ec3" d="M5883 649l18 16-20-18-17-16z"/><path fill="#fb3" d="M5866 633l17 16-19-18-18-16z"/><path fill="#fb3" d="M5849 618l17 15-20-18-17-15z"/><path fill="#fa3" d="M5832 603l17 15-20-18-17-15z"/><path fill="#f93" d="M5814 589l18 14-20-18-17-14z"/><path fill="#f93" d="M5797 575l17 14-19-18-18-14z"/><path fill="#f82" d="M5780 562l17 13-20-18-17-13z"/><path fill="#f72" d="M5763 550l17 12-20-18-17-12z"/><path fill="#f72" d="M5746 538l17 12-20-18-17-12z"/><path fill="#e61" d="M5728 526l18 12-20-18-17-11z"/><path fill="#e51" d="M5711 516l17 10-19-17-18-11z"/><path fill="#e51" d="M5694 506l17 10-20-18-17-10z"/><path fill="#e51" d="M5677 496l17 10-20-18-17-10z"/><path fill="#d41" d="M5659 487l18 9-20-18-17-9z"/><path fill="#d41" d="M5642 479l17 8-19-18-18-8z"/><path fill="#d30" d="M5625 471l17 8-20-18-17-8z"/><path fill="#d30" d="M5608 464l17 7-20-18-17-7z"/><path fill="#c30" d="M5590 457l18 7-20-18-17-6z"/><path fill="#c30" d="M5573 451l17 6-19-17-18-6z"/><path fill="#c20" d="M5556 446l17 5-20-17-17-6z"/><path fill="#b20" d="M5539 441l17 5-20-18-17-5z"/><path fill="#b20" d="M5522 437l17 4-20-18-17-4z"/><path fill="#b20" d="M5504 433l18 4-20-18-17-4z"/><path fill="#b20" d="M5487 430l17 3-19-18-18-3z"/><path fill="#a20" d="M5470 427l17 3-20-18-17-2z"/><path fill="#a10" d="M5453 426l17 1-20-17-17-2z"/><path fill="#a10" d="M5435 424l18 2-20-18-17-2z"/><path fill="#a10" d="M5418 423l17 1-19-18-18 0z"/><path fill="#a10" d="M5401 423l17 0-20-17-17-1z"/><path fill="#910" d="M5384 424l17-1-20-18-17 1z"/><path fill="#910" d="M5366 425l18-1-20-18-17 1z"/><path fill="#910" d="M5349 426l17-1-19-18-18 1z"/><path fill="#910" d="M5332 428l17-2-20-18-17 3z"/><path fill="#910" d="M5315 431l17-3-20-17-17 2z"/><path fill="#910" d="M5297 434l18-3-20-18-17 4z"/><path fill="#910" d="M5280 438l17-4-19-17-18 4z"/><path fill="#910" d="M5262 443l18-5-20-17-18 4z"/><path fill="#910" d="M5245 448l17-5-20-18-17 5z"/><path fill="#910" d="M5227 454l18-6-20-18-18 6z"/><path fill="#910" d="M5208 461l19-7-20-18-18 7z"/><path fill="#910" d="M5190 468l18-7-19-18-19 7z"/><path fill="#910" d="M5172 476l18-8-20-18-18 9z"/><path fill="#910" d="M5153 485l19-9-20-17-19 8z"/><path fill="#a10" d="M5134 495l19-10-20-18-19 10z"/><path fill="#a10" d="M5114 506l20-11-20-18-20 11z"/><path fill="#a10" d="M5094 517l20-11-20-18-19 12z"/><path fill="#a20" d="M5074 530l20-13-19-17-21 12z"/><path fill="#b20" d="M5054 544l20-14-20-18-20 14z"/><path fill="#b20" d="M5033 558l21-14-20-18-21 15z"/><path fill="#b20" d="M5011 574l22-16-20-17-21 16z"/><path fill="#c20" d="M4990 592l21-18-19-17-22 17z"/><path fill="#c30" d="M4968 610l22-18-20-18-22 18z"/><path fill="#c30" d="M4945 630l23-20-20-18-23 20z"/><path fill="#d30" d="M4922 651l23-21-20-18-22 21z"/><path fill="#d40" d="M4899 673l23-22-19-18-24 23z"/><path fill="#d41" d="M4876 697l23-24-20-17-23 23z"/><path fill="#e51" d="M4852 722l24-25-20-18-24 25z"/><path fill="#e51" d="M4829 748l23-26-20-18-23 27z"/><path fill="#e61" d="M4805 775l24-27-20-17-24 27z"/><path fill="#f72" d="M4781 804l24-29-20-17-24 28z"/><path fill="#f82" d="M4757 833l24-29-20-18-23 30z"/><path fill="#f93" d="M4734 864l23-31-19-17-24 31z"/><path fill="#fa3" d="M4710 896l24-32-20-17-24 31z"/><path fill="#fb3" d="M4686 928l24-32-20-18-23 33z"/><path fill="#ec3" d="M4663 962l23-34-19-17-24 34z"/><path fill="#ec3" d="M4639 997l24-35-20-17-24 35z"/><path fill="#dd3" d="M4615 1034l24-37-20-17-23 36z"/><path fill="#ce3" d="M4592 1071l23-37-19-18-24 37z"/><path fill="#be3" d="M4568 1109l24-38-20-18-24 39z"/><path fill="#af3" d="M4544 1149l24-40-20-17-24 39z"/><path fill="#9f4" d="M4521 1189l23-40-20-18-23 41z"/><path fill="#7f5" d="M4497 1231l24-42-20-17-24 41z"/><path fill="#5f7" d="M4473 1273l24-42-20-18-24 43z"/><path fill="#3e9" d="M4449 1317l24-44-20-17-23 44z"/><path fill="#ce3" d="M5972 736l17 19-20-18-17-19z"/><path fill="#ce3" d="M5955 718l17 18-20-18-17-18z"/><path fill="#dd3" d="M5938 700l17 18-20-18-17-18z"/><path fill="#ed3" d="M5920 683l18 17-20-18-17-17z"/><path fill="#ec3" d="M5903 667l17 16-19-18-18-16z"/><path fill="#ec3" d="M5886 651l17 16-20-18-17-16z"/><path fill="#fb3" d="M5869 636l17 15-20-18-17-15z"/><path fill="#fa3" d="M5851 621l18 15-20-18-17-15z"/><path fill="#fa3" d="M5834 607l17 14-19-18-18-14z"/><path fill="#f93" d="M5817 593l17 14-20-18-17-14z"/><path fill="#f82" d="M5800 580l17 13-20-18-17-13z"/><path fill="#f82" d="M5783 567l17 13-20-18-17-12z"/><path fill="#f72" d="M5765 556l18 11-20-17-17-12z"/><path fill="#f72" d="M5748 544l17 12-19-18-18-12z"/><path fill="#e61" d="M5731 534l17 10-20-18-17-10z"/><path fill="#e51" d="M5714 524l17 10-20-18-17-10z"/><path fill="#e51" d="M5696 514l18 10-20-18-17-10z"/><path fill="#e41" d="M5679 505l17 9-19-18-18-9z"/><path fill="#d41" d="M5662 497l17 8-20-18-17-8z"/><path fill="#d40" d="M5645 489l17 8-20-18-17-8z"/><path fill="#d30" d="M5627 482l18 7-20-18-17-7z"/><path fill="#d30" d="M5610 475l17 7-19-18-18-7z"/><path fill="#c30" d="M5593 469l17 6-20-18-17-6z"/><path fill="#c30" d="M5576 464l17 5-20-18-17-5z"/><path fill="#c20" d="M5559 459l17 5-20-18-17-5z"/><path fill="#b20" d="M5541 455l18 4-20-18-17-4z"/><path fill="#b20" d="M5524 451l17 4-19-18-18-4z"/><path fill="#b20" d="M5507 448l17 3-20-18-17-3z"/><path fill="#b20" d="M5490 445l17 3-20-18-17-3z"/><path fill="#b20" d="M5472 443l18 2-20-18-17-1z"/><path fill="#a10" d="M5455 442l17 1-19-17-18-2z"/><path fill="#a10" d="M5438 441l17 1-20-18-17-1z"/><path fill="#a10" d="M5421 441l17 0-20-18-17 0z"/><path fill="#a10" d="M5403 441l18 0-20-18-17 1z"/><path fill="#a10" d="M5386 442l17-1-19-17-18 1z"/><path fill="#a10" d="M5369 444l17-2-20-17-17 1z"/><path fill="#910" d="M5352 446l17-2-20-18-17 2z"/><path fill="#910" d="M5334 449l18-3-20-18-17 3z"/><path fill="#910" d="M5317 452l17-3-19-18-18 3z"/><path fill="#910" d="M5300 456l17-4-20-18-17 4z"/><path fill="#910" d="M5282 461l18-5-20-18-18 5z"/><path fill="#910" d="M5264 466l18-5-20-18-17 5z"/><path fill="#910" d="M5246 472l18-6-19-18-18 6z"/><path fill="#910" d="M5228 478l18-6-19-18-19 7z"/><path fill="#a10" d="M5210 486l18-8-20-17-18 7z"/><path fill="#a10" d="M5191 494l19-8-20-18-18 8z"/><path fill="#a10" d="M5172 503l19-9-19-18-19 9z"/><path fill="#a10" d="M5153 513l19-10-19-18-19 10z"/><path fill="#a10" d="M5134 523l19-10-19-18-20 11z"/><path fill="#a20" d="M5114 535l20-12-20-17-20 11z"/><path fill="#b20" d="M5094 547l20-12-20-18-20 13z"/><path fill="#b20" d="M5073 561l21-14-20-17-20 14z"/><path fill="#b20" d="M5052 576l21-15-19-17-21 14z"/><path fill="#c20" d="M5031 592l21-16-19-18-22 16z"/><path fill="#c20" d="M5009 609l22-17-20-18-21 18z"/><path fill="#c30" d="M4987 628l22-19-19-17-22 18z"/><path fill="#d30" d="M4965 647l22-19-19-18-23 20z"/><path fill="#d40" d="M4942 668l23-21-20-17-23 21z"/><path fill="#d41" d="M4919 691l23-23-20-17-23 22z"/><path fill="#e41" d="M4896 714l23-23-20-18-23 24z"/><path fill="#e51" d="M4872 739l24-25-20-17-24 25z"/><path fill="#e61" d="M4848 766l24-27-20-17-23 26z"/><path fill="#f72" d="M4825 793l23-27-19-18-24 27z"/><path fill="#f82" d="M4801 821l24-28-20-18-24 29z"/><path fill="#f82" d="M4777 851l24-30-20-17-24 29z"/><path fill="#f93" d="M4754 881l23-30-20-18-23 31z"/><path fill="#fa3" d="M4730 913l24-32-20-17-24 32z"/><path fill="#fb3" d="M4706 946l24-33-20-17-24 32z"/><path fill="#ec3" d="M4682 980l24-34-20-18-23 34z"/><path fill="#ed3" d="M4659 1015l23-35-19-18-24 35z"/><path fill="#dd3" d="M4635 1051l24-36-20-18-24 37z"/><path fill="#ce3" d="M4611 1088l24-37-20-17-23 37z"/><path fill="#be3" d="M4588 1126l23-38-19-17-24 38z"/><path fill="#af4" d="M4564 1166l24-40-20-17-24 40z"/><path fill="#8f4" d="M4540 1206l24-40-20-17-23 40z"/><path fill="#7f6" d="M4517 1248l23-42-19-17-24 42z"/><path fill="#5f7" d="M4493 1291l24-43-20-17-24 42z"/><path fill="#3e9" d="M4469 1335l24-44-20-18-24 44z"/><path fill="#be3" d="M5992 754l17 19-20-18-17-19z"/><path fill="#ce3" d="M5975 736l17 18-20-18-17-18z"/><path fill="#dd3" d="M5957 718l18 18-20-18-17-18z"/><path fill="#dd3" d="M5940 701l17 17-19-18-18-17z"/><path fill="#ec3" d="M5923 685l17 16-20-18-17-16z"/><path fill="#ec3" d="M5906 669l17 16-20-18-17-16z"/><path fill="#fb3" d="M5888 653l18 16-20-18-17-15z"/><path fill="#fb3" d="M5871 639l17 14-19-17-18-15z"/><path fill="#fa3" d="M5854 624l17 15-20-18-17-14z"/><path fill="#f93" d="M5837 611l17 13-20-17-17-14z"/><path fill="#f93" d="M5820 598l17 13-20-18-17-13z"/><path fill="#f82" d="M5802 585l18 13-20-18-17-13z"/><path fill="#f72" d="M5785 574l17 11-19-18-18-11z"/><path fill="#f72" d="M5768 562l17 12-20-18-17-12z"/><path fill="#e61" d="M5751 552l17 10-20-18-17-10z"/><path fill="#e61" d="M5733 541l18 11-20-18-17-10z"/><path fill="#e51" d="M5716 532l17 9-19-17-18-10z"/><path fill="#e51" d="M5699 523l17 9-20-18-17-9z"/><path fill="#e41" d="M5682 515l17 8-20-18-17-8z"/><path fill="#d41" d="M5664 507l18 8-20-18-17-8z"/><path fill="#d40" d="M5647 500l17 7-19-18-18-7z"/><path fill="#d30" d="M5630 493l17 7-20-18-17-7z"/><path fill="#d30" d="M5613 487l17 6-20-18-17-6z"/><path fill="#c30" d="M5596 481l17 6-20-18-17-5z"/><path fill="#c30" d="M5578 477l18 4-20-17-17-5z"/><path fill="#c20" d="M5561 472l17 5-19-18-18-4z"/><path fill="#b20" d="M5544 469l17 3-20-17-17-4z"/><path fill="#b20" d="M5527 466l17 3-20-18-17-3z"/><path fill="#b20" d="M5509 463l18 3-20-18-17-3z"/><path fill="#b20" d="M5492 461l17 2-19-18-18-2z"/><path fill="#b20" d="M5475 460l17 1-20-18-17-1z"/><path fill="#a20" d="M5458 459l17 1-20-18-17-1z"/><path fill="#a10" d="M5441 459l17 0-20-18-17 0z"/><path fill="#a10" d="M5423 459l18 0-20-18-18 0z"/><path fill="#a10" d="M5406 460l17-1-20-18-17 1z"/><path fill="#a10" d="M5389 462l17-2-20-18-17 2z"/><path fill="#a10" d="M5372 464l17-2-20-18-17 2z"/><path fill="#a10" d="M5354 466l18-2-20-18-18 3z"/><path fill="#a10" d="M5337 470l17-4-20-17-17 3z"/><path fill="#a10" d="M5319 474l18-4-20-18-17 4z"/><path fill="#a10" d="M5302 478l17-4-19-18-18 5z"/><path fill="#a10" d="M5284 483l18-5-20-17-18 5z"/><path fill="#a10" d="M5266 489l18-6-20-17-18 6z"/><path fill="#a10" d="M5248 496l18-7-20-17-18 6z"/><path fill="#a10" d="M5230 503l18-7-20-18-18 8z"/><path fill="#a10" d="M5211 511l19-8-20-17-19 8z"/><path fill="#a10" d="M5192 520l19-9-20-17-19 9z"/><path fill="#a10" d="M5173 530l19-10-20-17-19 10z"/><path fill="#a20" d="M5154 541l19-11-20-17-19 10z"/><path fill="#b20" d="M5134 552l20-11-20-18-20 12z"/><path fill="#b20" d="M5114 565l20-13-20-17-20 12z"/><path fill="#b20" d="M5093 579l21-14-20-18-21 14z"/><path fill="#b20" d="M5072 594l21-15-20-18-21 15z"/><path fill="#c20" d="M5051 609l21-15-20-18-21 16z"/><path fill="#c30" d="M5029 627l22-18-20-17-22 17z"/><path fill="#c30" d="M5007 645l22-18-20-18-22 19z"/><path fill="#d30" d="M4985 665l22-20-20-17-22 19z"/><path fill="#d40" d="M4962 686l23-21-20-18-23 21z"/><path fill="#d41" d="M4939 708l23-22-20-18-23 23z"/><path fill="#e51" d="M4915 732l24-24-20-17-23 23z"/><path fill="#e51" d="M4892 757l23-25-19-18-24 25z"/><path fill="#e61" d="M4868 783l24-26-20-18-24 27z"/><path fill="#f72" d="M4844 810l24-27-20-17-23 27z"/><path fill="#f82" d="M4821 839l23-29-19-17-24 28z"/><path fill="#f93" d="M4797 868l24-29-20-18-24 30z"/><path fill="#fa3" d="M4773 899l24-31-20-17-23 30z"/><path fill="#fb3" d="M4750 931l23-32-19-18-24 32z"/><path fill="#fb3" d="M4726 963l24-32-20-18-24 33z"/><path fill="#ec3" d="M4702 997l24-34-20-17-24 34z"/><path fill="#dd3" d="M4679 1032l23-35-20-17-23 35z"/><path fill="#dd3" d="M4655 1068l24-36-20-17-24 36z"/><path fill="#ce3" d="M4631 1106l24-38-20-17-24 37z"/><path fill="#bf3" d="M4607 1144l24-38-20-18-23 38z"/><path fill="#9f4" d="M4584 1183l23-39-19-18-24 40z"/><path fill="#8f5" d="M4560 1224l24-41-20-17-24 40z"/><path fill="#6f6" d="M4536 1265l24-41-20-18-23 42z"/><path fill="#4f8" d="M4513 1308l23-43-19-17-24 43z"/><path fill="#3e9" d="M4489 1352l24-44-20-17-24 44z"/><path fill="#be3" d="M6012 772l17 19-20-18-17-19z"/><path fill="#ce3" d="M5994 754l18 18-20-18-17-18z"/><path fill="#ce3" d="M5977 736l17 18-19-18-18-18z"/><path fill="#dd3" d="M5960 719l17 17-20-18-17-17z"/><path fill="#ed3" d="M5943 703l17 16-20-18-17-16z"/><path fill="#ec3" d="M5925 687l18 16-20-18-17-16z"/><path fill="#eb3" d="M5908 671l17 16-19-18-18-16z"/><path fill="#fb3" d="M5891 657l17 14-20-18-17-14z"/><path fill="#fa3" d="M5874 642l17 15-20-18-17-15z"/><path fill="#fa3" d="M5857 629l17 13-20-18-17-13z"/><path fill="#f93" d="M5839 616l18 13-20-18-17-13z"/><path fill="#f82" d="M5822 603l17 13-19-18-18-13z"/><path fill="#f82" d="M5805 591l17 12-20-18-17-11z"/><path fill="#f72" d="M5788 580l17 11-20-17-17-12z"/><path fill="#f72" d="M5770 569l18 11-20-18-17-10z"/><path fill="#e61" d="M5753 559l17 10-19-17-18-11z"/><path fill="#e51" d="M5736 550l17 9-20-18-17-9z"/><path fill="#e51" d="M5719 541l17 9-20-18-17-9z"/><path fill="#e51" d="M5701 532l18 9-20-18-17-8z"/><path fill="#d41" d="M5684 525l17 7-19-17-18-8z"/><path fill="#d41" d="M5667 517l17 8-20-18-17-7z"/><path fill="#d40" d="M5650 511l17 6-20-17-17-7z"/><path fill="#d30" d="M5633 505l17 6-20-18-17-6z"/><path fill="#c30" d="M5615 499l18 6-20-18-17-6z"/><path fill="#c30" d="M5598 494l17 5-19-18-18-4z"/><path fill="#c30" d="M5581 490l17 4-20-17-17-5z"/><path fill="#c20" d="M5564 486l17 4-20-18-17-3z"/><path fill="#c20" d="M5546 483l18 3-20-17-17-3z"/><path fill="#b20" d="M5529 481l17 2-19-17-18-3z"/><path fill="#b20" d="M5512 479l17 2-20-18-17-2z"/><path fill="#b20" d="M5495 477l17 2-20-18-17-1z"/><path fill="#b20" d="M5478 477l17 0-20-17-17-1z"/><path fill="#b20" d="M5460 476l18 1-20-18-17 0z"/><path fill="#a20" d="M5443 477l17-1-19-17-18 0z"/><path fill="#a10" d="M5426 478l17-1-20-18-17 1z"/><path fill="#a10" d="M5409 479l17-1-20-18-17 2z"/><path fill="#a10" d="M5391 481l18-2-20-17-17 2z"/><path fill="#a10" d="M5374 484l17-3-19-17-18 2z"/><path fill="#a10" d="M5357 487l17-3-20-18-17 4z"/><path fill="#a10" d="M5339 491l18-4-20-17-18 4z"/><path fill="#a10" d="M5322 496l17-5-20-17-17 4z"/><path fill="#a10" d="M5304 501l18-5-20-18-18 5z"/><path fill="#a10" d="M5286 507l18-6-20-18-18 6z"/><path fill="#a10" d="M5268 514l18-7-20-18-18 7z"/><path fill="#a10" d="M5249 521l19-7-20-18-18 7z"/><path fill="#a10" d="M5231 529l18-8-19-18-19 8z"/><path fill="#a20" d="M5212 538l19-9-20-18-19 9z"/><path fill="#b20" d="M5193 548l19-10-20-18-19 10z"/><path fill="#b20" d="M5173 558l20-10-20-18-19 11z"/><path fill="#b20" d="M5154 570l19-12-19-17-20 11z"/><path fill="#b20" d="M5133 583l21-13-20-18-20 13z"/><path fill="#b20" d="M5113 596l20-13-19-18-21 14z"/><path fill="#c20" d="M5092 611l21-15-20-17-21 15z"/><path fill="#c30" d="M5071 627l21-16-20-17-21 15z"/><path fill="#c30" d="M5049 644l22-17-20-18-22 18z"/><path fill="#d30" d="M5027 663l22-19-20-17-22 18z"/><path fill="#d40" d="M5004 682l23-19-20-18-22 20z"/><path fill="#d41" d="M4982 703l22-21-19-17-23 21z"/><path fill="#e41" d="M4959 726l23-23-20-17-23 22z"/><path fill="#e51" d="M4935 749l24-23-20-18-24 24z"/><path fill="#e61" d="M4912 774l23-25-20-17-23 25z"/><path fill="#f72" d="M4888 801l24-27-20-17-24 26z"/><path fill="#f72" d="M4864 828l24-27-20-18-24 27z"/><path fill="#f82" d="M4840 856l24-28-20-18-23 29z"/><path fill="#f93" d="M4817 886l23-30-19-17-24 29z"/><path fill="#fa3" d="M4793 916l24-30-20-18-24 31z"/><path fill="#fb3" d="M4769 948l24-32-20-17-23 32z"/><path fill="#ec3" d="M4746 981l23-33-19-17-24 32z"/><path fill="#ec3" d="M4722 1015l24-34-20-18-24 34z"/><path fill="#dd3" d="M4698 1050l24-35-20-18-23 35z"/><path fill="#ce3" d="M4675 1086l23-36-19-18-24 36z"/><path fill="#be3" d="M4651 1123l24-37-20-18-24 38z"/><path fill="#af3" d="M4627 1161l24-38-20-17-24 38z"/><path fill="#9f4" d="M4604 1201l23-40-20-17-23 39z"/><path fill="#8f5" d="M4580 1241l24-40-20-18-24 41z"/><path fill="#6f6" d="M4556 1283l24-42-20-17-24 41z"/><path fill="#4f8" d="M4533 1325l23-42-20-18-23 43z"/><path fill="#2ea" d="M4509 1369l24-44-20-17-24 44z"/><path fill="#bf3" d="M6031 790l18 19-20-18-17-19z"/><path fill="#be3" d="M6014 772l17 18-19-18-18-18z"/><path fill="#ce3" d="M5997 754l17 18-20-18-17-18z"/><path fill="#dd3" d="M5980 737l17 17-20-18-17-17z"/><path fill="#dd3" d="M5962 721l18 16-20-18-17-16z"/><path fill="#ec3" d="M5945 705l17 16-19-18-18-16z"/><path fill="#ec3" d="M5928 689l17 16-20-18-17-16z"/><path fill="#fb3" d="M5911 674l17 15-20-18-17-14z"/><path fill="#fb3" d="M5894 660l17 14-20-17-17-15z"/><path fill="#fa3" d="M5876 647l18 13-20-18-17-13z"/><path fill="#f93" d="M5859 634l17 13-19-18-18-13z"/><path fill="#f93" d="M5842 621l17 13-20-18-17-13z"/><path fill="#f82" d="M5825 609l17 12-20-18-17-12z"/><path fill="#f82" d="M5807 598l18 11-20-18-17-11z"/><path fill="#f72" d="M5790 587l17 11-19-18-18-11z"/><path fill="#e61" d="M5773 577l17 10-20-18-17-10z"/><path fill="#e61" d="M5756 568l17 9-20-18-17-9z"/><path fill="#e51" d="M5739 559l17 9-20-18-17-9z"/><path fill="#e51" d="M5721 550l18 9-20-18-18-9z"/><path fill="#e41" d="M5704 542l17 8-20-18-17-7z"/><path fill="#d41" d="M5687 535l17 7-20-17-17-8z"/><path fill="#d41" d="M5670 529l17 6-20-18-17-6z"/><path fill="#d40" d="M5652 523l18 6-20-18-17-6z"/><path fill="#d30" d="M5635 517l17 6-19-18-18-6z"/><path fill="#c30" d="M5618 512l17 5-20-18-17-5z"/><path fill="#c30" d="M5601 508l17 4-20-18-17-4z"/><path fill="#c30" d="M5583 504l18 4-20-18-17-4z"/><path fill="#c20" d="M5566 501l17 3-19-18-18-3z"/><path fill="#c20" d="M5549 498l17 3-20-18-17-2z"/><path fill="#b20" d="M5532 497l17 1-20-17-17-2z"/><path fill="#b20" d="M5515 495l17 2-20-18-17-2z"/><path fill="#b20" d="M5497 494l18 1-20-18-17 0z"/><path fill="#b20" d="M5480 494l17 0-19-17-18-1z"/><path fill="#b20" d="M5463 494l17 0-20-18-17 1z"/><path fill="#b20" d="M5446 495l17-1-20-17-17 1z"/><path fill="#a20" d="M5428 497l18-2-20-17-17 1z"/><path fill="#a20" d="M5411 499l17-2-19-18-18 2z"/><path fill="#a10" d="M5394 502l17-3-20-18-17 3z"/><path fill="#a10" d="M5376 505l18-3-20-18-17 3z"/><path fill="#a10" d="M5359 509l17-4-19-18-18 4z"/><path fill="#a10" d="M5341 514l18-5-20-18-17 5z"/><path fill="#a10" d="M5324 519l17-5-19-18-18 5z"/><path fill="#a10" d="M5306 525l18-6-20-18-18 6z"/><path fill="#a20" d="M5288 531l18-6-20-18-18 7z"/><path fill="#a20" d="M5269 539l19-8-20-17-19 7z"/><path fill="#b20" d="M5251 547l18-8-20-18-18 8z"/><path fill="#b20" d="M5232 556l19-9-20-18-19 9z"/><path fill="#b20" d="M5213 565l19-9-20-18-19 10z"/><path fill="#b20" d="M5193 576l20-11-20-17-20 10z"/><path fill="#b20" d="M5173 588l20-12-20-18-19 12z"/><path fill="#b20" d="M5153 600l20-12-19-18-21 13z"/><path fill="#c20" d="M5133 614l20-14-20-17-20 13z"/><path fill="#c30" d="M5112 629l21-15-20-18-21 15z"/><path fill="#c30" d="M5091 645l21-16-20-18-21 16z"/><path fill="#d30" d="M5069 662l22-17-20-18-22 17z"/><path fill="#d30" d="M5047 680l22-18-20-18-22 19z"/><path fill="#d41" d="M5024 700l23-20-20-17-23 19z"/><path fill="#d41" d="M5001 721l23-21-20-18-22 21z"/><path fill="#e51" d="M4978 743l23-22-19-18-23 23z"/><path fill="#e51" d="M4955 767l23-24-19-17-24 23z"/><path fill="#e61" d="M4931 792l24-25-20-18-23 25z"/><path fill="#f72" d="M4908 818l23-26-19-18-24 27z"/><path fill="#f82" d="M4884 845l24-27-20-17-24 27z"/><path fill="#f82" d="M4860 874l24-29-20-17-24 28z"/><path fill="#f93" d="M4837 903l23-29-20-18-23 30z"/><path fill="#fa3" d="M4813 934l24-31-20-17-24 30z"/><path fill="#fb3" d="M4789 965l24-31-20-18-24 32z"/><path fill="#ec3" d="M4766 998l23-33-20-17-23 33z"/><path fill="#ed3" d="M4742 1032l24-34-20-17-24 34z"/><path fill="#dd3" d="M4718 1067l24-35-20-17-24 35z"/><path fill="#ce3" d="M4694 1103l24-36-20-17-23 36z"/><path fill="#be3" d="M4671 1140l23-37-19-17-24 37z"/><path fill="#af3" d="M4647 1179l24-39-20-17-24 38z"/><path fill="#9f4" d="M4623 1218l24-39-20-18-23 40z"/><path fill="#7f5" d="M4600 1259l23-41-19-17-24 40z"/><path fill="#5f7" d="M4576 1300l24-41-20-18-24 42z"/><path fill="#4e8" d="M4552 1343l24-43-20-17-23 42z"/><path fill="#2ea" d="M4529 1387l23-44-19-18-24 44z"/><path fill="#af3" d="M6051 808l17 19-19-18-18-19z"/><path fill="#be3" d="M6034 790l17 18-20-18-17-18z"/><path fill="#ce3" d="M6017 772l17 18-20-18-17-18z"/><path fill="#dd3" d="M5999 755l18 17-20-18-17-17z"/><path fill="#dd3" d="M5982 739l17 16-19-18-18-16z"/><path fill="#ed3" d="M5965 723l17 16-20-18-17-16z"/><path fill="#ec3" d="M5948 707l17 16-20-18-17-16z"/><path fill="#eb3" d="M5931 692l17 15-20-18-17-15z"/><path fill="#fb3" d="M5913 678l18 14-20-18-17-14z"/><path fill="#fa3" d="M5896 665l17 13-19-18-18-13z"/><path fill="#fa3" d="M5879 651l17 14-20-18-17-13z"/><path fill="#f93" d="M5862 639l17 12-20-17-17-13z"/><path fill="#f82" d="M5844 627l18 12-20-18-17-12z"/><path fill="#f82" d="M5827 616l17 11-19-18-18-11z"/><path fill="#f72" d="M5810 605l17 11-20-18-17-11z"/><path fill="#f72" d="M5793 595l17 10-20-18-17-10z"/><path fill="#e61" d="M5776 585l17 10-20-18-17-9z"/><path fill="#e61" d="M5758 576l18 9-20-17-17-9z"/><path fill="#e51" d="M5741 568l17 8-19-17-18-9z"/><path fill="#e51" d="M5724 560l17 8-20-18-17-8z"/><path fill="#e41" d="M5707 553l17 7-20-18-17-7z"/><path fill="#d41" d="M5689 546l18 7-20-18-17-6z"/><path fill="#d40" d="M5672 540l17 6-19-17-18-6z"/><path fill="#d30" d="M5655 535l17 5-20-17-17-6z"/><path fill="#d30" d="M5638 530l17 5-20-18-17-5z"/><path fill="#c30" d="M5620 526l18 4-20-18-17-4z"/><path fill="#c30" d="M5603 522l17 4-19-18-18-4z"/><path fill="#c30" d="M5586 519l17 3-20-18-17-3z"/><path fill="#c20" d="M5569 516l17 3-20-18-17-3z"/><path fill="#c20" d="M5552 514l17 2-20-18-17-1z"/><path fill="#b20" d="M5534 513l18 1-20-17-17-2z"/><path fill="#b20" d="M5517 512l17 1-19-18-18-1z"/><path fill="#b20" d="M5500 512l17 0-20-18-17 0z"/><path fill="#b20" d="M5483 512l17 0-20-18-17 0z"/><path fill="#b20" d="M5465 513l18-1-20-18-17 1z"/><path fill="#b20" d="M5448 515l17-2-19-18-18 2z"/><path fill="#b20" d="M5431 517l17-2-20-18-17 2z"/><path fill="#b20" d="M5414 519l17-2-20-18-17 3z"/><path fill="#b20" d="M5396 523l18-4-20-17-18 3z"/><path fill="#b20" d="M5379 527l17-4-20-18-17 4z"/><path fill="#b20" d="M5361 531l18-4-20-18-18 5z"/><path fill="#b20" d="M5343 536l18-5-20-17-17 5z"/><path fill="#b20" d="M5326 542l17-6-19-17-18 6z"/><path fill="#b20" d="M5307 549l19-7-20-17-18 6z"/><path fill="#b20" d="M5289 556l18-7-19-18-19 8z"/><path fill="#b20" d="M5270 564l19-8-20-17-18 8z"/><path fill="#b20" d="M5252 573l18-9-19-17-19 9z"/><path fill="#b20" d="M5232 583l20-10-20-17-19 9z"/><path fill="#b20" d="M5213 594l19-11-19-18-20 11z"/><path fill="#c20" d="M5193 605l20-11-20-18-20 12z"/><path fill="#c20" d="M5173 618l20-13-20-17-20 12z"/><path fill="#c30" d="M5153 632l20-14-20-18-20 14z"/><path fill="#c30" d="M5132 646l21-14-20-18-21 15z"/><path fill="#c30" d="M5110 662l22-16-20-17-21 16z"/><path fill="#d30" d="M5089 679l21-17-19-17-22 17z"/><path fill="#d40" d="M5067 698l22-19-20-17-22 18z"/><path fill="#d41" d="M5044 717l23-19-20-18-23 20z"/><path fill="#e41" d="M5021 738l23-21-20-17-23 21z"/><path fill="#e51" d="M4998 761l23-23-20-17-23 22z"/><path fill="#e61" d="M4975 784l23-23-20-18-23 24z"/><path fill="#e61" d="M4951 809l24-25-20-17-24 25z"/><path fill="#f72" d="M4927 836l24-27-20-17-23 26z"/><path fill="#f82" d="M4904 863l23-27-19-18-24 27z"/><path fill="#f93" d="M4880 891l24-28-20-18-24 29z"/><path fill="#fa3" d="M4856 921l24-30-20-17-23 29z"/><path fill="#fb3" d="M4833 951l23-30-19-18-24 31z"/><path fill="#fb3" d="M4809 983l24-32-20-17-24 31z"/><path fill="#ec3" d="M4785 1016l24-33-20-18-23 33z"/><path fill="#dd3" d="M4762 1050l23-34-19-18-24 34z"/><path fill="#dd3" d="M4738 1085l24-35-20-18-24 35z"/><path fill="#ce3" d="M4714 1121l24-36-20-18-24 36z"/><path fill="#bf3" d="M4691 1158l23-37-20-18-23 37z"/><path fill="#af4" d="M4667 1196l24-38-20-18-24 39z"/><path fill="#8f4" d="M4643 1235l24-39-20-17-24 39z"/><path fill="#7f6" d="M4619 1276l24-41-20-17-23 41z"/><path fill="#5f7" d="M4596 1317l23-41-19-17-24 41z"/><path fill="#3e9" d="M4572 1360l24-43-20-17-24 43z"/><path fill="#2ea" d="M4548 1404l24-44-20-17-23 44z"/><path fill="#af3" d="M6071 826l17 19-20-18-17-19z"/><path fill="#be3" d="M6054 808l17 18-20-18-17-18z"/><path fill="#ce3" d="M6036 790l18 18-20-18-17-18z"/><path fill="#ce3" d="M6019 773l17 17-19-18-18-17z"/><path fill="#dd3" d="M6002 756l17 17-20-18-17-16z"/><path fill="#dd3" d="M5985 740l17 16-20-17-17-16z"/><path fill="#ec3" d="M5968 725l17 15-20-17-17-16z"/><path fill="#ec3" d="M5950 710l18 15-20-18-17-15z"/><path fill="#fb3" d="M5933 696l17 14-19-18-18-14z"/><path fill="#fb3" d="M5916 682l17 14-20-18-17-13z"/><path fill="#fa3" d="M5899 669l17 13-20-17-17-14z"/><path fill="#f93" d="M5881 657l18 12-20-18-17-12z"/><path fill="#f93" d="M5864 645l17 12-19-18-18-12z"/><path fill="#f82" d="M5847 634l17 11-20-18-17-11z"/><path fill="#f82" d="M5830 623l17 11-20-18-17-11z"/><path fill="#f72" d="M5813 613l17 10-20-18-17-10z"/><path fill="#f72" d="M5795 603l18 10-20-18-17-10z"/><path fill="#e61" d="M5778 594l17 9-19-18-18-9z"/><path fill="#e51" d="M5761 586l17 8-20-18-17-8z"/><path fill="#e51" d="M5744 578l17 8-20-18-17-8z"/><path fill="#e51" d="M5726 571l18 7-20-18-17-7z"/><path fill="#e41" d="M5709 564l17 7-19-18-18-7z"/><path fill="#d41" d="M5692 558l17 6-20-18-17-6z"/><path fill="#d40" d="M5675 553l17 5-20-18-17-5z"/><path fill="#d30" d="M5657 548l18 5-20-18-17-5z"/><path fill="#d30" d="M5640 543l17 5-19-18-18-4z"/><path fill="#c30" d="M5623 540l17 3-20-17-17-4z"/><path fill="#c30" d="M5606 537l17 3-20-18-17-3z"/><path fill="#c30" d="M5589 534l17 3-20-18-17-3z"/><path fill="#c20" d="M5571 532l18 2-20-18-17-2z"/><path fill="#c20" d="M5554 531l17 1-19-18-18-1z"/><path fill="#c20" d="M5537 530l17 1-20-18-17-1z"/><path fill="#b20" d="M5520 530l17 0-20-18-17 0z"/><path fill="#b20" d="M5502 530l18 0-20-18-17 0z"/><path fill="#b20" d="M5485 531l17-1-19-18-18 1z"/><path fill="#b20" d="M5468 532l17-1-20-18-17 2z"/><path fill="#b20" d="M5451 534l17-2-20-17-17 2z"/><path fill="#b20" d="M5433 537l18-3-20-17-17 2z"/><path fill="#b20" d="M5416 540l17-3-19-18-18 4z"/><path fill="#b20" d="M5399 544l17-4-20-17-17 4z"/><path fill="#b20" d="M5381 549l18-5-20-17-18 4z"/><path fill="#b20" d="M5363 554l18-5-20-18-18 5z"/><path fill="#b20" d="M5345 560l18-6-20-18-17 6z"/><path fill="#b20" d="M5327 567l18-7-19-18-19 7z"/><path fill="#b20" d="M5309 574l18-7-20-18-18 7z"/><path fill="#b20" d="M5290 582l19-8-20-18-19 8z"/><path fill="#b20" d="M5271 591l19-9-20-18-18 9z"/><path fill="#b20" d="M5252 601l19-10-19-18-20 10z"/><path fill="#c20" d="M5233 611l19-10-20-18-19 11z"/><path fill="#c20" d="M5213 623l20-12-20-17-20 11z"/><path fill="#c30" d="M5193 635l20-12-20-18-20 13z"/><path fill="#c30" d="M5172 649l21-14-20-17-20 14z"/><path fill="#c30" d="M5151 664l21-15-19-17-21 14z"/><path fill="#d30" d="M5130 680l21-16-19-18-22 16z"/><path fill="#d40" d="M5108 697l22-17-20-18-21 17z"/><path fill="#d41" d="M5086 715l22-18-19-18-22 19z"/><path fill="#e41" d="M5064 735l22-20-19-17-23 19z"/><path fill="#e51" d="M5041 756l23-21-20-18-23 21z"/><path fill="#e51" d="M5018 778l23-22-20-18-23 23z"/><path fill="#e61" d="M4994 802l24-24-20-17-23 23z"/><path fill="#f72" d="M4971 827l23-25-19-18-24 25z"/><path fill="#f72" d="M4947 853l24-26-20-18-24 27z"/><path fill="#f82" d="M4924 880l23-27-20-17-23 27z"/><path fill="#f93" d="M4900 909l24-29-20-17-24 28z"/><path fill="#fa3" d="M4876 938l24-29-20-18-24 30z"/><path fill="#fb3" d="M4852 969l24-31-20-17-23 30z"/><path fill="#eb3" d="M4829 1000l23-31-19-18-24 32z"/><path fill="#ec3" d="M4805 1033l24-33-20-17-24 33z"/><path fill="#dd3" d="M4781 1067l24-34-20-17-23 34z"/><path fill="#ce3" d="M4758 1102l23-35-19-17-24 35z"/><path fill="#be3" d="M4734 1138l24-36-20-17-24 36z"/><path fill="#bf3" d="M4710 1175l24-37-20-17-23 37z"/><path fill="#9f4" d="M4687 1213l23-38-19-17-24 38z"/><path fill="#8f5" d="M4663 1253l24-40-20-17-24 39z"/><path fill="#6f6" d="M4639 1293l24-40-20-18-24 41z"/><path fill="#4f8" d="M4616 1335l23-42-20-17-23 41z"/><path fill="#3e9" d="M4592 1378l24-43-20-18-24 43z"/><path fill="#2ea" d="M4568 1421l24-43-20-18-24 44z"/><path fill="#af3" d="M6091 844l17 19-20-18-17-19z"/><path fill="#bf3" d="M6074 826l17 18-20-18-17-18z"/><path fill="#be3" d="M6056 808l18 18-20-18-18-18z"/><path fill="#ce3" d="M6039 791l17 17-20-18-17-17z"/><path fill="#dd3" d="M6022 774l17 17-20-18-17-17z"/><path fill="#dd3" d="M6005 758l17 16-20-18-17-16z"/><path fill="#ec3" d="M5987 743l18 15-20-18-17-15z"/><path fill="#ec3" d="M5970 728l17 15-19-18-18-15z"/><path fill="#eb3" d="M5953 714l17 14-20-18-17-14z"/><path fill="#fb3" d="M5936 700l17 14-20-18-17-14z"/><path fill="#fa3" d="M5918 687l18 13-20-18-17-13z"/><path fill="#fa3" d="M5901 675l17 12-19-18-18-12z"/><path fill="#f93" d="M5884 663l17 12-20-18-17-12z"/><path fill="#f92" d="M5867 652l17 11-20-18-17-11z"/><path fill="#f82" d="M5850 641l17 11-20-18-17-11z"/><path fill="#f72" d="M5832 631l18 10-20-18-17-10z"/><path fill="#f72" d="M5815 621l17 10-19-18-18-10z"/><path fill="#e61" d="M5798 612l17 9-20-18-17-9z"/><path fill="#e61" d="M5781 604l17 8-20-18-17-8z"/><path fill="#e51" d="M5763 596l18 8-20-18-17-8z"/><path fill="#e51" d="M5746 589l17 7-19-18-18-7z"/><path fill="#e51" d="M5729 582l17 7-20-18-17-7z"/><path fill="#d41" d="M5712 576l17 6-20-18-17-6z"/><path fill="#d41" d="M5694 570l18 6-20-18-17-5z"/><path fill="#d40" d="M5677 566l17 4-19-17-18-5z"/><path fill="#d30" d="M5660 561l17 5-20-18-17-5z"/><path fill="#d30" d="M5643 557l17 4-20-18-17-3z"/><path fill="#c30" d="M5626 554l17 3-20-17-17-3z"/><path fill="#c30" d="M5608 552l18 2-20-17-17-3z"/><path fill="#c30" d="M5591 550l17 2-19-18-18-2z"/><path fill="#c30" d="M5574 548l17 2-20-18-17-1z"/><path fill="#c20" d="M5557 548l17 0-20-17-17-1z"/><path fill="#c20" d="M5539 547l18 1-20-18-17 0z"/><path fill="#c20" d="M5522 548l17-1-19-17-18 0z"/><path fill="#b20" d="M5505 549l17-1-20-18-17 1z"/><path fill="#b20" d="M5488 550l17-1-20-18-17 1z"/><path fill="#b20" d="M5470 552l18-2-20-18-17 2z"/><path fill="#b20" d="M5453 555l17-3-19-18-18 3z"/><path fill="#b20" d="M5436 558l17-3-20-18-17 3z"/><path fill="#b20" d="M5418 562l18-4-20-18-17 4z"/><path fill="#b20" d="M5401 567l17-5-19-18-18 5z"/><path fill="#b20" d="M5383 572l18-5-20-18-18 5z"/><path fill="#b20" d="M5365 578l18-6-20-18-18 6z"/><path fill="#b20" d="M5347 584l18-6-20-18-18 7z"/><path fill="#b20" d="M5329 591l18-7-20-17-18 7z"/><path fill="#b20" d="M5310 600l19-9-20-17-19 8z"/><path fill="#c20" d="M5291 608l19-8-20-18-19 9z"/><path fill="#c20" d="M5272 618l19-10-20-17-19 10z"/><path fill="#c20" d="M5253 629l19-11-20-17-19 10z"/><path fill="#c30" d="M5233 640l20-11-20-18-20 12z"/><path fill="#c30" d="M5213 653l20-13-20-17-20 12z"/><path fill="#c30" d="M5192 667l21-14-20-18-21 14z"/><path fill="#d30" d="M5171 681l21-14-20-18-21 15z"/><path fill="#d30" d="M5150 697l21-16-20-17-21 16z"/><path fill="#d41" d="M5128 714l22-17-20-17-22 17z"/><path fill="#d41" d="M5106 733l22-19-20-17-22 18z"/><path fill="#e51" d="M5084 753l22-20-20-18-22 20z"/><path fill="#e51" d="M5061 774l23-21-20-18-23 21z"/><path fill="#e61" d="M5038 796l23-22-20-18-23 22z"/><path fill="#e61" d="M5014 820l24-24-20-18-24 24z"/><path fill="#f72" d="M4991 844l23-24-20-18-23 25z"/><path fill="#f82" d="M4967 871l24-27-20-17-24 26z"/><path fill="#f92" d="M4943 898l24-27-20-18-23 27z"/><path fill="#f93" d="M4920 926l23-28-19-18-24 29z"/><path fill="#fa3" d="M4896 956l24-30-20-17-24 29z"/><path fill="#fb3" d="M4872 986l24-30-20-18-24 31z"/><path fill="#ec3" d="M4849 1018l23-32-20-17-23 31z"/><path fill="#ec3" d="M4825 1051l24-33-20-18-24 33z"/><path fill="#dd3" d="M4801 1084l24-33-20-18-24 34z"/><path fill="#ce3" d="M4777 1119l24-35-20-17-23 35z"/><path fill="#be3" d="M4754 1155l23-36-19-17-24 36z"/><path fill="#af3" d="M4730 1193l24-38-20-17-24 37z"/><path fill="#9f4" d="M4706 1231l24-38-20-18-23 38z"/><path fill="#8f5" d="M4683 1270l23-39-19-18-24 40z"/><path fill="#6f6" d="M4659 1311l24-41-20-17-24 40z"/><path fill="#4f8" d="M4635 1352l24-41-20-18-23 42z"/><path fill="#2e9" d="M4612 1395l23-43-19-17-24 43z"/><path fill="#2db" d="M4588 1439l24-44-20-17-24 43z"/><path fill="#9f4" d="M6111 862l17 19-20-18-17-19z"/><path fill="#af3" d="M6093 844l18 18-20-18-17-18z"/><path fill="#be3" d="M6076 826l17 18-19-18-18-18z"/><path fill="#ce3" d="M6059 809l17 17-20-18-17-17z"/><path fill="#ce3" d="M6042 792l17 17-20-18-17-17z"/><path fill="#dd3" d="M6024 776l18 16-20-18-17-16z"/><path fill="#ed3" d="M6007 761l17 15-19-18-18-15z"/><path fill="#ec3" d="M5990 746l17 15-20-18-17-15z"/><path fill="#ec3" d="M5973 732l17 14-20-18-17-14z"/><path fill="#fb3" d="M5955 718l18 14-20-18-17-14z"/><path fill="#fb3" d="M5938 705l17 13-19-18-18-13z"/><path fill="#fa3" d="M5921 693l17 12-20-18-17-12z"/><path fill="#f93" d="M5904 681l17 12-20-18-17-12z"/><path fill="#f93" d="M5887 669l17 12-20-18-17-11z"/><path fill="#f82" d="M5869 659l18 10-20-17-17-11z"/><path fill="#f82" d="M5852 649l17 10-19-18-18-10z"/><path fill="#f72" d="M5835 639l17 10-20-18-17-10z"/><path fill="#f72" d="M5818 630l17 9-20-18-17-9z"/><path fill="#e61" d="M5800 622l18 8-20-18-17-8z"/><path fill="#e61" d="M5783 614l17 8-19-18-18-8z"/><path fill="#e51" d="M5766 606l17 8-20-18-17-7z"/><path fill="#e51" d="M5749 600l17 6-20-17-17-7z"/><path fill="#e41" d="M5731 594l18 6-20-18-17-6z"/><path fill="#d41" d="M5714 588l17 6-19-18-18-6z"/><path fill="#d41" d="M5697 583l17 5-20-18-17-4z"/><path fill="#d40" d="M5680 579l17 4-20-17-17-5z"/><path fill="#d30" d="M5663 575l17 4-20-18-17-4z"/><path fill="#d30" d="M5645 572l18 3-20-18-17-3z"/><path fill="#d30" d="M5628 570l17 2-19-18-18-2z"/><path fill="#c30" d="M5611 568l17 2-20-18-17-2z"/><path fill="#c30" d="M5594 566l17 2-20-18-17-2z"/><path fill="#c30" d="M5576 565l18 1-20-18-17 0z"/><path fill="#c30" d="M5559 565l17 0-19-17-18-1z"/><path fill="#c20" d="M5542 565l17 0-20-18-17 1z"/><path fill="#c20" d="M5525 566l17-1-20-17-17 1z"/><path fill="#c20" d="M5508 568l17-2-20-17-17 1z"/><path fill="#c20" d="M5490 570l18-2-20-18-18 2z"/><path fill="#b20" d="M5473 573l17-3-20-18-17 3z"/><path fill="#b20" d="M5456 576l17-3-20-18-17 3z"/><path fill="#b20" d="M5438 580l18-4-20-18-18 4z"/><path fill="#b20" d="M5421 584l17-4-20-18-17 5z"/><path fill="#b20" d="M5403 589l18-5-20-17-18 5z"/><path fill="#b20" d="M5385 595l18-6-20-17-18 6z"/><path fill="#b20" d="M5367 602l18-7-20-17-18 6z"/><path fill="#c20" d="M5348 609l19-7-20-18-18 7z"/><path fill="#c20" d="M5330 617l18-8-19-18-19 9z"/><path fill="#c20" d="M5311 626l19-9-20-17-19 8z"/><path fill="#c30" d="M5292 636l19-10-20-18-19 10z"/><path fill="#c30" d="M5272 646l20-10-20-18-19 11z"/><path fill="#c30" d="M5253 658l19-12-19-17-20 11z"/><path fill="#c30" d="M5232 671l21-13-20-18-20 13z"/><path fill="#d30" d="M5212 684l20-13-19-18-21 14z"/><path fill="#d30" d="M5191 699l21-15-20-17-21 14z"/><path fill="#d40" d="M5170 715l21-16-20-18-21 16z"/><path fill="#d41" d="M5148 732l22-17-20-18-22 17z"/><path fill="#e41" d="M5126 750l22-18-20-18-22 19z"/><path fill="#e51" d="M5103 770l23-20-20-17-22 20z"/><path fill="#e51" d="M5081 791l22-21-19-17-23 21z"/><path fill="#e61" d="M5057 813l24-22-20-17-23 22z"/><path fill="#f72" d="M5034 837l23-24-19-17-24 24z"/><path fill="#f72" d="M5010 862l24-25-20-17-23 24z"/><path fill="#f82" d="M4987 888l23-26-19-18-24 27z"/><path fill="#f93" d="M4963 915l24-27-20-17-24 27z"/><path fill="#fa3" d="M4939 944l24-29-20-17-23 28z"/><path fill="#fb3" d="M4916 973l23-29-19-18-24 30z"/><path fill="#fb3" d="M4892 1004l24-31-20-17-24 30z"/><path fill="#ec3" d="M4868 1035l24-31-20-18-23 32z"/><path fill="#ed3" d="M4845 1068l23-33-19-17-24 33z"/><path fill="#dd3" d="M4821 1102l24-34-20-17-24 33z"/><path fill="#ce3" d="M4797 1137l24-35-20-18-24 35z"/><path fill="#be3" d="M4774 1173l23-36-20-18-23 36z"/><path fill="#af3" d="M4750 1210l24-37-20-18-24 38z"/><path fill="#9f4" d="M4726 1248l24-38-20-17-24 38z"/><path fill="#7f5" d="M4703 1288l23-40-20-17-23 39z"/><path fill="#5f7" d="M4679 1328l24-40-20-18-24 41z"/><path fill="#4e8" d="M4655 1370l24-42-20-17-24 41z"/><path fill="#2ea" d="M4631 1412l24-42-20-18-23 43z"/><path fill="#1db" d="M4608 1456l23-44-19-17-24 44z"/><path fill="#9f4" d="M6130 880l18 19-20-18-17-19z"/><path fill="#af3" d="M6113 862l17 18-19-18-18-18z"/><path fill="#bf3" d="M6096 844l17 18-20-18-17-18z"/><path fill="#be3" d="M6079 827l17 17-20-18-17-17z"/><path fill="#ce3" d="M6061 810l18 17-20-18-17-17z"/><path fill="#dd3" d="M6044 794l17 16-19-18-18-16z"/><path fill="#dd3" d="M6027 779l17 15-20-18-17-15z"/><path fill="#ec3" d="M6010 764l17 15-20-18-17-15z"/><path fill="#ec3" d="M5992 750l18 14-20-18-17-14z"/><path fill="#eb3" d="M5975 736l17 14-19-18-18-14z"/><path fill="#fb3" d="M5958 723l17 13-20-18-17-13z"/><path fill="#fa3" d="M5941 711l17 12-20-18-17-12z"/><path fill="#fa3" d="M5924 699l17 12-20-18-17-12z"/><path fill="#f93" d="M5906 687l18 12-20-18-17-12z"/><path fill="#f92" d="M5889 677l17 10-19-18-18-10z"/><path fill="#f82" d="M5872 666l17 11-20-18-17-10z"/><path fill="#f82" d="M5855 657l17 9-20-17-17-10z"/><path fill="#f72" d="M5837 648l18 9-20-18-17-9z"/><path fill="#f72" d="M5820 639l17 9-19-18-18-8z"/><path fill="#e61" d="M5803 632l17 7-20-17-17-8z"/><path fill="#e51" d="M5786 624l17 8-20-18-17-8z"/><path fill="#e51" d="M5769 618l17 6-20-18-17-6z"/><path fill="#e51" d="M5751 612l18 6-20-18-18-6z"/><path fill="#e41" d="M5734 606l17 6-20-18-17-6z"/><path fill="#d41" d="M5717 601l17 5-20-18-17-5z"/><path fill="#d41" d="M5700 597l17 4-20-18-17-4z"/><path fill="#d40" d="M5682 593l18 4-20-18-17-4z"/><path fill="#d30" d="M5665 590l17 3-19-18-18-3z"/><path fill="#d30" d="M5648 587l17 3-20-18-17-2z"/><path fill="#d30" d="M5631 585l17 2-20-17-17-2z"/><path fill="#c30" d="M5613 584l18 1-20-17-17-2z"/><path fill="#c30" d="M5596 583l17 1-19-18-18-1z"/><path fill="#c30" d="M5579 583l17 0-20-18-17 0z"/><path fill="#c30" d="M5562 583l17 0-20-18-17 0z"/><path fill="#c30" d="M5545 584l17-1-20-18-17 1z"/><path fill="#c20" d="M5527 585l18-1-20-18-17 2z"/><path fill="#c20" d="M5510 588l17-3-19-17-18 2z"/><path fill="#c20" d="M5493 590l17-2-20-18-17 3z"/><path fill="#c20" d="M5475 593l18-3-20-17-17 3z"/><path fill="#c20" d="M5458 597l17-4-19-17-18 4z"/><path fill="#c20" d="M5440 602l18-5-20-17-17 4z"/><path fill="#c20" d="M5423 607l17-5-19-18-18 5z"/><path fill="#c20" d="M5405 613l18-6-20-18-18 6z"/><path fill="#c20" d="M5387 619l18-6-20-18-18 7z"/><path fill="#c20" d="M5368 627l19-8-20-17-19 7z"/><path fill="#c30" d="M5350 635l18-8-20-18-18 8z"/><path fill="#c30" d="M5331 644l19-9-20-18-19 9z"/><path fill="#c30" d="M5312 653l19-9-20-18-19 10z"/><path fill="#c30" d="M5292 664l20-11-20-17-20 10z"/><path fill="#c30" d="M5272 676l20-12-20-18-19 12z"/><path fill="#d30" d="M5252 688l20-12-19-18-21 13z"/><path fill="#d30" d="M5232 702l20-14-20-17-20 13z"/><path fill="#d40" d="M5211 717l21-15-20-18-21 15z"/><path fill="#d41" d="M5189 732l22-15-20-18-21 16z"/><path fill="#e41" d="M5168 750l21-18-19-17-22 17z"/><path fill="#e51" d="M5146 768l22-18-20-18-22 18z"/><path fill="#e51" d="M5123 788l23-20-20-18-23 20z"/><path fill="#e61" d="M5100 809l23-21-20-18-22 21z"/><path fill="#e61" d="M5077 831l23-22-19-18-24 22z"/><path fill="#f72" d="M5054 855l23-24-20-18-23 24z"/><path fill="#f82" d="M5030 879l24-24-20-18-24 25z"/><path fill="#f82" d="M5007 906l23-27-20-17-23 26z"/><path fill="#f93" d="M4983 933l24-27-20-18-24 27z"/><path fill="#fa3" d="M4959 961l24-28-20-18-24 29z"/><path fill="#fb3" d="M4935 991l24-30-20-17-23 29z"/><path fill="#eb3" d="M4912 1021l23-30-19-18-24 31z"/><path fill="#ec3" d="M4888 1053l24-32-20-17-24 31z"/><path fill="#dd3" d="M4864 1085l24-32-20-18-23 33z"/><path fill="#dd3" d="M4841 1119l23-34-19-17-24 34z"/><path fill="#ce3" d="M4817 1154l24-35-20-17-24 35z"/><path fill="#bf3" d="M4793 1190l24-36-20-17-23 36z"/><path fill="#af4" d="M4770 1227l23-37-19-17-24 37z"/><path fill="#8f4" d="M4746 1266l24-39-20-17-24 38z"/><path fill="#7f6" d="M4722 1305l24-39-20-18-23 40z"/><path fill="#5f7" d="M4699 1345l23-40-19-17-24 40z"/><path fill="#3e9" d="M4675 1387l24-42-20-17-24 42z"/><path fill="#2ea" d="M4651 1430l24-43-20-17-24 42z"/><path fill="#1db" d="M4628 1473l23-43-20-18-23 44z"/><path fill="#9f4" d="M6150 898l17 19-19-18-18-19z"/><path fill="#af4" d="M6133 880l17 18-20-18-17-18z"/><path fill="#af3" d="M6116 862l17 18-20-18-17-18z"/><path fill="#be3" d="M6098 845l18 17-20-18-17-17z"/><path fill="#ce3" d="M6081 828l17 17-19-18-18-17z"/><path fill="#ce3" d="M6064 812l17 16-20-18-17-16z"/><path fill="#dd3" d="M6047 797l17 15-20-18-17-15z"/><path fill="#ed3" d="M6029 782l18 15-20-18-17-15z"/><path fill="#ec3" d="M6012 768l17 14-19-18-18-14z"/><path fill="#ec3" d="M5995 754l17 14-20-18-17-14z"/><path fill="#fb3" d="M5978 741l17 13-20-18-17-13z"/><path fill="#fb3" d="M5961 728l17 13-20-18-17-12z"/><path fill="#fa3" d="M5943 716l18 12-20-17-17-12z"/><path fill="#fa3" d="M5926 705l17 11-19-17-18-12z"/><path fill="#f93" d="M5909 694l17 11-20-18-17-10z"/><path fill="#f82" d="M5892 684l17 10-20-17-17-11z"/><path fill="#f82" d="M5874 675l18 9-20-18-17-9z"/><path fill="#f72" d="M5857 666l17 9-19-18-18-9z"/><path fill="#f72" d="M5840 657l17 9-20-18-17-9z"/><path fill="#e61" d="M5823 649l17 8-20-18-17-7z"/><path fill="#e61" d="M5806 642l17 7-20-17-17-8z"/><path fill="#e51" d="M5788 635l18 7-20-18-17-6z"/><path fill="#e51" d="M5771 629l17 6-19-17-18-6z"/><path fill="#e51" d="M5754 624l17 5-20-17-17-6z"/><path fill="#e41" d="M5737 619l17 5-20-18-17-5z"/><path fill="#d41" d="M5719 615l18 4-20-18-17-4z"/><path fill="#d41" d="M5702 611l17 4-19-18-18-4z"/><path fill="#d40" d="M5685 608l17 3-20-18-17-3z"/><path fill="#d40" d="M5668 605l17 3-20-18-17-3z"/><path fill="#d30" d="M5650 603l18 2-20-18-17-2z"/><path fill="#d30" d="M5633 602l17 1-19-18-18-1z"/><path fill="#d30" d="M5616 601l17 1-20-18-17-1z"/><path fill="#c30" d="M5599 600l17 1-20-18-17 0z"/><path fill="#c30" d="M5582 601l17-1-20-17-17 0z"/><path fill="#c30" d="M5564 602l18-1-20-18-17 1z"/><path fill="#c30" d="M5547 603l17-1-19-18-18 1z"/><path fill="#c30" d="M5530 605l17-2-20-18-17 3z"/><path fill="#c30" d="M5513 608l17-3-20-17-17 2z"/><path fill="#c30" d="M5495 611l18-3-20-18-18 3z"/><path fill="#c30" d="M5478 615l17-4-20-18-17 4z"/><path fill="#c30" d="M5460 620l18-5-20-18-18 5z"/><path fill="#c30" d="M5442 625l18-5-20-18-17 5z"/><path fill="#c30" d="M5424 631l18-6-19-18-18 6z"/><path fill="#c30" d="M5406 637l18-6-19-18-18 6z"/><path fill="#c30" d="M5388 644l18-7-19-18-19 8z"/><path fill="#c30" d="M5369 652l19-8-20-17-18 8z"/><path fill="#c30" d="M5351 661l18-9-19-17-19 9z"/><path fill="#c30" d="M5331 671l20-10-20-17-19 9z"/><path fill="#d30" d="M5312 682l19-11-19-18-20 11z"/><path fill="#d30" d="M5292 693l20-11-20-18-20 12z"/><path fill="#d30" d="M5272 706l20-13-20-17-20 12z"/><path fill="#d40" d="M5251 719l21-13-20-18-20 14z"/><path fill="#d41" d="M5231 734l20-15-19-17-21 15z"/><path fill="#d41" d="M5209 750l22-16-20-17-22 15z"/><path fill="#e41" d="M5188 767l21-17-20-18-21 18z"/><path fill="#e51" d="M5165 785l23-18-20-17-22 18z"/><path fill="#e51" d="M5143 805l22-20-19-17-23 20z"/><path fill="#e61" d="M5120 826l23-21-20-17-23 21z"/><path fill="#f72" d="M5097 848l23-22-20-17-23 22z"/><path fill="#f72" d="M5074 872l23-24-20-17-23 24z"/><path fill="#f82" d="M5050 897l24-25-20-17-24 24z"/><path fill="#f93" d="M5026 923l24-26-20-18-23 27z"/><path fill="#fa3" d="M5003 950l23-27-19-17-24 27z"/><path fill="#fa3" d="M4979 979l24-29-20-17-24 28z"/><path fill="#fb3" d="M4955 1008l24-29-20-18-24 30z"/><path fill="#ec3" d="M4932 1038l23-30-20-17-23 30z"/><path fill="#ec3" d="M4908 1070l24-32-20-17-24 32z"/><path fill="#dd3" d="M4884 1103l24-33-20-17-24 32z"/><path fill="#ce3" d="M4861 1137l23-34-20-18-23 34z"/><path fill="#be3" d="M4837 1172l24-35-20-18-24 35z"/><path fill="#af3" d="M4813 1208l24-36-20-18-24 36z"/><path fill="#9f4" d="M4789 1245l24-37-20-18-23 37z"/><path fill="#8f5" d="M4766 1283l23-38-19-18-24 39z"/><path fill="#6f6" d="M4742 1322l24-39-20-17-24 39z"/><path fill="#5f7" d="M4718 1363l24-41-20-17-23 40z"/><path fill="#3e9" d="M4695 1404l23-41-19-18-24 42z"/><path fill="#2ea" d="M4671 1447l24-43-20-17-24 43z"/><path fill="#1dc" d="M4647 1491l24-44-20-17-23 43z"/><path fill="#8f4" d="M6170 916l17 19-20-18-17-19z"/><path fill="#9f4" d="M6153 898l17 18-20-18-17-18z"/><path fill="#af3" d="M6135 880l18 18-20-18-17-18z"/><path fill="#be3" d="M6118 863l17 17-19-18-18-17z"/><path fill="#ce3" d="M6101 846l17 17-20-18-17-17z"/><path fill="#ce3" d="M6084 830l17 16-20-18-17-16z"/><path fill="#dd3" d="M6067 815l17 15-20-18-17-15z"/><path fill="#dd3" d="M6049 800l18 15-20-18-18-15z"/><path fill="#ec3" d="M6032 786l17 14-20-18-17-14z"/><path fill="#ec3" d="M6015 772l17 14-20-18-17-14z"/><path fill="#eb3" d="M5998 759l17 13-20-18-17-13z"/><path fill="#fb3" d="M5980 746l18 13-20-18-17-13z"/><path fill="#fa3" d="M5963 734l17 12-19-18-18-12z"/><path fill="#fa3" d="M5946 723l17 11-20-18-17-11z"/><path fill="#f93" d="M5929 712l17 11-20-18-17-11z"/><path fill="#f93" d="M5911 702l18 10-20-18-17-10z"/><path fill="#f82" d="M5894 692l17 10-19-18-18-9z"/><path fill="#f82" d="M5877 683l17 9-20-17-17-9z"/><path fill="#f72" d="M5860 675l17 8-20-17-17-9z"/><path fill="#f72" d="M5843 667l17 8-20-18-17-8z"/><path fill="#e61" d="M5825 660l18 7-20-18-17-7z"/><path fill="#e61" d="M5808 653l17 7-19-18-18-7z"/><path fill="#e51" d="M5791 647l17 6-20-18-17-6z"/><path fill="#e51" d="M5774 642l17 5-20-18-17-5z"/><path fill="#e51" d="M5756 637l18 5-20-18-17-5z"/><path fill="#e41" d="M5739 632l17 5-19-18-18-4z"/><path fill="#d41" d="M5722 629l17 3-20-17-17-4z"/><path fill="#d41" d="M5705 625l17 4-20-18-17-3z"/><path fill="#d41" d="M5687 623l18 2-20-17-17-3z"/><path fill="#d40" d="M5670 621l17 2-19-18-18-2z"/><path fill="#d30" d="M5653 619l17 2-20-18-17-1z"/><path fill="#d30" d="M5636 618l17 1-20-17-17-1z"/><path fill="#d30" d="M5619 618l17 0-20-17-17-1z"/><path fill="#d30" d="M5601 619l18-1-20-18-17 1z"/><path fill="#c30" d="M5584 619l17 0-19-18-18 1z"/><path fill="#c30" d="M5567 621l17-2-20-17-17 1z"/><path fill="#c30" d="M5550 623l17-2-20-18-17 2z"/><path fill="#c30" d="M5532 626l18-3-20-18-17 3z"/><path fill="#c30" d="M5515 629l17-3-19-18-18 3z"/><path fill="#c30" d="M5497 633l18-4-20-18-17 4z"/><path fill="#c30" d="M5480 637l17-4-19-18-18 5z"/><path fill="#c30" d="M5462 642l18-5-20-17-18 5z"/><path fill="#c30" d="M5444 648l18-6-20-17-18 6z"/><path fill="#c30" d="M5426 655l18-7-20-17-18 6z"/><path fill="#c30" d="M5408 662l18-7-20-18-18 7z"/><path fill="#c30" d="M5389 670l19-8-20-18-19 8z"/><path fill="#c30" d="M5370 679l19-9-20-18-18 9z"/><path fill="#d30" d="M5351 689l19-10-19-18-20 10z"/><path fill="#d30" d="M5332 699l19-10-20-18-19 11z"/><path fill="#d30" d="M5312 711l20-12-20-17-20 11z"/><path fill="#d40" d="M5292 723l20-12-20-18-20 13z"/><path fill="#d41" d="M5271 737l21-14-20-17-21 13z"/><path fill="#d41" d="M5250 752l21-15-20-18-20 15z"/><path fill="#e41" d="M5229 768l21-16-19-18-22 16z"/><path fill="#e51" d="M5207 785l22-17-20-18-21 17z"/><path fill="#e51" d="M5185 803l22-18-19-18-23 18z"/><path fill="#e61" d="M5163 823l22-20-20-18-22 20z"/><path fill="#e61" d="M5140 844l23-21-20-18-23 21z"/><path fill="#f72" d="M5117 866l23-22-20-18-23 22z"/><path fill="#f82" d="M5093 890l24-24-20-18-23 24z"/><path fill="#f82" d="M5070 914l23-24-19-18-24 25z"/><path fill="#f93" d="M5046 941l24-27-20-17-24 26z"/><path fill="#fa3" d="M5022 968l24-27-20-18-23 27z"/><path fill="#fb3" d="M4999 996l23-28-19-18-24 29z"/><path fill="#fb3" d="M4975 1025l24-29-20-17-24 29z"/><path fill="#ec3" d="M4951 1056l24-31-20-17-23 30z"/><path fill="#ed3" d="M4928 1088l23-32-19-18-24 32z"/><path fill="#dd3" d="M4904 1120l24-32-20-18-24 33z"/><path fill="#ce3" d="M4880 1154l24-34-20-17-23 34z"/><path fill="#be3" d="M4857 1189l23-35-19-17-24 35z"/><path fill="#af3" d="M4833 1225l24-36-20-17-24 36z"/><path fill="#9f4" d="M4809 1262l24-37-20-17-24 37z"/><path fill="#8f5" d="M4786 1300l23-38-20-17-23 38z"/><path fill="#6f6" d="M4762 1340l24-40-20-17-24 39z"/><path fill="#4f8" d="M4738 1380l24-40-20-18-24 41z"/><path fill="#3e9" d="M4714 1422l24-42-20-17-23 41z"/><path fill="#2eb" d="M4691 1464l23-42-19-18-24 43z"/><path fill="#1dc" d="M4667 1508l24-44-20-17-24 44z"/><path fill="#8f5" d="M6190 934l17 19-20-18-17-19z"/><path fill="#9f4" d="M6172 916l18 18-20-18-17-18z"/><path fill="#af3" d="M6155 898l17 18-19-18-18-18z"/><path fill="#bf3" d="M6138 881l17 17-20-18-17-17z"/><path fill="#be3" d="M6121 864l17 17-20-18-17-17z"/><path fill="#ce3" d="M6104 848l17 16-20-18-17-16z"/><path fill="#dd3" d="M6086 833l18 15-20-18-17-15z"/><path fill="#dd3" d="M6069 818l17 15-19-18-18-15z"/><path fill="#ed3" d="M6052 803l17 15-20-18-17-14z"/><path fill="#ec3" d="M6035 790l17 13-20-17-17-14z"/><path fill="#ec3" d="M6017 777l18 13-20-18-17-13z"/><path fill="#fb3" d="M6000 764l17 13-19-18-18-13z"/><path fill="#fb3" d="M5983 752l17 12-20-18-17-12z"/><path fill="#fa3" d="M5966 741l17 11-20-18-17-11z"/><path fill="#fa3" d="M5948 730l18 11-20-18-17-11z"/><path fill="#f93" d="M5931 720l17 10-19-18-18-10z"/><path fill="#f92" d="M5914 710l17 10-20-18-17-10z"/><path fill="#f82" d="M5897 701l17 9-20-18-17-9z"/><path fill="#f82" d="M5880 693l17 8-20-18-17-8z"/><path fill="#f72" d="M5862 685l18 8-20-18-17-8z"/><path fill="#f72" d="M5845 678l17 7-19-18-18-7z"/><path fill="#e61" d="M5828 671l17 7-20-18-17-7z"/><path fill="#e61" d="M5811 665l17 6-20-18-17-6z"/><path fill="#e51" d="M5793 659l18 6-20-18-17-5z"/><path fill="#e51" d="M5776 654l17 5-19-17-18-5z"/><path fill="#e51" d="M5759 650l17 4-20-17-17-5z"/><path fill="#e41" d="M5742 646l17 4-20-18-17-3z"/><path fill="#d41" d="M5724 643l18 3-20-17-17-4z"/><path fill="#d41" d="M5707 641l17 2-19-18-18-2z"/><path fill="#d41" d="M5690 639l17 2-20-18-17-2z"/><path fill="#d40" d="M5673 637l17 2-20-18-17-2z"/><path fill="#d40" d="M5656 636l17 1-20-18-17-1z"/><path fill="#d30" d="M5638 636l18 0-20-18-17 0z"/><path fill="#d30" d="M5621 636l17 0-19-18-18 1z"/><path fill="#d30" d="M5604 637l17-1-20-17-17 0z"/><path fill="#d30" d="M5587 639l17-2-20-18-17 2z"/><path fill="#c30" d="M5569 641l18-2-20-18-17 2z"/><path fill="#c30" d="M5552 643l17-2-19-18-18 3z"/><path fill="#c30" d="M5535 647l17-4-20-17-17 3z"/><path fill="#c30" d="M5517 650l18-3-20-18-18 4z"/><path fill="#c30" d="M5500 655l17-5-20-17-17 4z"/><path fill="#c30" d="M5482 660l18-5-20-18-18 5z"/><path fill="#c30" d="M5464 666l18-6-20-18-18 6z"/><path fill="#c30" d="M5446 672l18-6-20-18-18 7z"/><path fill="#d30" d="M5428 680l18-8-20-17-18 7z"/><path fill="#d30" d="M5409 688l19-8-20-18-19 8z"/><path fill="#d30" d="M5390 697l19-9-20-18-19 9z"/><path fill="#d30" d="M5371 706l19-9-20-18-19 10z"/><path fill="#d40" d="M5351 717l20-11-20-17-19 10z"/><path fill="#d40" d="M5332 728l19-11-19-18-20 12z"/><path fill="#d41" d="M5312 741l20-13-20-17-20 12z"/><path fill="#d41" d="M5291 755l21-14-20-18-21 14z"/><path fill="#e41" d="M5270 769l21-14-20-18-21 15z"/><path fill="#e51" d="M5249 785l21-16-20-17-21 16z"/><path fill="#e51" d="M5227 802l22-17-20-17-22 17z"/><path fill="#e51" d="M5205 821l22-19-20-17-22 18z"/><path fill="#e61" d="M5183 840l22-19-20-18-22 20z"/><path fill="#f72" d="M5160 861l23-21-20-17-23 21z"/><path fill="#f72" d="M5137 883l23-22-20-17-23 22z"/><path fill="#f82" d="M5113 907l24-24-20-17-24 24z"/><path fill="#f92" d="M5090 932l23-25-20-17-23 24z"/><path fill="#f93" d="M5066 958l24-26-20-18-24 27z"/><path fill="#fa3" d="M5042 985l24-27-20-17-24 27z"/><path fill="#fb3" d="M5019 1013l23-28-20-17-23 28z"/><path fill="#eb3" d="M4995 1043l24-30-20-17-24 29z"/><path fill="#ec3" d="M4971 1073l24-30-20-18-24 31z"/><path fill="#dd3" d="M4947 1105l24-32-20-17-23 32z"/><path fill="#dd3" d="M4924 1138l23-33-19-17-24 32z"/><path fill="#ce3" d="M4900 1171l24-33-20-18-24 34z"/><path fill="#be3" d="M4876 1206l24-35-20-17-23 35z"/><path fill="#af3" d="M4853 1242l23-36-19-17-24 36z"/><path fill="#9f4" d="M4829 1280l24-38-20-17-24 37z"/><path fill="#7f5" d="M4805 1318l24-38-20-18-23 38z"/><path fill="#5f7" d="M4782 1357l23-39-19-18-24 40z"/><path fill="#4e8" d="M4758 1397l24-40-20-17-24 40z"/><path fill="#2ea" d="M4734 1439l24-42-20-17-24 42z"/><path fill="#1db" d="M4711 1482l23-43-20-17-23 42z"/><path fill="#1dc" d="M4687 1525l24-43-20-18-24 44z"/><path fill="#8f5" d="M6209 952l18 19-20-18-17-19z"/><path fill="#9f4" d="M6192 933l17 19-19-18-18-18z"/><path fill="#9f4" d="M6175 916l17 17-20-17-17-18z"/><path fill="#af3" d="M6158 899l17 17-20-18-17-17z"/><path fill="#be3" d="M6141 882l17 17-20-18-17-17z"/><path fill="#ce3" d="M6123 866l18 16-20-18-17-16z"/><path fill="#ce3" d="M6106 850l17 16-19-18-18-15z"/><path fill="#dd3" d="M6089 836l17 14-20-17-17-15z"/><path fill="#dd3" d="M6072 821l17 15-20-18-17-15z"/><path fill="#ec3" d="M6054 808l18 13-20-18-17-13z"/><path fill="#ec3" d="M6037 795l17 13-19-18-18-13z"/><path fill="#eb3" d="M6020 782l17 13-20-18-17-13z"/><path fill="#fb3" d="M6003 770l17 12-20-18-17-12z"/><path fill="#fa3" d="M5985 759l18 11-20-18-17-11z"/><path fill="#fa3" d="M5968 748l17 11-19-18-18-11z"/><path fill="#f93" d="M5951 738l17 10-20-18-17-10z"/><path fill="#f93" d="M5934 728l17 10-20-18-17-10z"/><path fill="#f82" d="M5917 719l17 9-20-18-17-9z"/><path fill="#f82" d="M5899 711l18 8-20-18-17-8z"/><path fill="#f72" d="M5882 703l17 8-19-18-18-8z"/><path fill="#f72" d="M5865 696l17 7-20-18-17-7z"/><path fill="#f72" d="M5848 689l17 7-20-18-17-7z"/><path fill="#e61" d="M5830 683l18 6-20-18-17-6z"/><path fill="#e61" d="M5813 677l17 6-19-18-18-6z"/><path fill="#e51" d="M5796 672l17 5-20-18-17-5z"/><path fill="#e51" d="M5779 668l17 4-20-18-17-4z"/><path fill="#e51" d="M5761 664l18 4-20-18-17-4z"/><path fill="#e41" d="M5744 661l17 3-19-18-18-3z"/><path fill="#e41" d="M5727 658l17 3-20-18-17-2z"/><path fill="#d41" d="M5710 656l17 2-20-17-17-2z"/><path fill="#d41" d="M5693 655l17 1-20-17-17-2z"/><path fill="#d40" d="M5675 654l18 1-20-18-17-1z"/><path fill="#d40" d="M5658 654l17 0-19-18-18 0z"/><path fill="#d30" d="M5641 654l17 0-20-18-17 0z"/><path fill="#d30" d="M5624 655l17-1-20-18-17 1z"/><path fill="#d30" d="M5606 656l18-1-20-18-17 2z"/><path fill="#d30" d="M5589 658l17-2-19-17-18 2z"/><path fill="#d30" d="M5572 661l17-3-20-17-17 2z"/><path fill="#d30" d="M5555 664l17-3-20-18-17 4z"/><path fill="#d30" d="M5537 668l18-4-20-17-18 3z"/><path fill="#d30" d="M5519 673l18-5-20-18-17 5z"/><path fill="#d30" d="M5502 678l17-5-19-18-18 5z"/><path fill="#d30" d="M5484 684l18-6-20-18-18 6z"/><path fill="#d30" d="M5466 690l18-6-20-18-18 6z"/><path fill="#d30" d="M5447 697l19-7-20-18-18 8z"/><path fill="#d30" d="M5429 705l18-8-19-17-19 8z"/><path fill="#d30" d="M5410 714l19-9-20-17-19 9z"/><path fill="#d40" d="M5391 724l19-10-20-17-19 9z"/><path fill="#d40" d="M5371 735l20-11-20-18-20 11z"/><path fill="#d41" d="M5351 746l20-11-20-18-19 11z"/><path fill="#d41" d="M5331 759l20-13-19-18-20 13z"/><path fill="#e41" d="M5311 772l20-13-19-18-21 14z"/><path fill="#e51" d="M5290 787l21-15-20-17-21 14z"/><path fill="#e51" d="M5269 803l21-16-20-18-21 16z"/><path fill="#e51" d="M5247 820l22-17-20-18-22 17z"/><path fill="#e61" d="M5225 838l22-18-20-18-22 19z"/><path fill="#e61" d="M5202 858l23-20-20-17-22 19z"/><path fill="#f72" d="M5179 879l23-21-19-18-23 21z"/><path fill="#f82" d="M5156 901l23-22-19-18-23 22z"/><path fill="#f82" d="M5133 925l23-24-19-18-24 24z"/><path fill="#f93" d="M5109 949l24-24-20-18-23 25z"/><path fill="#fa3" d="M5086 976l23-27-19-17-24 26z"/><path fill="#fa3" d="M5062 1003l24-27-20-18-24 27z"/><path fill="#fb3" d="M5038 1031l24-28-20-18-23 28z"/><path fill="#ec3" d="M5015 1060l23-29-19-18-24 30z"/><path fill="#ec3" d="M4991 1091l24-31-20-17-24 30z"/><path fill="#dd3" d="M4967 1122l24-31-20-18-24 32z"/><path fill="#ce3" d="M4944 1155l23-33-20-17-23 33z"/><path fill="#be3" d="M4920 1189l24-34-20-17-24 33z"/><path fill="#bf3" d="M4896 1224l24-35-20-18-24 35z"/><path fill="#9f4" d="M4872 1260l24-36-20-18-23 36z"/><path fill="#8f4" d="M4849 1297l23-37-19-18-24 38z"/><path fill="#7f6" d="M4825 1335l24-38-20-17-24 38z"/><path fill="#5f7" d="M4801 1374l24-39-20-17-23 39z"/><path fill="#3e9" d="M4778 1415l23-41-19-17-24 40z"/><path fill="#2ea" d="M4754 1456l24-41-20-18-24 42z"/><path fill="#1db" d="M4730 1499l24-43-20-17-23 43z"/><path fill="#2cc" d="M4707 1543l23-44-19-17-24 43z"/><path fill="#7f5" d="M6229 970l17 19-19-18-18-19z"/><path fill="#8f4" d="M6212 951l17 19-20-18-17-19z"/><path fill="#9f4" d="M6195 934l17 17-20-18-17-17z"/><path fill="#af3" d="M6178 916l17 18-20-18-17-17z"/><path fill="#bf3" d="M6160 900l18 16-20-17-17-17z"/><path fill="#be3" d="M6143 884l17 16-19-18-18-16z"/><path fill="#ce3" d="M6126 868l17 16-20-18-17-16z"/><path fill="#dd3" d="M6109 854l17 14-20-18-17-14z"/><path fill="#dd3" d="M6091 839l18 15-20-18-17-15z"/><path fill="#ed3" d="M6074 826l17 13-19-18-18-13z"/><path fill="#ec3" d="M6057 812l17 14-20-18-17-13z"/><path fill="#ec3" d="M6040 800l17 12-20-17-17-13z"/><path fill="#fb3" d="M6022 788l18 12-20-18-17-12z"/><path fill="#fb3" d="M6005 777l17 11-19-18-18-11z"/><path fill="#fa3" d="M5988 766l17 11-20-18-17-11z"/><path fill="#fa3" d="M5971 756l17 10-20-18-17-10z"/><path fill="#f93" d="M5954 746l17 10-20-18-17-10z"/><path fill="#f92" d="M5936 737l18 9-20-18-17-9z"/><path fill="#f82" d="M5919 729l17 8-19-18-18-8z"/><path fill="#f82" d="M5902 721l17 8-20-18-17-8z"/><path fill="#f72" d="M5885 713l17 8-20-18-17-7z"/><path fill="#f72" d="M5867 707l18 6-20-17-17-7z"/><path fill="#e61" d="M5850 701l17 6-19-18-18-6z"/><path fill="#e61" d="M5833 695l17 6-20-18-17-6z"/><path fill="#e61" d="M5816 690l17 5-20-18-17-5z"/><path fill="#e51" d="M5799 686l17 4-20-18-17-4z"/><path fill="#e51" d="M5781 682l18 4-20-18-18-4z"/><path fill="#e51" d="M5764 679l17 3-20-18-17-3z"/><path fill="#e41" d="M5747 676l17 3-20-18-17-3z"/><path fill="#e41" d="M5730 674l17 2-20-18-17-2z"/><path fill="#d41" d="M5712 673l18 1-20-18-17-1z"/><path fill="#d41" d="M5695 672l17 1-19-18-18-1z"/><path fill="#d41" d="M5678 671l17 1-20-18-17 0z"/><path fill="#d40" d="M5661 672l17-1-20-17-17 0z"/><path fill="#d40" d="M5643 673l18-1-20-18-17 1z"/><path fill="#d40" d="M5626 674l17-1-19-18-18 1z"/><path fill="#d30" d="M5609 676l17-2-20-18-17 2z"/><path fill="#d30" d="M5592 679l17-3-20-18-17 3z"/><path fill="#d30" d="M5574 682l18-3-20-18-17 3z"/><path fill="#d30" d="M5557 686l17-4-19-18-18 4z"/><path fill="#d30" d="M5539 690l18-4-20-18-18 5z"/><path fill="#d30" d="M5521 695l18-5-20-17-17 5z"/><path fill="#d30" d="M5504 701l17-6-19-17-18 6z"/><path fill="#d30" d="M5485 708l19-7-20-17-18 6z"/><path fill="#d40" d="M5467 715l18-7-19-18-19 7z"/><path fill="#d40" d="M5449 723l18-8-20-18-18 8z"/><path fill="#d40" d="M5430 732l19-9-20-18-19 9z"/><path fill="#d41" d="M5411 742l19-10-20-18-19 10z"/><path fill="#d41" d="M5391 752l20-10-20-18-20 11z"/><path fill="#d41" d="M5371 764l20-12-20-17-20 11z"/><path fill="#e41" d="M5351 776l20-12-20-18-20 13z"/><path fill="#e51" d="M5331 790l20-14-20-17-20 13z"/><path fill="#e51" d="M5310 804l21-14-20-18-21 15z"/><path fill="#e51" d="M5288 820l22-16-20-17-21 16z"/><path fill="#e61" d="M5267 837l21-17-19-17-22 17z"/><path fill="#e61" d="M5245 856l22-19-20-17-22 18z"/><path fill="#f72" d="M5222 875l23-19-20-18-23 20z"/><path fill="#f72" d="M5199 896l23-21-20-17-23 21z"/><path fill="#f82" d="M5176 919l23-23-20-17-23 22z"/><path fill="#f92" d="M5153 942l23-23-20-18-23 24z"/><path fill="#f93" d="M5129 967l24-25-20-17-24 24z"/><path fill="#fa3" d="M5105 993l24-26-20-18-23 27z"/><path fill="#fb3" d="M5082 1020l23-27-19-17-24 27z"/><path fill="#fb3" d="M5058 1048l24-28-20-17-24 28z"/><path fill="#ec3" d="M5034 1078l24-30-20-17-23 29z"/><path fill="#ed3" d="M5011 1108l23-30-19-18-24 31z"/><path fill="#dd3" d="M4987 1140l24-32-20-17-24 31z"/><path fill="#ce3" d="M4963 1173l24-33-20-18-23 33z"/><path fill="#be3" d="M4940 1206l23-33-19-18-24 34z"/><path fill="#af3" d="M4916 1241l24-35-20-17-24 35z"/><path fill="#9f4" d="M4892 1277l24-36-20-17-24 36z"/><path fill="#8f5" d="M4869 1314l23-37-20-17-23 37z"/><path fill="#6f6" d="M4845 1352l24-38-20-17-24 38z"/><path fill="#5f7" d="M4821 1392l24-40-20-17-24 39z"/><path fill="#3e9" d="M4798 1432l23-40-20-18-23 41z"/><path fill="#2ea" d="M4774 1474l24-42-20-17-24 41z"/><path fill="#1db" d="M4750 1516l24-42-20-18-24 43z"/><path fill="#2cd" d="M4726 1560l24-44-20-17-23 44z"/><path fill="#7f6" d="M6249 988l17 19-20-18-17-19z"/><path fill="#8f5" d="M6232 969l17 19-20-18-17-19z"/><path fill="#9f4" d="M6215 952l17 17-20-18-17-17z"/><path fill="#af4" d="M6197 934l18 18-20-18-17-18z"/><path fill="#af3" d="M6180 918l17 16-19-18-18-16z"/><path fill="#be3" d="M6163 902l17 16-20-18-17-16z"/><path fill="#ce3" d="M6146 886l17 16-20-18-17-16z"/><path fill="#ce3" d="M6128 871l18 15-20-18-17-14z"/><path fill="#dd3" d="M6111 857l17 14-19-17-18-15z"/><path fill="#dd3" d="M6094 843l17 14-20-18-17-13z"/><path fill="#ec3" d="M6077 830l17 13-20-17-17-14z"/><path fill="#ec3" d="M6059 818l18 12-20-18-17-12z"/><path fill="#eb3" d="M6042 806l17 12-19-18-18-12z"/><path fill="#fb3" d="M6025 794l17 12-20-18-17-11z"/><path fill="#fb3" d="M6008 784l17 10-20-17-17-11z"/><path fill="#fa3" d="M5991 773l17 11-20-18-17-10z"/><path fill="#f93" d="M5973 764l18 9-20-17-17-10z"/><path fill="#f93" d="M5956 755l17 9-19-18-18-9z"/><path fill="#f82" d="M5939 746l17 9-20-18-17-8z"/><path fill="#f82" d="M5922 738l17 8-20-17-17-8z"/><path fill="#f82" d="M5904 731l18 7-20-17-17-8z"/><path fill="#f72" d="M5887 724l17 7-19-18-18-6z"/><path fill="#f72" d="M5870 718l17 6-20-17-17-6z"/><path fill="#e61" d="M5853 713l17 5-20-17-17-6z"/><path fill="#e61" d="M5836 708l17 5-20-18-17-5z"/><path fill="#e61" d="M5818 703l18 5-20-18-17-4z"/><path fill="#e51" d="M5801 700l17 3-19-17-18-4z"/><path fill="#e51" d="M5784 696l17 4-20-18-17-3z"/><path fill="#e51" d="M5767 694l17 2-20-17-17-3z"/><path fill="#e51" d="M5749 692l18 2-20-18-17-2z"/><path fill="#e41" d="M5732 690l17 2-19-18-18-1z"/><path fill="#d41" d="M5715 689l17 1-20-17-17-1z"/><path fill="#d41" d="M5698 689l17 0-20-17-17-1z"/><path fill="#d41" d="M5680 689l18 0-20-18-17 1z"/><path fill="#d41" d="M5663 690l17-1-19-17-18 1z"/><path fill="#d41" d="M5646 692l17-2-20-17-17 1z"/><path fill="#d40" d="M5629 694l17-2-20-18-17 2z"/><path fill="#d40" d="M5611 696l18-2-20-18-17 3z"/><path fill="#d40" d="M5594 700l17-4-19-17-18 3z"/><path fill="#d40" d="M5577 703l17-3-20-18-17 4z"/><path fill="#d40" d="M5559 708l18-5-20-17-18 4z"/><path fill="#d40" d="M5541 713l18-5-20-18-18 5z"/><path fill="#d40" d="M5523 719l18-6-20-18-17 6z"/><path fill="#d40" d="M5505 725l18-6-19-18-19 7z"/><path fill="#d41" d="M5487 733l18-8-20-17-18 7z"/><path fill="#d41" d="M5468 741l19-8-20-18-18 8z"/><path fill="#d41" d="M5449 749l19-8-19-18-19 9z"/><path fill="#d41" d="M5430 759l19-10-19-17-19 10z"/><path fill="#d41" d="M5411 770l19-11-19-17-20 10z"/><path fill="#e41" d="M5391 781l20-11-20-18-20 12z"/><path fill="#e51" d="M5371 794l20-13-20-17-20 12z"/><path fill="#e51" d="M5350 807l21-13-20-18-20 14z"/><path fill="#e51" d="M5329 822l21-15-19-17-21 14z"/><path fill="#e51" d="M5308 838l21-16-19-18-22 16z"/><path fill="#e61" d="M5286 855l22-17-20-18-21 17z"/><path fill="#f72" d="M5264 873l22-18-19-18-22 19z"/><path fill="#f72" d="M5242 893l22-20-19-17-23 19z"/><path fill="#f82" d="M5219 914l23-21-20-18-23 21z"/><path fill="#f82" d="M5196 936l23-22-20-18-23 23z"/><path fill="#f93" d="M5173 960l23-24-20-17-23 23z"/><path fill="#fa3" d="M5149 984l24-24-20-18-24 25z"/><path fill="#fa3" d="M5125 1010l24-26-20-17-24 26z"/><path fill="#fb3" d="M5102 1038l23-28-20-17-23 27z"/><path fill="#ec3" d="M5078 1066l24-28-20-18-24 28z"/><path fill="#ec3" d="M5054 1095l24-29-20-18-24 30z"/><path fill="#dd3" d="M5031 1126l23-31-20-17-23 30z"/><path fill="#dd3" d="M5007 1157l24-31-20-18-24 32z"/><path fill="#ce3" d="M4983 1190l24-33-20-17-24 33z"/><path fill="#be3" d="M4959 1224l24-34-20-17-23 33z"/><path fill="#af3" d="M4936 1259l23-35-19-18-24 35z"/><path fill="#9f4" d="M4912 1295l24-36-20-18-24 36z"/><path fill="#8f5" d="M4888 1332l24-37-20-18-23 37z"/><path fill="#6f6" d="M4865 1370l23-38-19-18-24 38z"/><path fill="#4f8" d="M4841 1409l24-39-20-18-24 40z"/><path fill="#3e9" d="M4817 1450l24-41-20-17-23 40z"/><path fill="#2ea" d="M4794 1491l23-41-19-18-24 42z"/><path fill="#1dc" d="M4770 1534l24-43-20-17-24 42z"/><path fill="#2cd" d="M4746 1577l24-43-20-18-24 44z"/><path fill="#6f6" d="M6269 1006l17 19-20-18-17-19z"/><path fill="#7f5" d="M6252 987l17 19-20-18-17-19z"/><path fill="#8f4" d="M6234 970l18 17-20-18-17-17z"/><path fill="#9f4" d="M6217 952l17 18-19-18-18-18z"/><path fill="#af3" d="M6200 936l17 16-20-18-17-16z"/><path fill="#bf3" d="M6183 920l17 16-20-18-17-16z"/><path fill="#be3" d="M6165 904l18 16-20-18-17-16z"/><path fill="#ce3" d="M6148 889l17 15-19-18-18-15z"/><path fill="#dd3" d="M6131 875l17 14-20-18-17-14z"/><path fill="#dd3" d="M6114 861l17 14-20-18-17-14z"/><path fill="#ed3" d="M6097 848l17 13-20-18-17-13z"/><path fill="#ec3" d="M6079 836l18 12-20-18-18-12z"/><path fill="#ec3" d="M6062 824l17 12-20-18-17-12z"/><path fill="#fb3" d="M6045 812l17 12-20-18-17-12z"/><path fill="#fb3" d="M6028 802l17 10-20-18-17-10z"/><path fill="#fa3" d="M6010 791l18 11-20-18-17-11z"/><path fill="#fa3" d="M5993 782l17 9-19-18-18-9z"/><path fill="#f93" d="M5976 773l17 9-20-18-17-9z"/><path fill="#f93" d="M5959 764l17 9-20-18-17-9z"/><path fill="#f82" d="M5941 756l18 8-20-18-17-8z"/><path fill="#f82" d="M5924 749l17 7-19-18-18-7z"/><path fill="#f72" d="M5907 742l17 7-20-18-17-7z"/><path fill="#f72" d="M5890 736l17 6-20-18-17-6z"/><path fill="#f72" d="M5873 731l17 5-20-18-17-5z"/><path fill="#e61" d="M5855 726l18 5-20-18-17-5z"/><path fill="#e61" d="M5838 721l17 5-19-18-18-5z"/><path fill="#e61" d="M5821 717l17 4-20-18-17-3z"/><path fill="#e51" d="M5804 714l17 3-20-17-17-4z"/><path fill="#e51" d="M5786 712l18 2-20-18-17-2z"/><path fill="#e51" d="M5769 710l17 2-19-18-18-2z"/><path fill="#e51" d="M5752 708l17 2-20-18-17-2z"/><path fill="#e41" d="M5735 707l17 1-20-18-17-1z"/><path fill="#e41" d="M5717 707l18 0-20-18-17 0z"/><path fill="#d41" d="M5700 707l17 0-19-18-18 0z"/><path fill="#d41" d="M5683 708l17-1-20-18-17 1z"/><path fill="#d41" d="M5666 709l17-1-20-18-17 2z"/><path fill="#d41" d="M5649 711l17-2-20-17-17 2z"/><path fill="#d41" d="M5631 714l18-3-20-17-18 2z"/><path fill="#d41" d="M5614 717l17-3-20-18-17 4z"/><path fill="#d41" d="M5596 721l18-4-20-17-17 3z"/><path fill="#d41" d="M5579 726l17-5-19-18-18 5z"/><path fill="#d41" d="M5561 731l18-5-20-18-18 5z"/><path fill="#d41" d="M5543 737l18-6-20-18-18 6z"/><path fill="#d41" d="M5525 743l18-6-20-18-18 6z"/><path fill="#d41" d="M5507 750l18-7-20-18-18 8z"/><path fill="#d41" d="M5488 758l19-8-20-17-19 8z"/><path fill="#d41" d="M5469 767l19-9-20-17-19 8z"/><path fill="#e41" d="M5450 777l19-10-20-18-19 10z"/><path fill="#e41" d="M5431 787l19-10-20-18-19 11z"/><path fill="#e51" d="M5411 799l20-12-20-17-20 11z"/><path fill="#e51" d="M5391 811l20-12-20-18-20 13z"/><path fill="#e51" d="M5370 825l21-14-20-17-21 13z"/><path fill="#e51" d="M5349 840l21-15-20-18-21 15z"/><path fill="#e61" d="M5328 855l21-15-20-18-21 16z"/><path fill="#e61" d="M5306 872l22-17-20-17-22 17z"/><path fill="#f72" d="M5284 891l22-19-20-17-22 18z"/><path fill="#f72" d="M5262 910l22-19-20-18-22 20z"/><path fill="#f82" d="M5239 931l23-21-20-17-23 21z"/><path fill="#f92" d="M5216 954l23-23-20-17-23 22z"/><path fill="#f93" d="M5192 977l24-23-20-18-23 24z"/><path fill="#fa3" d="M5169 1002l23-25-19-17-24 24z"/><path fill="#fb3" d="M5145 1028l24-26-20-18-24 26z"/><path fill="#fb3" d="M5121 1055l24-27-20-18-23 28z"/><path fill="#ec3" d="M5098 1083l23-28-19-17-24 28z"/><path fill="#ec3" d="M5074 1113l24-30-20-17-24 29z"/><path fill="#dd3" d="M5050 1143l24-30-20-18-23 31z"/><path fill="#ce3" d="M5027 1175l23-32-19-17-24 31z"/><path fill="#ce3" d="M5003 1207l24-32-20-18-24 33z"/><path fill="#bf3" d="M4979 1241l24-34-20-17-24 34z"/><path fill="#af4" d="M4956 1276l23-35-20-17-23 35z"/><path fill="#9f4" d="M4932 1312l24-36-20-17-24 36z"/><path fill="#7f5" d="M4908 1349l24-37-20-17-24 37z"/><path fill="#5f7" d="M4884 1387l24-38-20-17-23 38z"/><path fill="#4e8" d="M4861 1427l23-40-19-17-24 39z"/><path fill="#2e9" d="M4837 1467l24-40-20-18-24 41z"/><path fill="#2db" d="M4813 1508l24-41-20-17-23 41z"/><path fill="#1dc" d="M4790 1551l23-43-19-17-24 43z"/><path fill="#2cd" d="M4766 1595l24-44-20-17-24 43z"/><path fill="#6f6" d="M6289 1024l17 19-20-18-17-19z"/><path fill="#7f5" d="M6271 1005l18 19-20-18-17-19z"/><path fill="#8f5" d="M6254 987l17 18-19-18-18-17z"/><path fill="#9f4" d="M6237 970l17 17-20-17-17-18z"/><path fill="#af3" d="M6220 954l17 16-20-18-17-16z"/><path fill="#af3" d="M6202 938l18 16-20-18-17-16z"/><path fill="#be3" d="M6185 922l17 16-19-18-18-16z"/><path fill="#ce3" d="M6168 907l17 15-20-18-17-15z"/><path fill="#ce3" d="M6151 893l17 14-20-18-17-14z"/><path fill="#dd3" d="M6134 879l17 14-20-18-17-14z"/><path fill="#dd3" d="M6116 866l18 13-20-18-17-13z"/><path fill="#ec3" d="M6099 854l17 12-19-18-18-12z"/><path fill="#ec3" d="M6082 842l17 12-20-18-17-12z"/><path fill="#eb3" d="M6065 830l17 12-20-18-17-12z"/><path fill="#fb3" d="M6047 819l18 11-20-18-17-10z"/><path fill="#fb3" d="M6030 809l17 10-19-17-18-11z"/><path fill="#fa3" d="M6013 800l17 9-20-18-17-9z"/><path fill="#fa3" d="M5996 790l17 10-20-18-17-9z"/><path fill="#f93" d="M5978 782l18 8-20-17-17-9z"/><path fill="#f93" d="M5961 774l17 8-19-18-18-8z"/><path fill="#f82" d="M5944 767l17 7-20-18-17-7z"/><path fill="#f82" d="M5927 760l17 7-20-18-17-7z"/><path fill="#f72" d="M5910 754l17 6-20-18-17-6z"/><path fill="#f72" d="M5892 748l18 6-20-18-17-5z"/><path fill="#f72" d="M5875 743l17 5-19-17-18-5z"/><path fill="#e61" d="M5858 739l17 4-20-17-17-5z"/><path fill="#e61" d="M5841 735l17 4-20-18-17-4z"/><path fill="#e61" d="M5823 732l18 3-20-18-17-3z"/><path fill="#e51" d="M5806 729l17 3-19-18-18-2z"/><path fill="#e51" d="M5789 727l17 2-20-17-17-2z"/><path fill="#e51" d="M5772 726l17 1-20-17-17-2z"/><path fill="#e51" d="M5754 725l18 1-20-18-17-1z"/><path fill="#e51" d="M5737 725l17 0-19-18-18 0z"/><path fill="#e41" d="M5720 725l17 0-20-18-17 0z"/><path fill="#e41" d="M5703 726l17-1-20-18-17 1z"/><path fill="#e41" d="M5686 727l17-1-20-18-17 1z"/><path fill="#d41" d="M5668 729l18-2-20-18-17 2z"/><path fill="#d41" d="M5651 732l17-3-19-18-18 3z"/><path fill="#d41" d="M5634 735l17-3-20-18-17 3z"/><path fill="#d41" d="M5616 739l18-4-20-18-18 4z"/><path fill="#d41" d="M5599 743l17-4-20-18-17 5z"/><path fill="#d41" d="M5581 748l18-5-20-17-18 5z"/><path fill="#d41" d="M5563 754l18-6-20-17-18 6z"/><path fill="#d41" d="M5545 761l18-7-20-17-18 6z"/><path fill="#d41" d="M5526 768l19-7-20-18-18 7z"/><path fill="#e41" d="M5508 776l18-8-19-18-19 8z"/><path fill="#e41" d="M5489 785l19-9-20-18-19 9z"/><path fill="#e51" d="M5470 794l19-9-20-18-19 10z"/><path fill="#e51" d="M5450 805l20-11-20-17-19 10z"/><path fill="#e51" d="M5431 816l19-11-19-18-20 12z"/><path fill="#e51" d="M5410 829l21-13-20-17-20 12z"/><path fill="#e51" d="M5390 843l20-14-19-18-21 14z"/><path fill="#e61" d="M5369 857l21-14-20-18-21 15z"/><path fill="#e61" d="M5348 873l21-16-20-17-21 15z"/><path fill="#f72" d="M5326 890l22-17-20-18-22 17z"/><path fill="#f72" d="M5304 908l22-18-20-18-22 19z"/><path fill="#f82" d="M5281 928l23-20-20-17-22 19z"/><path fill="#f82" d="M5259 949l22-21-19-18-23 21z"/><path fill="#f93" d="M5235 971l24-22-20-18-23 23z"/><path fill="#fa3" d="M5212 995l23-24-19-17-24 23z"/><path fill="#fa3" d="M5188 1019l24-24-20-18-23 25z"/><path fill="#fb3" d="M5165 1045l23-26-19-17-24 26z"/><path fill="#eb3" d="M5141 1073l24-28-20-17-24 27z"/><path fill="#ec3" d="M5117 1101l24-28-20-18-23 28z"/><path fill="#ed3" d="M5094 1130l23-29-19-18-24 30z"/><path fill="#dd3" d="M5070 1161l24-31-20-17-24 30z"/><path fill="#ce3" d="M5046 1192l24-31-20-18-23 32z"/><path fill="#be3" d="M5023 1225l23-33-19-17-24 32z"/><path fill="#af3" d="M4999 1259l24-34-20-18-24 34z"/><path fill="#9f4" d="M4975 1293l24-34-20-18-23 35z"/><path fill="#8f4" d="M4952 1329l23-36-19-17-24 36z"/><path fill="#7f6" d="M4928 1366l24-37-20-17-24 37z"/><path fill="#5f7" d="M4904 1405l24-39-20-17-24 38z"/><path fill="#3e9" d="M4881 1444l23-39-20-18-23 40z"/><path fill="#2ea" d="M4857 1484l24-40-20-17-24 40z"/><path fill="#1db" d="M4833 1526l24-42-20-17-24 41z"/><path fill="#2cc" d="M4809 1568l24-42-20-18-23 43z"/><path fill="#2be" d="M4786 1612l23-44-19-17-24 44z"/><path fill="#5f7" d="M6308 1042l18 19-20-18-17-19z"/><path fill="#6f6" d="M6291 1023l17 19-19-18-18-19z"/><path fill="#8f5" d="M6274 1005l17 18-20-18-17-18z"/><path fill="#9f4" d="M6257 988l17 17-20-18-17-17z"/><path fill="#9f4" d="M6239 972l18 16-20-18-17-16z"/><path fill="#af3" d="M6222 956l17 16-19-18-18-16z"/><path fill="#be3" d="M6205 940l17 16-20-18-17-16z"/><path fill="#be3" d="M6188 925l17 15-20-18-17-15z"/><path fill="#ce3" d="M6171 911l17 14-20-18-17-14z"/><path fill="#dd3" d="M6153 897l18 14-20-18-17-14z"/><path fill="#dd3" d="M6136 884l17 13-19-18-18-13z"/><path fill="#ed3" d="M6119 871l17 13-20-18-17-12z"/><path fill="#ec3" d="M6102 859l17 12-20-17-17-12z"/><path fill="#ec3" d="M6084 848l18 11-20-17-17-12z"/><path fill="#fb3" d="M6067 837l17 11-19-18-18-11z"/><path fill="#fb3" d="M6050 827l17 10-20-18-17-10z"/><path fill="#fa3" d="M6033 817l17 10-20-18-17-9z"/><path fill="#fa3" d="M6015 808l18 9-20-17-17-10z"/><path fill="#f93" d="M5998 800l17 8-19-18-18-8z"/><path fill="#f93" d="M5981 792l17 8-20-18-17-8z"/><path fill="#f92" d="M5964 785l17 7-20-18-17-7z"/><path fill="#f82" d="M5947 778l17 7-20-18-17-7z"/><path fill="#f82" d="M5929 772l18 6-20-18-17-6z"/><path fill="#f72" d="M5912 766l17 6-19-18-18-6z"/><path fill="#f72" d="M5895 761l17 5-20-18-17-5z"/><path fill="#f72" d="M5878 757l17 4-20-18-17-4z"/><path fill="#e61" d="M5860 753l18 4-20-18-17-4z"/><path fill="#e61" d="M5843 750l17 3-19-18-18-3z"/><path fill="#e61" d="M5826 747l17 3-20-18-17-3z"/><path fill="#e51" d="M5809 745l17 2-20-18-17-2z"/><path fill="#e51" d="M5792 744l17 1-20-18-17-1z"/><path fill="#e51" d="M5774 743l18 1-20-18-18-1z"/><path fill="#e51" d="M5757 742l17 1-20-18-17 0z"/><path fill="#e51" d="M5740 743l17-1-20-17-17 0z"/><path fill="#e51" d="M5723 743l17 0-20-18-17 1z"/><path fill="#e51" d="M5705 745l18-2-20-17-17 1z"/><path fill="#e41" d="M5688 747l17-2-19-18-18 2z"/><path fill="#e41" d="M5671 749l17-2-20-18-17 3z"/><path fill="#e41" d="M5653 753l18-4-20-17-17 3z"/><path fill="#e41" d="M5636 756l17-3-19-18-18 4z"/><path fill="#e41" d="M5618 761l18-5-20-17-17 4z"/><path fill="#e41" d="M5601 766l17-5-19-18-18 5z"/><path fill="#e41" d="M5583 772l18-6-20-18-18 6z"/><path fill="#e41" d="M5565 778l18-6-20-18-18 7z"/><path fill="#e41" d="M5546 786l19-8-20-17-19 7z"/><path fill="#e51" d="M5528 794l18-8-20-18-18 8z"/><path fill="#e51" d="M5509 802l19-8-20-18-19 9z"/><path fill="#e51" d="M5490 812l19-10-20-17-19 9z"/><path fill="#e51" d="M5470 823l20-11-20-18-20 11z"/><path fill="#e51" d="M5450 834l20-11-20-18-19 11z"/><path fill="#e51" d="M5430 847l20-13-19-18-21 13z"/><path fill="#e61" d="M5410 860l20-13-20-18-20 14z"/><path fill="#e61" d="M5389 875l21-15-20-17-21 14z"/><path fill="#f72" d="M5368 891l21-16-20-18-21 16z"/><path fill="#f72" d="M5346 908l22-17-20-18-22 17z"/><path fill="#f82" d="M5324 926l22-18-20-18-22 18z"/><path fill="#f82" d="M5301 945l23-19-20-18-23 20z"/><path fill="#f92" d="M5278 966l23-21-20-17-22 21z"/><path fill="#f93" d="M5255 989l23-23-19-17-24 22z"/><path fill="#fa3" d="M5232 1012l23-23-20-18-23 24z"/><path fill="#fb3" d="M5208 1037l24-25-20-17-24 24z"/><path fill="#fb3" d="M5185 1063l23-26-20-18-23 26z"/><path fill="#ec3" d="M5161 1090l24-27-20-18-24 28z"/><path fill="#ec3" d="M5137 1118l24-28-20-17-24 28z"/><path fill="#dd3" d="M5114 1148l23-30-20-17-23 29z"/><path fill="#dd3" d="M5090 1178l24-30-20-18-24 31z"/><path fill="#ce3" d="M5066 1210l24-32-20-17-24 31z"/><path fill="#be3" d="M5042 1242l24-32-20-18-23 33z"/><path fill="#af3" d="M5019 1276l23-34-19-17-24 34z"/><path fill="#9f4" d="M4995 1311l24-35-20-17-24 34z"/><path fill="#8f5" d="M4971 1347l24-36-20-18-23 36z"/><path fill="#6f6" d="M4948 1384l23-37-19-18-24 37z"/><path fill="#5f7" d="M4924 1422l24-38-20-18-24 39z"/><path fill="#3e9" d="M4900 1461l24-39-20-17-23 39z"/><path fill="#2ea" d="M4877 1502l23-41-19-17-24 40z"/><path fill="#1db" d="M4853 1543l24-41-20-18-24 42z"/><path fill="#2cd" d="M4829 1586l24-43-20-17-24 42z"/><path fill="#2be" d="M4806 1629l23-43-20-18-23 44z"/><path fill="#5f7" d="M6328 1060l17 19-19-18-18-19z"/><path fill="#6f6" d="M6311 1041l17 19-20-18-17-19z"/><path fill="#7f5" d="M6294 1023l17 18-20-18-17-18z"/><path fill="#8f4" d="M6276 1006l18 17-20-18-17-17z"/><path fill="#9f4" d="M6259 990l17 16-19-18-18-16z"/><path fill="#af3" d="M6242 973l17 17-20-18-17-16z"/><path fill="#bf3" d="M6225 958l17 15-20-17-17-16z"/><path fill="#be3" d="M6208 943l17 15-20-18-17-15z"/><path fill="#ce3" d="M6190 929l18 14-20-18-17-14z"/><path fill="#ce3" d="M6173 915l17 14-19-18-18-14z"/><path fill="#dd3" d="M6156 902l17 13-20-18-17-13z"/><path fill="#dd3" d="M6139 889l17 13-20-18-17-13z"/><path fill="#ec3" d="M6121 877l18 12-20-18-17-12z"/><path fill="#ec3" d="M6104 866l17 11-19-18-18-11z"/><path fill="#ec3" d="M6087 855l17 11-20-18-17-11z"/><path fill="#fb3" d="M6070 845l17 10-20-18-17-10z"/><path fill="#fb3" d="M6052 835l18 10-20-18-17-10z"/><path fill="#fa3" d="M6035 826l17 9-19-18-18-9z"/><path fill="#fa3" d="M6018 818l17 8-20-18-17-8z"/><path fill="#f93" d="M6001 810l17 8-20-18-17-8z"/><path fill="#f93" d="M5984 802l17 8-20-18-17-7z"/><path fill="#f82" d="M5966 796l18 6-20-17-17-7z"/><path fill="#f82" d="M5949 790l17 6-19-18-18-6z"/><path fill="#f82" d="M5932 784l17 6-20-18-17-6z"/><path fill="#f72" d="M5915 779l17 5-20-18-17-5z"/><path fill="#f72" d="M5897 775l18 4-20-18-17-4z"/><path fill="#f72" d="M5880 771l17 4-19-18-18-4z"/><path fill="#e61" d="M5863 767l17 4-20-18-17-3z"/><path fill="#e61" d="M5846 765l17 2-20-17-17-3z"/><path fill="#e61" d="M5829 763l17 2-20-18-17-2z"/><path fill="#e51" d="M5811 761l18 2-20-18-17-1z"/><path fill="#e51" d="M5794 760l17 1-19-17-18-1z"/><path fill="#e51" d="M5777 760l17 0-20-17-17-1z"/><path fill="#e51" d="M5760 760l17 0-20-18-17 1z"/><path fill="#e51" d="M5742 761l18-1-20-17-17 0z"/><path fill="#e51" d="M5725 763l17-2-19-18-18 2z"/><path fill="#e51" d="M5708 765l17-2-20-18-17 2z"/><path fill="#e51" d="M5691 767l17-2-20-18-17 2z"/><path fill="#e51" d="M5673 770l18-3-20-18-18 4z"/><path fill="#e51" d="M5656 774l17-4-20-17-17 3z"/><path fill="#e51" d="M5638 779l18-5-20-18-18 5z"/><path fill="#e51" d="M5620 784l18-5-20-18-17 5z"/><path fill="#e51" d="M5602 789l18-5-19-18-18 6z"/><path fill="#e51" d="M5584 796l18-7-19-17-18 6z"/><path fill="#e51" d="M5566 803l18-7-19-18-19 8z"/><path fill="#e51" d="M5547 811l19-8-20-17-18 8z"/><path fill="#e51" d="M5529 820l18-9-19-17-19 8z"/><path fill="#e51" d="M5509 830l20-10-20-18-19 10z"/><path fill="#e51" d="M5490 840l19-10-19-18-20 11z"/><path fill="#e51" d="M5470 852l20-12-20-17-20 11z"/><path fill="#e61" d="M5450 864l20-12-20-18-20 13z"/><path fill="#e61" d="M5430 878l20-14-20-17-20 13z"/><path fill="#f72" d="M5409 892l21-14-20-18-21 15z"/><path fill="#f72" d="M5387 908l22-16-20-17-21 16z"/><path fill="#f72" d="M5366 925l21-17-19-17-22 17z"/><path fill="#f82" d="M5343 943l23-18-20-17-22 18z"/><path fill="#f82" d="M5321 963l22-20-19-17-23 19z"/><path fill="#f93" d="M5298 984l23-21-20-18-23 21z"/><path fill="#f93" d="M5275 1006l23-22-20-18-23 23z"/><path fill="#fa3" d="M5252 1030l23-24-20-17-23 23z"/><path fill="#fb3" d="M5228 1054l24-24-20-18-24 25z"/><path fill="#fb3" d="M5204 1080l24-26-20-17-23 26z"/><path fill="#ec3" d="M5181 1108l23-28-19-17-24 27z"/><path fill="#ec3" d="M5157 1136l24-28-20-18-24 28z"/><path fill="#dd3" d="M5133 1165l24-29-20-18-23 30z"/><path fill="#ce3" d="M5110 1196l23-31-19-17-24 30z"/><path fill="#ce3" d="M5086 1227l24-31-20-18-24 32z"/><path fill="#bf3" d="M5062 1260l24-33-20-17-24 32z"/><path fill="#af3" d="M5039 1293l23-33-20-18-23 34z"/><path fill="#9f4" d="M5015 1328l24-35-20-17-24 35z"/><path fill="#7f5" d="M4991 1364l24-36-20-17-24 36z"/><path fill="#6f6" d="M4968 1401l23-37-20-17-23 37z"/><path fill="#4f8" d="M4944 1439l24-38-20-17-24 38z"/><path fill="#3e9" d="M4920 1479l24-40-20-17-24 39z"/><path fill="#2ea" d="M4896 1519l24-40-20-18-23 41z"/><path fill="#1dc" d="M4873 1560l23-41-19-17-24 41z"/><path fill="#2cd" d="M4849 1603l24-43-20-17-24 43z"/><path fill="#2be" d="M4825 1647l24-44-20-17-23 43z"/><path fill="#4f8" d="M6348 1078l17 19-20-18-17-19z"/><path fill="#5f7" d="M6331 1059l17 19-20-18-17-19z"/><path fill="#7f6" d="M6313 1041l18 18-20-18-17-18z"/><path fill="#8f5" d="M6296 1024l17 17-19-18-18-17z"/><path fill="#9f4" d="M6279 1007l17 17-20-18-17-16z"/><path fill="#9f4" d="M6262 991l17 16-20-17-17-17z"/><path fill="#af3" d="M6245 976l17 15-20-18-17-15z"/><path fill="#be3" d="M6227 961l18 15-20-18-17-15z"/><path fill="#ce3" d="M6210 947l17 14-19-18-18-14z"/><path fill="#ce3" d="M6193 933l17 14-20-18-17-14z"/><path fill="#dd3" d="M6176 920l17 13-20-18-17-13z"/><path fill="#dd3" d="M6158 907l18 13-20-18-17-13z"/><path fill="#ed3" d="M6141 895l17 12-19-18-18-12z"/><path fill="#ec3" d="M6124 884l17 11-20-18-17-11z"/><path fill="#ec3" d="M6107 873l17 11-20-18-17-11z"/><path fill="#fb3" d="M6089 863l18 10-20-18-17-10z"/><path fill="#fb3" d="M6072 853l17 10-19-18-18-10z"/><path fill="#fb3" d="M6055 844l17 9-20-18-17-9z"/><path fill="#fa3" d="M6038 835l17 9-20-18-17-8z"/><path fill="#fa3" d="M6021 828l17 7-20-17-17-8z"/><path fill="#f93" d="M6003 820l18 8-20-18-17-8z"/><path fill="#f93" d="M5986 814l17 6-19-18-18-6z"/><path fill="#f82" d="M5969 807l17 7-20-18-17-6z"/><path fill="#f82" d="M5952 802l17 5-20-17-17-6z"/><path fill="#f82" d="M5934 797l18 5-20-18-17-5z"/><path fill="#f72" d="M5917 792l17 5-19-18-18-4z"/><path fill="#f72" d="M5900 789l17 3-20-17-17-4z"/><path fill="#f72" d="M5883 785l17 4-20-18-17-4z"/><path fill="#e61" d="M5866 783l17 2-20-18-17-2z"/><path fill="#e61" d="M5848 781l18 2-20-18-17-2z"/><path fill="#e61" d="M5831 779l17 2-19-18-18-2z"/><path fill="#e61" d="M5814 778l17 1-20-18-17-1z"/><path fill="#e51" d="M5797 778l17 0-20-18-17 0z"/><path fill="#e51" d="M5779 778l18 0-20-18-17 0z"/><path fill="#e51" d="M5762 779l17-1-19-18-18 1z"/><path fill="#e51" d="M5745 780l17-1-20-18-17 2z"/><path fill="#e51" d="M5728 782l17-2-20-17-17 2z"/><path fill="#e51" d="M5710 785l18-3-20-17-17 2z"/><path fill="#e51" d="M5693 788l17-3-19-18-18 3z"/><path fill="#e51" d="M5676 792l17-4-20-18-17 4z"/><path fill="#e51" d="M5658 796l18-4-20-18-18 5z"/><path fill="#e51" d="M5640 801l18-5-20-17-18 5z"/><path fill="#e51" d="M5622 807l18-6-20-17-18 5z"/><path fill="#e51" d="M5604 814l18-7-20-18-18 7z"/><path fill="#e51" d="M5586 821l18-7-20-18-18 7z"/><path fill="#e51" d="M5567 829l19-8-20-18-19 8z"/><path fill="#e51" d="M5548 838l19-9-20-18-18 9z"/><path fill="#e51" d="M5529 847l19-9-19-18-20 10z"/><path fill="#e61" d="M5510 858l19-11-20-17-19 10z"/><path fill="#e61" d="M5490 869l20-11-20-18-20 12z"/><path fill="#e61" d="M5470 882l20-13-20-17-20 12z"/><path fill="#f72" d="M5449 895l21-13-20-18-20 14z"/><path fill="#f72" d="M5428 910l21-15-19-17-21 14z"/><path fill="#f72" d="M5407 926l21-16-19-18-22 16z"/><path fill="#f82" d="M5385 943l22-17-20-18-21 17z"/><path fill="#f82" d="M5363 961l22-18-19-18-23 18z"/><path fill="#f92" d="M5341 981l22-20-20-18-22 20z"/><path fill="#f93" d="M5318 1001l23-20-20-18-23 21z"/><path fill="#fa3" d="M5295 1024l23-23-20-17-23 22z"/><path fill="#fa3" d="M5271 1047l24-23-20-18-23 24z"/><path fill="#fb3" d="M5248 1072l23-25-19-17-24 24z"/><path fill="#ec3" d="M5224 1098l24-26-20-18-24 26z"/><path fill="#ec3" d="M5200 1125l24-27-20-18-23 28z"/><path fill="#ed3" d="M5177 1153l23-28-19-17-24 28z"/><path fill="#dd3" d="M5153 1183l24-30-20-17-24 29z"/><path fill="#ce3" d="M5129 1213l24-30-20-18-23 31z"/><path fill="#be3" d="M5106 1245l23-32-19-17-24 31z"/><path fill="#af3" d="M5082 1277l24-32-20-18-24 33z"/><path fill="#9f4" d="M5058 1311l24-34-20-17-23 33z"/><path fill="#8f4" d="M5035 1346l23-35-19-18-24 35z"/><path fill="#7f5" d="M5011 1382l24-36-20-18-24 36z"/><path fill="#5f7" d="M4987 1419l24-37-20-18-23 37z"/><path fill="#4e8" d="M4964 1457l23-38-19-18-24 38z"/><path fill="#2e9" d="M4940 1496l24-39-20-18-24 40z"/><path fill="#2db" d="M4916 1536l24-40-20-17-24 40z"/><path fill="#1dc" d="M4893 1578l23-42-20-17-23 41z"/><path fill="#2cd" d="M4869 1620l24-42-20-18-24 43z"/><path fill="#3be" d="M4845 1664l24-44-20-17-24 44z"/><path fill="#4f8" d="M6368 1096l17 18-20-17-17-19z"/><path fill="#5f7" d="M6350 1077l18 19-20-18-17-19z"/><path fill="#6f6" d="M6333 1059l17 18-19-18-18-18z"/><path fill="#7f5" d="M6316 1042l17 17-20-18-17-17z"/><path fill="#8f4" d="M6299 1025l17 17-20-18-17-17z"/><path fill="#9f4" d="M6282 1009l17 16-20-18-17-16z"/><path fill="#af3" d="M6264 994l18 15-20-18-17-15z"/><path fill="#bf3" d="M6247 979l17 15-19-18-18-15z"/><path fill="#be3" d="M6230 965l17 14-20-18-17-14z"/><path fill="#ce3" d="M6213 951l17 14-20-18-17-14z"/><path fill="#ce3" d="M6195 938l18 13-20-18-17-13z"/><path fill="#dd3" d="M6178 925l17 13-19-18-18-13z"/><path fill="#dd3" d="M6161 913l17 12-20-18-17-12z"/><path fill="#ec3" d="M6144 902l17 11-20-18-17-11z"/><path fill="#ec3" d="M6127 891l17 11-20-18-17-11z"/><path fill="#ec3" d="M6109 881l18 10-20-18-18-10z"/><path fill="#fb3" d="M6092 871l17 10-20-18-17-10z"/><path fill="#fb3" d="M6075 862l17 9-20-18-17-9z"/><path fill="#fa3" d="M6058 853l17 9-20-18-17-9z"/><path fill="#fa3" d="M6040 845l18 8-20-18-17-7z"/><path fill="#fa3" d="M6023 838l17 7-19-17-18-8z"/><path fill="#f93" d="M6006 831l17 7-20-18-17-6z"/><path fill="#f93" d="M5989 825l17 6-20-17-17-7z"/><path fill="#f82" d="M5971 820l18 5-20-18-17-5z"/><path fill="#f82" d="M5954 815l17 5-19-18-18-5z"/><path fill="#f82" d="M5937 810l17 5-20-18-17-5z"/><path fill="#f72" d="M5920 806l17 4-20-18-17-3z"/><path fill="#f72" d="M5903 803l17 3-20-17-17-4z"/><path fill="#f72" d="M5885 800l18 3-20-18-17-2z"/><path fill="#f72" d="M5868 798l17 2-19-17-18-2z"/><path fill="#e61" d="M5851 797l17 1-20-17-17-2z"/><path fill="#e61" d="M5834 796l17 1-20-18-17-1z"/><path fill="#e61" d="M5816 795l18 1-20-18-17 0z"/><path fill="#e61" d="M5799 796l17-1-19-17-18 0z"/><path fill="#e51" d="M5782 797l17-1-20-18-17 1z"/><path fill="#e51" d="M5765 798l17-1-20-18-17 1z"/><path fill="#e51" d="M5747 800l18-2-20-18-17 2z"/><path fill="#e51" d="M5730 803l17-3-19-18-18 3z"/><path fill="#e51" d="M5713 806l17-3-20-18-17 3z"/><path fill="#e51" d="M5695 810l18-4-20-18-17 4z"/><path fill="#e51" d="M5678 814l17-4-19-18-18 4z"/><path fill="#e51" d="M5660 819l18-5-20-18-18 5z"/><path fill="#e51" d="M5642 825l18-6-20-18-18 6z"/><path fill="#e51" d="M5624 831l18-6-20-18-18 7z"/><path fill="#e51" d="M5606 838l18-7-20-17-18 7z"/><path fill="#e51" d="M5587 846l19-8-20-17-19 8z"/><path fill="#e61" d="M5568 855l19-9-20-17-19 9z"/><path fill="#e61" d="M5549 865l19-10-20-17-19 9z"/><path fill="#e61" d="M5530 875l19-10-20-18-19 11z"/><path fill="#e61" d="M5510 887l20-12-20-17-20 11z"/><path fill="#f72" d="M5490 899l20-12-20-18-20 13z"/><path fill="#f72" d="M5469 913l21-14-20-17-21 13z"/><path fill="#f72" d="M5448 927l21-14-20-18-21 15z"/><path fill="#f82" d="M5427 943l21-16-20-17-21 16z"/><path fill="#f82" d="M5405 960l22-17-20-17-22 17z"/><path fill="#f82" d="M5383 979l22-19-20-17-22 18z"/><path fill="#f93" d="M5361 998l22-19-20-18-22 20z"/><path fill="#fa3" d="M5338 1019l23-21-20-17-23 20z"/><path fill="#fa3" d="M5315 1041l23-22-20-18-23 23z"/><path fill="#fb3" d="M5291 1065l24-24-20-17-24 23z"/><path fill="#fb3" d="M5268 1089l23-24-20-18-23 25z"/><path fill="#ec3" d="M5244 1115l24-26-20-17-24 26z"/><path fill="#ec3" d="M5220 1143l24-28-20-17-24 27z"/><path fill="#dd3" d="M5197 1171l23-28-20-18-23 28z"/><path fill="#dd3" d="M5173 1200l24-29-20-18-24 30z"/><path fill="#ce3" d="M5149 1230l24-30-20-17-24 30z"/><path fill="#be3" d="M5126 1262l23-32-20-17-23 32z"/><path fill="#af3" d="M5102 1295l24-33-20-17-24 32z"/><path fill="#9f4" d="M5078 1328l24-33-20-18-24 34z"/><path fill="#8f5" d="M5054 1363l24-35-20-17-23 35z"/><path fill="#6f6" d="M5031 1399l23-36-19-17-24 36z"/><path fill="#5f7" d="M5007 1436l24-37-20-17-24 37z"/><path fill="#3e9" d="M4983 1474l24-38-20-17-23 38z"/><path fill="#2ea" d="M4960 1513l23-39-19-17-24 39z"/><path fill="#1db" d="M4936 1554l24-41-20-17-24 40z"/><path fill="#2cc" d="M4912 1595l24-41-20-18-23 42z"/><path fill="#2bd" d="M4889 1638l23-43-19-17-24 42z"/><path fill="#3ae" d="M4865 1681l24-43-20-18-24 44z"/><path fill="#4e8" d="M6387 1113l18 19-20-18-17-18z"/><path fill="#5f7" d="M6370 1095l17 18-19-17-18-19z"/><path fill="#6f6" d="M6353 1077l17 18-20-18-17-18z"/><path fill="#7f5" d="M6336 1060l17 17-20-18-17-17z"/><path fill="#8f5" d="M6319 1043l17 17-20-18-17-17z"/><path fill="#9f4" d="M6301 1027l18 16-20-18-17-16z"/><path fill="#af4" d="M6284 1012l17 15-19-18-18-15z"/><path fill="#af3" d="M6267 997l17 15-20-18-17-15z"/><path fill="#be3" d="M6250 982l17 15-20-18-17-14z"/><path fill="#ce3" d="M6232 969l18 13-20-17-17-14z"/><path fill="#ce3" d="M6215 956l17 13-19-18-18-13z"/><path fill="#dd3" d="M6198 943l17 13-20-18-17-13z"/><path fill="#dd3" d="M6181 931l17 12-20-18-17-12z"/><path fill="#ed3" d="M6164 920l17 11-20-18-17-11z"/><path fill="#ec3" d="M6146 909l18 11-20-18-17-11z"/><path fill="#ec3" d="M6129 898l17 11-19-18-18-10z"/><path fill="#eb3" d="M6112 889l17 9-20-17-17-10z"/><path fill="#fb3" d="M6095 880l17 9-20-18-17-9z"/><path fill="#fb3" d="M6077 871l18 9-20-18-17-9z"/><path fill="#fa3" d="M6060 863l17 8-19-18-18-8z"/><path fill="#fa3" d="M6043 856l17 7-20-18-17-7z"/><path fill="#f93" d="M6026 849l17 7-20-18-17-7z"/><path fill="#f93" d="M6008 843l18 6-20-18-17-6z"/><path fill="#f93" d="M5991 837l17 6-19-18-18-5z"/><path fill="#f82" d="M5974 832l17 5-20-17-17-5z"/><path fill="#f82" d="M5957 828l17 4-20-17-17-5z"/><path fill="#f82" d="M5940 824l17 4-20-18-17-4z"/><path fill="#f72" d="M5922 821l18 3-20-18-17-3z"/><path fill="#f72" d="M5905 818l17 3-19-18-18-3z"/><path fill="#f72" d="M5888 816l17 2-20-18-17-2z"/><path fill="#f72" d="M5871 814l17 2-20-18-17-1z"/><path fill="#e61" d="M5853 814l18 0-20-17-17-1z"/><path fill="#e61" d="M5836 813l17 1-19-18-18-1z"/><path fill="#e61" d="M5819 813l17 0-20-18-17 1z"/><path fill="#e61" d="M5802 814l17-1-20-17-17 1z"/><path fill="#e61" d="M5784 816l18-2-20-17-17 1z"/><path fill="#e61" d="M5767 818l17-2-19-18-18 2z"/><path fill="#e51" d="M5750 820l17-2-20-18-17 3z"/><path fill="#e51" d="M5733 823l17-3-20-17-17 3z"/><path fill="#e51" d="M5715 827l18-4-20-17-18 4z"/><path fill="#e51" d="M5697 832l18-5-20-17-17 4z"/><path fill="#e51" d="M5680 837l17-5-19-18-18 5z"/><path fill="#e51" d="M5662 842l18-5-20-18-18 6z"/><path fill="#e51" d="M5644 849l18-7-20-17-18 6z"/><path fill="#e61" d="M5625 856l19-7-20-18-18 7z"/><path fill="#e61" d="M5607 864l18-8-19-18-19 8z"/><path fill="#e61" d="M5588 873l19-9-20-18-19 9z"/><path fill="#e61" d="M5569 882l19-9-20-18-19 10z"/><path fill="#e61" d="M5549 893l20-11-20-17-19 10z"/><path fill="#f72" d="M5530 904l19-11-19-18-20 12z"/><path fill="#f72" d="M5509 917l21-13-20-17-20 12z"/><path fill="#f72" d="M5489 930l20-13-19-18-21 14z"/><path fill="#f82" d="M5468 945l21-15-20-17-21 14z"/><path fill="#f82" d="M5447 961l21-16-20-18-21 16z"/><path fill="#f82" d="M5425 978l22-17-20-18-22 17z"/><path fill="#f93" d="M5403 996l22-18-20-18-22 19z"/><path fill="#f93" d="M5380 1016l23-20-20-17-22 19z"/><path fill="#fa3" d="M5358 1036l22-20-19-18-23 21z"/><path fill="#fa3" d="M5334 1059l24-23-20-17-23 22z"/><path fill="#fb3" d="M5311 1082l23-23-19-18-24 24z"/><path fill="#eb3" d="M5287 1107l24-25-20-17-23 24z"/><path fill="#ec3" d="M5264 1133l23-26-19-18-24 26z"/><path fill="#ed3" d="M5240 1160l24-27-20-18-24 28z"/><path fill="#dd3" d="M5216 1188l24-28-20-17-23 28z"/><path fill="#ce3" d="M5193 1218l23-30-19-17-24 29z"/><path fill="#ce3" d="M5169 1248l24-30-20-18-24 30z"/><path fill="#be3" d="M5145 1279l24-31-20-18-23 32z"/><path fill="#af3" d="M5122 1312l23-33-19-17-24 33z"/><path fill="#9f4" d="M5098 1346l24-34-20-17-24 33z"/><path fill="#8f5" d="M5074 1381l24-35-20-18-24 35z"/><path fill="#6f6" d="M5051 1416l23-35-20-18-23 36z"/><path fill="#5f7" d="M5027 1453l24-37-20-17-24 37z"/><path fill="#3e9" d="M5003 1492l24-39-20-17-24 38z"/><path fill="#2ea" d="M4979 1531l24-39-20-18-23 39z"/><path fill="#1db" d="M4956 1571l23-40-19-18-24 41z"/><path fill="#2cc" d="M4932 1612l24-41-20-17-24 41z"/><path fill="#2be" d="M4908 1655l24-43-20-17-23 43z"/><path fill="#3af" d="M4885 1699l23-44-19-17-24 43z"/><path fill="#3e9" d="M6407 1131l17 19-19-18-18-19z"/><path fill="#4f8" d="M6390 1113l17 18-20-18-17-18z"/><path fill="#5f7" d="M6373 1095l17 18-20-18-17-18z"/><path fill="#6f6" d="M6356 1078l17 17-20-18-17-17z"/><path fill="#8f5" d="M6338 1061l18 17-20-18-17-17z"/><path fill="#8f4" d="M6321 1045l17 16-19-18-18-16z"/><path fill="#9f4" d="M6304 1030l17 15-20-18-17-15z"/><path fill="#af3" d="M6287 1015l17 15-20-18-17-15z"/><path fill="#bf3" d="M6269 1000l18 15-20-18-17-15z"/><path fill="#be3" d="M6252 987l17 13-19-18-18-13z"/><path fill="#ce3" d="M6235 973l17 14-20-18-17-13z"/><path fill="#ce3" d="M6218 961l17 12-20-17-17-13z"/><path fill="#dd3" d="M6201 949l17 12-20-18-17-12z"/><path fill="#dd3" d="M6183 937l18 12-20-18-17-11z"/><path fill="#ed3" d="M6166 927l17 10-19-17-18-11z"/><path fill="#ec3" d="M6149 916l17 11-20-18-17-11z"/><path fill="#ec3" d="M6132 907l17 9-20-18-17-9z"/><path fill="#fb3" d="M6114 897l18 10-20-18-17-9z"/><path fill="#fb3" d="M6097 889l17 8-19-17-18-9z"/><path fill="#fb3" d="M6080 881l17 8-20-18-17-8z"/><path fill="#fa3" d="M6063 874l17 7-20-18-17-7z"/><path fill="#fa3" d="M6045 867l18 7-20-18-17-7z"/><path fill="#f93" d="M6028 861l17 6-19-18-18-6z"/><path fill="#f93" d="M6011 855l17 6-20-18-17-6z"/><path fill="#f92" d="M5994 850l17 5-20-18-17-5z"/><path fill="#f82" d="M5977 846l17 4-20-18-17-4z"/><path fill="#f82" d="M5959 842l18 4-20-18-17-4z"/><path fill="#f82" d="M5942 839l17 3-19-18-18-3z"/><path fill="#f72" d="M5925 836l17 3-20-18-17-3z"/><path fill="#f72" d="M5908 834l17 2-20-18-17-2z"/><path fill="#f72" d="M5890 832l18 2-20-18-17-2z"/><path fill="#f72" d="M5873 831l17 1-19-18-18 0z"/><path fill="#f72" d="M5856 831l17 0-20-17-17-1z"/><path fill="#e61" d="M5839 831l17 0-20-18-17 0z"/><path fill="#e61" d="M5822 832l17-1-20-18-17 1z"/><path fill="#e61" d="M5804 833l18-1-20-18-18 2z"/><path fill="#e61" d="M5787 835l17-2-20-17-17 2z"/><path fill="#e61" d="M5770 838l17-3-20-17-17 2z"/><path fill="#e61" d="M5752 841l18-3-20-18-17 3z"/><path fill="#e61" d="M5735 845l17-4-19-18-18 4z"/><path fill="#e61" d="M5717 849l18-4-20-18-18 5z"/><path fill="#e61" d="M5700 854l17-5-20-17-17 5z"/><path fill="#e61" d="M5682 860l18-6-20-17-18 5z"/><path fill="#e61" d="M5663 867l19-7-20-18-18 7z"/><path fill="#e61" d="M5645 874l18-7-19-18-19 7z"/><path fill="#e61" d="M5627 882l18-8-20-18-18 8z"/><path fill="#e61" d="M5608 890l19-8-20-18-19 9z"/><path fill="#e61" d="M5589 900l19-10-20-17-19 9z"/><path fill="#f72" d="M5569 911l20-11-20-18-20 11z"/><path fill="#f72" d="M5549 922l20-11-20-18-19 11z"/><path fill="#f72" d="M5529 935l20-13-19-18-21 13z"/><path fill="#f72" d="M5509 948l20-13-20-18-20 13z"/><path fill="#f82" d="M5488 963l21-15-20-18-21 15z"/><path fill="#f82" d="M5466 978l22-15-20-18-21 16z"/><path fill="#f92" d="M5445 995l21-17-19-17-22 17z"/><path fill="#f93" d="M5423 1014l22-19-20-17-22 18z"/><path fill="#fa3" d="M5400 1033l23-19-20-18-23 20z"/><path fill="#fa3" d="M5377 1054l23-21-20-17-22 20z"/><path fill="#fb3" d="M5354 1076l23-22-19-18-24 23z"/><path fill="#fb3" d="M5331 1100l23-24-20-17-23 23z"/><path fill="#ec3" d="M5307 1124l24-24-20-18-24 25z"/><path fill="#ec3" d="M5284 1150l23-26-20-17-23 26z"/><path fill="#dd3" d="M5260 1178l24-28-20-17-24 27z"/><path fill="#dd3" d="M5236 1206l24-28-20-18-24 28z"/><path fill="#ce3" d="M5212 1235l24-29-20-18-23 30z"/><path fill="#be3" d="M5189 1265l23-30-19-17-24 30z"/><path fill="#bf3" d="M5165 1297l24-32-20-17-24 31z"/><path fill="#af4" d="M5141 1329l24-32-20-18-23 33z"/><path fill="#9f4" d="M5118 1363l23-34-19-17-24 34z"/><path fill="#7f5" d="M5094 1398l24-35-20-17-24 35z"/><path fill="#6f6" d="M5070 1434l24-36-20-17-23 35z"/><path fill="#4f8" d="M5047 1471l23-37-19-18-24 37z"/><path fill="#3e9" d="M5023 1509l24-38-20-18-24 39z"/><path fill="#2ea" d="M4999 1548l24-39-20-17-24 39z"/><path fill="#1db" d="M4976 1588l23-40-20-17-23 40z"/><path fill="#2cd" d="M4952 1630l24-42-20-17-24 41z"/><path fill="#2be" d="M4928 1672l24-42-20-18-24 43z"/><path fill="#3af" d="M4904 1716l24-44-20-17-23 44z"/><path fill="#3e9" d="M6427 1149l17 19-20-18-17-19z"/><path fill="#4e8" d="M6410 1131l17 18-20-18-17-18z"/><path fill="#5f7" d="M6393 1113l17 18-20-18-17-18z"/><path fill="#6f6" d="M6375 1096l18 17-20-18-17-17z"/><path fill="#7f5" d="M6358 1079l17 17-19-18-18-17z"/><path fill="#8f5" d="M6341 1063l17 16-20-18-17-16z"/><path fill="#9f4" d="M6324 1048l17 15-20-18-17-15z"/><path fill="#af4" d="M6306 1033l18 15-20-18-17-15z"/><path fill="#af3" d="M6289 1018l17 15-19-18-18-15z"/><path fill="#be3" d="M6272 1004l17 14-20-18-17-13z"/><path fill="#ce3" d="M6255 991l17 13-20-17-17-14z"/><path fill="#ce3" d="M6238 979l17 12-20-18-17-12z"/><path fill="#dd3" d="M6220 967l18 12-20-18-17-12z"/><path fill="#dd3" d="M6203 955l17 12-19-18-18-12z"/><path fill="#dd3" d="M6186 944l17 11-20-18-17-10z"/><path fill="#ec3" d="M6169 934l17 10-20-17-17-11z"/><path fill="#ec3" d="M6151 924l18 10-20-18-17-9z"/><path fill="#ec3" d="M6134 915l17 9-19-17-18-10z"/><path fill="#fb3" d="M6117 907l17 8-20-18-17-8z"/><path fill="#fb3" d="M6100 899l17 8-20-18-17-8z"/><path fill="#fb3" d="M6082 892l18 7-20-18-17-7z"/><path fill="#fa3" d="M6065 885l17 7-19-18-18-7z"/><path fill="#fa3" d="M6048 879l17 6-20-18-17-6z"/><path fill="#f93" d="M6031 873l17 6-20-18-17-6z"/><path fill="#f93" d="M6014 868l17 5-20-18-17-5z"/><path fill="#f92" d="M5996 863l18 5-20-18-17-4z"/><path fill="#f82" d="M5979 860l17 3-19-17-18-4z"/><path fill="#f82" d="M5962 856l17 4-20-18-17-3z"/><path fill="#f82" d="M5945 854l17 2-20-17-17-3z"/><path fill="#f82" d="M5927 852l18 2-20-18-17-2z"/><path fill="#f72" d="M5910 850l17 2-19-18-18-2z"/><path fill="#f72" d="M5893 849l17 1-20-18-17-1z"/><path fill="#f72" d="M5876 849l17 0-20-18-17 0z"/><path fill="#f72" d="M5859 849l17 0-20-18-17 0z"/><path fill="#f72" d="M5841 850l18-1-20-18-17 1z"/><path fill="#e61" d="M5824 851l17-1-19-18-18 1z"/><path fill="#e61" d="M5807 853l17-2-20-18-17 2z"/><path fill="#e61" d="M5790 856l17-3-20-18-17 3z"/><path fill="#e61" d="M5772 859l18-3-20-18-18 3z"/><path fill="#e61" d="M5755 863l17-4-20-18-17 4z"/><path fill="#e61" d="M5737 867l18-4-20-18-18 4z"/><path fill="#e61" d="M5719 872l18-5-20-18-17 5z"/><path fill="#e61" d="M5701 878l18-6-19-18-18 6z"/><path fill="#e61" d="M5683 884l18-6-19-18-19 7z"/><path fill="#e61" d="M5665 891l18-7-20-17-18 7z"/><path fill="#f72" d="M5646 899l19-8-20-17-18 8z"/><path fill="#f72" d="M5627 908l19-9-19-17-19 8z"/><path fill="#f72" d="M5608 918l19-10-19-18-19 10z"/><path fill="#f72" d="M5589 928l19-10-19-18-20 11z"/><path fill="#f72" d="M5569 940l20-12-20-17-20 11z"/><path fill="#f82" d="M5549 952l20-12-20-18-20 13z"/><path fill="#f82" d="M5528 966l21-14-20-17-20 13z"/><path fill="#f82" d="M5508 980l20-14-19-18-21 15z"/><path fill="#f92" d="M5486 996l22-16-20-17-22 15z"/><path fill="#f93" d="M5465 1013l21-17-20-18-21 17z"/><path fill="#f93" d="M5442 1031l23-18-20-18-22 19z"/><path fill="#fa3" d="M5420 1051l22-20-19-17-23 19z"/><path fill="#fa3" d="M5397 1072l23-21-20-18-23 21z"/><path fill="#fb3" d="M5374 1094l23-22-20-18-23 22z"/><path fill="#eb3" d="M5351 1117l23-23-20-18-23 24z"/><path fill="#ec3" d="M5327 1142l24-25-20-17-24 24z"/><path fill="#ec3" d="M5303 1168l24-26-20-18-23 26z"/><path fill="#dd3" d="M5280 1195l23-27-19-18-24 28z"/><path fill="#dd3" d="M5256 1223l24-28-20-17-24 28z"/><path fill="#ce3" d="M5232 1252l24-29-20-17-24 29z"/><path fill="#be3" d="M5209 1283l23-31-20-17-23 30z"/><path fill="#af3" d="M5185 1314l24-31-20-18-24 32z"/><path fill="#9f4" d="M5161 1347l24-33-20-17-24 32z"/><path fill="#8f4" d="M5137 1381l24-34-20-18-23 34z"/><path fill="#7f6" d="M5114 1415l23-34-19-18-24 35z"/><path fill="#5f7" d="M5090 1451l24-36-20-17-24 36z"/><path fill="#4e8" d="M5066 1488l24-37-20-17-23 37z"/><path fill="#2e9" d="M5043 1526l23-38-19-17-24 38z"/><path fill="#2db" d="M5019 1566l24-40-20-17-24 39z"/><path fill="#1dc" d="M4995 1606l24-40-20-18-23 40z"/><path fill="#2cd" d="M4972 1647l23-41-19-18-24 42z"/><path fill="#3be" d="M4948 1690l24-43-20-17-24 42z"/><path fill="#39f" d="M4924 1733l24-43-20-18-24 44z"/><path fill="#2e9" d="M6447 1167l17 19-20-18-17-19z"/><path fill="#3e9" d="M6430 1149l17 18-20-18-17-18z"/><path fill="#4f8" d="M6412 1131l18 18-20-18-17-18z"/><path fill="#5f7" d="M6395 1114l17 17-19-18-18-17z"/><path fill="#7f6" d="M6378 1097l17 17-20-18-17-17z"/><path fill="#8f5" d="M6361 1081l17 16-20-18-17-16z"/><path fill="#9f4" d="M6343 1065l18 16-20-18-17-15z"/><path fill="#9f4" d="M6326 1051l17 14-19-17-18-15z"/><path fill="#af3" d="M6309 1036l17 15-20-18-17-15z"/><path fill="#bf3" d="M6292 1022l17 14-20-18-17-14z"/><path fill="#be3" d="M6275 1009l17 13-20-18-17-13z"/><path fill="#ce3" d="M6257 997l18 12-20-18-17-12z"/><path fill="#ce3" d="M6240 985l17 12-19-18-18-12z"/><path fill="#dd3" d="M6223 973l17 12-20-18-17-12z"/><path fill="#dd3" d="M6206 962l17 11-20-18-17-11z"/><path fill="#ed3" d="M6188 952l18 10-20-18-17-10z"/><path fill="#ec3" d="M6171 942l17 10-19-18-18-10z"/><path fill="#ec3" d="M6154 933l17 9-20-18-17-9z"/><path fill="#eb3" d="M6137 925l17 8-20-18-17-8z"/><path fill="#fb3" d="M6119 917l18 8-20-18-17-8z"/><path fill="#fb3" d="M6102 909l17 8-19-18-18-7z"/><path fill="#fa3" d="M6085 903l17 6-20-17-17-7z"/><path fill="#fa3" d="M6068 896l17 7-20-18-17-6z"/><path fill="#fa3" d="M6051 891l17 5-20-17-17-6z"/><path fill="#f93" d="M6033 886l18 5-20-18-17-5z"/><path fill="#f93" d="M6016 881l17 5-19-18-18-5z"/><path fill="#f92" d="M5999 877l17 4-20-18-17-3z"/><path fill="#f82" d="M5982 874l17 3-20-17-17-4z"/><path fill="#f82" d="M5964 871l18 3-20-18-17-2z"/><path fill="#f82" d="M5947 869l17 2-19-17-18-2z"/><path fill="#f82" d="M5930 868l17 1-20-17-17-2z"/><path fill="#f72" d="M5913 867l17 1-20-18-17-1z"/><path fill="#f72" d="M5896 866l17 1-20-18-17 0z"/><path fill="#f72" d="M5878 867l18-1-20-17-17 0z"/><path fill="#f72" d="M5861 867l17 0-19-18-18 1z"/><path fill="#f72" d="M5844 869l17-2-20-17-17 1z"/><path fill="#f72" d="M5827 871l17-2-20-18-17 2z"/><path fill="#f72" d="M5809 873l18-2-20-18-17 3z"/><path fill="#f72" d="M5792 876l17-3-19-17-18 3z"/><path fill="#f72" d="M5774 880l18-4-20-17-17 4z"/><path fill="#f72" d="M5757 885l17-5-19-17-18 4z"/><path fill="#f72" d="M5739 890l18-5-20-18-18 5z"/><path fill="#f72" d="M5721 895l18-5-20-18-18 6z"/><path fill="#f72" d="M5703 902l18-7-20-17-18 6z"/><path fill="#f72" d="M5685 909l18-7-20-18-18 7z"/><path fill="#f72" d="M5666 917l19-8-20-18-19 8z"/><path fill="#f72" d="M5647 926l19-9-20-18-19 9z"/><path fill="#f72" d="M5628 935l19-9-20-18-19 10z"/><path fill="#f72" d="M5609 946l19-11-20-17-19 10z"/><path fill="#f82" d="M5589 957l20-11-20-18-20 12z"/><path fill="#f82" d="M5569 970l20-13-20-17-20 12z"/><path fill="#f82" d="M5548 983l21-13-20-18-21 14z"/><path fill="#f82" d="M5527 998l21-15-20-17-20 14z"/><path fill="#f93" d="M5506 1014l21-16-19-18-22 16z"/><path fill="#f93" d="M5484 1031l22-17-20-18-21 17z"/><path fill="#fa3" d="M5462 1049l22-18-19-18-23 18z"/><path fill="#fa3" d="M5440 1068l22-19-20-18-22 20z"/><path fill="#fb3" d="M5417 1089l23-21-20-17-23 21z"/><path fill="#fb3" d="M5394 1111l23-22-20-17-23 22z"/><path fill="#ec3" d="M5370 1135l24-24-20-17-23 23z"/><path fill="#ec3" d="M5347 1159l23-24-19-18-24 25z"/><path fill="#ed3" d="M5323 1185l24-26-20-17-24 26z"/><path fill="#dd3" d="M5299 1212l24-27-20-17-23 27z"/><path fill="#ce3" d="M5276 1241l23-29-19-17-24 28z"/><path fill="#ce3" d="M5252 1270l24-29-20-18-24 29z"/><path fill="#be3" d="M5228 1300l24-30-20-18-23 31z"/><path fill="#af3" d="M5205 1332l23-32-19-17-24 31z"/><path fill="#9f4" d="M5181 1364l24-32-20-18-24 33z"/><path fill="#8f5" d="M5157 1398l24-34-20-17-24 34z"/><path fill="#6f6" d="M5134 1433l23-35-20-17-23 34z"/><path fill="#5f7" d="M5110 1469l24-36-20-18-24 36z"/><path fill="#3e9" d="M5086 1506l24-37-20-18-24 37z"/><path fill="#2ea" d="M5063 1544l23-38-20-18-23 38z"/><path fill="#1db" d="M5039 1583l24-39-20-18-24 40z"/><path fill="#1dc" d="M5015 1623l24-40-20-17-24 40z"/><path fill="#2cd" d="M4991 1665l24-42-20-17-23 41z"/><path fill="#3ae" d="M4968 1707l23-42-19-18-24 43z"/><path fill="#49f" d="M4944 1751l24-44-20-17-24 43z"/><path fill="#2ea" d="M6467 1185l17 19-20-18-17-19z"/><path fill="#3e9" d="M6449 1167l18 18-20-18-17-18z"/><path fill="#4f8" d="M6432 1149l17 18-19-18-18-18z"/><path fill="#5f7" d="M6415 1132l17 17-20-18-17-17z"/><path fill="#6f6" d="M6398 1115l17 17-20-18-17-17z"/><path fill="#7f5" d="M6380 1099l18 16-20-18-17-16z"/><path fill="#8f4" d="M6363 1083l17 16-19-18-18-16z"/><path fill="#9f4" d="M6346 1068l17 15-20-18-17-14z"/><path fill="#af3" d="M6329 1054l17 14-20-17-17-15z"/><path fill="#af3" d="M6312 1040l17 14-20-18-17-14z"/><path fill="#be3" d="M6294 1027l18 13-20-18-17-13z"/><path fill="#ce3" d="M6277 1014l17 13-19-18-18-12z"/><path fill="#ce3" d="M6260 1002l17 12-20-17-17-12z"/><path fill="#dd3" d="M6243 991l17 11-20-17-17-12z"/><path fill="#dd3" d="M6225 980l18 11-20-18-17-11z"/><path fill="#dd3" d="M6208 970l17 10-19-18-18-10z"/><path fill="#ec3" d="M6191 960l17 10-20-18-17-10z"/><path fill="#ec3" d="M6174 951l17 9-20-18-17-9z"/><path fill="#ec3" d="M6157 942l17 9-20-18-17-8z"/><path fill="#fb3" d="M6139 935l18 7-20-17-18-8z"/><path fill="#fb3" d="M6122 927l17 8-20-18-17-8z"/><path fill="#fb3" d="M6105 920l17 7-20-18-17-6z"/><path fill="#fa3" d="M6088 914l17 6-20-17-17-7z"/><path fill="#fa3" d="M6070 909l18 5-20-18-17-5z"/><path fill="#fa3" d="M6053 903l17 6-19-18-18-5z"/><path fill="#f93" d="M6036 899l17 4-20-17-17-5z"/><path fill="#f93" d="M6019 895l17 4-20-18-17-4z"/><path fill="#f93" d="M6001 892l18 3-20-18-17-3z"/><path fill="#f82" d="M5984 889l17 3-19-18-18-3z"/><path fill="#f82" d="M5967 887l17 2-20-18-17-2z"/><path fill="#f82" d="M5950 885l17 2-20-18-17-1z"/><path fill="#f82" d="M5933 885l17 0-20-17-17-1z"/><path fill="#f82" d="M5915 884l18 1-20-18-17-1z"/><path fill="#f72" d="M5898 884l17 0-19-18-18 1z"/><path fill="#f72" d="M5881 885l17-1-20-17-17 0z"/><path fill="#f72" d="M5864 886l17-1-20-18-17 2z"/><path fill="#f72" d="M5846 888l18-2-20-17-17 2z"/><path fill="#f72" d="M5829 891l17-3-19-17-18 2z"/><path fill="#f72" d="M5812 894l17-3-20-18-17 3z"/><path fill="#f72" d="M5794 898l18-4-20-18-18 4z"/><path fill="#f72" d="M5777 902l17-4-20-18-17 5z"/><path fill="#f72" d="M5759 907l18-5-20-17-18 5z"/><path fill="#f72" d="M5741 913l18-6-20-17-18 5z"/><path fill="#f72" d="M5723 920l18-7-20-18-18 7z"/><path fill="#f72" d="M5705 927l18-7-20-18-18 7z"/><path fill="#f72" d="M5686 935l19-8-20-18-19 8z"/><path fill="#f72" d="M5667 943l19-8-20-18-19 9z"/><path fill="#f72" d="M5648 953l19-10-20-17-19 9z"/><path fill="#f82" d="M5628 963l20-10-20-18-19 11z"/><path fill="#f82" d="M5609 975l19-12-19-17-20 11z"/><path fill="#f82" d="M5589 987l20-12-20-18-20 13z"/><path fill="#f82" d="M5568 1001l21-14-20-17-21 13z"/><path fill="#f93" d="M5547 1015l21-14-20-18-21 15z"/><path fill="#f93" d="M5526 1031l21-16-20-17-21 16z"/><path fill="#fa3" d="M5504 1048l22-17-20-17-22 17z"/><path fill="#fa3" d="M5482 1066l22-18-20-17-22 18z"/><path fill="#fb3" d="M5459 1086l23-20-20-17-22 19z"/><path fill="#fb3" d="M5437 1107l22-21-19-18-23 21z"/><path fill="#eb3" d="M5414 1129l23-22-20-18-23 22z"/><path fill="#ec3" d="M5390 1152l24-23-20-18-24 24z"/><path fill="#ec3" d="M5367 1177l23-25-20-17-23 24z"/><path fill="#dd3" d="M5343 1203l24-26-20-18-24 26z"/><path fill="#dd3" d="M5319 1230l24-27-20-18-24 27z"/><path fill="#ce3" d="M5295 1258l24-28-20-18-23 29z"/><path fill="#be3" d="M5272 1287l23-29-19-17-24 29z"/><path fill="#bf3" d="M5248 1318l24-31-20-17-24 30z"/><path fill="#af4" d="M5224 1349l24-31-20-18-23 32z"/><path fill="#9f4" d="M5201 1382l23-33-19-17-24 32z"/><path fill="#7f5" d="M5177 1415l24-33-20-18-24 34z"/><path fill="#6f6" d="M5153 1450l24-35-20-17-23 35z"/><path fill="#4f8" d="M5130 1486l23-36-19-17-24 36z"/><path fill="#3e9" d="M5106 1523l24-37-20-17-24 37z"/><path fill="#2ea" d="M5082 1561l24-38-20-17-23 38z"/><path fill="#1db" d="M5059 1600l23-39-19-17-24 39z"/><path fill="#2cc" d="M5035 1641l24-41-20-17-24 40z"/><path fill="#2be" d="M5011 1682l24-41-20-18-24 42z"/><path fill="#3af" d="M4988 1724l23-42-20-17-23 42z"/><path fill="#49f" d="M4964 1768l24-44-20-17-24 44z"/><path fill="#2ea" d="M6486 1203l18 19-20-18-17-19z"/><path fill="#3e9" d="M6469 1185l17 18-19-18-18-18z"/><path fill="#4e8" d="M6452 1167l17 18-20-18-17-18z"/><path fill="#5f7" d="M6435 1150l17 17-20-18-17-17z"/><path fill="#6f6" d="M6417 1133l18 17-20-18-17-17z"/><path fill="#7f6" d="M6400 1117l17 16-19-18-18-16z"/><path fill="#8f5" d="M6383 1101l17 16-20-18-17-16z"/><path fill="#9f4" d="M6366 1086l17 15-20-18-17-15z"/><path fill="#9f4" d="M6349 1072l17 14-20-18-17-14z"/><path fill="#af3" d="M6331 1058l18 14-20-18-17-14z"/><path fill="#bf3" d="M6314 1045l17 13-19-18-18-13z"/><path fill="#be3" d="M6297 1032l17 13-20-18-17-13z"/><path fill="#ce3" d="M6280 1020l17 12-20-18-17-12z"/><path fill="#ce3" d="M6262 1009l18 11-20-18-17-11z"/><path fill="#dd3" d="M6245 998l17 11-19-18-18-11z"/><path fill="#dd3" d="M6228 988l17 10-20-18-17-10z"/><path fill="#ed3" d="M6211 978l17 10-20-18-17-10z"/><path fill="#ec3" d="M6194 969l17 9-20-18-17-9z"/><path fill="#ec3" d="M6176 960l18 9-20-18-17-9z"/><path fill="#ec3" d="M6159 952l17 8-19-18-18-7z"/><path fill="#fb3" d="M6142 945l17 7-20-17-17-8z"/><path fill="#fb3" d="M6125 938l17 7-20-18-17-7z"/><path fill="#fb3" d="M6107 932l18 6-20-18-17-6z"/><path fill="#fa3" d="M6090 926l17 6-19-18-18-5z"/><path fill="#fa3" d="M6073 921l17 5-20-17-17-6z"/><path fill="#fa3" d="M6056 917l17 4-20-18-17-4z"/><path fill="#f93" d="M6038 913l18 4-20-18-17-4z"/><path fill="#f93" d="M6021 910l17 3-19-18-18-3z"/><path fill="#f93" d="M6004 907l17 3-20-18-17-3z"/><path fill="#f82" d="M5987 905l17 2-20-18-17-2z"/><path fill="#f82" d="M5970 903l17 2-20-18-17-2z"/><path fill="#f82" d="M5952 902l18 1-20-18-17 0z"/><path fill="#f82" d="M5935 902l17 0-19-17-18-1z"/><path fill="#f82" d="M5918 902l17 0-20-18-17 0z"/><path fill="#f82" d="M5901 903l17-1-20-18-17 1z"/><path fill="#f72" d="M5883 904l18-1-20-18-17 1z"/><path fill="#f72" d="M5866 906l17-2-19-18-18 2z"/><path fill="#f72" d="M5849 909l17-3-20-18-17 3z"/><path fill="#f72" d="M5831 912l18-3-20-18-17 3z"/><path fill="#f72" d="M5814 916l17-4-19-18-18 4z"/><path fill="#f72" d="M5796 920l18-4-20-18-17 4z"/><path fill="#f72" d="M5779 925l17-5-19-18-18 5z"/><path fill="#f72" d="M5761 931l18-6-20-18-18 6z"/><path fill="#f72" d="M5743 937l18-6-20-18-18 7z"/><path fill="#f72" d="M5724 944l19-7-20-17-18 7z"/><path fill="#f72" d="M5706 952l18-8-19-17-19 8z"/><path fill="#f82" d="M5687 961l19-9-20-17-19 8z"/><path fill="#f82" d="M5668 971l19-10-20-18-19 10z"/><path fill="#f82" d="M5648 981l20-10-20-18-20 10z"/><path fill="#f82" d="M5628 992l20-11-20-18-19 12z"/><path fill="#f82" d="M5608 1005l20-13-19-17-20 12z"/><path fill="#f93" d="M5588 1018l20-13-19-18-21 14z"/><path fill="#f93" d="M5567 1033l21-15-20-17-21 14z"/><path fill="#f93" d="M5546 1049l21-16-20-18-21 16z"/><path fill="#fa3" d="M5524 1066l22-17-20-18-22 17z"/><path fill="#fa3" d="M5502 1084l22-18-20-18-22 18z"/><path fill="#fb3" d="M5479 1103l23-19-20-18-23 20z"/><path fill="#fb3" d="M5456 1124l23-21-20-17-22 21z"/><path fill="#ec3" d="M5433 1146l23-22-19-17-23 22z"/><path fill="#ec3" d="M5410 1170l23-24-19-17-24 23z"/><path fill="#ed3" d="M5386 1194l24-24-20-18-23 25z"/><path fill="#dd3" d="M5363 1220l23-26-19-17-24 26z"/><path fill="#ce3" d="M5339 1247l24-27-20-17-24 27z"/><path fill="#ce3" d="M5315 1276l24-29-20-17-24 28z"/><path fill="#be3" d="M5292 1305l23-29-20-18-23 29z"/><path fill="#af3" d="M5268 1335l24-30-20-18-24 31z"/><path fill="#9f4" d="M5244 1367l24-32-20-17-24 31z"/><path fill="#8f4" d="M5221 1399l23-32-20-18-23 33z"/><path fill="#7f5" d="M5197 1433l24-34-20-17-24 33z"/><path fill="#5f7" d="M5173 1468l24-35-20-18-24 35z"/><path fill="#4f8" d="M5149 1503l24-35-20-18-23 36z"/><path fill="#3e9" d="M5126 1540l23-37-19-17-24 37z"/><path fill="#2ea" d="M5102 1578l24-38-20-17-24 38z"/><path fill="#1db" d="M5078 1618l24-40-20-17-23 39z"/><path fill="#2cd" d="M5055 1658l23-40-19-18-24 41z"/><path fill="#2be" d="M5031 1699l24-41-20-17-24 41z"/><path fill="#3af" d="M5007 1742l24-43-20-17-23 42z"/><path fill="#49f" d="M4984 1785l23-43-19-18-24 44z"/><path fill="#2ea" d="M6506 1221l17 19-19-18-18-19z"/><path fill="#2ea" d="M6489 1203l17 18-20-18-17-18z"/><path fill="#3e9" d="M6472 1185l17 18-20-18-17-18z"/><path fill="#4f8" d="M6455 1168l17 17-20-18-17-17z"/><path fill="#5f7" d="M6437 1151l18 17-20-18-18-17z"/><path fill="#6f6" d="M6420 1135l17 16-20-18-17-16z"/><path fill="#7f5" d="M6403 1119l17 16-20-18-17-16z"/><path fill="#8f4" d="M6386 1104l17 15-20-18-17-15z"/><path fill="#9f4" d="M6368 1090l18 14-20-18-17-14z"/><path fill="#af3" d="M6351 1076l17 14-19-18-18-14z"/><path fill="#af3" d="M6334 1063l17 13-20-18-17-13z"/><path fill="#be3" d="M6317 1050l17 13-20-18-17-13z"/><path fill="#be3" d="M6299 1038l18 12-20-18-17-12z"/><path fill="#ce3" d="M6282 1027l17 11-19-18-18-11z"/><path fill="#ce3" d="M6265 1016l17 11-20-18-17-11z"/><path fill="#dd3" d="M6248 1006l17 10-20-18-17-10z"/><path fill="#dd3" d="M6231 996l17 10-20-18-17-10z"/><path fill="#ed3" d="M6213 987l18 9-20-18-17-9z"/><path fill="#ec3" d="M6196 978l17 9-19-18-18-9z"/><path fill="#ec3" d="M6179 970l17 8-20-18-17-8z"/><path fill="#ec3" d="M6162 963l17 7-20-18-17-7z"/><path fill="#fb3" d="M6144 956l18 7-20-18-17-7z"/><path fill="#fb3" d="M6127 950l17 6-19-18-18-6z"/><path fill="#fb3" d="M6110 944l17 6-20-18-17-6z"/><path fill="#fa3" d="M6093 939l17 5-20-18-17-5z"/><path fill="#fa3" d="M6075 935l18 4-20-18-17-4z"/><path fill="#fa3" d="M6058 931l17 4-19-18-18-4z"/><path fill="#f93" d="M6041 927l17 4-20-18-17-3z"/><path fill="#f93" d="M6024 925l17 2-20-17-17-3z"/><path fill="#f93" d="M6007 923l17 2-20-18-17-2z"/><path fill="#f92" d="M5989 921l18 2-20-18-17-2z"/><path fill="#f82" d="M5972 920l17 1-19-18-18-1z"/><path fill="#f82" d="M5955 920l17 0-20-18-17 0z"/><path fill="#f82" d="M5938 920l17 0-20-18-17 0z"/><path fill="#f82" d="M5920 921l18-1-20-18-17 1z"/><path fill="#f82" d="M5903 922l17-1-19-18-18 1z"/><path fill="#f82" d="M5886 924l17-2-20-18-17 2z"/><path fill="#f82" d="M5869 926l17-2-20-18-17 3z"/><path fill="#f82" d="M5851 930l18-4-20-17-18 3z"/><path fill="#f72" d="M5834 933l17-3-20-18-17 4z"/><path fill="#f72" d="M5816 938l18-5-20-17-18 4z"/><path fill="#f72" d="M5798 943l18-5-20-18-17 5z"/><path fill="#f82" d="M5781 948l17-5-19-18-18 6z"/><path fill="#f82" d="M5762 955l19-7-20-17-18 6z"/><path fill="#f82" d="M5744 962l18-7-19-18-19 7z"/><path fill="#f82" d="M5725 970l19-8-20-18-18 8z"/><path fill="#f82" d="M5707 979l18-9-19-18-19 9z"/><path fill="#f82" d="M5687 988l20-9-20-18-19 10z"/><path fill="#f82" d="M5668 999l19-11-19-17-20 10z"/><path fill="#f92" d="M5648 1010l20-11-20-18-20 11z"/><path fill="#f93" d="M5628 1022l20-12-20-18-20 13z"/><path fill="#f93" d="M5608 1036l20-14-20-17-20 13z"/><path fill="#f93" d="M5587 1051l21-15-20-18-21 15z"/><path fill="#fa3" d="M5565 1066l22-15-20-18-21 16z"/><path fill="#fa3" d="M5544 1083l21-17-19-17-22 17z"/><path fill="#fb3" d="M5522 1101l22-18-20-17-22 18z"/><path fill="#fb3" d="M5499 1121l23-20-20-17-23 19z"/><path fill="#eb3" d="M5476 1142l23-21-20-18-23 21z"/><path fill="#ec3" d="M5453 1164l23-22-20-18-23 22z"/><path fill="#ec3" d="M5430 1187l23-23-20-18-23 24z"/><path fill="#dd3" d="M5406 1212l24-25-20-17-24 24z"/><path fill="#dd3" d="M5382 1238l24-26-20-18-23 26z"/><path fill="#ce3" d="M5359 1265l23-27-19-18-24 27z"/><path fill="#ce3" d="M5335 1293l24-28-20-18-24 29z"/><path fill="#bf3" d="M5311 1322l24-29-20-17-23 29z"/><path fill="#af3" d="M5288 1353l23-31-19-17-24 30z"/><path fill="#9f4" d="M5264 1384l24-31-20-18-24 32z"/><path fill="#8f5" d="M5240 1417l24-33-20-17-23 32z"/><path fill="#6f6" d="M5217 1450l23-33-19-18-24 34z"/><path fill="#5f7" d="M5193 1485l24-35-20-17-24 35z"/><path fill="#4e8" d="M5169 1521l24-36-20-17-24 35z"/><path fill="#2ea" d="M5146 1558l23-37-20-18-23 37z"/><path fill="#2db" d="M5122 1596l24-38-20-18-24 38z"/><path fill="#1dc" d="M5098 1635l24-39-20-18-24 40z"/><path fill="#2cd" d="M5074 1675l24-40-20-17-23 40z"/><path fill="#3be" d="M5051 1717l23-42-19-17-24 41z"/><path fill="#3af" d="M5027 1759l24-42-20-18-24 43z"/><path fill="#48f" d="M5003 1803l24-44-20-17-23 43z"/><path fill="#2db" d="M6526 1239l17 19-20-18-17-19z"/><path fill="#2ea" d="M6509 1221l17 18-20-18-17-18z"/><path fill="#3e9" d="M6492 1203l17 18-20-18-17-18z"/><path fill="#4e8" d="M6474 1186l18 17-20-18-17-17z"/><path fill="#5f7" d="M6457 1169l17 17-19-18-18-17z"/><path fill="#6f6" d="M6440 1153l17 16-20-18-17-16z"/><path fill="#7f5" d="M6423 1137l17 16-20-18-17-16z"/><path fill="#8f5" d="M6405 1122l18 15-20-18-17-15z"/><path fill="#9f4" d="M6388 1108l17 14-19-18-18-14z"/><path fill="#9f4" d="M6371 1094l17 14-20-18-17-14z"/><path fill="#af3" d="M6354 1081l17 13-20-18-17-13z"/><path fill="#bf3" d="M6336 1068l18 13-20-18-17-13z"/><path fill="#be3" d="M6319 1056l17 12-19-18-18-12z"/><path fill="#ce3" d="M6302 1045l17 11-20-18-17-11z"/><path fill="#ce3" d="M6285 1034l17 11-20-18-17-11z"/><path fill="#dd3" d="M6268 1023l17 11-20-18-17-10z"/><path fill="#dd3" d="M6250 1014l18 9-20-17-17-10z"/><path fill="#dd3" d="M6233 1005l17 9-19-18-18-9z"/><path fill="#ec3" d="M6216 996l17 9-20-18-17-9z"/><path fill="#ec3" d="M6199 988l17 8-20-18-17-8z"/><path fill="#ec3" d="M6181 981l18 7-20-18-17-7z"/><path fill="#eb3" d="M6164 974l17 7-19-18-18-7z"/><path fill="#fb3" d="M6147 968l17 6-20-18-17-6z"/><path fill="#fb3" d="M6130 962l17 6-20-18-17-6z"/><path fill="#fb3" d="M6112 957l18 5-20-18-17-5z"/><path fill="#fa3" d="M6095 952l17 5-19-18-18-4z"/><path fill="#fa3" d="M6078 948l17 4-20-17-17-4z"/><path fill="#fa3" d="M6061 945l17 3-20-17-17-4z"/><path fill="#f93" d="M6044 942l17 3-20-18-17-2z"/><path fill="#f93" d="M6026 940l18 2-20-17-17-2z"/><path fill="#f93" d="M6009 939l17 1-19-17-18-2z"/><path fill="#f93" d="M5992 938l17 1-20-18-17-1z"/><path fill="#f92" d="M5975 937l17 1-20-18-17 0z"/><path fill="#f82" d="M5957 937l18 0-20-17-17 0z"/><path fill="#f82" d="M5940 938l17-1-19-17-18 1z"/><path fill="#f82" d="M5923 940l17-2-20-17-17 1z"/><path fill="#f82" d="M5906 942l17-2-20-18-17 2z"/><path fill="#f82" d="M5888 944l18-2-20-18-17 2z"/><path fill="#f82" d="M5871 947l17-3-19-18-18 4z"/><path fill="#f82" d="M5854 951l17-4-20-17-17 3z"/><path fill="#f82" d="M5836 955l18-4-20-18-18 5z"/><path fill="#f82" d="M5818 960l18-5-20-17-18 5z"/><path fill="#f82" d="M5800 966l18-6-20-17-17 5z"/><path fill="#f82" d="M5782 972l18-6-19-18-19 7z"/><path fill="#f82" d="M5764 980l18-8-20-17-18 7z"/><path fill="#f82" d="M5745 988l19-8-20-18-19 8z"/><path fill="#f82" d="M5726 996l19-8-20-18-18 9z"/><path fill="#f82" d="M5707 1006l19-10-19-17-20 9z"/><path fill="#f92" d="M5688 1016l19-10-20-18-19 11z"/><path fill="#f93" d="M5668 1028l20-12-20-17-20 11z"/><path fill="#f93" d="M5648 1040l20-12-20-18-20 12z"/><path fill="#f93" d="M5627 1054l21-14-20-18-20 14z"/><path fill="#fa3" d="M5606 1068l21-14-19-18-21 15z"/><path fill="#fa3" d="M5585 1084l21-16-19-17-22 15z"/><path fill="#fb3" d="M5563 1101l22-17-20-18-21 17z"/><path fill="#fb3" d="M5541 1119l22-18-19-18-22 18z"/><path fill="#fb3" d="M5519 1138l22-19-19-18-23 20z"/><path fill="#ec3" d="M5496 1159l23-21-20-17-23 21z"/><path fill="#ec3" d="M5473 1181l23-22-20-17-23 22z"/><path fill="#ed3" d="M5449 1205l24-24-20-17-23 23z"/><path fill="#dd3" d="M5426 1229l23-24-19-18-24 25z"/><path fill="#dd3" d="M5402 1255l24-26-20-17-24 26z"/><path fill="#ce3" d="M5379 1282l23-27-20-17-23 27z"/><path fill="#be3" d="M5355 1311l24-29-20-17-24 28z"/><path fill="#af3" d="M5331 1340l24-29-20-18-24 29z"/><path fill="#af4" d="M5307 1370l24-30-20-18-23 31z"/><path fill="#9f4" d="M5284 1402l23-32-19-17-24 31z"/><path fill="#8f5" d="M5260 1434l24-32-20-18-24 33z"/><path fill="#6f6" d="M5236 1468l24-34-20-17-23 33z"/><path fill="#5f7" d="M5213 1502l23-34-19-18-24 35z"/><path fill="#3e9" d="M5189 1538l24-36-20-17-24 36z"/><path fill="#2ea" d="M5165 1575l24-37-20-17-23 37z"/><path fill="#1db" d="M5142 1613l23-38-19-17-24 38z"/><path fill="#1dc" d="M5118 1652l24-39-20-17-24 39z"/><path fill="#2cd" d="M5094 1693l24-41-20-17-24 40z"/><path fill="#3be" d="M5071 1734l23-41-20-18-23 42z"/><path fill="#49f" d="M5047 1776l24-42-20-17-24 42z"/><path fill="#48f" d="M5023 1820l24-44-20-17-24 44z"/><path fill="#1db" d="M6546 1257l17 19-20-18-17-19z"/><path fill="#2ea" d="M6529 1239l17 18-20-18-17-18z"/><path fill="#2e9" d="M6511 1221l18 18-20-18-17-18z"/><path fill="#3e9" d="M6494 1203l17 18-19-18-18-17z"/><path fill="#4f8" d="M6477 1187l17 16-20-17-17-17z"/><path fill="#5f7" d="M6460 1171l17 16-20-18-17-16z"/><path fill="#6f6" d="M6442 1155l18 16-20-18-17-16z"/><path fill="#7f5" d="M6425 1140l17 15-19-18-18-15z"/><path fill="#8f4" d="M6408 1126l17 14-20-18-17-14z"/><path fill="#9f4" d="M6391 1112l17 14-20-18-17-14z"/><path fill="#af3" d="M6373 1099l18 13-20-18-17-13z"/><path fill="#af3" d="M6356 1086l17 13-19-18-18-13z"/><path fill="#be3" d="M6339 1074l17 12-20-18-17-12z"/><path fill="#be3" d="M6322 1062l17 12-20-18-17-11z"/><path fill="#ce3" d="M6305 1052l17 10-20-17-17-11z"/><path fill="#ce3" d="M6287 1041l18 11-20-18-17-11z"/><path fill="#dd3" d="M6270 1031l17 10-19-18-18-9z"/><path fill="#dd3" d="M6253 1022l17 9-20-17-17-9z"/><path fill="#ed3" d="M6236 1014l17 8-20-17-17-9z"/><path fill="#ec3" d="M6218 1006l18 8-20-18-17-8z"/><path fill="#ec3" d="M6201 998l17 8-19-18-18-7z"/><path fill="#ec3" d="M6184 992l17 6-20-17-17-7z"/><path fill="#eb3" d="M6167 985l17 7-20-18-17-6z"/><path fill="#fb3" d="M6150 980l17 5-20-17-17-6z"/><path fill="#fb3" d="M6132 975l18 5-20-18-18-5z"/><path fill="#fb3" d="M6115 970l17 5-20-18-17-5z"/><path fill="#fa3" d="M6098 966l17 4-20-18-17-4z"/><path fill="#fa3" d="M6081 963l17 3-20-18-17-3z"/><path fill="#fa3" d="M6063 960l18 3-20-18-17-3z"/><path fill="#f93" d="M6046 958l17 2-19-18-18-2z"/><path fill="#f93" d="M6029 956l17 2-20-18-17-1z"/><path fill="#f93" d="M6012 955l17 1-20-17-17-1z"/><path fill="#f93" d="M5994 955l18 0-20-17-17-1z"/><path fill="#f93" d="M5977 955l17 0-19-18-18 0z"/><path fill="#f92" d="M5960 956l17-1-20-18-17 1z"/><path fill="#f82" d="M5943 957l17-1-20-18-17 2z"/><path fill="#f82" d="M5926 959l17-2-20-17-17 2z"/><path fill="#f82" d="M5908 962l18-3-20-17-18 2z"/><path fill="#f82" d="M5891 965l17-3-20-18-17 3z"/><path fill="#f82" d="M5873 969l18-4-20-18-17 4z"/><path fill="#f82" d="M5856 973l17-4-19-18-18 4z"/><path fill="#f82" d="M5838 978l18-5-20-18-18 5z"/><path fill="#f82" d="M5820 984l18-6-20-18-18 6z"/><path fill="#f82" d="M5802 990l18-6-20-18-18 6z"/><path fill="#f82" d="M5784 997l18-7-20-18-18 8z"/><path fill="#f82" d="M5765 1005l19-8-20-17-19 8z"/><path fill="#f92" d="M5746 1014l19-9-20-17-19 8z"/><path fill="#f93" d="M5727 1023l19-9-20-18-19 10z"/><path fill="#f93" d="M5708 1034l19-11-20-17-19 10z"/><path fill="#f93" d="M5688 1045l20-11-20-18-20 12z"/><path fill="#f93" d="M5668 1058l20-13-20-17-20 12z"/><path fill="#fa3" d="M5647 1071l21-13-20-18-21 14z"/><path fill="#fa3" d="M5626 1086l21-15-20-17-21 14z"/><path fill="#fa3" d="M5605 1101l21-15-20-18-21 16z"/><path fill="#fb3" d="M5583 1118l22-17-20-17-22 17z"/><path fill="#fb3" d="M5561 1136l22-18-20-17-22 18z"/><path fill="#eb3" d="M5539 1156l22-20-20-17-22 19z"/><path fill="#ec3" d="M5516 1177l23-21-20-18-23 21z"/><path fill="#ec3" d="M5493 1199l23-22-20-18-23 22z"/><path fill="#dd3" d="M5469 1222l24-23-20-18-24 24z"/><path fill="#dd3" d="M5446 1247l23-25-20-17-23 24z"/><path fill="#ce3" d="M5422 1273l24-26-20-18-24 26z"/><path fill="#ce3" d="M5398 1300l24-27-20-18-23 27z"/><path fill="#be3" d="M5375 1328l23-28-19-18-24 29z"/><path fill="#af3" d="M5351 1357l24-29-20-17-24 29z"/><path fill="#9f4" d="M5327 1388l24-31-20-17-24 30z"/><path fill="#8f4" d="M5304 1419l23-31-20-18-23 32z"/><path fill="#7f5" d="M5280 1451l24-32-20-17-24 32z"/><path fill="#6f6" d="M5256 1485l24-34-20-17-24 34z"/><path fill="#4f8" d="M5232 1520l24-35-20-17-23 34z"/><path fill="#3e9" d="M5209 1556l23-36-19-18-24 36z"/><path fill="#2ea" d="M5185 1593l24-37-20-18-24 37z"/><path fill="#1db" d="M5161 1631l24-38-20-18-23 38z"/><path fill="#2cc" d="M5138 1670l23-39-19-18-24 39z"/><path fill="#2bd" d="M5114 1710l24-40-20-18-24 41z"/><path fill="#3ae" d="M5090 1751l24-41-20-17-23 41z"/><path fill="#49f" d="M5067 1794l23-43-19-17-24 42z"/><path fill="#48f" d="M5043 1837l24-43-20-18-24 44z"/><path fill="#1db" d="M6566 1275l17 19-20-18-17-19z"/><path fill="#2eb" d="M6548 1257l18 18-20-18-17-18z"/><path fill="#2ea" d="M6531 1239l17 18-19-18-18-18z"/><path fill="#3e9" d="M6514 1221l17 18-20-18-17-18z"/><path fill="#4f8" d="M6497 1205l17 16-20-18-17-16z"/><path fill="#5f7" d="M6479 1189l18 16-20-18-17-16z"/><path fill="#6f6" d="M6462 1173l17 16-19-18-18-16z"/><path fill="#7f5" d="M6445 1158l17 15-20-18-17-15z"/><path fill="#8f5" d="M6428 1144l17 14-20-18-17-14z"/><path fill="#9f4" d="M6410 1130l18 14-20-18-17-14z"/><path fill="#9f4" d="M6393 1117l17 13-19-18-18-13z"/><path fill="#af3" d="M6376 1104l17 13-20-18-17-13z"/><path fill="#bf3" d="M6359 1092l17 12-20-18-17-12z"/><path fill="#be3" d="M6342 1080l17 12-20-18-17-12z"/><path fill="#ce3" d="M6324 1069l18 11-20-18-17-10z"/><path fill="#ce3" d="M6307 1059l17 10-19-17-18-11z"/><path fill="#dd3" d="M6290 1049l17 10-20-18-17-10z"/><path fill="#dd3" d="M6273 1040l17 9-20-18-17-9z"/><path fill="#dd3" d="M6255 1032l18 8-20-18-17-8z"/><path fill="#ed3" d="M6238 1024l17 8-19-18-18-8z"/><path fill="#ec3" d="M6221 1016l17 8-20-18-17-8z"/><path fill="#ec3" d="M6204 1009l17 7-20-18-17-6z"/><path fill="#ec3" d="M6187 1003l17 6-20-17-17-7z"/><path fill="#fb3" d="M6169 997l18 6-20-18-17-5z"/><path fill="#fb3" d="M6152 992l17 5-19-17-18-5z"/><path fill="#fb3" d="M6135 988l17 4-20-17-17-5z"/><path fill="#fb3" d="M6118 984l17 4-20-18-17-4z"/><path fill="#fa3" d="M6100 981l18 3-20-18-17-3z"/><path fill="#fa3" d="M6083 978l17 3-19-18-18-3z"/><path fill="#fa3" d="M6066 976l17 2-20-18-17-2z"/><path fill="#fa3" d="M6049 974l17 2-20-18-17-2z"/><path fill="#f93" d="M6031 973l18 1-20-18-17-1z"/><path fill="#f93" d="M6014 973l17 0-19-18-18 0z"/><path fill="#f93" d="M5997 973l17 0-20-18-17 0z"/><path fill="#f93" d="M5980 974l17-1-20-18-17 1z"/><path fill="#f93" d="M5963 975l17-1-20-18-17 1z"/><path fill="#f92" d="M5945 977l18-2-20-18-17 2z"/><path fill="#f92" d="M5928 979l17-2-19-18-18 3z"/><path fill="#f82" d="M5911 983l17-4-20-17-17 3z"/><path fill="#f82" d="M5893 986l18-3-20-18-18 4z"/><path fill="#f82" d="M5876 991l17-5-20-17-17 4z"/><path fill="#f82" d="M5858 996l18-5-20-18-18 5z"/><path fill="#f82" d="M5840 1001l18-5-20-18-18 6z"/><path fill="#f92" d="M5822 1008l18-7-20-17-18 6z"/><path fill="#f92" d="M5803 1015l19-7-20-18-18 7z"/><path fill="#f93" d="M5785 1023l18-8-19-18-19 8z"/><path fill="#f93" d="M5766 1031l19-8-20-18-19 9z"/><path fill="#f93" d="M5747 1041l19-10-20-17-19 9z"/><path fill="#f93" d="M5727 1051l20-10-20-18-19 11z"/><path fill="#f93" d="M5708 1063l19-12-19-17-20 11z"/><path fill="#fa3" d="M5687 1075l21-12-20-18-20 13z"/><path fill="#fa3" d="M5667 1089l20-14-19-17-21 13z"/><path fill="#fa3" d="M5646 1103l21-14-20-18-21 15z"/><path fill="#fb3" d="M5625 1119l21-16-20-17-21 15z"/><path fill="#fb3" d="M5603 1136l22-17-20-18-22 17z"/><path fill="#fb3" d="M5581 1154l22-18-20-18-22 18z"/><path fill="#ec3" d="M5558 1173l23-19-20-18-22 20z"/><path fill="#ec3" d="M5536 1194l22-21-19-17-23 21z"/><path fill="#ed3" d="M5512 1216l24-22-20-17-23 22z"/><path fill="#dd3" d="M5489 1240l23-24-19-17-24 23z"/><path fill="#dd3" d="M5465 1264l24-24-20-18-23 25z"/><path fill="#ce3" d="M5442 1290l23-26-19-17-24 26z"/><path fill="#be3" d="M5418 1317l24-27-20-17-24 27z"/><path fill="#bf3" d="M5394 1345l24-28-20-17-23 28z"/><path fill="#af3" d="M5371 1375l23-30-19-17-24 29z"/><path fill="#9f4" d="M5347 1405l24-30-20-18-24 31z"/><path fill="#8f5" d="M5323 1436l24-31-20-17-23 31z"/><path fill="#7f6" d="M5300 1469l23-33-19-17-24 32z"/><path fill="#5f7" d="M5276 1503l24-34-20-18-24 34z"/><path fill="#4e8" d="M5252 1537l24-34-20-18-24 35z"/><path fill="#3e9" d="M5229 1573l23-36-20-17-23 36z"/><path fill="#2ea" d="M5205 1610l24-37-20-17-24 37z"/><path fill="#1db" d="M5181 1648l24-38-20-17-24 38z"/><path fill="#2cd" d="M5158 1687l23-39-20-17-23 39z"/><path fill="#2be" d="M5134 1727l24-40-20-17-24 40z"/><path fill="#3af" d="M5110 1769l24-42-20-17-24 41z"/><path fill="#49f" d="M5086 1811l24-42-20-18-23 43z"/><path fill="#48e" d="M5063 1855l23-44-19-17-24 43z"/><path fill="#1dc" d="M6585 1293l18 19-20-18-17-19z"/><path fill="#1db" d="M6568 1275l17 18-19-18-18-18z"/><path fill="#2ea" d="M6551 1257l17 18-20-18-17-18z"/><path fill="#3e9" d="M6534 1239l17 18-20-18-17-18z"/><path fill="#4e8" d="M6516 1223l18 16-20-18-17-16z"/><path fill="#5f7" d="M6499 1206l17 17-19-18-18-16z"/><path fill="#5f7" d="M6482 1191l17 15-20-17-17-16z"/><path fill="#6f6" d="M6465 1176l17 15-20-18-17-15z"/><path fill="#8f5" d="M6447 1161l18 15-20-18-17-14z"/><path fill="#8f4" d="M6430 1148l17 13-19-17-18-14z"/><path fill="#9f4" d="M6413 1134l17 14-20-18-17-13z"/><path fill="#af3" d="M6396 1122l17 12-20-17-17-13z"/><path fill="#af3" d="M6379 1110l17 12-20-18-17-12z"/><path fill="#be3" d="M6361 1098l18 12-20-18-17-12z"/><path fill="#be3" d="M6344 1087l17 11-19-18-18-11z"/><path fill="#ce3" d="M6327 1077l17 10-20-18-17-10z"/><path fill="#ce3" d="M6310 1067l17 10-20-18-17-10z"/><path fill="#dd3" d="M6292 1058l18 9-20-18-17-9z"/><path fill="#dd3" d="M6275 1049l17 9-19-18-18-8z"/><path fill="#dd3" d="M6258 1041l17 8-20-17-17-8z"/><path fill="#ec3" d="M6241 1034l17 7-20-17-17-8z"/><path fill="#ec3" d="M6224 1027l17 7-20-18-17-7z"/><path fill="#ec3" d="M6206 1021l18 6-20-18-17-6z"/><path fill="#ec3" d="M6189 1015l17 6-19-18-18-6z"/><path fill="#fb3" d="M6172 1010l17 5-20-18-17-5z"/><path fill="#fb3" d="M6155 1006l17 4-20-18-17-4z"/><path fill="#fb3" d="M6137 1002l18 4-20-18-17-4z"/><path fill="#fb3" d="M6120 998l17 4-19-18-18-3z"/><path fill="#fa3" d="M6103 996l17 2-20-17-17-3z"/><path fill="#fa3" d="M6086 994l17 2-20-18-17-2z"/><path fill="#fa3" d="M6068 992l18 2-20-18-17-2z"/><path fill="#fa3" d="M6051 991l17 1-19-18-18-1z"/><path fill="#f93" d="M6034 991l17 0-20-18-17 0z"/><path fill="#f93" d="M6017 991l17 0-20-18-17 0z"/><path fill="#f93" d="M6000 991l17 0-20-18-17 1z"/><path fill="#f93" d="M5982 993l18-2-20-17-17 1z"/><path fill="#f93" d="M5965 995l17-2-19-18-18 2z"/><path fill="#f93" d="M5948 997l17-2-20-18-17 2z"/><path fill="#f93" d="M5930 1000l18-3-20-18-17 4z"/><path fill="#f93" d="M5913 1004l17-4-19-17-18 3z"/><path fill="#f93" d="M5895 1008l18-4-20-18-17 5z"/><path fill="#f93" d="M5878 1013l17-5-19-17-18 5z"/><path fill="#f93" d="M5860 1019l18-6-20-17-18 5z"/><path fill="#f93" d="M5842 1025l18-6-20-18-18 7z"/><path fill="#f93" d="M5823 1033l19-8-20-17-19 7z"/><path fill="#f93" d="M5805 1040l18-7-20-18-18 8z"/><path fill="#f93" d="M5786 1049l19-9-20-17-19 8z"/><path fill="#f93" d="M5767 1059l19-10-20-18-19 10z"/><path fill="#fa3" d="M5747 1069l20-10-20-18-20 10z"/><path fill="#fa3" d="M5727 1080l20-11-20-18-19 12z"/><path fill="#fa3" d="M5707 1093l20-13-19-17-21 12z"/><path fill="#fa3" d="M5687 1106l20-13-20-18-20 14z"/><path fill="#fb3" d="M5666 1121l21-15-20-17-21 14z"/><path fill="#fb3" d="M5644 1137l22-16-20-18-21 16z"/><path fill="#fb3" d="M5623 1153l21-16-19-18-22 17z"/><path fill="#ec3" d="M5601 1172l22-19-20-17-22 18z"/><path fill="#ec3" d="M5578 1191l23-19-20-18-23 19z"/><path fill="#ec3" d="M5555 1212l23-21-20-18-22 21z"/><path fill="#dd3" d="M5532 1234l23-22-19-18-24 22z"/><path fill="#dd3" d="M5509 1257l23-23-20-18-23 24z"/><path fill="#ce3" d="M5485 1282l24-25-20-17-24 24z"/><path fill="#ce3" d="M5462 1308l23-26-20-18-23 26z"/><path fill="#be3" d="M5438 1335l24-27-20-18-24 27z"/><path fill="#af3" d="M5414 1363l24-28-20-18-24 28z"/><path fill="#af4" d="M5391 1392l23-29-20-18-23 30z"/><path fill="#9f4" d="M5367 1422l24-30-20-17-24 30z"/><path fill="#8f5" d="M5343 1454l24-32-20-17-24 31z"/><path fill="#6f6" d="M5319 1486l24-32-20-18-23 33z"/><path fill="#5f7" d="M5296 1520l23-34-19-17-24 34z"/><path fill="#3e9" d="M5272 1555l24-35-20-17-24 34z"/><path fill="#2ea" d="M5248 1590l24-35-20-18-23 36z"/><path fill="#2db" d="M5225 1627l23-37-19-17-24 37z"/><path fill="#1dc" d="M5201 1665l24-38-20-17-24 38z"/><path fill="#2cd" d="M5177 1705l24-40-20-17-23 39z"/><path fill="#2be" d="M5154 1745l23-40-19-18-24 40z"/><path fill="#3af" d="M5130 1786l24-41-20-18-24 42z"/><path fill="#49f" d="M5106 1828l24-42-20-17-24 42z"/><path fill="#47e" d="M5083 1872l23-44-20-17-23 44z"/><path fill="#1dc" d="M6605 1311l17 19-19-18-18-19z"/><path fill="#1db" d="M6588 1292l17 19-20-18-17-18z"/><path fill="#2ea" d="M6571 1275l17 17-20-17-17-18z"/><path fill="#2ea" d="M6553 1257l18 18-20-18-17-18z"/><path fill="#3e9" d="M6536 1241l17 16-19-18-18-16z"/><path fill="#4f8" d="M6519 1224l17 17-20-18-17-17z"/><path fill="#5f7" d="M6502 1209l17 15-20-18-17-15z"/><path fill="#6f6" d="M6485 1194l17 15-20-18-17-15z"/><path fill="#7f5" d="M6467 1179l18 15-20-18-18-15z"/><path fill="#8f5" d="M6450 1166l17 13-20-18-17-13z"/><path fill="#9f4" d="M6433 1152l17 14-20-18-17-14z"/><path fill="#9f4" d="M6416 1140l17 12-20-18-17-12z"/><path fill="#af3" d="M6398 1128l18 12-20-18-17-12z"/><path fill="#bf3" d="M6381 1116l17 12-19-18-18-12z"/><path fill="#be3" d="M6364 1105l17 11-20-18-17-11z"/><path fill="#ce3" d="M6347 1095l17 10-20-18-17-10z"/><path fill="#ce3" d="M6329 1085l18 10-20-18-17-10z"/><path fill="#ce3" d="M6312 1076l17 9-19-18-18-9z"/><path fill="#dd3" d="M6295 1067l17 9-20-18-17-9z"/><path fill="#dd3" d="M6278 1059l17 8-20-18-17-8z"/><path fill="#ed3" d="M6261 1052l17 7-20-18-17-7z"/><path fill="#ec3" d="M6243 1045l18 7-20-18-17-7z"/><path fill="#ec3" d="M6226 1039l17 6-19-18-18-6z"/><path fill="#ec3" d="M6209 1033l17 6-20-18-17-6z"/><path fill="#ec3" d="M6192 1028l17 5-20-18-17-5z"/><path fill="#fb3" d="M6174 1023l18 5-20-18-17-4z"/><path fill="#fb3" d="M6157 1020l17 3-19-17-18-4z"/><path fill="#fb3" d="M6140 1016l17 4-20-18-17-4z"/><path fill="#fb3" d="M6123 1013l17 3-20-18-17-2z"/><path fill="#fa3" d="M6105 1011l18 2-20-17-17-2z"/><path fill="#fa3" d="M6088 1010l17 1-19-17-18-2z"/><path fill="#fa3" d="M6071 1009l17 1-20-18-17-1z"/><path fill="#fa3" d="M6054 1008l17 1-20-18-17 0z"/><path fill="#fa3" d="M6037 1008l17 0-20-17-17 0z"/><path fill="#f93" d="M6019 1009l18-1-20-17-17 0z"/><path fill="#f93" d="M6002 1010l17-1-19-18-18 2z"/><path fill="#f93" d="M5985 1012l17-2-20-17-17 2z"/><path fill="#f93" d="M5968 1015l17-3-20-17-17 2z"/><path fill="#f93" d="M5950 1018l18-3-20-18-18 3z"/><path fill="#f93" d="M5933 1022l17-4-20-18-17 4z"/><path fill="#f93" d="M5915 1026l18-4-20-18-18 4z"/><path fill="#f93" d="M5897 1031l18-5-20-18-17 5z"/><path fill="#f93" d="M5879 1037l18-6-19-18-18 6z"/><path fill="#f93" d="M5861 1043l18-6-19-18-18 6z"/><path fill="#f93" d="M5843 1050l18-7-19-18-19 8z"/><path fill="#f93" d="M5824 1058l19-8-20-17-18 7z"/><path fill="#fa3" d="M5806 1067l18-9-19-18-19 9z"/><path fill="#fa3" d="M5786 1076l20-9-20-18-19 10z"/><path fill="#fa3" d="M5767 1087l19-11-19-17-20 10z"/><path fill="#fa3" d="M5747 1098l20-11-20-18-20 11z"/><path fill="#fa3" d="M5727 1110l20-12-20-18-20 13z"/><path fill="#fb3" d="M5706 1124l21-14-20-17-20 13z"/><path fill="#fb3" d="M5686 1138l20-14-19-18-21 15z"/><path fill="#fb3" d="M5664 1154l22-16-20-17-22 16z"/><path fill="#eb3" d="M5643 1171l21-17-20-17-21 16z"/><path fill="#ec3" d="M5620 1189l23-18-20-18-22 19z"/><path fill="#ec3" d="M5598 1209l22-20-19-17-23 19z"/><path fill="#ed3" d="M5575 1229l23-20-20-18-23 21z"/><path fill="#dd3" d="M5552 1251l23-22-20-17-23 22z"/><path fill="#dd3" d="M5529 1275l23-24-20-17-23 23z"/><path fill="#ce3" d="M5505 1299l24-24-20-18-24 25z"/><path fill="#ce3" d="M5481 1325l24-26-20-17-23 26z"/><path fill="#be3" d="M5458 1352l23-27-19-17-24 27z"/><path fill="#af3" d="M5434 1380l24-28-20-17-24 28z"/><path fill="#9f4" d="M5410 1410l24-30-20-17-23 29z"/><path fill="#8f4" d="M5387 1440l23-30-19-18-24 30z"/><path fill="#7f5" d="M5363 1471l24-31-20-18-24 32z"/><path fill="#6f6" d="M5339 1504l24-33-20-17-24 32z"/><path fill="#4f8" d="M5316 1537l23-33-20-18-23 34z"/><path fill="#3e9" d="M5292 1572l24-35-20-17-24 35z"/><path fill="#2ea" d="M5268 1608l24-36-20-17-24 35z"/><path fill="#1db" d="M5244 1645l24-37-20-18-23 37z"/><path fill="#1dc" d="M5221 1683l23-38-19-18-24 38z"/><path fill="#2cd" d="M5197 1722l24-39-20-18-24 40z"/><path fill="#3be" d="M5173 1762l24-40-20-17-23 40z"/><path fill="#39f" d="M5150 1803l23-41-19-17-24 41z"/><path fill="#48f" d="M5126 1846l24-43-20-17-24 42z"/><path fill="#47e" d="M5102 1889l24-43-20-18-23 44z"/><path fill="#2cc" d="M6625 1329l17 19-20-18-17-19z"/><path fill="#1db" d="M6608 1310l17 19-20-18-17-19z"/><path fill="#2db" d="M6590 1293l18 17-20-18-17-17z"/><path fill="#2ea" d="M6573 1275l17 18-19-18-18-18z"/><path fill="#3e9" d="M6556 1258l17 17-20-18-17-16z"/><path fill="#4e8" d="M6539 1242l17 16-20-17-17-17z"/><path fill="#5f7" d="M6522 1227l17 15-20-18-17-15z"/><path fill="#5f7" d="M6504 1212l18 15-20-18-17-15z"/><path fill="#7f6" d="M6487 1197l17 15-19-18-18-15z"/><path fill="#8f5" d="M6470 1183l17 14-20-18-17-13z"/><path fill="#8f4" d="M6453 1170l17 13-20-17-17-14z"/><path fill="#9f4" d="M6435 1157l18 13-20-18-17-12z"/><path fill="#af4" d="M6418 1145l17 12-19-17-18-12z"/><path fill="#af3" d="M6401 1134l17 11-20-17-17-12z"/><path fill="#be3" d="M6384 1123l17 11-20-18-17-11z"/><path fill="#be3" d="M6366 1113l18 10-20-18-17-10z"/><path fill="#ce3" d="M6349 1103l17 10-19-18-18-10z"/><path fill="#ce3" d="M6332 1094l17 9-20-18-17-9z"/><path fill="#dd3" d="M6315 1085l17 9-20-18-17-9z"/><path fill="#dd3" d="M6298 1077l17 8-20-18-17-8z"/><path fill="#dd3" d="M6280 1070l18 7-20-18-17-7z"/><path fill="#ed3" d="M6263 1063l17 7-19-18-18-7z"/><path fill="#ec3" d="M6246 1057l17 6-20-18-17-6z"/><path fill="#ec3" d="M6229 1051l17 6-20-18-17-6z"/><path fill="#ec3" d="M6211 1046l18 5-20-18-17-5z"/><path fill="#ec3" d="M6194 1041l17 5-19-18-18-5z"/><path fill="#fb3" d="M6177 1037l17 4-20-18-17-3z"/><path fill="#fb3" d="M6160 1034l17 3-20-17-17-4z"/><path fill="#fb3" d="M6142 1031l18 3-20-18-17-3z"/><path fill="#fb3" d="M6125 1029l17 2-19-18-18-2z"/><path fill="#fb3" d="M6108 1027l17 2-20-18-17-1z"/><path fill="#fa3" d="M6091 1026l17 1-20-17-17-1z"/><path fill="#fa3" d="M6074 1026l17 0-20-17-17-1z"/><path fill="#fa3" d="M6056 1026l18 0-20-18-17 0z"/><path fill="#fa3" d="M6039 1027l17-1-19-18-18 1z"/><path fill="#fa3" d="M6022 1028l17-1-20-18-17 1z"/><path fill="#fa3" d="M6005 1030l17-2-20-18-17 2z"/><path fill="#fa3" d="M5987 1033l18-3-20-18-17 3z"/><path fill="#f93" d="M5970 1036l17-3-19-18-18 3z"/><path fill="#f93" d="M5952 1039l18-3-20-18-17 4z"/><path fill="#f93" d="M5935 1044l17-5-19-17-18 4z"/><path fill="#f93" d="M5917 1049l18-5-20-18-18 5z"/><path fill="#f93" d="M5899 1054l18-5-20-18-18 6z"/><path fill="#fa3" d="M5881 1061l18-7-20-17-18 6z"/><path fill="#fa3" d="M5863 1068l18-7-20-18-18 7z"/><path fill="#fa3" d="M5844 1076l19-8-20-18-19 8z"/><path fill="#fa3" d="M5825 1084l19-8-20-18-18 9z"/><path fill="#fa3" d="M5806 1094l19-10-19-17-20 9z"/><path fill="#fa3" d="M5787 1104l19-10-20-18-19 11z"/><path fill="#fa3" d="M5767 1116l20-12-20-17-20 11z"/><path fill="#fb3" d="M5747 1128l20-12-20-18-20 12z"/><path fill="#fb3" d="M5726 1141l21-13-20-18-21 14z"/><path fill="#fb3" d="M5705 1156l21-15-20-17-20 14z"/><path fill="#eb3" d="M5684 1172l21-16-19-18-22 16z"/><path fill="#ec3" d="M5662 1189l22-17-20-18-21 17z"/><path fill="#ec3" d="M5640 1207l22-18-19-18-23 18z"/><path fill="#ec3" d="M5618 1226l22-19-20-18-22 20z"/><path fill="#dd3" d="M5595 1247l23-21-20-17-23 20z"/><path fill="#dd3" d="M5572 1269l23-22-20-18-23 22z"/><path fill="#ce3" d="M5548 1292l24-23-20-18-23 24z"/><path fill="#ce3" d="M5525 1317l23-25-19-17-24 24z"/><path fill="#be3" d="M5501 1343l24-26-20-18-24 26z"/><path fill="#bf3" d="M5477 1370l24-27-20-18-23 27z"/><path fill="#af3" d="M5454 1398l23-28-19-18-24 28z"/><path fill="#9f4" d="M5430 1427l24-29-20-18-24 30z"/><path fill="#8f5" d="M5406 1457l24-30-20-17-23 30z"/><path fill="#7f6" d="M5383 1489l23-32-19-17-24 31z"/><path fill="#5f7" d="M5359 1521l24-32-20-18-24 33z"/><path fill="#4f8" d="M5335 1555l24-34-20-17-23 33z"/><path fill="#3e9" d="M5312 1589l23-34-19-18-24 35z"/><path fill="#2ea" d="M5288 1625l24-36-20-17-24 36z"/><path fill="#1db" d="M5264 1662l24-37-20-17-24 37z"/><path fill="#2cc" d="M5241 1700l23-38-20-17-23 38z"/><path fill="#2bd" d="M5217 1739l24-39-20-17-24 39z"/><path fill="#3ae" d="M5193 1779l24-40-20-17-24 40z"/><path fill="#49f" d="M5169 1821l24-42-20-17-23 41z"/><path fill="#48f" d="M5146 1863l23-42-19-18-24 43z"/><path fill="#47e" d="M5122 1907l24-44-20-17-24 43z"/><path fill="#2cd" d="M6645 1347l17 19-20-18-17-19z"/><path fill="#1dc" d="M6627 1328l18 19-20-18-17-19z"/><path fill="#1db" d="M6610 1310l17 18-19-18-18-17z"/><path fill="#2ea" d="M6593 1293l17 17-20-17-17-18z"/><path fill="#2e9" d="M6576 1276l17 17-20-18-17-17z"/><path fill="#3e9" d="M6559 1260l17 16-20-18-17-16z"/><path fill="#4f8" d="M6541 1245l18 15-20-18-17-15z"/><path fill="#5f7" d="M6524 1230l17 15-19-18-18-15z"/><path fill="#6f6" d="M6507 1215l17 15-20-18-17-15z"/><path fill="#7f5" d="M6490 1201l17 14-20-18-17-14z"/><path fill="#8f5" d="M6472 1188l18 13-20-18-17-13z"/><path fill="#9f4" d="M6455 1175l17 13-19-18-18-13z"/><path fill="#9f4" d="M6438 1163l17 12-20-18-17-12z"/><path fill="#af3" d="M6421 1152l17 11-20-18-17-11z"/><path fill="#bf3" d="M6403 1141l18 11-20-18-17-11z"/><path fill="#be3" d="M6386 1130l17 11-19-18-18-10z"/><path fill="#be3" d="M6369 1121l17 9-20-17-17-10z"/><path fill="#ce3" d="M6352 1112l17 9-20-18-17-9z"/><path fill="#ce3" d="M6335 1103l17 9-20-18-17-9z"/><path fill="#dd3" d="M6317 1095l18 8-20-18-17-8z"/><path fill="#dd3" d="M6300 1087l17 8-19-18-18-7z"/><path fill="#dd3" d="M6283 1081l17 6-20-17-17-7z"/><path fill="#ed3" d="M6266 1074l17 7-20-18-17-6z"/><path fill="#ec3" d="M6248 1069l18 5-20-17-17-6z"/><path fill="#ec3" d="M6231 1064l17 5-19-18-18-5z"/><path fill="#ec3" d="M6214 1059l17 5-20-18-17-5z"/><path fill="#ec3" d="M6197 1055l17 4-20-18-17-4z"/><path fill="#fb3" d="M6180 1052l17 3-20-18-17-3z"/><path fill="#fb3" d="M6162 1049l18 3-20-18-18-3z"/><path fill="#fb3" d="M6145 1047l17 2-20-18-17-2z"/><path fill="#fb3" d="M6128 1045l17 2-20-18-17-2z"/><path fill="#fb3" d="M6111 1044l17 1-20-18-17-1z"/><path fill="#fa3" d="M6093 1044l18 0-20-18-17 0z"/><path fill="#fa3" d="M6076 1044l17 0-19-18-18 0z"/><path fill="#fa3" d="M6059 1045l17-1-20-18-17 1z"/><path fill="#fa3" d="M6042 1046l17-1-20-18-17 1z"/><path fill="#fa3" d="M6024 1048l18-2-20-18-17 2z"/><path fill="#fa3" d="M6007 1050l17-2-19-18-18 3z"/><path fill="#fa3" d="M5990 1053l17-3-20-17-17 3z"/><path fill="#fa3" d="M5972 1057l18-4-20-17-18 3z"/><path fill="#fa3" d="M5955 1061l17-4-20-18-17 5z"/><path fill="#fa3" d="M5937 1066l18-5-20-17-18 5z"/><path fill="#fa3" d="M5919 1072l18-6-20-17-18 5z"/><path fill="#fa3" d="M5901 1078l18-6-20-18-18 7z"/><path fill="#fa3" d="M5883 1085l18-7-20-17-18 7z"/><path fill="#fa3" d="M5864 1093l19-8-20-17-19 8z"/><path fill="#fa3" d="M5845 1102l19-9-20-17-19 8z"/><path fill="#fa3" d="M5826 1112l19-10-20-18-19 10z"/><path fill="#fb3" d="M5807 1122l19-10-20-18-19 10z"/><path fill="#fb3" d="M5787 1133l20-11-20-18-20 12z"/><path fill="#fb3" d="M5767 1146l20-13-20-17-20 12z"/><path fill="#fb3" d="M5746 1159l21-13-20-18-21 13z"/><path fill="#fb3" d="M5725 1174l21-15-20-18-21 15z"/><path fill="#ec3" d="M5704 1189l21-15-20-18-21 16z"/><path fill="#ec3" d="M5682 1206l22-17-20-17-22 17z"/><path fill="#ec3" d="M5660 1224l22-18-20-17-22 18z"/><path fill="#ed3" d="M5638 1244l22-20-20-17-22 19z"/><path fill="#dd3" d="M5615 1264l23-20-20-18-23 21z"/><path fill="#dd3" d="M5592 1286l23-22-20-17-23 22z"/><path fill="#ce3" d="M5568 1310l24-24-20-17-24 23z"/><path fill="#ce3" d="M5545 1334l23-24-20-18-23 25z"/><path fill="#be3" d="M5521 1360l24-26-20-17-24 26z"/><path fill="#af3" d="M5497 1387l24-27-20-17-24 27z"/><path fill="#9f4" d="M5474 1415l23-28-20-17-23 28z"/><path fill="#9f4" d="M5450 1445l24-30-20-17-24 29z"/><path fill="#8f5" d="M5426 1475l24-30-20-18-24 30z"/><path fill="#6f6" d="M5402 1506l24-31-20-18-23 32z"/><path fill="#5f7" d="M5379 1539l23-33-19-17-24 32z"/><path fill="#4e8" d="M5355 1572l24-33-20-18-24 34z"/><path fill="#2e9" d="M5331 1607l24-35-20-17-23 34z"/><path fill="#2eb" d="M5308 1643l23-36-19-18-24 36z"/><path fill="#1dc" d="M5284 1680l24-37-20-18-24 37z"/><path fill="#2cd" d="M5260 1718l24-38-20-18-23 38z"/><path fill="#2be" d="M5237 1757l23-39-19-18-24 39z"/><path fill="#3af" d="M5213 1797l24-40-20-18-24 40z"/><path fill="#49f" d="M5189 1838l24-41-20-18-24 42z"/><path fill="#48f" d="M5166 1880l23-42-20-17-23 42z"/><path fill="#46e" d="M5142 1924l24-44-20-17-24 44z"/><path fill="#2cd" d="M6664 1365l18 19-20-18-17-19z"/><path fill="#1dc" d="M6647 1346l17 19-19-18-18-19z"/><path fill="#1db" d="M6630 1328l17 18-20-18-17-18z"/><path fill="#2eb" d="M6613 1311l17 17-20-18-17-17z"/><path fill="#2ea" d="M6596 1294l17 17-20-18-17-17z"/><path fill="#3e9" d="M6578 1278l18 16-20-18-17-16z"/><path fill="#4e8" d="M6561 1263l17 15-19-18-18-15z"/><path fill="#5f7" d="M6544 1247l17 16-20-18-17-15z"/><path fill="#6f6" d="M6527 1233l17 14-20-17-17-15z"/><path fill="#7f6" d="M6509 1219l18 14-20-18-17-14z"/><path fill="#8f5" d="M6492 1206l17 13-19-18-18-13z"/><path fill="#8f4" d="M6475 1193l17 13-20-18-17-13z"/><path fill="#9f4" d="M6458 1181l17 12-20-18-17-12z"/><path fill="#af4" d="M6440 1170l18 11-20-18-17-11z"/><path fill="#af3" d="M6423 1159l17 11-19-18-18-11z"/><path fill="#bf3" d="M6406 1148l17 11-20-18-17-11z"/><path fill="#be3" d="M6389 1139l17 9-20-18-17-9z"/><path fill="#ce3" d="M6372 1129l17 10-20-18-17-9z"/><path fill="#ce3" d="M6354 1121l18 8-20-17-17-9z"/><path fill="#ce3" d="M6337 1113l17 8-19-18-18-8z"/><path fill="#dd3" d="M6320 1105l17 8-20-18-17-8z"/><path fill="#dd3" d="M6303 1098l17 7-20-18-17-6z"/><path fill="#dd3" d="M6285 1092l18 6-20-17-17-7z"/><path fill="#ed3" d="M6268 1086l17 6-19-18-18-5z"/><path fill="#ec3" d="M6251 1081l17 5-20-17-17-5z"/><path fill="#ec3" d="M6234 1077l17 4-20-17-17-5z"/><path fill="#ec3" d="M6217 1073l17 4-20-18-17-4z"/><path fill="#ec3" d="M6199 1069l18 4-20-18-17-3z"/><path fill="#fb3" d="M6182 1067l17 2-19-17-18-3z"/><path fill="#fb3" d="M6165 1065l17 2-20-18-17-2z"/><path fill="#fb3" d="M6148 1063l17 2-20-18-17-2z"/><path fill="#fb3" d="M6130 1062l18 1-20-18-17-1z"/><path fill="#fb3" d="M6113 1061l17 1-19-18-18 0z"/><path fill="#fb3" d="M6096 1062l17-1-20-17-17 0z"/><path fill="#fa3" d="M6079 1062l17 0-20-18-17 1z"/><path fill="#fa3" d="M6061 1064l18-2-20-17-17 1z"/><path fill="#fa3" d="M6044 1065l17-1-19-18-18 2z"/><path fill="#fa3" d="M6027 1068l17-3-20-17-17 2z"/><path fill="#fa3" d="M6010 1071l17-3-20-18-17 3z"/><path fill="#fa3" d="M5992 1075l18-4-20-18-18 4z"/><path fill="#fa3" d="M5974 1079l18-4-20-18-17 4z"/><path fill="#fa3" d="M5957 1084l17-5-19-18-18 5z"/><path fill="#fa3" d="M5939 1090l18-6-20-18-18 6z"/><path fill="#fa3" d="M5921 1096l18-6-20-18-18 6z"/><path fill="#fa3" d="M5902 1103l19-7-20-18-18 7z"/><path fill="#fa3" d="M5884 1111l18-8-19-18-19 8z"/><path fill="#fa3" d="M5865 1120l19-9-20-18-19 9z"/><path fill="#fb3" d="M5846 1129l19-9-20-18-19 10z"/><path fill="#fb3" d="M5826 1140l20-11-20-17-19 10z"/><path fill="#fb3" d="M5806 1151l20-11-19-18-20 11z"/><path fill="#fb3" d="M5786 1163l20-12-19-18-20 13z"/><path fill="#fb3" d="M5766 1177l20-14-19-17-21 13z"/><path fill="#ec3" d="M5745 1191l21-14-20-18-21 15z"/><path fill="#ec3" d="M5724 1207l21-16-20-17-21 15z"/><path fill="#ec3" d="M5702 1224l22-17-20-18-22 17z"/><path fill="#ed3" d="M5680 1242l22-18-20-18-22 18z"/><path fill="#dd3" d="M5657 1261l23-19-20-18-22 20z"/><path fill="#dd3" d="M5634 1282l23-21-19-17-23 20z"/><path fill="#ce3" d="M5611 1304l23-22-19-18-23 22z"/><path fill="#ce3" d="M5588 1327l23-23-19-18-24 24z"/><path fill="#be3" d="M5564 1352l24-25-20-17-23 24z"/><path fill="#bf3" d="M5541 1378l23-26-19-18-24 26z"/><path fill="#af3" d="M5517 1405l24-27-20-18-24 27z"/><path fill="#9f4" d="M5493 1433l24-28-20-18-23 28z"/><path fill="#8f4" d="M5470 1462l23-29-19-18-24 30z"/><path fill="#7f5" d="M5446 1492l24-30-20-17-24 30z"/><path fill="#6f6" d="M5422 1524l24-32-20-17-24 31z"/><path fill="#4f8" d="M5399 1556l23-32-20-18-23 33z"/><path fill="#3e9" d="M5375 1590l24-34-20-17-24 33z"/><path fill="#2ea" d="M5351 1624l24-34-20-18-24 35z"/><path fill="#1db" d="M5328 1660l23-36-20-17-23 36z"/><path fill="#1dc" d="M5304 1697l24-37-20-17-24 37z"/><path fill="#2cd" d="M5280 1735l24-38-20-17-24 38z"/><path fill="#2be" d="M5256 1774l24-39-20-17-23 39z"/><path fill="#3af" d="M5233 1814l23-40-19-17-24 40z"/><path fill="#49f" d="M5209 1855l24-41-20-17-24 41z"/><path fill="#47e" d="M5185 1898l24-43-20-17-23 42z"/><path fill="#46d" d="M5162 1941l23-43-19-18-24 44z"/><path fill="#2cd" d="M6684 1383l17 19-19-18-18-19z"/><path fill="#2cc" d="M6667 1364l17 19-20-18-17-19z"/><path fill="#1dc" d="M6650 1346l17 18-20-18-17-18z"/><path fill="#1db" d="M6633 1329l17 17-20-18-17-17z"/><path fill="#2ea" d="M6615 1312l18 17-20-18-17-17z"/><path fill="#3e9" d="M6598 1296l17 16-19-18-18-16z"/><path fill="#3e9" d="M6581 1280l17 16-20-18-17-15z"/><path fill="#4f8" d="M6564 1265l17 15-20-17-17-16z"/><path fill="#5f7" d="M6546 1251l18 14-20-18-17-14z"/><path fill="#6f6" d="M6529 1237l17 14-19-18-18-14z"/><path fill="#7f5" d="M6512 1224l17 13-20-18-17-13z"/><path fill="#8f5" d="M6495 1211l17 13-20-18-17-13z"/><path fill="#9f4" d="M6477 1199l18 12-20-18-17-12z"/><path fill="#9f4" d="M6460 1187l17 12-19-18-18-11z"/><path fill="#af3" d="M6443 1177l17 10-20-17-17-11z"/><path fill="#af3" d="M6426 1166l17 11-20-18-17-11z"/><path fill="#be3" d="M6409 1156l17 10-20-18-17-9z"/><path fill="#be3" d="M6391 1147l18 9-20-17-17-10z"/><path fill="#ce3" d="M6374 1139l17 8-19-18-18-8z"/><path fill="#ce3" d="M6357 1131l17 8-20-18-17-8z"/><path fill="#dd3" d="M6340 1123l17 8-20-18-17-8z"/><path fill="#dd3" d="M6322 1116l18 7-20-18-17-7z"/><path fill="#dd3" d="M6305 1110l17 6-19-18-18-6z"/><path fill="#dd3" d="M6288 1104l17 6-20-18-17-6z"/><path fill="#ed3" d="M6271 1099l17 5-20-18-17-5z"/><path fill="#ec3" d="M6254 1095l17 4-20-18-17-4z"/><path fill="#ec3" d="M6236 1091l18 4-20-18-17-4z"/><path fill="#ec3" d="M6219 1087l17 4-19-18-18-4z"/><path fill="#ec3" d="M6202 1084l17 3-20-18-17-2z"/><path fill="#eb3" d="M6185 1082l17 2-20-17-17-2z"/><path fill="#fb3" d="M6167 1081l18 1-20-17-17-2z"/><path fill="#fb3" d="M6150 1080l17 1-19-18-18-1z"/><path fill="#fb3" d="M6133 1079l17 1-20-18-17-1z"/><path fill="#fb3" d="M6116 1079l17 0-20-18-17 1z"/><path fill="#fb3" d="M6098 1080l18-1-20-17-17 0z"/><path fill="#fb3" d="M6081 1081l17-1-19-18-18 2z"/><path fill="#fb3" d="M6064 1083l17-2-20-17-17 1z"/><path fill="#fa3" d="M6047 1086l17-3-20-18-17 3z"/><path fill="#fa3" d="M6029 1089l18-3-20-18-17 3z"/><path fill="#fa3" d="M6012 1092l17-3-19-18-18 4z"/><path fill="#fa3" d="M5994 1097l18-5-20-17-18 4z"/><path fill="#fa3" d="M5976 1102l18-5-20-18-17 5z"/><path fill="#fa3" d="M5959 1107l17-5-19-18-18 6z"/><path fill="#fa3" d="M5940 1114l19-7-20-17-18 6z"/><path fill="#fb3" d="M5922 1121l18-7-19-18-19 7z"/><path fill="#fb3" d="M5904 1129l18-8-20-18-18 8z"/><path fill="#fb3" d="M5885 1137l19-8-20-18-19 9z"/><path fill="#fb3" d="M5866 1147l19-10-20-17-19 9z"/><path fill="#fb3" d="M5846 1157l20-10-20-18-20 11z"/><path fill="#fb3" d="M5826 1169l20-12-20-17-20 11z"/><path fill="#fb3" d="M5806 1181l20-12-20-18-20 12z"/><path fill="#ec3" d="M5786 1194l20-13-20-18-20 14z"/><path fill="#ec3" d="M5765 1209l21-15-20-17-21 14z"/><path fill="#ec3" d="M5743 1224l22-15-20-18-21 16z"/><path fill="#ec3" d="M5722 1241l21-17-19-17-22 17z"/><path fill="#dd3" d="M5700 1259l22-18-20-17-22 18z"/><path fill="#dd3" d="M5677 1279l23-20-20-17-23 19z"/><path fill="#dd3" d="M5654 1299l23-20-20-18-23 21z"/><path fill="#ce3" d="M5631 1321l23-22-20-17-23 22z"/><path fill="#ce3" d="M5608 1345l23-24-20-17-23 23z"/><path fill="#be3" d="M5584 1369l24-24-20-18-24 25z"/><path fill="#af3" d="M5560 1395l24-26-20-17-23 26z"/><path fill="#af4" d="M5537 1422l23-27-19-17-24 27z"/><path fill="#9f4" d="M5513 1450l24-28-20-17-24 28z"/><path fill="#8f5" d="M5489 1479l24-29-20-17-23 29z"/><path fill="#7f6" d="M5466 1510l23-31-19-17-24 30z"/><path fill="#5f7" d="M5442 1541l24-31-20-18-24 32z"/><path fill="#4f8" d="M5418 1574l24-33-20-17-23 32z"/><path fill="#3e9" d="M5395 1607l23-33-19-18-24 34z"/><path fill="#2ea" d="M5371 1642l24-35-20-17-24 34z"/><path fill="#1db" d="M5347 1677l24-35-20-18-23 36z"/><path fill="#1dc" d="M5324 1714l23-37-19-17-24 37z"/><path fill="#2cd" d="M5300 1752l24-38-20-17-24 38z"/><path fill="#3be" d="M5276 1791l24-39-20-17-24 39z"/><path fill="#3af" d="M5253 1832l23-41-20-17-23 40z"/><path fill="#48f" d="M5229 1873l24-41-20-18-24 41z"/><path fill="#47e" d="M5205 1915l24-42-20-18-24 43z"/><path fill="#46d" d="M5181 1959l24-44-20-17-23 43z"/><path fill="#2bd" d="M6704 1401l17 19-20-18-17-19z"/><path fill="#2cd" d="M6687 1382l17 19-20-18-17-19z"/><path fill="#1dc" d="M6670 1364l17 18-20-18-17-18z"/><path fill="#1db" d="M6652 1347l18 17-20-18-17-17z"/><path fill="#2ea" d="M6635 1330l17 17-19-18-18-17z"/><path fill="#2ea" d="M6618 1314l17 16-20-18-17-16z"/><path fill="#3e9" d="M6601 1298l17 16-20-18-17-16z"/><path fill="#4f8" d="M6583 1283l18 15-20-18-17-15z"/><path fill="#5f7" d="M6566 1269l17 14-19-18-18-14z"/><path fill="#6f6" d="M6549 1255l17 14-20-18-17-14z"/><path fill="#7f6" d="M6532 1242l17 13-20-18-17-13z"/><path fill="#8f5" d="M6515 1229l17 13-20-18-17-13z"/><path fill="#8f4" d="M6497 1217l18 12-20-18-18-12z"/><path fill="#9f4" d="M6480 1205l17 12-20-18-17-12z"/><path fill="#af4" d="M6463 1194l17 11-20-18-17-10z"/><path fill="#af3" d="M6446 1184l17 10-20-17-17-11z"/><path fill="#bf3" d="M6428 1174l18 10-20-18-17-10z"/><path fill="#be3" d="M6411 1165l17 9-19-18-18-9z"/><path fill="#be3" d="M6394 1156l17 9-20-18-17-8z"/><path fill="#ce3" d="M6377 1148l17 8-20-17-17-8z"/><path fill="#ce3" d="M6359 1141l18 7-20-17-17-8z"/><path fill="#dd3" d="M6342 1134l17 7-19-18-18-7z"/><path fill="#dd3" d="M6325 1128l17 6-20-18-17-6z"/><path fill="#dd3" d="M6308 1122l17 6-20-18-17-6z"/><path fill="#dd3" d="M6291 1117l17 5-20-18-17-5z"/><path fill="#ed3" d="M6273 1112l18 5-20-18-17-4z"/><path fill="#ec3" d="M6256 1108l17 4-19-17-18-4z"/><path fill="#ec3" d="M6239 1105l17 3-20-17-17-4z"/><path fill="#ec3" d="M6222 1102l17 3-20-18-17-3z"/><path fill="#ec3" d="M6204 1100l18 2-20-18-17-2z"/><path fill="#eb3" d="M6187 1098l17 2-19-18-18-1z"/><path fill="#fb3" d="M6170 1097l17 1-20-17-17-1z"/><path fill="#fb3" d="M6153 1097l17 0-20-17-17-1z"/><path fill="#fb3" d="M6135 1097l18 0-20-18-17 0z"/><path fill="#fb3" d="M6118 1098l17-1-19-18-18 1z"/><path fill="#fb3" d="M6101 1099l17-1-20-18-17 1z"/><path fill="#fb3" d="M6084 1101l17-2-20-18-17 2z"/><path fill="#fb3" d="M6066 1103l18-2-20-18-17 3z"/><path fill="#fb3" d="M6049 1106l17-3-19-17-18 3z"/><path fill="#fb3" d="M6032 1110l17-4-20-17-17 3z"/><path fill="#fb3" d="M6014 1114l18-4-20-18-18 5z"/><path fill="#fb3" d="M5996 1119l18-5-20-17-18 5z"/><path fill="#fb3" d="M5978 1125l18-6-20-17-17 5z"/><path fill="#fb3" d="M5960 1131l18-6-19-18-19 7z"/><path fill="#fb3" d="M5942 1138l18-7-20-17-18 7z"/><path fill="#fb3" d="M5923 1146l19-8-20-17-18 8z"/><path fill="#fb3" d="M5904 1155l19-9-19-17-19 8z"/><path fill="#fb3" d="M5885 1164l19-9-19-18-19 10z"/><path fill="#fb3" d="M5866 1175l19-11-19-17-20 10z"/><path fill="#eb3" d="M5846 1186l20-11-20-18-20 12z"/><path fill="#ec3" d="M5826 1198l20-12-20-17-20 12z"/><path fill="#ec3" d="M5805 1212l21-14-20-17-20 13z"/><path fill="#ec3" d="M5784 1226l21-14-19-18-21 15z"/><path fill="#ec3" d="M5763 1242l21-16-19-17-22 15z"/><path fill="#ed3" d="M5741 1259l22-17-20-18-21 17z"/><path fill="#dd3" d="M5719 1277l22-18-19-18-22 18z"/><path fill="#dd3" d="M5697 1296l22-19-19-18-23 20z"/><path fill="#ce3" d="M5674 1317l23-21-20-17-23 20z"/><path fill="#ce3" d="M5651 1339l23-22-20-18-23 22z"/><path fill="#be3" d="M5628 1362l23-23-20-18-23 24z"/><path fill="#be3" d="M5604 1387l24-25-20-17-24 24z"/><path fill="#af3" d="M5580 1413l24-26-20-18-24 26z"/><path fill="#9f4" d="M5557 1440l23-27-20-18-23 27z"/><path fill="#9f4" d="M5533 1468l24-28-20-18-24 28z"/><path fill="#7f5" d="M5509 1497l24-29-20-18-24 29z"/><path fill="#6f6" d="M5486 1527l23-30-20-18-23 31z"/><path fill="#5f7" d="M5462 1558l24-31-20-17-24 31z"/><path fill="#4e8" d="M5438 1591l24-33-20-17-24 33z"/><path fill="#3e9" d="M5414 1624l24-33-20-17-23 33z"/><path fill="#2ea" d="M5391 1659l23-35-19-17-24 35z"/><path fill="#1db" d="M5367 1695l24-36-20-17-24 35z"/><path fill="#2cc" d="M5343 1732l24-37-20-18-23 37z"/><path fill="#2bd" d="M5320 1770l23-38-19-18-24 38z"/><path fill="#3ae" d="M5296 1809l24-39-20-18-24 39z"/><path fill="#49f" d="M5272 1849l24-40-20-18-23 41z"/><path fill="#48f" d="M5249 1890l23-41-19-17-24 41z"/><path fill="#47e" d="M5225 1933l24-43-20-17-24 42z"/><path fill="#46c" d="M5201 1976l24-43-20-18-24 44z"/><path fill="#2be" d="M6724 1419l17 19-20-18-17-19z"/><path fill="#2cd" d="M6707 1400l17 19-20-18-17-19z"/><path fill="#2cc" d="M6689 1382l18 18-20-18-17-18z"/><path fill="#1db" d="M6672 1365l17 17-19-18-18-17z"/><path fill="#2db" d="M6655 1348l17 17-20-18-17-17z"/><path fill="#2ea" d="M6638 1332l17 16-20-18-17-16z"/><path fill="#3e9" d="M6620 1316l18 16-20-18-17-16z"/><path fill="#4e8" d="M6603 1301l17 15-19-18-18-15z"/><path fill="#4f8" d="M6586 1287l17 14-20-18-17-14z"/><path fill="#5f7" d="M6569 1273l17 14-20-18-17-14z"/><path fill="#6f6" d="M6552 1260l17 13-20-18-17-13z"/><path fill="#7f5" d="M6534 1247l18 13-20-18-17-13z"/><path fill="#8f5" d="M6517 1235l17 12-19-18-18-12z"/><path fill="#9f4" d="M6500 1223l17 12-20-18-17-12z"/><path fill="#9f4" d="M6483 1212l17 11-20-18-17-11z"/><path fill="#af3" d="M6465 1202l18 10-20-18-17-10z"/><path fill="#af3" d="M6448 1192l17 10-19-18-18-10z"/><path fill="#bf3" d="M6431 1183l17 9-20-18-17-9z"/><path fill="#be3" d="M6414 1174l17 9-20-18-17-9z"/><path fill="#ce3" d="M6396 1166l18 8-20-18-17-8z"/><path fill="#ce3" d="M6379 1159l17 7-19-18-18-7z"/><path fill="#ce3" d="M6362 1152l17 7-20-18-17-7z"/><path fill="#dd3" d="M6345 1146l17 6-20-18-17-6z"/><path fill="#dd3" d="M6328 1140l17 6-20-18-17-6z"/><path fill="#dd3" d="M6310 1135l18 5-20-18-17-5z"/><path fill="#dd3" d="M6293 1130l17 5-19-18-18-5z"/><path fill="#ed3" d="M6276 1126l17 4-20-18-17-4z"/><path fill="#ec3" d="M6259 1123l17 3-20-18-17-3z"/><path fill="#ec3" d="M6241 1120l18 3-20-18-17-3z"/><path fill="#ec3" d="M6224 1118l17 2-19-18-18-2z"/><path fill="#ec3" d="M6207 1116l17 2-20-18-17-2z"/><path fill="#ec3" d="M6190 1115l17 1-20-18-17-1z"/><path fill="#eb3" d="M6172 1115l18 0-20-18-17 0z"/><path fill="#fb3" d="M6155 1115l17 0-19-18-18 0z"/><path fill="#fb3" d="M6138 1115l17 0-20-18-17 1z"/><path fill="#fb3" d="M6121 1117l17-2-20-17-17 1z"/><path fill="#fb3" d="M6104 1119l17-2-20-18-17 2z"/><path fill="#fb3" d="M6086 1121l18-2-20-18-18 2z"/><path fill="#fb3" d="M6069 1124l17-3-20-18-17 3z"/><path fill="#fb3" d="M6051 1128l18-4-20-18-17 4z"/><path fill="#fb3" d="M6034 1132l17-4-19-18-18 4z"/><path fill="#fb3" d="M6016 1137l18-5-20-18-18 5z"/><path fill="#fb3" d="M5998 1143l18-6-20-18-18 6z"/><path fill="#fb3" d="M5980 1149l18-6-20-18-18 6z"/><path fill="#fb3" d="M5962 1156l18-7-20-18-18 7z"/><path fill="#fb3" d="M5943 1164l19-8-20-18-19 8z"/><path fill="#fb3" d="M5924 1173l19-9-20-18-19 9z"/><path fill="#fb3" d="M5905 1182l19-9-20-18-19 9z"/><path fill="#eb3" d="M5886 1192l19-10-20-18-19 11z"/><path fill="#ec3" d="M5866 1204l20-12-20-17-20 11z"/><path fill="#ec3" d="M5846 1216l20-12-20-18-20 12z"/><path fill="#ec3" d="M5825 1229l21-13-20-18-21 14z"/><path fill="#ec3" d="M5804 1244l21-15-20-17-21 14z"/><path fill="#ed3" d="M5783 1259l21-15-20-18-21 16z"/><path fill="#dd3" d="M5761 1276l22-17-20-17-22 17z"/><path fill="#dd3" d="M5739 1294l22-18-20-17-22 18z"/><path fill="#dd3" d="M5717 1314l22-20-20-17-22 19z"/><path fill="#ce3" d="M5694 1334l23-20-20-18-23 21z"/><path fill="#ce3" d="M5671 1357l23-23-20-17-23 22z"/><path fill="#be3" d="M5647 1380l24-23-20-18-23 23z"/><path fill="#bf3" d="M5624 1404l23-24-19-18-24 25z"/><path fill="#af3" d="M5600 1430l24-26-20-17-24 26z"/><path fill="#9f4" d="M5576 1457l24-27-20-17-23 27z"/><path fill="#8f4" d="M5553 1485l23-28-19-17-24 28z"/><path fill="#7f5" d="M5529 1514l24-29-20-17-24 29z"/><path fill="#6f6" d="M5505 1545l24-31-20-17-23 30z"/><path fill="#5f7" d="M5482 1576l23-31-19-18-24 31z"/><path fill="#3e9" d="M5458 1608l24-32-20-18-24 33z"/><path fill="#2ea" d="M5434 1642l24-34-20-17-24 33z"/><path fill="#2db" d="M5411 1677l23-35-20-18-23 35z"/><path fill="#1dc" d="M5387 1712l24-35-20-18-24 36z"/><path fill="#2cd" d="M5363 1749l24-37-20-17-24 37z"/><path fill="#2be" d="M5339 1787l24-38-20-17-23 38z"/><path fill="#3af" d="M5316 1826l23-39-19-17-24 39z"/><path fill="#49f" d="M5292 1866l24-40-20-17-24 40z"/><path fill="#48f" d="M5268 1908l24-42-20-17-23 41z"/><path fill="#47e" d="M5245 1950l23-42-19-18-24 43z"/><path fill="#45c" d="M5221 1993l24-43-20-17-24 43z"/><path fill="#2be" d="M6744 1437l17 19-20-18-17-19z"/><path fill="#2cd" d="M6726 1418l18 19-20-18-17-19z"/><path fill="#2cd" d="M6709 1400l17 18-19-18-18-18z"/><path fill="#1dc" d="M6692 1383l17 17-20-18-17-17z"/><path fill="#1db" d="M6675 1366l17 17-20-18-17-17z"/><path fill="#2ea" d="M6657 1350l18 16-20-18-17-16z"/><path fill="#2ea" d="M6640 1334l17 16-19-18-18-16z"/><path fill="#3e9" d="M6623 1319l17 15-20-18-17-15z"/><path fill="#4f8" d="M6606 1305l17 14-20-18-17-14z"/><path fill="#5f7" d="M6589 1291l17 14-20-18-17-14z"/><path fill="#6f6" d="M6571 1277l18 14-20-18-17-13z"/><path fill="#7f6" d="M6554 1265l17 12-19-17-18-13z"/><path fill="#8f5" d="M6537 1253l17 12-20-18-17-12z"/><path fill="#8f4" d="M6520 1241l17 12-20-18-17-12z"/><path fill="#9f4" d="M6502 1230l18 11-20-18-17-11z"/><path fill="#9f4" d="M6485 1220l17 10-19-18-18-10z"/><path fill="#af3" d="M6468 1210l17 10-20-18-17-10z"/><path fill="#af3" d="M6451 1201l17 9-20-18-17-9z"/><path fill="#be3" d="M6433 1192l18 9-20-18-17-9z"/><path fill="#be3" d="M6416 1184l17 8-19-18-18-8z"/><path fill="#ce3" d="M6399 1177l17 7-20-18-17-7z"/><path fill="#ce3" d="M6382 1170l17 7-20-18-17-7z"/><path fill="#ce3" d="M6365 1163l17 7-20-18-17-6z"/><path fill="#dd3" d="M6347 1158l18 5-20-17-17-6z"/><path fill="#dd3" d="M6330 1152l17 6-19-18-18-5z"/><path fill="#dd3" d="M6313 1148l17 4-20-17-17-5z"/><path fill="#dd3" d="M6296 1144l17 4-20-18-17-4z"/><path fill="#ed3" d="M6278 1141l18 3-20-18-17-3z"/><path fill="#ec3" d="M6261 1138l17 3-19-18-18-3z"/><path fill="#ec3" d="M6244 1136l17 2-20-18-17-2z"/><path fill="#ec3" d="M6227 1134l17 2-20-18-17-2z"/><path fill="#ec3" d="M6210 1133l17 1-20-18-17-1z"/><path fill="#ec3" d="M6192 1132l18 1-20-18-18 0z"/><path fill="#ec3" d="M6175 1132l17 0-20-17-17 0z"/><path fill="#eb3" d="M6158 1133l17-1-20-17-17 0z"/><path fill="#fb3" d="M6141 1134l17-1-20-18-17 2z"/><path fill="#fb3" d="M6123 1136l18-2-20-17-17 2z"/><path fill="#fb3" d="M6106 1139l17-3-19-17-18 2z"/><path fill="#fb3" d="M6089 1142l17-3-20-18-17 3z"/><path fill="#fb3" d="M6071 1145l18-3-20-18-18 4z"/><path fill="#fb3" d="M6054 1150l17-5-20-17-17 4z"/><path fill="#fb3" d="M6036 1155l18-5-20-18-18 5z"/><path fill="#fb3" d="M6018 1160l18-5-20-18-18 6z"/><path fill="#fb3" d="M6000 1167l18-7-20-17-18 6z"/><path fill="#fb3" d="M5981 1174l19-7-20-18-18 7z"/><path fill="#fb3" d="M5963 1181l18-7-19-18-19 8z"/><path fill="#eb3" d="M5944 1190l19-9-20-17-19 9z"/><path fill="#ec3" d="M5925 1200l19-10-20-17-19 9z"/><path fill="#ec3" d="M5905 1210l20-10-20-18-19 10z"/><path fill="#ec3" d="M5886 1221l19-11-19-18-20 12z"/><path fill="#ec3" d="M5865 1234l21-13-20-17-20 12z"/><path fill="#ec3" d="M5845 1247l20-13-19-18-21 13z"/><path fill="#ed3" d="M5824 1261l21-14-20-18-21 15z"/><path fill="#dd3" d="M5803 1277l21-16-20-17-21 15z"/><path fill="#dd3" d="M5781 1294l22-17-20-18-22 17z"/><path fill="#dd3" d="M5759 1312l22-18-20-18-22 18z"/><path fill="#ce3" d="M5736 1331l23-19-20-18-22 20z"/><path fill="#ce3" d="M5714 1352l22-21-19-17-23 20z"/><path fill="#be3" d="M5690 1374l24-22-20-18-23 23z"/><path fill="#be3" d="M5667 1397l23-23-19-17-24 23z"/><path fill="#af3" d="M5644 1422l23-25-20-17-23 24z"/><path fill="#9f4" d="M5620 1448l24-26-20-18-24 26z"/><path fill="#9f4" d="M5596 1475l24-27-20-18-24 27z"/><path fill="#8f5" d="M5572 1503l24-28-20-18-23 28z"/><path fill="#7f6" d="M5549 1532l23-29-19-18-24 29z"/><path fill="#5f7" d="M5525 1562l24-30-20-18-24 31z"/><path fill="#4f8" d="M5501 1593l24-31-20-17-23 31z"/><path fill="#3e9" d="M5478 1626l23-33-19-17-24 32z"/><path fill="#2ea" d="M5454 1659l24-33-20-18-24 34z"/><path fill="#1db" d="M5430 1694l24-35-20-17-23 35z"/><path fill="#1dc" d="M5407 1730l23-36-19-17-24 35z"/><path fill="#2cd" d="M5383 1767l24-37-20-18-24 37z"/><path fill="#2be" d="M5359 1804l24-37-20-18-24 38z"/><path fill="#3af" d="M5336 1843l23-39-20-17-23 39z"/><path fill="#49f" d="M5312 1884l24-41-20-17-24 40z"/><path fill="#48e" d="M5288 1925l24-41-20-18-24 42z"/><path fill="#46d" d="M5265 1967l23-42-20-17-23 42z"/><path fill="#45c" d="M5241 2011l24-44-20-17-24 43z"/><path fill="#3be" d="M6763 1455l18 19-20-18-17-19z"/><path fill="#2be" d="M6746 1436l17 19-19-18-18-19z"/><path fill="#2cd" d="M6729 1418l17 18-20-18-17-18z"/><path fill="#1dc" d="M6712 1401l17 17-20-18-17-17z"/><path fill="#1db" d="M6694 1384l18 17-20-18-17-17z"/><path fill="#2eb" d="M6677 1368l17 16-19-18-18-16z"/><path fill="#2ea" d="M6660 1352l17 16-20-18-17-16z"/><path fill="#3e9" d="M6643 1337l17 15-20-18-17-15z"/><path fill="#4e8" d="M6626 1323l17 14-20-18-17-14z"/><path fill="#4f8" d="M6608 1309l18 14-20-18-17-14z"/><path fill="#5f7" d="M6591 1295l17 14-19-18-18-14z"/><path fill="#6f6" d="M6574 1283l17 12-20-18-17-12z"/><path fill="#7f5" d="M6557 1271l17 12-20-18-17-12z"/><path fill="#8f5" d="M6539 1259l18 12-20-18-17-12z"/><path fill="#9f4" d="M6522 1248l17 11-19-18-18-11z"/><path fill="#9f4" d="M6505 1238l17 10-20-18-17-10z"/><path fill="#af4" d="M6488 1228l17 10-20-18-17-10z"/><path fill="#af3" d="M6470 1219l18 9-20-18-17-9z"/><path fill="#bf3" d="M6453 1210l17 9-19-18-18-9z"/><path fill="#be3" d="M6436 1202l17 8-20-18-17-8z"/><path fill="#be3" d="M6419 1194l17 8-20-18-17-7z"/><path fill="#ce3" d="M6402 1187l17 7-20-17-17-7z"/><path fill="#ce3" d="M6384 1181l18 6-20-17-17-7z"/><path fill="#ce3" d="M6367 1175l17 6-19-18-18-5z"/><path fill="#dd3" d="M6350 1170l17 5-20-17-17-6z"/><path fill="#dd3" d="M6333 1166l17 4-20-18-17-4z"/><path fill="#dd3" d="M6315 1162l18 4-20-18-17-4z"/><path fill="#dd3" d="M6298 1158l17 4-19-18-18-3z"/><path fill="#ed3" d="M6281 1156l17 2-20-17-17-3z"/><path fill="#ec3" d="M6264 1153l17 3-20-18-17-2z"/><path fill="#ec3" d="M6247 1152l17 1-20-17-17-2z"/><path fill="#ec3" d="M6229 1151l18 1-20-18-17-1z"/><path fill="#ec3" d="M6212 1150l17 1-19-18-18-1z"/><path fill="#ec3" d="M6195 1150l17 0-20-18-17 0z"/><path fill="#ec3" d="M6178 1151l17-1-20-18-17 1z"/><path fill="#ec3" d="M6160 1152l18-1-20-18-17 1z"/><path fill="#ec3" d="M6143 1154l17-2-19-18-18 2z"/><path fill="#eb3" d="M6126 1156l17-2-20-18-17 3z"/><path fill="#eb3" d="M6108 1159l18-3-20-17-17 3z"/><path fill="#eb3" d="M6091 1163l17-4-19-17-18 3z"/><path fill="#eb3" d="M6073 1167l18-4-20-18-17 5z"/><path fill="#eb3" d="M6056 1172l17-5-19-17-18 5z"/><path fill="#eb3" d="M6038 1178l18-6-20-17-18 5z"/><path fill="#eb3" d="M6020 1184l18-6-20-18-18 7z"/><path fill="#ec3" d="M6001 1191l19-7-20-17-19 7z"/><path fill="#ec3" d="M5983 1199l18-8-20-17-18 7z"/><path fill="#ec3" d="M5964 1208l19-9-20-18-19 9z"/><path fill="#ec3" d="M5945 1217l19-9-20-18-19 10z"/><path fill="#ec3" d="M5925 1228l20-11-20-17-20 10z"/><path fill="#ec3" d="M5905 1239l20-11-20-18-19 11z"/><path fill="#ec3" d="M5885 1251l20-12-19-18-21 13z"/><path fill="#ed3" d="M5865 1265l20-14-20-17-20 13z"/><path fill="#dd3" d="M5844 1279l21-14-20-18-21 14z"/><path fill="#dd3" d="M5823 1295l21-16-20-18-21 16z"/><path fill="#dd3" d="M5801 1311l22-16-20-18-22 17z"/><path fill="#dd3" d="M5779 1330l22-19-20-17-22 18z"/><path fill="#ce3" d="M5756 1349l23-19-20-18-23 19z"/><path fill="#ce3" d="M5733 1370l23-21-20-18-22 21z"/><path fill="#be3" d="M5710 1392l23-22-19-18-24 22z"/><path fill="#bf3" d="M5687 1415l23-23-20-18-23 23z"/><path fill="#af3" d="M5663 1439l24-24-20-18-23 25z"/><path fill="#9f4" d="M5640 1465l23-26-19-17-24 26z"/><path fill="#8f4" d="M5616 1492l24-27-20-17-24 27z"/><path fill="#7f5" d="M5592 1520l24-28-20-17-24 28z"/><path fill="#6f6" d="M5569 1549l23-29-20-17-23 29z"/><path fill="#5f7" d="M5545 1580l24-31-20-17-24 30z"/><path fill="#4e8" d="M5521 1611l24-31-20-18-24 31z"/><path fill="#3e9" d="M5497 1643l24-32-20-18-23 33z"/><path fill="#2ea" d="M5474 1677l23-34-19-17-24 33z"/><path fill="#1db" d="M5450 1711l24-34-20-18-24 35z"/><path fill="#2cc" d="M5426 1747l24-36-20-17-23 36z"/><path fill="#2cd" d="M5403 1784l23-37-19-17-24 37z"/><path fill="#3be" d="M5379 1822l24-38-20-17-24 37z"/><path fill="#3af" d="M5355 1861l24-39-20-18-23 39z"/><path fill="#48f" d="M5332 1901l23-40-19-18-24 41z"/><path fill="#47e" d="M5308 1942l24-41-20-17-24 41z"/><path fill="#46d" d="M5284 1985l24-43-20-17-23 42z"/><path fill="#45b" d="M5261 2028l23-43-19-18-24 44z"/><path fill="#3ae" d="M6783 1473l17 19-19-18-18-19z"/><path fill="#2be" d="M6766 1454l17 19-20-18-17-19z"/><path fill="#2cd" d="M6749 1436l17 18-20-18-17-18z"/><path fill="#2cc" d="M6731 1419l18 17-20-18-17-17z"/><path fill="#1dc" d="M6714 1402l17 17-19-18-18-17z"/><path fill="#1db" d="M6697 1386l17 16-20-18-17-16z"/><path fill="#2ea" d="M6680 1370l17 16-20-18-17-16z"/><path fill="#2e9" d="M6663 1355l17 15-20-18-17-15z"/><path fill="#3e9" d="M6645 1340l18 15-20-18-17-14z"/><path fill="#4f8" d="M6628 1327l17 13-19-17-18-14z"/><path fill="#5f7" d="M6611 1313l17 14-20-18-17-14z"/><path fill="#6f6" d="M6594 1301l17 12-20-18-17-12z"/><path fill="#7f6" d="M6576 1288l18 13-20-18-17-12z"/><path fill="#7f5" d="M6559 1277l17 11-19-17-18-12z"/><path fill="#8f4" d="M6542 1266l17 11-20-18-17-11z"/><path fill="#9f4" d="M6525 1255l17 11-20-18-17-10z"/><path fill="#9f4" d="M6507 1246l18 9-20-17-17-10z"/><path fill="#af3" d="M6490 1236l17 10-19-18-18-9z"/><path fill="#af3" d="M6473 1228l17 8-20-17-17-9z"/><path fill="#bf3" d="M6456 1220l17 8-20-18-17-8z"/><path fill="#be3" d="M6439 1212l17 8-20-18-17-8z"/><path fill="#be3" d="M6421 1205l18 7-20-18-17-7z"/><path fill="#ce3" d="M6404 1199l17 6-19-18-18-6z"/><path fill="#ce3" d="M6387 1193l17 6-20-18-17-6z"/><path fill="#ce3" d="M6370 1188l17 5-20-18-17-5z"/><path fill="#dd3" d="M6352 1183l18 5-20-18-17-4z"/><path fill="#dd3" d="M6335 1179l17 4-19-17-18-4z"/><path fill="#dd3" d="M6318 1176l17 3-20-17-17-4z"/><path fill="#dd3" d="M6301 1173l17 3-20-18-17-2z"/><path fill="#ed3" d="M6284 1171l17 2-20-17-17-3z"/><path fill="#ec3" d="M6266 1169l18 2-20-18-17-1z"/><path fill="#ec3" d="M6249 1168l17 1-19-17-18-1z"/><path fill="#ec3" d="M6232 1168l17 0-20-17-17-1z"/><path fill="#ec3" d="M6215 1168l17 0-20-18-17 0z"/><path fill="#ec3" d="M6197 1169l18-1-20-18-17 1z"/><path fill="#ec3" d="M6180 1170l17-1-19-18-18 1z"/><path fill="#ec3" d="M6163 1172l17-2-20-18-17 2z"/><path fill="#ec3" d="M6146 1174l17-2-20-18-17 2z"/><path fill="#ec3" d="M6128 1177l18-3-20-18-18 3z"/><path fill="#ec3" d="M6111 1181l17-4-20-18-17 4z"/><path fill="#ec3" d="M6093 1185l18-4-20-18-18 4z"/><path fill="#ec3" d="M6075 1190l18-5-20-18-17 5z"/><path fill="#ec3" d="M6057 1196l18-6-19-18-18 6z"/><path fill="#ec3" d="M6039 1202l18-6-19-18-18 6z"/><path fill="#ec3" d="M6021 1209l18-7-19-18-19 7z"/><path fill="#ec3" d="M6002 1217l19-8-20-18-18 8z"/><path fill="#ec3" d="M5984 1225l18-8-19-18-19 9z"/><path fill="#ec3" d="M5964 1235l20-10-20-17-19 9z"/><path fill="#ec3" d="M5945 1245l19-10-19-18-20 11z"/><path fill="#ec3" d="M5925 1257l20-12-20-17-20 11z"/><path fill="#ed3" d="M5905 1269l20-12-20-18-20 12z"/><path fill="#dd3" d="M5885 1282l20-13-20-18-20 14z"/><path fill="#dd3" d="M5864 1297l21-15-20-17-21 14z"/><path fill="#dd3" d="M5842 1312l22-15-20-18-21 16z"/><path fill="#dd3" d="M5821 1329l21-17-19-17-22 16z"/><path fill="#ce3" d="M5799 1347l22-18-20-18-22 19z"/><path fill="#ce3" d="M5776 1366l23-19-20-17-23 19z"/><path fill="#be3" d="M5753 1387l23-21-20-17-23 21z"/><path fill="#be3" d="M5730 1409l23-22-20-17-23 22z"/><path fill="#af3" d="M5707 1432l23-23-20-17-23 23z"/><path fill="#af4" d="M5683 1457l24-25-20-17-24 24z"/><path fill="#9f4" d="M5659 1483l24-26-20-18-23 26z"/><path fill="#8f5" d="M5636 1510l23-27-19-18-24 27z"/><path fill="#7f5" d="M5612 1538l24-28-20-18-24 28z"/><path fill="#6f6" d="M5588 1567l24-29-20-18-23 29z"/><path fill="#5f7" d="M5565 1597l23-30-19-18-24 31z"/><path fill="#3e9" d="M5541 1628l24-31-20-17-24 31z"/><path fill="#2ea" d="M5517 1661l24-33-20-17-24 32z"/><path fill="#2eb" d="M5494 1694l23-33-20-18-23 34z"/><path fill="#1db" d="M5470 1729l24-35-20-17-24 34z"/><path fill="#2cd" d="M5446 1764l24-35-20-18-24 36z"/><path fill="#2be" d="M5423 1801l23-37-20-17-23 37z"/><path fill="#3ae" d="M5399 1839l24-38-20-17-24 38z"/><path fill="#49f" d="M5375 1878l24-39-20-17-24 39z"/><path fill="#48f" d="M5351 1918l24-40-20-17-23 40z"/><path fill="#47e" d="M5328 1960l23-42-19-17-24 41z"/><path fill="#46d" d="M5304 2002l24-42-20-18-24 43z"/><path fill="#44b" d="M5280 2045l24-43-20-17-23 43z"/><path fill="#3af" d="M6803 1491l17 19-20-18-17-19z"/><path fill="#3be" d="M6786 1472l17 19-20-18-17-19z"/><path fill="#2bd" d="M6768 1454l18 18-20-18-17-18z"/><path fill="#2cd" d="M6751 1437l17 17-19-18-18-17z"/><path fill="#1dc" d="M6734 1420l17 17-20-18-17-17z"/><path fill="#1db" d="M6717 1404l17 16-20-18-17-16z"/><path fill="#2eb" d="M6700 1388l17 16-20-18-17-16z"/><path fill="#2ea" d="M6682 1373l18 15-20-18-17-15z"/><path fill="#3e9" d="M6665 1358l17 15-19-18-18-15z"/><path fill="#4e8" d="M6648 1344l17 14-20-18-17-13z"/><path fill="#4f8" d="M6631 1331l17 13-20-17-17-14z"/><path fill="#5f7" d="M6613 1318l18 13-20-18-17-12z"/><path fill="#6f6" d="M6596 1306l17 12-19-17-18-13z"/><path fill="#7f5" d="M6579 1295l17 11-20-18-17-11z"/><path fill="#8f5" d="M6562 1284l17 11-20-18-17-11z"/><path fill="#8f4" d="M6545 1273l17 11-20-18-17-11z"/><path fill="#9f4" d="M6527 1263l18 10-20-18-18-9z"/><path fill="#9f4" d="M6510 1254l17 9-20-17-17-10z"/><path fill="#af3" d="M6493 1246l17 8-20-18-17-8z"/><path fill="#af3" d="M6476 1237l17 9-20-18-17-8z"/><path fill="#be3" d="M6458 1230l18 7-20-17-17-8z"/><path fill="#be3" d="M6441 1223l17 7-19-18-18-7z"/><path fill="#ce3" d="M6424 1217l17 6-20-18-17-6z"/><path fill="#ce3" d="M6407 1211l17 6-20-18-17-6z"/><path fill="#ce3" d="M6389 1206l18 5-20-18-17-5z"/><path fill="#dd3" d="M6372 1201l17 5-19-18-18-5z"/><path fill="#dd3" d="M6355 1197l17 4-20-18-17-4z"/><path fill="#dd3" d="M6338 1194l17 3-20-18-17-3z"/><path fill="#dd3" d="M6321 1191l17 3-20-18-17-3z"/><path fill="#dd3" d="M6303 1189l18 2-20-18-17-2z"/><path fill="#ed3" d="M6286 1187l17 2-19-18-18-2z"/><path fill="#ed3" d="M6269 1186l17 1-20-18-17-1z"/><path fill="#ec3" d="M6252 1186l17 0-20-18-17 0z"/><path fill="#ec3" d="M6234 1186l18 0-20-18-17 0z"/><path fill="#ec3" d="M6217 1186l17 0-19-18-18 1z"/><path fill="#ec3" d="M6200 1188l17-2-20-17-17 1z"/><path fill="#ec3" d="M6183 1189l17-1-20-18-17 2z"/><path fill="#ec3" d="M6165 1192l18-3-20-17-17 2z"/><path fill="#ec3" d="M6148 1195l17-3-19-18-18 3z"/><path fill="#ec3" d="M6131 1198l17-3-20-18-17 4z"/><path fill="#ec3" d="M6113 1203l18-5-20-17-18 4z"/><path fill="#ec3" d="M6095 1208l18-5-20-18-18 5z"/><path fill="#ec3" d="M6077 1213l18-5-20-18-18 6z"/><path fill="#ec3" d="M6059 1220l18-7-20-17-18 6z"/><path fill="#ec3" d="M6041 1227l18-7-20-18-18 7z"/><path fill="#ec3" d="M6022 1234l19-7-20-18-19 8z"/><path fill="#ec3" d="M6003 1243l19-9-20-17-18 8z"/><path fill="#ec3" d="M5984 1252l19-9-19-18-20 10z"/><path fill="#ec3" d="M5965 1263l19-11-20-17-19 10z"/><path fill="#ed3" d="M5945 1274l20-11-20-18-20 12z"/><path fill="#dd3" d="M5925 1286l20-12-20-17-20 12z"/><path fill="#dd3" d="M5904 1300l21-14-20-17-20 13z"/><path fill="#dd3" d="M5883 1314l21-14-19-18-21 15z"/><path fill="#dd3" d="M5862 1330l21-16-19-17-22 15z"/><path fill="#ce3" d="M5840 1347l22-17-20-18-21 17z"/><path fill="#ce3" d="M5818 1365l22-18-19-18-22 18z"/><path fill="#ce3" d="M5796 1384l22-19-19-18-23 19z"/><path fill="#be3" d="M5773 1405l23-21-20-18-23 21z"/><path fill="#bf3" d="M5750 1427l23-22-20-18-23 22z"/><path fill="#af3" d="M5726 1450l24-23-20-18-23 23z"/><path fill="#9f4" d="M5703 1474l23-24-19-18-24 25z"/><path fill="#9f4" d="M5679 1500l24-26-20-17-24 26z"/><path fill="#8f5" d="M5656 1527l23-27-20-17-23 27z"/><path fill="#6f6" d="M5632 1555l24-28-20-17-24 28z"/><path fill="#5f7" d="M5608 1584l24-29-20-17-24 29z"/><path fill="#4f8" d="M5584 1614l24-30-20-17-23 30z"/><path fill="#3e9" d="M5561 1646l23-32-19-17-24 31z"/><path fill="#2ea" d="M5537 1678l24-32-20-18-24 33z"/><path fill="#1db" d="M5513 1712l24-34-20-17-23 33z"/><path fill="#1dc" d="M5490 1746l23-34-19-18-24 35z"/><path fill="#2cd" d="M5466 1782l24-36-20-17-24 35z"/><path fill="#2be" d="M5442 1819l24-37-20-18-23 37z"/><path fill="#3af" d="M5419 1857l23-38-19-18-24 38z"/><path fill="#49f" d="M5395 1896l24-39-20-18-24 39z"/><path fill="#48f" d="M5371 1936l24-40-20-18-24 40z"/><path fill="#47e" d="M5348 1977l23-41-20-18-23 42z"/><path fill="#45c" d="M5324 2019l24-42-20-17-24 42z"/><path fill="#44a" d="M5300 2063l24-44-20-17-24 43z"/><path fill="#3af" d="M6823 1509l17 19-20-18-17-19z"/><path fill="#3ae" d="M6805 1490l18 19-20-18-17-19z"/><path fill="#2be" d="M6788 1472l17 18-19-18-18-18z"/><path fill="#2cd" d="M6771 1455l17 17-20-18-17-17z"/><path fill="#2cc" d="M6754 1438l17 17-20-18-17-17z"/><path fill="#1db" d="M6737 1421l17 17-20-18-17-16z"/><path fill="#1db" d="M6719 1406l18 15-20-17-17-16z"/><path fill="#2ea" d="M6702 1391l17 15-19-18-18-15z"/><path fill="#2e9" d="M6685 1376l17 15-20-18-17-15z"/><path fill="#3e9" d="M6668 1362l17 14-20-18-17-14z"/><path fill="#4f8" d="M6650 1349l18 13-20-18-17-13z"/><path fill="#5f7" d="M6633 1336l17 13-19-18-18-13z"/><path fill="#6f6" d="M6616 1324l17 12-20-18-17-12z"/><path fill="#6f6" d="M6599 1313l17 11-20-18-17-11z"/><path fill="#7f5" d="M6582 1302l17 11-20-18-17-11z"/><path fill="#8f5" d="M6564 1291l18 11-20-18-17-11z"/><path fill="#9f4" d="M6547 1281l17 10-19-18-18-10z"/><path fill="#9f4" d="M6530 1272l17 9-20-18-17-9z"/><path fill="#af4" d="M6513 1263l17 9-20-18-17-8z"/><path fill="#af3" d="M6495 1255l18 8-20-17-17-9z"/><path fill="#bf3" d="M6478 1248l17 7-19-18-18-7z"/><path fill="#be3" d="M6461 1241l17 7-20-18-17-7z"/><path fill="#be3" d="M6444 1235l17 6-20-18-17-6z"/><path fill="#ce3" d="M6426 1229l18 6-20-18-17-6z"/><path fill="#ce3" d="M6409 1224l17 5-19-18-18-5z"/><path fill="#ce3" d="M6392 1219l17 5-20-18-17-5z"/><path fill="#ce3" d="M6375 1215l17 4-20-18-17-4z"/><path fill="#dd3" d="M6358 1212l17 3-20-18-17-3z"/><path fill="#dd3" d="M6340 1209l18 3-20-18-17-3z"/><path fill="#dd3" d="M6323 1207l17 2-19-18-18-2z"/><path fill="#dd3" d="M6306 1205l17 2-20-18-17-2z"/><path fill="#dd3" d="M6289 1204l17 1-20-18-17-1z"/><path fill="#ed3" d="M6271 1203l18 1-20-18-17 0z"/><path fill="#ed3" d="M6254 1203l17 0-19-17-18 0z"/><path fill="#ec3" d="M6237 1204l17-1-20-17-17 0z"/><path fill="#ec3" d="M6220 1205l17-1-20-18-17 2z"/><path fill="#ec3" d="M6202 1207l18-2-20-17-17 1z"/><path fill="#ec3" d="M6185 1209l17-2-19-18-18 3z"/><path fill="#ec3" d="M6168 1212l17-3-20-17-17 3z"/><path fill="#ec3" d="M6150 1216l18-4-20-17-17 3z"/><path fill="#ec3" d="M6133 1220l17-4-19-18-18 5z"/><path fill="#ec3" d="M6115 1225l18-5-20-17-18 5z"/><path fill="#ec3" d="M6097 1231l18-6-20-17-18 5z"/><path fill="#ec3" d="M6079 1237l18-6-20-18-18 7z"/><path fill="#ec3" d="M6061 1244l18-7-20-17-18 7z"/><path fill="#ec3" d="M6042 1252l19-8-20-17-19 7z"/><path fill="#ec3" d="M6023 1261l19-9-20-18-19 9z"/><path fill="#ed3" d="M6004 1270l19-9-20-18-19 9z"/><path fill="#ed3" d="M5985 1280l19-10-20-18-19 11z"/><path fill="#dd3" d="M5965 1292l20-12-20-17-20 11z"/><path fill="#dd3" d="M5945 1304l20-12-20-18-20 12z"/><path fill="#dd3" d="M5924 1317l21-13-20-18-21 14z"/><path fill="#dd3" d="M5903 1332l21-15-20-17-21 14z"/><path fill="#ce3" d="M5882 1347l21-15-20-18-21 16z"/><path fill="#ce3" d="M5860 1364l22-17-20-17-22 17z"/><path fill="#ce3" d="M5838 1382l22-18-20-17-22 18z"/><path fill="#be3" d="M5816 1401l22-19-20-17-22 19z"/><path fill="#be3" d="M5793 1422l23-21-20-17-23 21z"/><path fill="#af3" d="M5770 1444l23-22-20-17-23 22z"/><path fill="#af4" d="M5746 1467l24-23-20-17-24 23z"/><path fill="#9f4" d="M5723 1492l23-25-20-17-23 24z"/><path fill="#8f4" d="M5699 1518l24-26-20-18-24 26z"/><path fill="#7f5" d="M5675 1545l24-27-20-18-23 27z"/><path fill="#6f6" d="M5652 1573l23-28-19-18-24 28z"/><path fill="#5f7" d="M5628 1602l24-29-20-18-24 29z"/><path fill="#4e8" d="M5604 1632l24-30-20-18-24 30z"/><path fill="#3e9" d="M5581 1663l23-31-20-18-23 32z"/><path fill="#2ea" d="M5557 1696l24-33-20-17-24 32z"/><path fill="#1db" d="M5533 1729l24-33-20-18-24 34z"/><path fill="#1dc" d="M5509 1764l24-35-20-17-23 34z"/><path fill="#2cd" d="M5486 1799l23-35-19-18-24 36z"/><path fill="#3be" d="M5462 1836l24-37-20-17-24 37z"/><path fill="#3af" d="M5438 1874l24-38-20-17-23 38z"/><path fill="#49f" d="M5415 1913l23-39-19-17-24 39z"/><path fill="#48e" d="M5391 1953l24-40-20-17-24 40z"/><path fill="#46e" d="M5367 1994l24-41-20-17-23 41z"/><path fill="#45c" d="M5344 2037l23-43-19-17-24 42z"/><path fill="#44a" d="M5320 2080l24-43-20-18-24 44z"/><path fill="#39f" d="M6843 1526l17 20-20-18-17-19z"/><path fill="#3af" d="M6825 1508l18 18-20-17-18-19z"/><path fill="#2be" d="M6808 1490l17 18-20-18-17-18z"/><path fill="#2cd" d="M6791 1472l17 18-20-18-17-17z"/><path fill="#2cd" d="M6774 1456l17 16-20-17-17-17z"/><path fill="#1dc" d="M6756 1439l18 17-20-18-17-17z"/><path fill="#1db" d="M6739 1424l17 15-19-18-18-15z"/><path fill="#2ea" d="M6722 1409l17 15-20-18-17-15z"/><path fill="#2ea" d="M6705 1394l17 15-20-18-17-15z"/><path fill="#3e9" d="M6687 1380l18 14-20-18-17-14z"/><path fill="#4e8" d="M6670 1367l17 13-19-18-18-13z"/><path fill="#4f8" d="M6653 1354l17 13-20-18-17-13z"/><path fill="#5f7" d="M6636 1342l17 12-20-18-17-12z"/><path fill="#6f6" d="M6619 1330l17 12-20-18-17-11z"/><path fill="#7f5" d="M6601 1319l18 11-20-17-17-11z"/><path fill="#8f5" d="M6584 1309l17 10-19-17-18-11z"/><path fill="#8f4" d="M6567 1299l17 10-20-18-17-10z"/><path fill="#9f4" d="M6550 1290l17 9-20-18-17-9z"/><path fill="#9f4" d="M6532 1281l18 9-20-18-17-9z"/><path fill="#af3" d="M6515 1273l17 8-19-18-18-8z"/><path fill="#af3" d="M6498 1266l17 7-20-18-17-7z"/><path fill="#bf3" d="M6481 1259l17 7-20-18-17-7z"/><path fill="#be3" d="M6463 1252l18 7-20-18-17-6z"/><path fill="#be3" d="M6446 1247l17 5-19-17-18-6z"/><path fill="#ce3" d="M6429 1241l17 6-20-18-17-5z"/><path fill="#ce3" d="M6412 1237l17 4-20-17-17-5z"/><path fill="#ce3" d="M6395 1233l17 4-20-18-17-4z"/><path fill="#ce3" d="M6377 1229l18 4-20-18-17-3z"/><path fill="#dd3" d="M6360 1227l17 2-19-17-18-3z"/><path fill="#dd3" d="M6343 1224l17 3-20-18-17-2z"/><path fill="#dd3" d="M6326 1223l17 1-20-17-17-2z"/><path fill="#dd3" d="M6308 1221l18 2-20-18-17-1z"/><path fill="#dd3" d="M6291 1221l17 0-19-17-18-1z"/><path fill="#dd3" d="M6274 1221l17 0-20-18-17 0z"/><path fill="#ed3" d="M6257 1222l17-1-20-18-17 1z"/><path fill="#ed3" d="M6240 1223l17-1-20-18-17 1z"/><path fill="#ec3" d="M6222 1225l18-2-20-18-18 2z"/><path fill="#ec3" d="M6205 1227l17-2-20-18-17 2z"/><path fill="#ec3" d="M6188 1230l17-3-20-18-17 3z"/><path fill="#ec3" d="M6170 1234l18-4-20-18-18 4z"/><path fill="#ec3" d="M6153 1238l17-4-20-18-17 4z"/><path fill="#ec3" d="M6135 1243l18-5-20-18-18 5z"/><path fill="#ec3" d="M6117 1249l18-6-20-18-18 6z"/><path fill="#ec3" d="M6099 1255l18-6-20-18-18 6z"/><path fill="#ec3" d="M6080 1262l19-7-20-18-18 7z"/><path fill="#ed3" d="M6062 1270l18-8-19-18-19 8z"/><path fill="#ed3" d="M6043 1278l19-8-20-18-19 9z"/><path fill="#dd3" d="M6024 1288l19-10-20-17-19 9z"/><path fill="#dd3" d="M6004 1298l20-10-20-18-19 10z"/><path fill="#dd3" d="M5985 1309l19-11-19-18-20 12z"/><path fill="#dd3" d="M5964 1322l21-13-20-17-20 12z"/><path fill="#dd3" d="M5944 1335l20-13-19-18-21 13z"/><path fill="#ce3" d="M5923 1349l21-14-20-18-21 15z"/><path fill="#ce3" d="M5902 1365l21-16-20-17-21 15z"/><path fill="#ce3" d="M5880 1382l22-17-20-18-22 17z"/><path fill="#be3" d="M5858 1400l22-18-20-18-22 18z"/><path fill="#be3" d="M5835 1419l23-19-20-18-22 19z"/><path fill="#bf3" d="M5813 1440l22-21-19-18-23 21z"/><path fill="#af3" d="M5789 1462l24-22-20-18-23 22z"/><path fill="#9f4" d="M5766 1485l23-23-19-18-24 23z"/><path fill="#9f4" d="M5742 1509l24-24-20-18-23 25z"/><path fill="#8f5" d="M5719 1535l23-26-19-17-24 26z"/><path fill="#7f6" d="M5695 1562l24-27-20-17-24 27z"/><path fill="#5f7" d="M5671 1590l24-28-20-17-23 28z"/><path fill="#4f8" d="M5648 1619l23-29-19-17-24 29z"/><path fill="#3e9" d="M5624 1649l24-30-20-17-24 30z"/><path fill="#2ea" d="M5600 1681l24-32-20-17-23 31z"/><path fill="#2eb" d="M5577 1713l23-32-19-18-24 33z"/><path fill="#1db" d="M5553 1746l24-33-20-17-24 33z"/><path fill="#2cc" d="M5529 1781l24-35-20-17-24 35z"/><path fill="#2bd" d="M5506 1817l23-36-20-17-23 35z"/><path fill="#3be" d="M5482 1853l24-36-20-18-24 37z"/><path fill="#3af" d="M5458 1891l24-38-20-17-24 38z"/><path fill="#48f" d="M5434 1930l24-39-20-17-23 39z"/><path fill="#47e" d="M5411 1970l23-40-19-17-24 40z"/><path fill="#46d" d="M5387 2012l24-42-20-17-24 41z"/><path fill="#45b" d="M5363 2054l24-42-20-18-23 43z"/><path fill="#439" d="M5340 2097l23-43-19-17-24 43z"/><path fill="#49f" d="M6862 1544l18 20-20-18-17-20z"/><path fill="#3af" d="M6845 1526l17 18-19-18-18-18z"/><path fill="#3be" d="M6828 1508l17 18-20-18-17-18z"/><path fill="#2be" d="M6811 1490l17 18-20-18-17-18z"/><path fill="#2cd" d="M6793 1474l18 16-20-18-17-16z"/><path fill="#1dc" d="M6776 1457l17 17-19-18-18-17z"/><path fill="#1db" d="M6759 1442l17 15-20-18-17-15z"/><path fill="#2db" d="M6742 1427l17 15-20-18-17-15z"/><path fill="#2ea" d="M6724 1412l18 15-20-18-17-15z"/><path fill="#2e9" d="M6707 1398l17 14-19-18-18-14z"/><path fill="#3e9" d="M6690 1385l17 13-20-18-17-13z"/><path fill="#4f8" d="M6673 1372l17 13-20-18-17-13z"/><path fill="#5f7" d="M6656 1360l17 12-20-18-17-12z"/><path fill="#5f7" d="M6638 1348l18 12-20-18-17-12z"/><path fill="#6f6" d="M6621 1337l17 11-19-18-18-11z"/><path fill="#7f5" d="M6604 1327l17 10-20-18-17-10z"/><path fill="#8f5" d="M6587 1317l17 10-20-18-17-10z"/><path fill="#9f4" d="M6569 1308l18 9-20-18-17-9z"/><path fill="#9f4" d="M6552 1299l17 9-19-18-18-9z"/><path fill="#9f4" d="M6535 1291l17 8-20-18-17-8z"/><path fill="#af3" d="M6518 1283l17 8-20-18-17-7z"/><path fill="#af3" d="M6500 1276l18 7-20-17-17-7z"/><path fill="#bf3" d="M6483 1270l17 6-19-17-18-7z"/><path fill="#be3" d="M6466 1264l17 6-20-18-17-5z"/><path fill="#be3" d="M6449 1259l17 5-20-17-17-6z"/><path fill="#ce3" d="M6432 1255l17 4-20-18-17-4z"/><path fill="#ce3" d="M6414 1251l18 4-20-18-17-4z"/><path fill="#ce3" d="M6397 1247l17 4-19-18-18-4z"/><path fill="#ce3" d="M6380 1244l17 3-20-18-17-2z"/><path fill="#dd3" d="M6363 1242l17 2-20-17-17-3z"/><path fill="#dd3" d="M6345 1240l18 2-20-18-17-1z"/><path fill="#dd3" d="M6328 1239l17 1-19-17-18-2z"/><path fill="#dd3" d="M6311 1239l17 0-20-18-17 0z"/><path fill="#dd3" d="M6294 1239l17 0-20-18-17 0z"/><path fill="#dd3" d="M6277 1239l17 0-20-18-17 1z"/><path fill="#dd3" d="M6259 1241l18-2-20-17-17 1z"/><path fill="#ed3" d="M6242 1242l17-1-19-18-18 2z"/><path fill="#ed3" d="M6225 1245l17-3-20-17-17 2z"/><path fill="#ed3" d="M6207 1248l18-3-20-18-17 3z"/><path fill="#ed3" d="M6190 1251l17-3-19-18-18 4z"/><path fill="#ed3" d="M6172 1256l18-5-20-17-17 4z"/><path fill="#ed3" d="M6155 1261l17-5-19-18-18 5z"/><path fill="#ed3" d="M6137 1266l18-5-20-18-18 6z"/><path fill="#ed3" d="M6119 1272l18-6-20-17-18 6z"/><path fill="#ed3" d="M6100 1280l19-8-20-17-19 7z"/><path fill="#dd3" d="M6082 1287l18-7-20-18-18 8z"/><path fill="#dd3" d="M6063 1296l19-9-20-17-19 8z"/><path fill="#dd3" d="M6044 1305l19-9-20-18-19 10z"/><path fill="#dd3" d="M6024 1316l20-11-20-17-20 10z"/><path fill="#dd3" d="M6004 1327l20-11-20-18-19 11z"/><path fill="#dd3" d="M5984 1339l20-12-19-18-21 13z"/><path fill="#dd3" d="M5964 1352l20-13-20-17-20 13z"/><path fill="#ce3" d="M5943 1367l21-15-20-17-21 14z"/><path fill="#ce3" d="M5921 1382l22-15-20-18-21 16z"/><path fill="#ce3" d="M5900 1399l21-17-19-17-22 17z"/><path fill="#be3" d="M5878 1417l22-18-20-17-22 18z"/><path fill="#bf3" d="M5855 1437l23-20-20-17-23 19z"/><path fill="#af3" d="M5832 1457l23-20-20-18-22 21z"/><path fill="#af4" d="M5809 1479l23-22-19-17-24 22z"/><path fill="#9f4" d="M5786 1502l23-23-20-17-23 23z"/><path fill="#8f4" d="M5762 1527l24-25-20-17-24 24z"/><path fill="#7f5" d="M5739 1553l23-26-20-18-23 26z"/><path fill="#6f6" d="M5715 1580l24-27-20-18-24 27z"/><path fill="#5f7" d="M5691 1608l24-28-20-18-24 28z"/><path fill="#4f8" d="M5667 1637l24-29-20-18-23 29z"/><path fill="#3e9" d="M5644 1667l23-30-19-18-24 30z"/><path fill="#2ea" d="M5620 1698l24-31-20-18-24 32z"/><path fill="#2db" d="M5596 1730l24-32-20-17-23 32z"/><path fill="#1dc" d="M5573 1764l23-34-19-17-24 33z"/><path fill="#2cd" d="M5549 1798l24-34-20-18-24 35z"/><path fill="#2be" d="M5525 1834l24-36-20-17-23 36z"/><path fill="#3ae" d="M5502 1871l23-37-19-17-24 36z"/><path fill="#49f" d="M5478 1909l24-38-20-18-24 38z"/><path fill="#48f" d="M5454 1948l24-39-20-18-24 39z"/><path fill="#47e" d="M5431 1988l23-40-20-18-23 40z"/><path fill="#46d" d="M5407 2029l24-41-20-18-24 42z"/><path fill="#45b" d="M5383 2071l24-42-20-17-24 42z"/><path fill="#439" d="M5360 2115l23-44-20-17-23 43z"/><path fill="#49f" d="M6882 1562l17 20-19-18-18-20z"/><path fill="#3af" d="M6865 1544l17 18-20-18-17-18z"/><path fill="#3ae" d="M6848 1526l17 18-20-18-17-18z"/><path fill="#2be" d="M6830 1508l18 18-20-18-17-18z"/><path fill="#2cd" d="M6813 1492l17 16-19-18-18-16z"/><path fill="#2cc" d="M6796 1475l17 17-20-18-17-17z"/><path fill="#1dc" d="M6779 1460l17 15-20-18-17-15z"/><path fill="#1db" d="M6761 1444l18 16-20-18-17-15z"/><path fill="#2ea" d="M6744 1430l17 14-19-17-18-15z"/><path fill="#2ea" d="M6727 1416l17 14-20-18-17-14z"/><path fill="#3e9" d="M6710 1403l17 13-20-18-17-13z"/><path fill="#4e8" d="M6693 1390l17 13-20-18-17-13z"/><path fill="#4f8" d="M6675 1378l18 12-20-18-17-12z"/><path fill="#5f7" d="M6658 1366l17 12-19-18-18-12z"/><path fill="#6f6" d="M6641 1355l17 11-20-18-17-11z"/><path fill="#7f6" d="M6624 1345l17 10-20-18-17-10z"/><path fill="#7f5" d="M6606 1335l18 10-20-18-17-10z"/><path fill="#8f4" d="M6589 1326l17 9-19-18-18-9z"/><path fill="#9f4" d="M6572 1317l17 9-20-18-17-9z"/><path fill="#9f4" d="M6555 1309l17 8-20-18-17-8z"/><path fill="#af4" d="M6538 1301l17 8-20-18-17-8z"/><path fill="#af3" d="M6520 1294l18 7-20-18-18-7z"/><path fill="#af3" d="M6503 1288l17 6-20-18-17-6z"/><path fill="#bf3" d="M6486 1282l17 6-20-18-17-6z"/><path fill="#be3" d="M6469 1277l17 5-20-18-17-5z"/><path fill="#be3" d="M6451 1272l18 5-20-18-17-4z"/><path fill="#ce3" d="M6434 1268l17 4-19-17-18-4z"/><path fill="#ce3" d="M6417 1265l17 3-20-17-17-4z"/><path fill="#ce3" d="M6400 1262l17 3-20-18-17-3z"/><path fill="#ce3" d="M6382 1260l18 2-20-18-17-2z"/><path fill="#dd3" d="M6365 1258l17 2-19-18-18-2z"/><path fill="#dd3" d="M6348 1257l17 1-20-18-17-1z"/><path fill="#dd3" d="M6331 1256l17 1-20-18-17 0z"/><path fill="#dd3" d="M6314 1256l17 0-20-17-17 0z"/><path fill="#dd3" d="M6296 1257l18-1-20-17-17 0z"/><path fill="#dd3" d="M6279 1258l17-1-19-18-18 2z"/><path fill="#dd3" d="M6262 1260l17-2-20-17-17 1z"/><path fill="#dd3" d="M6245 1263l17-3-20-18-17 3z"/><path fill="#dd3" d="M6227 1266l18-3-20-18-18 3z"/><path fill="#dd3" d="M6210 1269l17-3-20-18-17 3z"/><path fill="#dd3" d="M6192 1273l18-4-20-18-18 5z"/><path fill="#dd3" d="M6174 1278l18-5-20-17-17 5z"/><path fill="#dd3" d="M6156 1284l18-6-19-17-18 5z"/><path fill="#dd3" d="M6138 1290l18-6-19-18-18 6z"/><path fill="#dd3" d="M6120 1297l18-7-19-18-19 8z"/><path fill="#dd3" d="M6101 1305l19-8-20-17-18 7z"/><path fill="#dd3" d="M6083 1314l18-9-19-18-19 9z"/><path fill="#dd3" d="M6063 1323l20-9-20-18-19 9z"/><path fill="#dd3" d="M6044 1333l19-10-19-18-20 11z"/><path fill="#dd3" d="M6024 1345l20-12-20-17-20 11z"/><path fill="#ce3" d="M6004 1357l20-12-20-18-20 12z"/><path fill="#ce3" d="M5983 1370l21-13-20-18-20 13z"/><path fill="#ce3" d="M5963 1384l20-14-19-18-21 15z"/><path fill="#ce3" d="M5941 1400l22-16-20-17-22 15z"/><path fill="#be3" d="M5920 1417l21-17-20-18-21 17z"/><path fill="#be3" d="M5897 1435l23-18-20-18-22 18z"/><path fill="#af3" d="M5875 1454l22-19-19-18-23 20z"/><path fill="#af3" d="M5852 1475l23-21-20-17-23 20z"/><path fill="#9f4" d="M5829 1497l23-22-20-18-23 22z"/><path fill="#9f4" d="M5806 1520l23-23-20-18-23 23z"/><path fill="#8f5" d="M5782 1544l24-24-20-18-24 25z"/><path fill="#7f5" d="M5758 1570l24-26-20-17-23 26z"/><path fill="#6f6" d="M5735 1597l23-27-19-17-24 27z"/><path fill="#5f7" d="M5711 1625l24-28-20-17-24 28z"/><path fill="#4e8" d="M5687 1654l24-29-20-17-24 29z"/><path fill="#3e9" d="M5664 1684l23-30-20-17-23 30z"/><path fill="#2ea" d="M5640 1715l24-31-20-17-24 31z"/><path fill="#1db" d="M5616 1748l24-33-20-17-24 32z"/><path fill="#1dc" d="M5593 1781l23-33-20-18-23 34z"/><path fill="#2cd" d="M5569 1816l24-35-20-17-24 34z"/><path fill="#2be" d="M5545 1852l24-36-20-18-24 36z"/><path fill="#3af" d="M5521 1888l24-36-20-18-23 37z"/><path fill="#49f" d="M5498 1926l23-38-19-17-24 38z"/><path fill="#48f" d="M5474 1965l24-39-20-17-24 39z"/><path fill="#47e" d="M5450 2005l24-40-20-17-23 40z"/><path fill="#46c" d="M5427 2046l23-41-19-17-24 41z"/><path fill="#44a" d="M5403 2089l24-43-20-17-24 42z"/><path fill="#438" d="M5379 2132l24-43-20-18-23 44z"/><path fill="#49f" d="M6902 1580l17 20-20-18-17-20z"/><path fill="#49f" d="M6885 1562l17 18-20-18-17-18z"/><path fill="#3af" d="M6867 1544l18 18-20-18-17-18z"/><path fill="#3be" d="M6850 1526l17 18-19-18-18-18z"/><path fill="#2bd" d="M6833 1509l17 17-20-18-17-16z"/><path fill="#2cd" d="M6816 1493l17 16-20-17-17-17z"/><path fill="#1dc" d="M6798 1477l18 16-20-18-17-15z"/><path fill="#1db" d="M6781 1462l17 15-19-17-18-16z"/><path fill="#2db" d="M6764 1448l17 14-20-18-17-14z"/><path fill="#2ea" d="M6747 1434l17 14-20-18-17-14z"/><path fill="#2e9" d="M6730 1421l17 13-20-18-17-13z"/><path fill="#3e9" d="M6712 1408l18 13-20-18-17-13z"/><path fill="#4f8" d="M6695 1396l17 12-19-18-18-12z"/><path fill="#5f7" d="M6678 1384l17 12-20-18-17-12z"/><path fill="#5f7" d="M6661 1373l17 11-20-18-17-11z"/><path fill="#6f6" d="M6643 1363l18 10-20-18-17-10z"/><path fill="#7f5" d="M6626 1353l17 10-19-18-18-10z"/><path fill="#8f5" d="M6609 1343l17 10-20-18-17-9z"/><path fill="#8f4" d="M6592 1335l17 8-20-17-17-9z"/><path fill="#9f4" d="M6575 1327l17 8-20-18-17-8z"/><path fill="#9f4" d="M6557 1319l18 8-20-18-17-8z"/><path fill="#af3" d="M6540 1312l17 7-19-18-18-7z"/><path fill="#af3" d="M6523 1306l17 6-20-18-17-6z"/><path fill="#af3" d="M6506 1300l17 6-20-18-17-6z"/><path fill="#be3" d="M6488 1295l18 5-20-18-17-5z"/><path fill="#be3" d="M6471 1290l17 5-19-18-18-5z"/><path fill="#be3" d="M6454 1286l17 4-20-18-17-4z"/><path fill="#ce3" d="M6437 1283l17 3-20-18-17-3z"/><path fill="#ce3" d="M6419 1280l18 3-20-18-17-3z"/><path fill="#ce3" d="M6402 1278l17 2-19-18-18-2z"/><path fill="#ce3" d="M6385 1276l17 2-20-18-17-2z"/><path fill="#ce3" d="M6368 1275l17 1-20-18-17-1z"/><path fill="#dd3" d="M6351 1274l17 1-20-18-17-1z"/><path fill="#dd3" d="M6333 1274l18 0-20-18-17 0z"/><path fill="#dd3" d="M6316 1275l17-1-19-18-18 1z"/><path fill="#dd3" d="M6299 1276l17-1-20-18-17 1z"/><path fill="#dd3" d="M6282 1278l17-2-20-18-17 2z"/><path fill="#dd3" d="M6264 1280l18-2-20-18-17 3z"/><path fill="#dd3" d="M6247 1283l17-3-19-17-18 3z"/><path fill="#dd3" d="M6229 1287l18-4-20-17-17 3z"/><path fill="#dd3" d="M6212 1291l17-4-19-18-18 4z"/><path fill="#dd3" d="M6194 1296l18-5-20-18-18 5z"/><path fill="#dd3" d="M6176 1302l18-6-20-18-18 6z"/><path fill="#dd3" d="M6158 1308l18-6-20-18-18 6z"/><path fill="#dd3" d="M6140 1315l18-7-20-18-18 7z"/><path fill="#dd3" d="M6121 1323l19-8-20-18-19 8z"/><path fill="#dd3" d="M6102 1331l19-8-20-18-18 9z"/><path fill="#dd3" d="M6083 1341l19-10-19-17-20 9z"/><path fill="#dd3" d="M6064 1351l19-10-20-18-19 10z"/><path fill="#ce3" d="M6044 1362l20-11-20-18-20 12z"/><path fill="#ce3" d="M6024 1374l20-12-20-17-20 12z"/><path fill="#ce3" d="M6003 1388l21-14-20-17-21 13z"/><path fill="#ce3" d="M5982 1402l21-14-20-18-20 14z"/><path fill="#be3" d="M5961 1418l21-16-19-18-22 16z"/><path fill="#be3" d="M5939 1434l22-16-20-18-21 17z"/><path fill="#bf3" d="M5917 1452l22-18-19-17-23 18z"/><path fill="#af3" d="M5895 1472l22-20-20-17-22 19z"/><path fill="#af4" d="M5872 1492l23-20-20-18-23 21z"/><path fill="#9f4" d="M5849 1514l23-22-20-17-23 22z"/><path fill="#8f4" d="M5825 1537l24-23-20-17-23 23z"/><path fill="#8f5" d="M5802 1562l23-25-19-17-24 24z"/><path fill="#6f6" d="M5778 1588l24-26-20-18-24 26z"/><path fill="#5f7" d="M5754 1615l24-27-20-18-23 27z"/><path fill="#4f8" d="M5731 1642l23-27-19-18-24 28z"/><path fill="#3e9" d="M5707 1672l24-30-20-17-24 29z"/><path fill="#2ea" d="M5683 1702l24-30-20-18-23 30z"/><path fill="#2ea" d="M5660 1733l23-31-19-18-24 31z"/><path fill="#1db" d="M5636 1765l24-32-20-18-24 33z"/><path fill="#2cc" d="M5612 1799l24-34-20-17-23 33z"/><path fill="#2cd" d="M5589 1833l23-34-19-18-24 35z"/><path fill="#3be" d="M5565 1869l24-36-20-17-24 36z"/><path fill="#3af" d="M5541 1906l24-37-20-17-24 36z"/><path fill="#49f" d="M5518 1944l23-38-20-18-23 38z"/><path fill="#48f" d="M5494 1982l24-38-20-18-24 39z"/><path fill="#46e" d="M5470 2023l24-41-20-17-24 40z"/><path fill="#45c" d="M5446 2064l24-41-20-18-23 41z"/><path fill="#44a" d="M5423 2106l23-42-19-18-24 43z"/><path fill="#337" d="M5399 2149l24-43-20-17-24 43z"/><path fill="#48f" d="M6922 1598l17 20-20-18-17-20z"/><path fill="#49f" d="M6904 1580l18 18-20-18-17-18z"/><path fill="#3af" d="M6887 1562l17 18-19-18-18-18z"/><path fill="#3ae" d="M6870 1544l17 18-20-18-17-18z"/><path fill="#2be" d="M6853 1527l17 17-20-18-17-17z"/><path fill="#2cd" d="M6835 1511l18 16-20-18-17-16z"/><path fill="#2cc" d="M6818 1495l17 16-19-18-18-16z"/><path fill="#1dc" d="M6801 1480l17 15-20-18-17-15z"/><path fill="#1db" d="M6784 1466l17 14-20-18-17-14z"/><path fill="#2ea" d="M6767 1452l17 14-20-18-17-14z"/><path fill="#2ea" d="M6749 1438l18 14-20-18-17-13z"/><path fill="#3e9" d="M6732 1426l17 12-19-17-18-13z"/><path fill="#4e8" d="M6715 1413l17 13-20-18-17-12z"/><path fill="#4f8" d="M6698 1402l17 11-20-17-17-12z"/><path fill="#5f7" d="M6680 1391l18 11-20-18-17-11z"/><path fill="#6f6" d="M6663 1380l17 11-19-18-18-10z"/><path fill="#7f6" d="M6646 1371l17 9-20-17-17-10z"/><path fill="#7f5" d="M6629 1361l17 10-20-18-17-10z"/><path fill="#8f5" d="M6612 1353l17 8-20-18-17-8z"/><path fill="#8f4" d="M6594 1344l18 9-20-18-17-8z"/><path fill="#9f4" d="M6577 1337l17 7-19-17-18-8z"/><path fill="#9f4" d="M6560 1330l17 7-20-18-17-7z"/><path fill="#af3" d="M6543 1324l17 6-20-18-17-6z"/><path fill="#af3" d="M6525 1318l18 6-20-18-17-6z"/><path fill="#bf3" d="M6508 1313l17 5-19-18-18-5z"/><path fill="#be3" d="M6491 1308l17 5-20-18-17-5z"/><path fill="#be3" d="M6474 1304l17 4-20-18-17-4z"/><path fill="#be3" d="M6456 1300l18 4-20-18-17-3z"/><path fill="#ce3" d="M6439 1298l17 2-19-17-18-3z"/><path fill="#ce3" d="M6422 1295l17 3-20-18-17-2z"/><path fill="#ce3" d="M6405 1294l17 1-20-17-17-2z"/><path fill="#ce3" d="M6388 1292l17 2-20-18-17-1z"/><path fill="#ce3" d="M6370 1292l18 0-20-17-17-1z"/><path fill="#dd3" d="M6353 1292l17 0-19-18-18 0z"/><path fill="#dd3" d="M6336 1293l17-1-20-18-17 1z"/><path fill="#dd3" d="M6319 1294l17-1-20-18-17 1z"/><path fill="#dd3" d="M6301 1296l18-2-20-18-17 2z"/><path fill="#dd3" d="M6284 1298l17-2-19-18-18 2z"/><path fill="#dd3" d="M6267 1301l17-3-20-18-17 3z"/><path fill="#dd3" d="M6249 1305l18-4-20-18-18 4z"/><path fill="#dd3" d="M6232 1309l17-4-20-18-17 4z"/><path fill="#dd3" d="M6214 1314l18-5-20-18-18 5z"/><path fill="#dd3" d="M6196 1319l18-5-20-18-18 6z"/><path fill="#dd3" d="M6178 1325l18-6-20-17-18 6z"/><path fill="#dd3" d="M6160 1332l18-7-20-17-18 7z"/><path fill="#dd3" d="M6141 1340l19-8-20-17-19 8z"/><path fill="#dd3" d="M6122 1349l19-9-20-17-19 8z"/><path fill="#dd3" d="M6103 1358l19-9-20-18-19 10z"/><path fill="#ce3" d="M6083 1368l20-10-20-17-19 10z"/><path fill="#ce3" d="M6064 1380l19-12-19-17-20 11z"/><path fill="#ce3" d="M6044 1392l20-12-20-18-20 12z"/><path fill="#ce3" d="M6023 1405l21-13-20-18-21 14z"/><path fill="#be3" d="M6002 1420l21-15-20-17-21 14z"/><path fill="#be3" d="M5981 1435l21-15-20-18-21 16z"/><path fill="#bf3" d="M5959 1452l22-17-20-17-22 16z"/><path fill="#af3" d="M5937 1470l22-18-20-18-22 18z"/><path fill="#af3" d="M5915 1489l22-19-20-18-22 20z"/><path fill="#9f4" d="M5892 1510l23-21-20-17-23 20z"/><path fill="#9f4" d="M5869 1532l23-22-20-18-23 22z"/><path fill="#8f5" d="M5845 1555l24-23-20-18-24 23z"/><path fill="#7f5" d="M5822 1579l23-24-20-18-23 25z"/><path fill="#6f6" d="M5798 1605l24-26-20-17-24 26z"/><path fill="#5f7" d="M5774 1632l24-27-20-17-24 27z"/><path fill="#4f8" d="M5751 1660l23-28-20-17-23 27z"/><path fill="#3e9" d="M5727 1689l24-29-20-18-24 30z"/><path fill="#2ea" d="M5703 1719l24-30-20-17-24 30z"/><path fill="#2db" d="M5679 1750l24-31-20-17-23 31z"/><path fill="#1dc" d="M5656 1783l23-33-19-17-24 32z"/><path fill="#2cd" d="M5632 1816l24-33-20-18-24 34z"/><path fill="#2bd" d="M5608 1851l24-35-20-17-23 34z"/><path fill="#3ae" d="M5585 1886l23-35-19-18-24 36z"/><path fill="#39f" d="M5561 1923l24-37-20-17-24 37z"/><path fill="#48f" d="M5537 1961l24-38-20-17-23 38z"/><path fill="#47e" d="M5514 2000l23-39-19-17-24 38z"/><path fill="#46d" d="M5490 2040l24-40-20-18-24 41z"/><path fill="#45b" d="M5466 2081l24-41-20-17-24 41z"/><path fill="#449" d="M5443 2123l23-42-20-17-23 42z"/><path fill="#326" d="M5419 2167l24-44-20-17-24 43z"/><path fill="#48f" d="M6941 1616l18 19-20-17-17-20z"/><path fill="#49f" d="M6924 1598l17 18-19-18-18-18z"/><path fill="#39f" d="M6907 1580l17 18-20-18-17-18z"/><path fill="#3af" d="M6890 1562l17 18-20-18-17-18z"/><path fill="#2be" d="M6873 1545l17 17-20-18-17-17z"/><path fill="#2cd" d="M6855 1529l18 16-20-18-18-16z"/><path fill="#2cd" d="M6838 1513l17 16-20-18-17-16z"/><path fill="#1dc" d="M6821 1498l17 15-20-18-17-15z"/><path fill="#1db" d="M6804 1484l17 14-20-18-17-14z"/><path fill="#2db" d="M6786 1470l18 14-20-18-17-14z"/><path fill="#2ea" d="M6769 1456l17 14-19-18-18-14z"/><path fill="#2e9" d="M6752 1444l17 12-20-18-17-12z"/><path fill="#3e9" d="M6735 1431l17 13-20-18-17-13z"/><path fill="#4e8" d="M6717 1420l18 11-20-18-17-11z"/><path fill="#5f7" d="M6700 1409l17 11-19-18-18-11z"/><path fill="#5f7" d="M6683 1398l17 11-20-18-17-11z"/><path fill="#6f6" d="M6666 1388l17 10-20-18-17-9z"/><path fill="#7f5" d="M6649 1379l17 9-20-17-17-10z"/><path fill="#8f5" d="M6631 1370l18 9-20-18-17-8z"/><path fill="#8f5" d="M6614 1362l17 8-19-17-18-9z"/><path fill="#9f4" d="M6597 1355l17 7-20-18-17-7z"/><path fill="#9f4" d="M6580 1348l17 7-20-18-17-7z"/><path fill="#9f4" d="M6562 1341l18 7-20-18-17-6z"/><path fill="#af3" d="M6545 1336l17 5-19-17-18-6z"/><path fill="#af3" d="M6528 1330l17 6-20-18-17-5z"/><path fill="#bf3" d="M6511 1326l17 4-20-17-17-5z"/><path fill="#be3" d="M6493 1322l18 4-20-18-17-4z"/><path fill="#be3" d="M6476 1318l17 4-19-18-18-4z"/><path fill="#be3" d="M6459 1315l17 3-20-18-17-2z"/><path fill="#ce3" d="M6442 1313l17 2-20-17-17-3z"/><path fill="#ce3" d="M6425 1311l17 2-20-18-17-1z"/><path fill="#ce3" d="M6407 1310l18 1-20-17-17-2z"/><path fill="#ce3" d="M6390 1310l17 0-19-18-18 0z"/><path fill="#ce3" d="M6373 1310l17 0-20-18-17 0z"/><path fill="#ce3" d="M6356 1310l17 0-20-18-17 1z"/><path fill="#ce3" d="M6338 1311l18-1-20-17-17 1z"/><path fill="#dd3" d="M6321 1313l17-2-19-17-18 2z"/><path fill="#dd3" d="M6304 1316l17-3-20-17-17 2z"/><path fill="#dd3" d="M6287 1319l17-3-20-18-17 3z"/><path fill="#dd3" d="M6269 1322l18-3-20-18-18 4z"/><path fill="#dd3" d="M6251 1326l18-4-20-17-17 4z"/><path fill="#dd3" d="M6234 1331l17-5-19-17-18 5z"/><path fill="#dd3" d="M6216 1337l18-6-20-17-18 5z"/><path fill="#dd3" d="M6198 1343l18-6-20-18-18 6z"/><path fill="#dd3" d="M6179 1350l19-7-20-18-18 7z"/><path fill="#ce3" d="M6161 1358l18-8-19-18-19 8z"/><path fill="#ce3" d="M6142 1366l19-8-20-18-19 9z"/><path fill="#ce3" d="M6123 1376l19-10-20-17-19 9z"/><path fill="#ce3" d="M6103 1386l20-10-20-18-20 10z"/><path fill="#ce3" d="M6083 1397l20-11-20-18-19 12z"/><path fill="#ce3" d="M6063 1410l20-13-19-17-20 12z"/><path fill="#be3" d="M6043 1423l20-13-19-18-21 13z"/><path fill="#be3" d="M6022 1437l21-14-20-18-21 15z"/><path fill="#be3" d="M6001 1453l21-16-20-17-21 15z"/><path fill="#af3" d="M5979 1469l22-16-20-18-22 17z"/><path fill="#af3" d="M5957 1487l22-18-20-17-22 18z"/><path fill="#9f4" d="M5934 1507l23-20-20-17-22 19z"/><path fill="#9f4" d="M5911 1527l23-20-19-18-23 21z"/><path fill="#8f4" d="M5888 1549l23-22-19-17-23 22z"/><path fill="#8f5" d="M5865 1572l23-23-19-17-24 23z"/><path fill="#7f6" d="M5841 1597l24-25-20-17-23 24z"/><path fill="#5f7" d="M5818 1623l23-26-19-18-24 26z"/><path fill="#5f7" d="M5794 1650l24-27-20-18-24 27z"/><path fill="#4e8" d="M5770 1677l24-27-20-18-23 28z"/><path fill="#3e9" d="M5747 1706l23-29-19-17-24 29z"/><path fill="#2ea" d="M5723 1737l24-31-20-17-24 30z"/><path fill="#1db" d="M5699 1768l24-31-20-18-24 31z"/><path fill="#1dc" d="M5676 1800l23-32-20-18-23 33z"/><path fill="#2cd" d="M5652 1834l24-34-20-17-24 33z"/><path fill="#2be" d="M5628 1868l24-34-20-18-24 35z"/><path fill="#3af" d="M5604 1904l24-36-20-17-23 35z"/><path fill="#49f" d="M5581 1940l23-36-19-18-24 37z"/><path fill="#48f" d="M5557 1978l24-38-20-17-24 38z"/><path fill="#47e" d="M5533 2017l24-39-20-17-23 39z"/><path fill="#46d" d="M5510 2057l23-40-19-17-24 40z"/><path fill="#45b" d="M5486 2098l24-41-20-17-24 41z"/><path fill="#439" d="M5462 2141l24-43-20-17-23 42z"/><path fill="#326" d="M5439 2184l23-43-19-18-24 44z"/><path fill="#48f" d="M6961 1634l17 19-19-18-18-19z"/><path fill="#48f" d="M6944 1616l17 18-20-18-17-18z"/><path fill="#49f" d="M6927 1598l17 18-20-18-17-18z"/><path fill="#3af" d="M6910 1580l17 18-20-18-17-18z"/><path fill="#3be" d="M6892 1563l18 17-20-18-17-17z"/><path fill="#2be" d="M6875 1547l17 16-19-18-18-16z"/><path fill="#2cd" d="M6858 1531l17 16-20-18-17-16z"/><path fill="#2cc" d="M6841 1516l17 15-20-18-17-15z"/><path fill="#1dc" d="M6823 1502l18 14-20-18-17-14z"/><path fill="#1db" d="M6806 1488l17 14-19-18-18-14z"/><path fill="#2ea" d="M6789 1474l17 14-20-18-17-14z"/><path fill="#2ea" d="M6772 1461l17 13-20-18-17-12z"/><path fill="#3e9" d="M6754 1449l18 12-20-17-17-13z"/><path fill="#3e9" d="M6737 1438l17 11-19-18-18-11z"/><path fill="#4f8" d="M6720 1427l17 11-20-18-17-11z"/><path fill="#5f7" d="M6703 1416l17 11-20-18-17-11z"/><path fill="#6f6" d="M6686 1406l17 10-20-18-17-10z"/><path fill="#6f6" d="M6668 1397l18 9-20-18-17-9z"/><path fill="#7f5" d="M6651 1388l17 9-19-18-18-9z"/><path fill="#8f5" d="M6634 1380l17 8-20-18-17-8z"/><path fill="#8f4" d="M6617 1373l17 7-20-18-17-7z"/><path fill="#9f4" d="M6599 1366l18 7-20-18-17-7z"/><path fill="#9f4" d="M6582 1359l17 7-19-18-18-7z"/><path fill="#af4" d="M6565 1353l17 6-20-18-17-5z"/><path fill="#af3" d="M6548 1348l17 5-20-17-17-6z"/><path fill="#af3" d="M6530 1343l18 5-20-18-17-4z"/><path fill="#bf3" d="M6513 1339l17 4-19-17-18-4z"/><path fill="#be3" d="M6496 1336l17 3-20-17-17-4z"/><path fill="#be3" d="M6479 1333l17 3-20-18-17-3z"/><path fill="#be3" d="M6462 1331l17 2-20-18-17-2z"/><path fill="#be3" d="M6444 1329l18 2-20-18-17-2z"/><path fill="#ce3" d="M6427 1328l17 1-19-18-18-1z"/><path fill="#ce3" d="M6410 1327l17 1-20-18-17 0z"/><path fill="#ce3" d="M6393 1327l17 0-20-17-17 0z"/><path fill="#ce3" d="M6375 1328l18-1-20-17-17 0z"/><path fill="#ce3" d="M6358 1329l17-1-19-18-18 1z"/><path fill="#ce3" d="M6341 1331l17-2-20-18-17 2z"/><path fill="#ce3" d="M6324 1333l17-2-20-18-17 3z"/><path fill="#ce3" d="M6306 1336l18-3-20-17-17 3z"/><path fill="#ce3" d="M6289 1340l17-4-19-17-18 3z"/><path fill="#ce3" d="M6271 1344l18-4-20-18-18 4z"/><path fill="#ce3" d="M6253 1349l18-5-20-18-17 5z"/><path fill="#ce3" d="M6236 1355l17-6-19-18-18 6z"/><path fill="#ce3" d="M6217 1361l19-6-20-18-18 6z"/><path fill="#ce3" d="M6199 1368l18-7-19-18-19 7z"/><path fill="#ce3" d="M6181 1375l18-7-20-18-18 8z"/><path fill="#ce3" d="M6162 1384l19-9-20-17-19 8z"/><path fill="#ce3" d="M6143 1393l19-9-20-18-19 10z"/><path fill="#ce3" d="M6123 1404l20-11-20-17-20 10z"/><path fill="#ce3" d="M6103 1415l20-11-20-18-20 11z"/><path fill="#be3" d="M6083 1427l20-12-20-18-20 13z"/><path fill="#be3" d="M6063 1440l20-13-20-17-20 13z"/><path fill="#be3" d="M6042 1455l21-15-20-17-21 14z"/><path fill="#bf3" d="M6020 1470l22-15-20-18-21 16z"/><path fill="#af3" d="M5999 1487l21-17-19-17-22 16z"/><path fill="#af3" d="M5977 1505l22-18-20-18-22 18z"/><path fill="#9f4" d="M5954 1524l23-19-20-18-23 20z"/><path fill="#9f4" d="M5931 1545l23-21-20-17-23 20z"/><path fill="#8f5" d="M5908 1567l23-22-20-18-23 22z"/><path fill="#7f5" d="M5885 1590l23-23-20-18-23 23z"/><path fill="#6f6" d="M5861 1614l24-24-20-18-24 25z"/><path fill="#5f7" d="M5837 1640l24-26-20-17-23 26z"/><path fill="#4f8" d="M5814 1667l23-27-19-17-24 27z"/><path fill="#3e9" d="M5790 1695l24-28-20-17-24 27z"/><path fill="#2ea" d="M5766 1724l24-29-20-18-23 29z"/><path fill="#2ea" d="M5743 1754l23-30-19-18-24 31z"/><path fill="#1db" d="M5719 1785l24-31-20-17-24 31z"/><path fill="#2cc" d="M5695 1818l24-33-20-17-23 32z"/><path fill="#2cd" d="M5672 1851l23-33-19-18-24 34z"/><path fill="#2be" d="M5648 1886l24-35-20-17-24 34z"/><path fill="#3af" d="M5624 1921l24-35-20-18-24 36z"/><path fill="#49f" d="M5601 1958l23-37-20-17-23 36z"/><path fill="#48f" d="M5577 1996l24-38-20-18-24 38z"/><path fill="#47e" d="M5553 2035l24-39-20-18-24 39z"/><path fill="#46c" d="M5530 2075l23-40-20-18-23 40z"/><path fill="#44b" d="M5506 2116l24-41-20-18-24 41z"/><path fill="#438" d="M5482 2158l24-42-20-18-24 43z"/><path fill="#325" d="M5458 2201l24-43-20-17-23 43z"/><path fill="#47e" d="M6981 1652l17 19-20-18-17-19z"/><path fill="#48f" d="M6964 1634l17 18-20-18-17-18z"/><path fill="#49f" d="M6947 1616l17 18-20-18-17-18z"/><path fill="#3af" d="M6929 1598l18 18-20-18-17-18z"/><path fill="#3ae" d="M6912 1581l17 17-19-18-18-17z"/><path fill="#2be" d="M6895 1565l17 16-20-18-17-16z"/><path fill="#2cd" d="M6878 1549l17 16-20-18-17-16z"/><path fill="#2cd" d="M6860 1534l18 15-20-18-17-15z"/><path fill="#1dc" d="M6843 1519l17 15-19-18-18-14z"/><path fill="#1db" d="M6826 1505l17 14-20-17-17-14z"/><path fill="#2db" d="M6809 1492l17 13-20-17-17-14z"/><path fill="#2ea" d="M6791 1479l18 13-20-18-17-13z"/><path fill="#2e9" d="M6774 1467l17 12-19-18-18-12z"/><path fill="#3e9" d="M6757 1455l17 12-20-18-17-11z"/><path fill="#4e8" d="M6740 1444l17 11-20-17-17-11z"/><path fill="#4f8" d="M6723 1434l17 10-20-17-17-11z"/><path fill="#5f7" d="M6705 1424l18 10-20-18-17-10z"/><path fill="#6f6" d="M6688 1415l17 9-19-18-18-9z"/><path fill="#7f6" d="M6671 1406l17 9-20-18-17-9z"/><path fill="#7f5" d="M6654 1398l17 8-20-18-17-8z"/><path fill="#8f5" d="M6636 1390l18 8-20-18-17-7z"/><path fill="#8f4" d="M6619 1383l17 7-19-17-18-7z"/><path fill="#9f4" d="M6602 1377l17 6-20-17-17-7z"/><path fill="#9f4" d="M6585 1371l17 6-20-18-17-6z"/><path fill="#af4" d="M6568 1366l17 5-20-18-17-5z"/><path fill="#af3" d="M6550 1361l18 5-20-18-18-5z"/><path fill="#af3" d="M6533 1357l17 4-20-18-17-4z"/><path fill="#bf3" d="M6516 1354l17 3-20-18-17-3z"/><path fill="#bf3" d="M6499 1351l17 3-20-18-17-3z"/><path fill="#be3" d="M6481 1349l18 2-20-18-17-2z"/><path fill="#be3" d="M6464 1347l17 2-19-18-18-2z"/><path fill="#be3" d="M6447 1346l17 1-20-18-17-1z"/><path fill="#ce3" d="M6430 1345l17 1-20-18-17-1z"/><path fill="#ce3" d="M6412 1345l18 0-20-18-17 0z"/><path fill="#ce3" d="M6395 1346l17-1-19-18-18 1z"/><path fill="#ce3" d="M6378 1347l17-1-20-18-17 1z"/><path fill="#ce3" d="M6361 1349l17-2-20-18-17 2z"/><path fill="#ce3" d="M6343 1351l18-2-20-18-17 2z"/><path fill="#ce3" d="M6326 1354l17-3-19-18-18 3z"/><path fill="#ce3" d="M6309 1358l17-4-20-18-17 4z"/><path fill="#ce3" d="M6291 1362l18-4-20-18-18 4z"/><path fill="#ce3" d="M6273 1367l18-5-20-18-18 5z"/><path fill="#ce3" d="M6255 1372l18-5-20-18-17 6z"/><path fill="#ce3" d="M6237 1378l18-6-19-17-19 6z"/><path fill="#ce3" d="M6219 1385l18-7-20-17-18 7z"/><path fill="#ce3" d="M6200 1393l19-8-20-17-18 7z"/><path fill="#ce3" d="M6181 1402l19-9-19-18-19 9z"/><path fill="#ce3" d="M6162 1411l19-9-19-18-19 9z"/><path fill="#ce3" d="M6143 1421l19-10-19-18-20 11z"/><path fill="#be3" d="M6123 1433l20-12-20-17-20 11z"/><path fill="#be3" d="M6103 1445l20-12-20-18-20 12z"/><path fill="#be3" d="M6082 1458l21-13-20-18-20 13z"/><path fill="#bf3" d="M6061 1472l21-14-19-18-21 15z"/><path fill="#af3" d="M6040 1488l21-16-19-17-22 15z"/><path fill="#af3" d="M6018 1505l22-17-20-18-21 17z"/><path fill="#9f4" d="M5996 1523l22-18-19-18-22 18z"/><path fill="#9f4" d="M5974 1542l22-19-19-18-23 19z"/><path fill="#8f4" d="M5951 1562l23-20-20-18-23 21z"/><path fill="#8f5" d="M5928 1584l23-22-20-17-23 22z"/><path fill="#7f6" d="M5904 1608l24-24-20-17-23 23z"/><path fill="#6f6" d="M5881 1632l23-24-19-18-24 24z"/><path fill="#5f7" d="M5857 1658l24-26-20-18-24 26z"/><path fill="#4e8" d="M5834 1684l23-26-20-18-23 27z"/><path fill="#3e9" d="M5810 1712l24-28-20-17-24 28z"/><path fill="#2ea" d="M5786 1741l24-29-20-17-24 29z"/><path fill="#2db" d="M5762 1771l24-30-20-17-23 30z"/><path fill="#1dc" d="M5739 1803l23-32-19-17-24 31z"/><path fill="#2cd" d="M5715 1835l24-32-20-18-24 33z"/><path fill="#2bd" d="M5691 1868l24-33-20-17-23 33z"/><path fill="#3be" d="M5668 1903l23-35-19-17-24 35z"/><path fill="#3af" d="M5644 1939l24-36-20-17-24 35z"/><path fill="#49f" d="M5620 1975l24-36-20-18-23 37z"/><path fill="#48e" d="M5597 2013l23-38-19-17-24 38z"/><path fill="#46e" d="M5573 2052l24-39-20-17-24 39z"/><path fill="#45c" d="M5549 2092l24-40-20-17-23 40z"/><path fill="#44a" d="M5526 2133l23-41-19-17-24 41z"/><path fill="#338" d="M5502 2175l24-42-20-17-24 42z"/><path fill="#314" d="M5478 2219l24-44-20-17-24 43z"/><path fill="#47e" d="M7001 1670l17 19-20-18-17-19z"/><path fill="#48f" d="M6984 1652l17 18-20-18-17-18z"/><path fill="#49f" d="M6966 1633l18 19-20-18-17-18z"/><path fill="#49f" d="M6949 1616l17 17-19-17-18-18z"/><path fill="#3af" d="M6932 1599l17 17-20-18-17-17z"/><path fill="#3be" d="M6915 1583l17 16-20-18-17-16z"/><path fill="#2be" d="M6897 1567l18 16-20-18-17-16z"/><path fill="#2cd" d="M6880 1552l17 15-19-18-18-15z"/><path fill="#2cc" d="M6863 1537l17 15-20-18-17-15z"/><path fill="#1dc" d="M6846 1523l17 14-20-18-17-14z"/><path fill="#1db" d="M6828 1510l18 13-20-18-17-13z"/><path fill="#2ea" d="M6811 1497l17 13-19-18-18-13z"/><path fill="#2ea" d="M6794 1485l17 12-20-18-17-12z"/><path fill="#3e9" d="M6777 1473l17 12-20-18-17-12z"/><path fill="#3e9" d="M6760 1462l17 11-20-18-17-11z"/><path fill="#4f8" d="M6742 1452l18 10-20-18-17-10z"/><path fill="#5f7" d="M6725 1442l17 10-19-18-18-10z"/><path fill="#5f7" d="M6708 1433l17 9-20-18-17-9z"/><path fill="#6f6" d="M6691 1424l17 9-20-18-17-9z"/><path fill="#7f5" d="M6673 1416l18 8-20-18-17-8z"/><path fill="#7f5" d="M6656 1408l17 8-19-18-18-8z"/><path fill="#8f5" d="M6639 1401l17 7-20-18-17-7z"/><path fill="#8f4" d="M6622 1395l17 6-20-18-17-6z"/><path fill="#9f4" d="M6605 1389l17 6-20-18-17-6z"/><path fill="#9f4" d="M6587 1384l18 5-20-18-17-5z"/><path fill="#af4" d="M6570 1379l17 5-19-18-18-5z"/><path fill="#af3" d="M6553 1375l17 4-20-18-17-4z"/><path fill="#af3" d="M6536 1371l17 4-20-18-17-3z"/><path fill="#af3" d="M6518 1369l18 2-20-17-17-3z"/><path fill="#bf3" d="M6501 1366l17 3-19-18-18-2z"/><path fill="#be3" d="M6484 1365l17 1-20-17-17-2z"/><path fill="#be3" d="M6467 1363l17 2-20-18-17-1z"/><path fill="#be3" d="M6449 1363l18 0-20-17-17-1z"/><path fill="#be3" d="M6432 1363l17 0-19-18-18 0z"/><path fill="#ce3" d="M6415 1363l17 0-20-18-17 1z"/><path fill="#ce3" d="M6398 1365l17-2-20-17-17 1z"/><path fill="#ce3" d="M6381 1366l17-1-20-18-17 2z"/><path fill="#ce3" d="M6363 1369l18-3-20-17-18 2z"/><path fill="#ce3" d="M6346 1372l17-3-20-18-17 3z"/><path fill="#ce3" d="M6328 1375l18-3-20-18-17 4z"/><path fill="#ce3" d="M6311 1379l17-4-19-17-18 4z"/><path fill="#ce3" d="M6293 1384l18-5-20-17-18 5z"/><path fill="#ce3" d="M6275 1390l18-6-20-17-18 5z"/><path fill="#ce3" d="M6257 1396l18-6-20-18-18 6z"/><path fill="#ce3" d="M6239 1403l18-7-20-18-18 7z"/><path fill="#ce3" d="M6220 1411l19-8-20-18-19 8z"/><path fill="#ce3" d="M6201 1419l19-8-20-18-19 9z"/><path fill="#be3" d="M6182 1429l19-10-20-17-19 9z"/><path fill="#be3" d="M6163 1439l19-10-20-18-19 10z"/><path fill="#be3" d="M6143 1450l20-11-20-18-20 12z"/><path fill="#be3" d="M6123 1462l20-12-20-17-20 12z"/><path fill="#bf3" d="M6102 1476l21-14-20-17-21 13z"/><path fill="#af3" d="M6081 1490l21-14-20-18-21 14z"/><path fill="#af3" d="M6060 1505l21-15-20-18-21 16z"/><path fill="#9f4" d="M6038 1522l22-17-20-17-22 17z"/><path fill="#9f4" d="M6016 1540l22-18-20-17-22 18z"/><path fill="#9f4" d="M5994 1559l22-19-20-17-22 19z"/><path fill="#8f5" d="M5971 1580l23-21-20-17-23 20z"/><path fill="#7f5" d="M5948 1602l23-22-20-18-23 22z"/><path fill="#6f6" d="M5924 1625l24-23-20-18-24 24z"/><path fill="#5f7" d="M5901 1649l23-24-20-17-23 24z"/><path fill="#4f8" d="M5877 1675l24-26-20-17-24 26z"/><path fill="#3e9" d="M5853 1702l24-27-20-17-23 26z"/><path fill="#2e9" d="M5830 1730l23-28-19-18-24 28z"/><path fill="#2ea" d="M5806 1759l24-29-20-18-24 29z"/><path fill="#1db" d="M5782 1789l24-30-20-18-24 30z"/><path fill="#1dc" d="M5759 1820l23-31-20-18-23 32z"/><path fill="#2cd" d="M5735 1852l24-32-20-17-24 32z"/><path fill="#2be" d="M5711 1886l24-34-20-17-24 33z"/><path fill="#3ae" d="M5688 1920l23-34-20-18-23 35z"/><path fill="#49f" d="M5664 1956l24-36-20-17-24 36z"/><path fill="#48f" d="M5640 1993l24-37-20-17-24 36z"/><path fill="#47e" d="M5616 2030l24-37-20-18-23 38z"/><path fill="#46d" d="M5593 2069l23-39-19-17-24 39z"/><path fill="#45c" d="M5569 2109l24-40-20-17-24 40z"/><path fill="#44a" d="M5545 2150l24-41-20-17-23 41z"/><path fill="#327" d="M5522 2193l23-43-19-17-24 42z"/><path fill="#313" d="M5498 2236l24-43-20-18-24 44z"/></g>
<text class="t" x="44.4" y="185.8" text-anchor="middle">12</text>
<text class="t" x="68.3" y="198.5" text-anchor="middle">11.5</text>
<text class="t" x="102.2" y="211.9" text-anchor="middle">11</text>
<text class="t" x="127" y="225.5" text-anchor="middle">10.5</text>
<text class="t" x="161" y="238.2" text-anchor="middle">10</text>
<text class="t" x="189.5" y="239.3" text-anchor="middle">30</text>
<text class="t" x="227.1" y="229.8" text-anchor="middle">40</text>
<text class="t" x="265.2" y="219.7" text-anchor="middle">50</text>
<text class="t" x="304" y="208.5" text-anchor="middle">60</text>
<text class="t" x="342.4" y="198.4" text-anchor="middle">70</text>
<text class="t" x="50.5" y="156.3" text-anchor="end">2.6</text>
<text class="t" x="50.5" y="132.3" text-anchor="end">2.8</text>
<text class="t" x="50.5" y="108.3" text-anchor="end">3</text>
<text class="t" x="50.5" y="84.3" text-anchor="end">3.2</text>
<text class="t" x="50.5" y="60.3" text-anchor="end">3.4</text>
<text class="l" x="88.9" y="233.7" text-anchor="middle" transform="rotate(24 88.9 229.4)">pH</text>
<text class="l" x="273.2" y="240.5" text-anchor="middle" transform="rotate(-15 273.2 236.2)">C (% v/v)</text>
<text class="l" transform="translate(20.2 122.9) rotate(-90)"><tspan font-size="15.5" stroke="#111" stroke-width=".5">I</tspan><tspan font-size="10.5" dy="1">max</tspan></text>
<text class="p" x="6.5" y="27.5" text-anchor="start">(a)</text>
<text class="t" x="436" y="193.8" text-anchor="middle">50</text>
<text class="t" x="475.7" y="212.2" text-anchor="middle">40</text>
<text class="t" x="515.4" y="230.3" text-anchor="middle">30</text>
<text class="t" x="562.6" y="239.3" text-anchor="middle">30</text>
<text class="t" x="600.7" y="229.2" text-anchor="middle">40</text>
<text class="t" x="638.8" y="219" text-anchor="middle">50</text>
<text class="t" x="677.5" y="208.5" text-anchor="middle">60</text>
<text class="t" x="716.5" y="198.4" text-anchor="middle">70</text>
<text class="t" x="423.5" y="171" text-anchor="end">2.85</text>
<text class="t" x="423.5" y="142.6" text-anchor="end">3</text>
<text class="t" x="423.5" y="114.3" text-anchor="end">3.15</text>
<text class="t" x="423.5" y="85.9" text-anchor="end">3.3</text>
<text class="l" x="466.3" y="230.7" text-anchor="middle" transform="rotate(28 466.3 226.4)">T (°C)</text>
<text class="l" x="648.3" y="239.9" text-anchor="middle" transform="rotate(-15 648.3 235.6)">C (% v/v)</text>
<text class="l" transform="translate(393.3 116.2) rotate(-90)"><tspan font-size="15.5" stroke="#111" stroke-width=".5">I</tspan><tspan font-size="10.5" dy="1.3">max</tspan></text>
<text class="p" x="385.5" y="27.5" text-anchor="start">(b)</text>
<defs><linearGradient id="tb" x1="0" x2="1" y1="0" y2="0"><stop offset="0.0000" stop-color="#30123b"/><stop offset="0.0312" stop-color="#392a73"/><stop offset="0.0625" stop-color="#4040a2"/><stop offset="0.0938" stop-color="#4456c7"/><stop offset="0.1250" stop-color="#466be3"/><stop offset="0.1562" stop-color="#4680f6"/><stop offset="0.1875" stop-color="#4294ff"/><stop offset="0.2188" stop-color="#37a8fa"/><stop offset="0.2500" stop-color="#28bceb"/><stop offset="0.2812" stop-color="#1ccdd8"/><stop offset="0.3125" stop-color="#18ddc2"/><stop offset="0.3438" stop-color="#1fe9af"/><stop offset="0.3750" stop-color="#32f298"/><stop offset="0.4062" stop-color="#4ef97d"/><stop offset="0.4375" stop-color="#6dfe62"/><stop offset="0.4688" stop-color="#8bff4b"/><stop offset="0.5000" stop-color="#a4fc3c"/><stop offset="0.5312" stop-color="#b9f635"/><stop offset="0.5625" stop-color="#cdec34"/><stop offset="0.5938" stop-color="#dfdf37"/><stop offset="0.6250" stop-color="#eecf3a"/><stop offset="0.6562" stop-color="#f8be39"/><stop offset="0.6875" stop-color="#fdac34"/><stop offset="0.7188" stop-color="#fe962b"/><stop offset="0.7500" stop-color="#fb7e21"/><stop offset="0.7812" stop-color="#f46617"/><stop offset="0.8125" stop-color="#eb500e"/><stop offset="0.8438" stop-color="#df3f08"/><stop offset="0.8750" stop-color="#d02f05"/><stop offset="0.9062" stop-color="#be2102"/><stop offset="0.9375" stop-color="#a91601"/><stop offset="0.9688" stop-color="#920b01"/><stop offset="1.0000" stop-color="#7a0403"/></linearGradient></defs>
<rect x="215.6" y="268.5" width="315.7" height="15.5" fill="url(#tb)" stroke="#555" stroke-width=".6"/>
<text class="t" x="260.4" y="300.7" text-anchor="middle">2.6</text>
<text class="t" x="325.3" y="300.7" text-anchor="middle">2.8</text>
<text class="t" x="390.2" y="300.7" text-anchor="middle">3</text>
<text class="t" x="455.1" y="300.7" text-anchor="middle">3.2</text>
<text class="t" x="519.9" y="300.7" text-anchor="middle">3.4</text>
<path class="ax" d="M260.4 284v-3M325.3 284v-3M390.2 284v-3M455.1 284v-3M519.9 284v-3"/>
</svg>
</body></html>
